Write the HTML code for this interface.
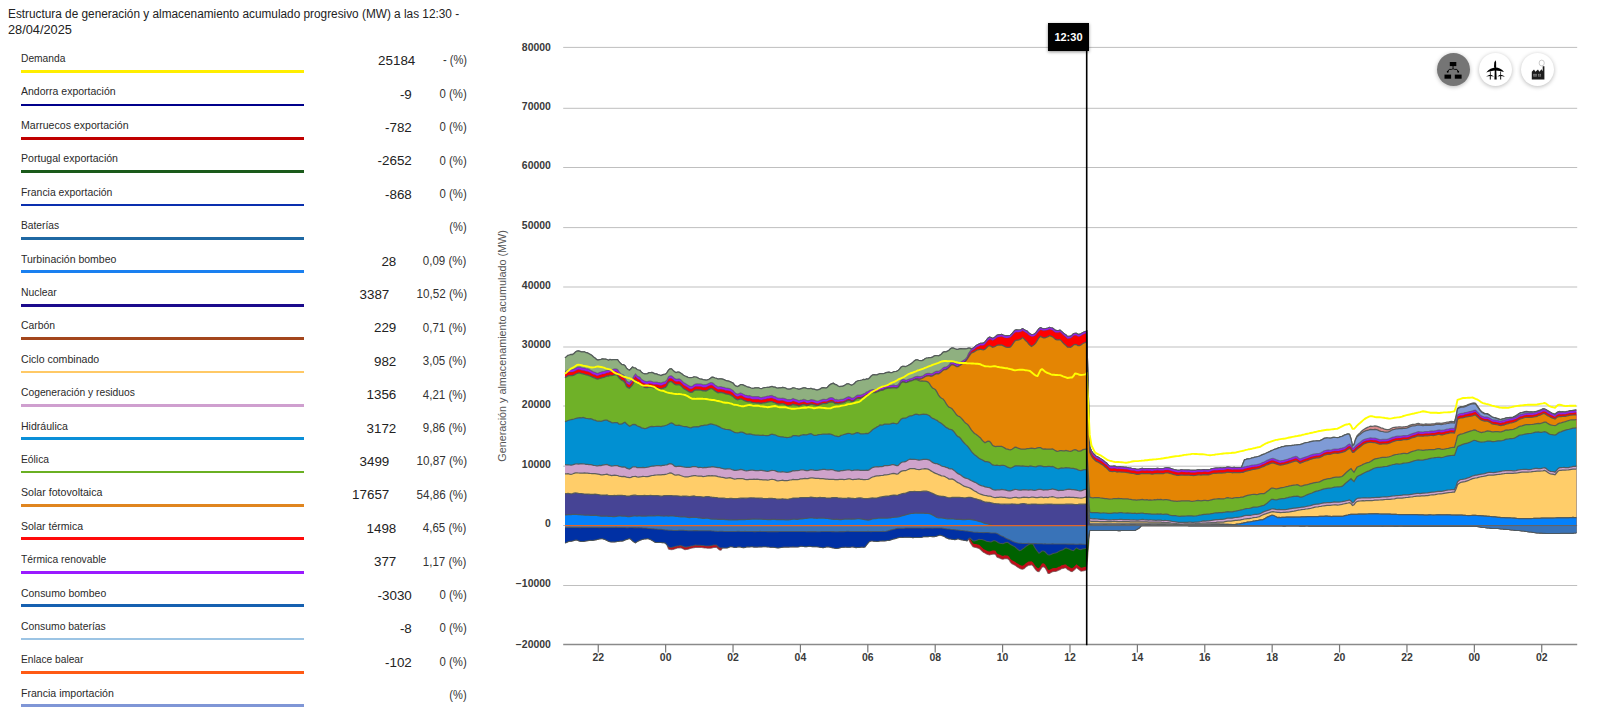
<!DOCTYPE html>
<html lang="es"><head><meta charset="utf-8"><title>Estructura de generación</title>
<style>
html,body{margin:0;padding:0;background:#fff}
body{width:1600px;height:713px;position:relative;overflow:hidden;font-family:"Liberation Sans",sans-serif;color:#222}
.ttl{position:absolute;left:9px;top:5.5px;font-size:12px;line-height:16.8px;color:#222;white-space:nowrap;transform-origin:0 0;transform:scaleX(.955)}
.lb{position:absolute;left:20.6px;font-size:10.6px;line-height:13px;color:#2a2a2a;white-space:nowrap;transform-origin:0 0;transform:scaleX(.945)}
.ul{position:absolute;left:20.6px;width:283.8px;height:2.8px}
.vl{position:absolute;font-size:13.4px;line-height:15px;color:#222;white-space:nowrap}
.pc{position:absolute;right:1133.4px;font-size:12px;line-height:14px;color:#333;white-space:nowrap;transform-origin:100% 0;transform:scaleX(.96)}
svg{position:absolute;left:0;top:0}
.ax{font-family:"Liberation Sans",sans-serif;font-size:10px;font-weight:bold;fill:#3a3a3a}
.yt{font-family:"Liberation Sans",sans-serif;font-size:10.6px;fill:#555}
.tip{position:absolute;left:1047.8px;top:23.2px;width:41.3px;height:27.4px;background:#000;color:#fff;font-weight:bold;font-size:11px;line-height:29px;text-align:center;box-shadow:0 1px 3px rgba(0,0,0,.45)}
.btn{position:absolute;top:52.8px;width:33.3px;height:33.3px;border-radius:50%;background:#fff;box-shadow:0 1px 4px rgba(0,0,0,.28)}
.btn.on{background:#757575}
</style></head><body>
<div class="ttl" style="left:8.3px;transform:scaleX(.9845)">Estructura de generación y almacenamiento acumulado progresivo (MW) a las 12:30 -</div>
<div class="ttl" style="left:8.4px;top:22.3px;transform:scaleX(1.064)">28/04/2025</div>
<div class="lb" style="top:52.0px;transform:scaleX(0.9666)">Demanda</div>
<div class="ul" style="top:70.2px;background:#ffee00"></div>
<div class="vl" style="top:53.1px;right:1184.7px">25184</div>
<div class="pc" style="top:53.4px;transform:scaleX(0.9272)">- (%)</div>
<div class="lb" style="top:85.4px;transform:scaleX(0.9916)">Andorra exportación</div>
<div class="ul" style="top:103.6px;background:#00008b"></div>
<div class="vl" style="top:86.5px;right:1188.2px">-9</div>
<div class="pc" style="top:86.8px;transform:scaleX(0.9487)">0 (%)</div>
<div class="lb" style="top:118.8px;transform:scaleX(0.9977)">Marruecos exportación</div>
<div class="ul" style="top:136.9px;background:#c00000"></div>
<div class="vl" style="top:119.9px;right:1188.2px">-782</div>
<div class="pc" style="top:120.2px;transform:scaleX(0.9487)">0 (%)</div>
<div class="lb" style="top:152.2px;transform:scaleX(0.9983)">Portugal exportación</div>
<div class="ul" style="top:170.3px;background:#1a5a1a"></div>
<div class="vl" style="top:153.3px;right:1188.2px">-2652</div>
<div class="pc" style="top:153.6px;transform:scaleX(0.9487)">0 (%)</div>
<div class="lb" style="top:185.6px;transform:scaleX(0.9813)">Francia exportación</div>
<div class="ul" style="top:203.7px;background:#0a2fae"></div>
<div class="vl" style="top:186.7px;right:1188.2px">-868</div>
<div class="pc" style="top:187.0px;transform:scaleX(0.9487)">0 (%)</div>
<div class="lb" style="top:219.0px;transform:scaleX(0.9657)">Baterías</div>
<div class="ul" style="top:237.1px;background:#1f68a3"></div>
<div class="pc" style="top:220.4px;transform:scaleX(0.9270)">(%)</div>
<div class="lb" style="top:252.5px;transform:scaleX(0.9918)">Turbinación bombeo</div>
<div class="ul" style="top:270.4px;background:#1a80f0"></div>
<div class="vl" style="top:253.6px;right:1203.7px">28</div>
<div class="pc" style="top:253.9px;transform:scaleX(0.9592)">0,09 (%)</div>
<div class="lb" style="top:285.9px;transform:scaleX(0.9807)">Nuclear</div>
<div class="ul" style="top:303.8px;background:#1b0a8c"></div>
<div class="vl" style="top:287.0px;right:1210.7px">3387</div>
<div class="pc" style="top:287.3px;transform:scaleX(0.9707)">10,52 (%)</div>
<div class="lb" style="top:319.3px;transform:scaleX(0.9814)">Carbón</div>
<div class="ul" style="top:337.2px;background:#a3461c"></div>
<div class="vl" style="top:320.4px;right:1203.7px">229</div>
<div class="pc" style="top:320.7px;transform:scaleX(0.9592)">0,71 (%)</div>
<div class="lb" style="top:352.7px;transform:scaleX(0.9985)">Ciclo combinado</div>
<div class="ul" style="top:370.5px;background:#ffc966"></div>
<div class="vl" style="top:353.8px;right:1203.7px">982</div>
<div class="pc" style="top:354.1px;transform:scaleX(0.9592)">3,05 (%)</div>
<div class="lb" style="top:386.1px;transform:scaleX(0.9719)">Cogeneración y residuos</div>
<div class="ul" style="top:403.9px;background:#cf9fcf"></div>
<div class="vl" style="top:387.2px;right:1203.7px">1356</div>
<div class="pc" style="top:387.5px;transform:scaleX(0.9592)">4,21 (%)</div>
<div class="lb" style="top:419.5px;transform:scaleX(0.9957)">Hidráulica</div>
<div class="ul" style="top:437.3px;background:#0a8fd8"></div>
<div class="vl" style="top:420.6px;right:1203.7px">3172</div>
<div class="pc" style="top:420.9px;transform:scaleX(0.9592)">9,86 (%)</div>
<div class="lb" style="top:452.9px;transform:scaleX(0.9704)">Eólica</div>
<div class="ul" style="top:470.6px;background:#6ab023"></div>
<div class="vl" style="top:454.0px;right:1210.7px">3499</div>
<div class="pc" style="top:454.3px;transform:scaleX(0.9707)">10,87 (%)</div>
<div class="lb" style="top:486.3px;transform:scaleX(1.0017)">Solar fotovoltaica</div>
<div class="ul" style="top:504.0px;background:#e0851f"></div>
<div class="vl" style="top:487.4px;right:1210.7px">17657</div>
<div class="pc" style="top:487.7px;transform:scaleX(0.9707)">54,86 (%)</div>
<div class="lb" style="top:519.7px;transform:scaleX(0.9935)">Solar térmica</div>
<div class="ul" style="top:537.4px;background:#ff0a0a"></div>
<div class="vl" style="top:520.8px;right:1203.7px">1498</div>
<div class="pc" style="top:521.1px;transform:scaleX(0.9592)">4,65 (%)</div>
<div class="lb" style="top:553.1px;transform:scaleX(0.9712)">Térmica renovable</div>
<div class="ul" style="top:570.8px;background:#9a1aff"></div>
<div class="vl" style="top:554.2px;right:1203.7px">377</div>
<div class="pc" style="top:554.5px;transform:scaleX(0.9592)">1,17 (%)</div>
<div class="lb" style="top:586.6px;transform:scaleX(0.9842)">Consumo bombeo</div>
<div class="ul" style="top:604.1px;background:#1660b0"></div>
<div class="vl" style="top:587.7px;right:1188.2px">-3030</div>
<div class="pc" style="top:588.0px;transform:scaleX(0.9487)">0 (%)</div>
<div class="lb" style="top:620.0px;transform:scaleX(0.9797)">Consumo baterías</div>
<div class="ul" style="top:637.5px;background:#9cc4e4"></div>
<div class="vl" style="top:621.1px;right:1188.2px">-8</div>
<div class="pc" style="top:621.4px;transform:scaleX(0.9487)">0 (%)</div>
<div class="lb" style="top:653.4px;transform:scaleX(0.9632)">Enlace balear</div>
<div class="ul" style="top:670.9px;background:#ff5a14"></div>
<div class="vl" style="top:654.5px;right:1188.2px">-102</div>
<div class="pc" style="top:654.8px;transform:scaleX(0.9487)">0 (%)</div>
<div class="lb" style="top:686.8px;transform:scaleX(0.9976)">Francia importación</div>
<div class="ul" style="top:704.2px;background:#7f96d6"></div>
<div class="pc" style="top:688.2px;transform:scaleX(0.9270)">(%)</div>
<svg width="1600" height="713" viewBox="0 0 1600 713">
<line x1="563.2" x2="1577.2" y1="47.40" y2="47.40" stroke="#bfbfbf" stroke-width="1"/>
<line x1="563.2" x2="1577.2" y1="108.30" y2="108.30" stroke="#bfbfbf" stroke-width="1"/>
<line x1="563.2" x2="1577.2" y1="167.50" y2="167.50" stroke="#bfbfbf" stroke-width="1"/>
<line x1="563.2" x2="1577.2" y1="227.60" y2="227.60" stroke="#bfbfbf" stroke-width="1"/>
<line x1="563.2" x2="1577.2" y1="287.00" y2="287.00" stroke="#bfbfbf" stroke-width="1"/>
<line x1="563.2" x2="1577.2" y1="347.00" y2="347.00" stroke="#bfbfbf" stroke-width="1"/>
<line x1="563.2" x2="1577.2" y1="406.00" y2="406.00" stroke="#bfbfbf" stroke-width="1"/>
<line x1="563.2" x2="1577.2" y1="466.20" y2="466.20" stroke="#bfbfbf" stroke-width="1"/>
<line x1="563.2" x2="1577.2" y1="525.50" y2="525.50" stroke="#bfbfbf" stroke-width="1"/>
<line x1="563.2" x2="1577.2" y1="585.50" y2="585.50" stroke="#bfbfbf" stroke-width="1"/>
<path d="M565.0 525.6L565.0 357.9L566.5 356.6L568.0 355.3L569.5 355.0L571.0 354.5L572.5 354.6L574.0 353.4L575.5 352.1L577.0 351.1L578.5 351.0L580.0 351.4L581.5 351.9L583.0 351.8L584.5 351.8L586.0 352.7L587.5 352.9L589.0 353.7L590.5 354.6L592.0 355.6L593.5 357.0L595.0 358.0L596.5 359.4L598.0 360.1L599.5 359.6L601.0 359.3L602.5 358.8L604.0 359.1L605.5 359.2L607.0 359.5L608.5 360.2L610.0 359.5L611.5 359.9L613.0 359.7L614.5 359.5L616.0 359.5L617.5 359.7L619.0 361.6L620.5 363.3L622.0 364.6L623.5 364.7L625.0 365.6L626.5 368.1L628.0 369.5L629.5 370.3L631.0 368.7L632.5 367.1L634.0 367.8L635.5 368.0L637.0 369.5L638.5 370.0L640.0 370.3L641.5 372.4L643.0 373.3L644.5 373.8L646.0 373.9L647.5 373.6L649.0 372.7L650.5 372.6L652.0 372.5L653.5 373.1L655.0 373.8L656.5 373.9L658.0 374.6L659.5 375.0L661.0 375.6L662.5 374.9L664.0 374.3L665.5 374.1L667.0 372.6L668.5 370.1L670.0 368.9L671.5 368.9L673.0 370.4L674.5 371.8L676.0 372.5L677.5 372.2L679.0 372.2L680.5 373.0L682.0 374.1L683.5 375.3L685.0 376.0L686.5 376.6L688.0 377.3L689.5 377.6L691.0 377.6L692.5 377.5L694.0 376.9L695.5 377.0L697.0 377.4L698.5 378.2L700.0 379.0L701.5 379.2L703.0 379.7L704.5 379.8L706.0 380.2L707.5 379.9L709.0 379.2L710.5 378.2L712.0 377.2L713.5 377.4L715.0 378.0L716.5 378.3L718.0 379.1L719.5 378.8L721.0 378.8L722.5 379.2L724.0 379.7L725.5 380.4L727.0 380.8L728.5 381.2L730.0 381.6L731.5 382.4L733.0 383.1L734.5 385.0L736.0 386.2L737.5 386.6L739.0 385.9L740.5 384.6L742.0 384.7L743.5 385.2L745.0 385.8L746.5 386.5L748.0 387.2L749.5 387.3L751.0 388.0L752.5 388.3L754.0 388.2L755.5 387.8L757.0 387.8L758.5 387.8L760.0 388.5L761.5 388.7L763.0 388.0L764.5 387.7L766.0 387.5L767.5 387.3L769.0 387.3L770.5 386.9L772.0 386.5L773.5 387.1L775.0 387.2L776.5 387.9L778.0 388.0L779.5 387.8L781.0 387.8L782.5 387.5L784.0 387.7L785.5 388.0L787.0 388.9L788.5 389.2L790.0 389.1L791.5 388.6L793.0 387.8L794.5 388.0L796.0 388.5L797.5 388.8L799.0 389.4L800.5 388.8L802.0 388.3L803.5 387.8L805.0 387.8L806.5 388.3L808.0 388.5L809.5 388.5L811.0 388.3L812.5 389.1L814.0 389.2L815.5 389.7L817.0 390.1L818.5 389.7L820.0 389.1L821.5 388.1L823.0 387.6L824.5 387.8L826.0 388.0L827.5 387.2L829.0 385.5L830.5 384.4L832.0 383.7L833.5 383.3L835.0 384.4L836.5 384.8L838.0 386.0L839.5 386.5L841.0 386.3L842.5 386.3L844.0 385.7L845.5 384.7L847.0 383.8L848.5 383.8L850.0 384.5L851.5 385.3L853.0 384.5L854.5 383.5L856.0 381.8L857.5 381.0L859.0 380.5L860.5 380.3L862.0 380.0L863.5 379.5L865.0 379.7L866.5 378.9L868.0 379.1L869.5 378.0L871.0 376.3L872.5 375.0L874.0 374.7L875.5 374.9L877.0 374.8L878.5 374.2L880.0 373.5L881.5 373.5L883.0 373.6L884.5 373.3L886.0 372.6L887.5 372.3L889.0 372.2L890.5 372.6L892.0 372.7L893.5 371.8L895.0 371.5L896.5 371.3L898.0 370.6L899.5 369.2L901.0 367.3L902.5 366.3L904.0 366.3L905.5 366.5L907.0 366.0L908.5 365.2L910.0 364.4L911.5 363.5L913.0 362.1L914.5 360.8L916.0 359.9L917.5 359.8L919.0 360.5L920.5 360.7L922.0 360.6L923.5 359.9L925.0 358.8L926.5 358.0L928.0 357.9L929.5 357.6L931.0 357.7L932.5 357.2L934.0 356.1L935.5 355.5L937.0 355.5L938.5 355.8L940.0 355.2L941.5 354.0L943.0 352.3L944.5 351.7L946.0 351.8L947.5 351.2L949.0 350.3L950.5 348.8L952.0 348.0L953.5 348.1L955.0 348.8L956.5 349.4L958.0 349.3L959.5 348.9L961.0 348.6L962.5 348.8L964.0 348.8L965.5 348.9L967.0 348.6L968.5 348.2L970.0 348.2L971.5 349.2L973.0 348.2L974.5 347.2L976.0 345.7L977.5 344.7L979.0 344.2L980.5 343.3L982.0 343.4L983.5 343.2L985.0 342.1L986.5 340.1L988.0 338.3L989.5 337.3L991.0 337.7L992.5 338.5L994.0 337.7L995.5 336.7L997.0 335.3L998.5 334.8L1000.0 334.9L1001.5 334.5L1003.0 335.1L1004.5 335.6L1006.0 335.9L1007.5 335.9L1009.0 335.7L1010.5 335.3L1012.0 333.8L1013.5 331.9L1015.0 330.3L1016.5 329.9L1018.0 330.1L1019.5 330.0L1021.0 329.8L1022.5 328.7L1024.0 329.5L1025.5 330.5L1027.0 331.1L1028.5 332.7L1030.0 333.8L1031.5 334.7L1033.0 334.5L1034.5 334.0L1036.0 332.7L1037.5 330.7L1039.0 328.8L1040.5 327.7L1042.0 328.4L1043.5 328.8L1045.0 328.7L1046.5 328.4L1048.0 328.0L1049.5 327.3L1051.0 327.8L1052.5 328.2L1054.0 329.2L1055.5 330.4L1057.0 330.7L1058.5 330.7L1060.0 330.3L1061.5 331.4L1063.0 332.8L1064.5 333.9L1066.0 334.9L1067.5 336.6L1069.0 336.3L1070.5 336.3L1072.0 335.2L1073.5 333.7L1075.0 333.3L1076.5 333.4L1078.0 334.4L1079.5 334.4L1081.0 333.7L1082.5 332.7L1084.0 332.0L1085.5 331.6L1086.7 331.1L1089.7 447.0L1091.5 451.0L1093.0 453.3L1094.5 454.8L1096.0 456.3L1097.5 456.9L1099.0 457.7L1100.5 458.7L1102.0 459.6L1103.5 460.7L1105.0 462.0L1106.5 463.1L1108.0 464.6L1109.5 466.1L1111.0 466.3L1112.5 466.3L1114.0 466.2L1115.5 466.4L1117.0 467.0L1118.5 466.8L1120.0 466.9L1121.5 467.0L1123.0 467.1L1124.5 467.3L1126.0 467.3L1127.5 467.6L1129.0 468.0L1130.5 468.2L1132.0 468.5L1133.5 468.6L1135.0 468.9L1136.5 469.3L1138.0 469.3L1139.5 469.1L1141.0 468.7L1142.5 468.4L1144.0 468.8L1145.5 468.7L1147.0 468.6L1148.5 468.7L1150.0 468.6L1151.5 468.9L1153.0 468.9L1154.5 468.6L1156.0 468.6L1157.5 468.3L1159.0 468.6L1160.5 468.6L1162.0 468.6L1163.5 468.6L1165.0 468.0L1166.5 467.9L1168.0 467.9L1169.5 468.2L1171.0 468.7L1172.5 469.2L1174.0 469.5L1175.5 469.9L1177.0 470.2L1178.5 470.4L1180.0 470.2L1181.5 469.8L1183.0 470.0L1184.5 470.1L1186.0 470.1L1187.5 470.2L1189.0 470.1L1190.5 470.3L1192.0 470.4L1193.5 470.4L1195.0 470.4L1196.5 470.2L1198.0 469.9L1199.5 469.9L1201.0 470.0L1202.5 469.8L1204.0 469.7L1205.5 469.8L1207.0 469.9L1208.5 469.9L1210.0 469.5L1211.5 468.9L1213.0 468.5L1214.5 468.3L1216.0 468.2L1217.5 468.2L1219.0 468.0L1220.5 467.9L1222.0 468.0L1223.5 467.9L1225.0 467.9L1226.5 467.3L1228.0 467.1L1229.5 467.3L1231.0 467.5L1232.5 467.8L1234.0 467.5L1235.5 467.7L1237.0 467.6L1238.5 467.6L1240.0 467.6L1241.5 467.4L1243.0 463.4L1244.5 459.8L1246.0 459.4L1247.5 458.9L1249.0 458.8L1250.5 458.5L1252.0 457.9L1253.5 457.6L1255.0 457.2L1256.5 456.9L1258.0 456.5L1259.5 456.1L1261.0 455.3L1262.5 454.7L1264.0 454.2L1265.5 453.5L1267.0 452.7L1268.5 452.1L1270.0 451.4L1271.5 450.6L1273.0 450.0L1274.5 449.3L1276.0 448.9L1277.5 448.3L1279.0 447.7L1280.5 447.3L1282.0 446.7L1283.5 446.6L1285.0 446.2L1286.5 445.9L1288.0 445.8L1289.5 445.5L1291.0 445.5L1292.5 445.3L1294.0 445.2L1295.5 445.0L1297.0 444.8L1298.5 444.7L1300.0 444.6L1301.5 444.2L1303.0 443.6L1304.5 443.0L1306.0 442.6L1307.5 442.5L1309.0 442.1L1310.5 441.6L1312.0 441.3L1313.5 441.1L1315.0 441.0L1316.5 440.9L1318.0 440.9L1319.5 440.8L1321.0 440.2L1322.5 439.4L1324.0 438.4L1325.5 438.1L1327.0 437.9L1328.5 438.0L1330.0 438.2L1331.5 437.9L1333.0 437.4L1334.5 437.3L1336.0 437.5L1337.5 437.7L1339.0 437.3L1340.5 436.6L1342.0 436.3L1343.5 435.6L1345.0 434.8L1346.5 434.3L1348.0 434.0L1349.5 434.2L1351.0 438.7L1352.5 445.8L1354.0 444.4L1355.5 439.2L1357.0 435.9L1358.5 434.3L1360.0 433.0L1361.5 431.3L1363.0 430.0L1364.5 429.0L1366.0 428.1L1367.5 427.4L1369.0 426.8L1370.5 426.1L1372.0 426.3L1373.5 426.2L1375.0 425.9L1376.5 426.1L1378.0 426.6L1379.5 427.2L1381.0 427.8L1382.5 428.2L1384.0 428.9L1385.5 429.3L1387.0 429.7L1388.5 429.6L1390.0 429.1L1391.5 428.2L1393.0 427.5L1394.5 427.3L1396.0 427.1L1397.5 427.0L1399.0 426.8L1400.5 426.9L1402.0 427.0L1403.5 426.8L1405.0 426.7L1406.5 426.5L1408.0 426.1L1409.5 425.4L1411.0 424.8L1412.5 424.4L1414.0 424.3L1415.5 424.2L1417.0 423.7L1418.5 423.5L1420.0 423.9L1421.5 424.1L1423.0 424.4L1424.5 424.2L1426.0 423.9L1427.5 424.0L1429.0 424.0L1430.5 424.0L1432.0 423.9L1433.5 423.8L1435.0 423.5L1436.5 423.1L1438.0 423.0L1439.5 423.0L1441.0 423.4L1442.5 423.1L1444.0 422.8L1445.5 422.5L1447.0 422.2L1448.5 422.1L1450.0 421.6L1451.5 421.4L1453.0 421.5L1454.5 421.7L1456.0 416.5L1457.5 408.3L1459.0 407.3L1460.5 406.7L1462.0 406.5L1463.5 406.4L1465.0 405.8L1466.5 405.3L1468.0 404.6L1469.5 404.0L1471.0 403.5L1472.5 403.2L1474.0 403.0L1475.5 403.3L1477.0 405.4L1478.5 407.5L1480.0 409.9L1481.5 411.4L1483.0 412.4L1484.5 413.3L1486.0 413.5L1487.5 413.7L1489.0 414.6L1490.5 415.7L1492.0 416.8L1493.5 417.4L1495.0 417.7L1496.5 418.1L1498.0 418.6L1499.5 419.2L1501.0 419.3L1502.5 418.8L1504.0 418.7L1505.5 418.0L1507.0 417.7L1508.5 417.7L1510.0 417.4L1511.5 417.4L1513.0 417.0L1514.5 416.4L1516.0 415.6L1517.5 414.6L1519.0 413.5L1520.5 412.7L1522.0 412.5L1523.5 412.0L1525.0 411.6L1526.5 411.5L1528.0 411.6L1529.5 411.8L1531.0 411.7L1532.5 411.8L1534.0 411.7L1535.5 411.5L1537.0 411.2L1538.5 410.5L1540.0 410.2L1541.5 409.5L1543.0 408.7L1544.5 408.8L1546.0 409.5L1547.5 410.6L1549.0 411.4L1550.5 412.3L1552.0 413.0L1553.5 413.6L1555.0 414.2L1556.5 412.8L1558.0 411.9L1559.5 411.5L1561.0 411.8L1562.5 411.7L1564.0 411.8L1565.5 411.8L1567.0 411.4L1568.5 411.1L1570.0 410.6L1571.5 410.5L1573.0 410.3L1574.5 410.1L1576.0 409.9L1576.3 410.0L1576.3 525.6Z" fill="#d98a8a"/>
<path d="M565.0 357.9L566.5 356.6L568.0 355.3L569.5 355.0L571.0 354.5L572.5 354.6L574.0 353.4L575.5 352.1L577.0 351.1L578.5 351.0L580.0 351.4L581.5 351.9L583.0 351.8L584.5 351.8L586.0 352.7L587.5 352.9L589.0 353.7L590.5 354.6L592.0 355.6L593.5 357.0L595.0 358.0L596.5 359.4L598.0 360.1L599.5 359.6L601.0 359.3L602.5 358.8L604.0 359.1L605.5 359.2L607.0 359.5L608.5 360.2L610.0 359.5L611.5 359.9L613.0 359.7L614.5 359.5L616.0 359.5L617.5 359.7L619.0 361.6L620.5 363.3L622.0 364.6L623.5 364.7L625.0 365.6L626.5 368.1L628.0 369.5L629.5 370.3L631.0 368.7L632.5 367.1L634.0 367.8L635.5 368.0L637.0 369.5L638.5 370.0L640.0 370.3L641.5 372.4L643.0 373.3L644.5 373.8L646.0 373.9L647.5 373.6L649.0 372.7L650.5 372.6L652.0 372.5L653.5 373.1L655.0 373.8L656.5 373.9L658.0 374.6L659.5 375.0L661.0 375.6L662.5 374.9L664.0 374.3L665.5 374.1L667.0 372.6L668.5 370.1L670.0 368.9L671.5 368.9L673.0 370.4L674.5 371.8L676.0 372.5L677.5 372.2L679.0 372.2L680.5 373.0L682.0 374.1L683.5 375.3L685.0 376.0L686.5 376.6L688.0 377.3L689.5 377.6L691.0 377.6L692.5 377.5L694.0 376.9L695.5 377.0L697.0 377.4L698.5 378.2L700.0 379.0L701.5 379.2L703.0 379.7L704.5 379.8L706.0 380.2L707.5 379.9L709.0 379.2L710.5 378.2L712.0 377.2L713.5 377.4L715.0 378.0L716.5 378.3L718.0 379.1L719.5 378.8L721.0 378.8L722.5 379.2L724.0 379.7L725.5 380.4L727.0 380.8L728.5 381.2L730.0 381.6L731.5 382.4L733.0 383.1L734.5 385.0L736.0 386.2L737.5 386.6L739.0 385.9L740.5 384.6L742.0 384.7L743.5 385.2L745.0 385.8L746.5 386.5L748.0 387.2L749.5 387.3L751.0 388.0L752.5 388.3L754.0 388.2L755.5 387.8L757.0 387.8L758.5 387.8L760.0 388.5L761.5 388.7L763.0 388.0L764.5 387.7L766.0 387.5L767.5 387.3L769.0 387.3L770.5 386.9L772.0 386.5L773.5 387.1L775.0 387.2L776.5 387.9L778.0 388.0L779.5 387.8L781.0 387.8L782.5 387.5L784.0 387.7L785.5 388.0L787.0 388.9L788.5 389.2L790.0 389.1L791.5 388.6L793.0 387.8L794.5 388.0L796.0 388.5L797.5 388.8L799.0 389.4L800.5 388.8L802.0 388.3L803.5 387.8L805.0 387.8L806.5 388.3L808.0 388.5L809.5 388.5L811.0 388.3L812.5 389.1L814.0 389.2L815.5 389.7L817.0 390.1L818.5 389.7L820.0 389.1L821.5 388.1L823.0 387.6L824.5 387.8L826.0 388.0L827.5 387.2L829.0 385.5L830.5 384.4L832.0 383.7L833.5 383.3L835.0 384.4L836.5 384.8L838.0 386.0L839.5 386.5L841.0 386.3L842.5 386.3L844.0 385.7L845.5 384.7L847.0 383.8L848.5 383.8L850.0 384.5L851.5 385.3L853.0 384.5L854.5 383.5L856.0 381.8L857.5 381.0L859.0 380.5L860.5 380.3L862.0 380.0L863.5 379.5L865.0 379.7L866.5 378.9L868.0 379.1L869.5 378.0L871.0 376.3L872.5 375.0L874.0 374.7L875.5 374.9L877.0 374.8L878.5 374.2L880.0 373.5L881.5 373.5L883.0 373.6L884.5 373.3L886.0 372.6L887.5 372.3L889.0 372.2L890.5 372.6L892.0 372.7L893.5 371.8L895.0 371.5L896.5 371.3L898.0 370.6L899.5 369.2L901.0 367.3L902.5 366.3L904.0 366.3L905.5 366.5L907.0 366.0L908.5 365.2L910.0 364.4L911.5 363.5L913.0 362.1L914.5 360.8L916.0 359.9L917.5 359.8L919.0 360.5L920.5 360.7L922.0 360.6L923.5 359.9L925.0 358.8L926.5 358.0L928.0 357.9L929.5 357.6L931.0 357.7L932.5 357.2L934.0 356.1L935.5 355.5L937.0 355.5L938.5 355.8L940.0 355.2L941.5 354.0L943.0 352.3L944.5 351.7L946.0 351.8L947.5 351.2L949.0 350.3L950.5 348.8L952.0 348.0L953.5 348.1L955.0 348.8L956.5 349.4L958.0 349.3L959.5 348.9L961.0 348.6L962.5 348.8L964.0 348.8L965.5 348.9L967.0 348.6L968.5 348.2L970.0 348.2L971.5 349.2L973.0 348.2L974.5 347.2L976.0 345.7L977.5 344.7L979.0 344.2L980.5 343.3L982.0 343.4L983.5 343.2L985.0 342.1L986.5 340.1L988.0 338.3L989.5 337.3L991.0 337.7L992.5 338.5L994.0 337.7L995.5 336.7L997.0 335.3L998.5 334.8L1000.0 334.9L1001.5 334.5L1003.0 335.1L1004.5 335.6L1006.0 335.9L1007.5 335.9L1009.0 335.7L1010.5 335.3L1012.0 333.8L1013.5 331.9L1015.0 330.3L1016.5 329.9L1018.0 330.1L1019.5 330.0L1021.0 329.8L1022.5 328.7L1024.0 329.5L1025.5 330.5L1027.0 331.1L1028.5 332.7L1030.0 333.8L1031.5 334.7L1033.0 334.5L1034.5 334.0L1036.0 332.7L1037.5 330.7L1039.0 328.8L1040.5 327.7L1042.0 328.4L1043.5 328.8L1045.0 328.7L1046.5 328.4L1048.0 328.0L1049.5 327.3L1051.0 327.8L1052.5 328.2L1054.0 329.2L1055.5 330.4L1057.0 330.7L1058.5 330.7L1060.0 330.3L1061.5 331.4L1063.0 332.8L1064.5 333.9L1066.0 334.9L1067.5 336.6L1069.0 336.3L1070.5 336.3L1072.0 335.2L1073.5 333.7L1075.0 333.3L1076.5 333.4L1078.0 334.4L1079.5 334.4L1081.0 333.7L1082.5 332.7L1084.0 332.0L1085.5 331.6L1086.7 331.1L1089.7 447.0L1091.5 451.0L1093.0 453.3L1094.5 454.8L1096.0 456.3L1097.5 456.9L1099.0 457.7L1100.5 458.7L1102.0 459.6L1103.5 460.7L1105.0 462.0L1106.5 463.1L1108.0 464.6L1109.5 466.1L1111.0 466.3L1112.5 466.3L1114.0 466.2L1115.5 466.4L1117.0 467.0L1118.5 466.8L1120.0 466.9L1121.5 467.0L1123.0 467.1L1124.5 467.3L1126.0 467.3L1127.5 467.6L1129.0 468.0L1130.5 468.2L1132.0 468.5L1133.5 468.6L1135.0 468.9L1136.5 469.3L1138.0 469.3L1139.5 469.1L1141.0 468.7L1142.5 468.4L1144.0 468.8L1145.5 468.7L1147.0 468.6L1148.5 468.7L1150.0 468.6L1151.5 468.9L1153.0 468.9L1154.5 468.6L1156.0 468.6L1157.5 468.3L1159.0 468.6L1160.5 468.6L1162.0 468.6L1163.5 468.6L1165.0 468.0L1166.5 467.9L1168.0 467.9L1169.5 468.2L1171.0 468.7L1172.5 469.2L1174.0 469.5L1175.5 469.9L1177.0 470.2L1178.5 470.4L1180.0 470.2L1181.5 469.8L1183.0 470.0L1184.5 470.1L1186.0 470.1L1187.5 470.2L1189.0 470.1L1190.5 470.3L1192.0 470.4L1193.5 470.4L1195.0 470.4L1196.5 470.2L1198.0 469.9L1199.5 469.9L1201.0 470.0L1202.5 469.8L1204.0 469.7L1205.5 469.8L1207.0 469.9L1208.5 469.9L1210.0 469.5L1211.5 468.9L1213.0 468.5L1214.5 468.3L1216.0 468.2L1217.5 468.2L1219.0 468.0L1220.5 467.9L1222.0 468.0L1223.5 467.9L1225.0 467.9L1226.5 467.3L1228.0 467.1L1229.5 467.3L1231.0 467.5L1232.5 467.8L1234.0 467.5L1235.5 467.7L1237.0 467.6L1238.5 467.6L1240.0 467.6L1241.5 467.4L1243.0 463.4L1244.5 459.8L1246.0 459.4L1247.5 458.9L1249.0 458.8L1250.5 458.5L1252.0 457.9L1253.5 457.6L1255.0 457.2L1256.5 456.9L1258.0 456.5L1259.5 456.1L1261.0 455.3L1262.5 454.7L1264.0 454.2L1265.5 453.5L1267.0 452.7L1268.5 452.1L1270.0 451.4L1271.5 450.6L1273.0 450.0L1274.5 449.3L1276.0 448.9L1277.5 448.3L1279.0 447.7L1280.5 447.3L1282.0 446.7L1283.5 446.6L1285.0 446.2L1286.5 445.9L1288.0 445.8L1289.5 445.5L1291.0 445.5L1292.5 445.3L1294.0 445.2L1295.5 445.0L1297.0 444.8L1298.5 444.7L1300.0 444.6L1301.5 444.2L1303.0 443.6L1304.5 443.0L1306.0 442.6L1307.5 442.5L1309.0 442.1L1310.5 441.6L1312.0 441.3L1313.5 441.1L1315.0 441.0L1316.5 440.9L1318.0 440.9L1319.5 440.8L1321.0 440.2L1322.5 439.4L1324.0 438.4L1325.5 438.1L1327.0 437.9L1328.5 438.0L1330.0 438.2L1331.5 437.9L1333.0 437.4L1334.5 437.3L1336.0 437.5L1337.5 437.7L1339.0 437.3L1340.5 436.6L1342.0 436.3L1343.5 435.6L1345.0 434.8L1346.5 434.3L1348.0 434.0L1349.5 434.2L1351.0 438.7L1352.5 445.8L1354.0 444.4L1355.5 439.2L1357.0 435.9L1358.5 434.3L1360.0 433.0L1361.5 431.3L1363.0 430.0L1364.5 429.0L1366.0 428.1L1367.5 427.4L1369.0 426.8L1370.5 426.1L1372.0 426.3L1373.5 426.2L1375.0 425.9L1376.5 426.1L1378.0 426.6L1379.5 427.2L1381.0 427.8L1382.5 428.2L1384.0 428.9L1385.5 429.3L1387.0 429.7L1388.5 429.6L1390.0 429.1L1391.5 428.2L1393.0 427.5L1394.5 427.3L1396.0 427.1L1397.5 427.0L1399.0 426.8L1400.5 426.9L1402.0 427.0L1403.5 426.8L1405.0 426.7L1406.5 426.5L1408.0 426.1L1409.5 425.4L1411.0 424.8L1412.5 424.4L1414.0 424.3L1415.5 424.2L1417.0 423.7L1418.5 423.5L1420.0 423.9L1421.5 424.1L1423.0 424.4L1424.5 424.2L1426.0 423.9L1427.5 424.0L1429.0 424.0L1430.5 424.0L1432.0 423.9L1433.5 423.8L1435.0 423.5L1436.5 423.1L1438.0 423.0L1439.5 423.0L1441.0 423.4L1442.5 423.1L1444.0 422.8L1445.5 422.5L1447.0 422.2L1448.5 422.1L1450.0 421.6L1451.5 421.4L1453.0 421.5L1454.5 421.7L1456.0 416.5L1457.5 408.3L1459.0 407.3L1460.5 406.7L1462.0 406.5L1463.5 406.4L1465.0 405.8L1466.5 405.3L1468.0 404.6L1469.5 404.0L1471.0 403.5L1472.5 403.2L1474.0 403.0L1475.5 403.3L1477.0 405.4L1478.5 407.5L1480.0 409.9L1481.5 411.4L1483.0 412.4L1484.5 413.3L1486.0 413.5L1487.5 413.7L1489.0 414.6L1490.5 415.7L1492.0 416.8L1493.5 417.4L1495.0 417.7L1496.5 418.1L1498.0 418.6L1499.5 419.2L1501.0 419.3L1502.5 418.8L1504.0 418.7L1505.5 418.0L1507.0 417.7L1508.5 417.7L1510.0 417.4L1511.5 417.4L1513.0 417.0L1514.5 416.4L1516.0 415.6L1517.5 414.6L1519.0 413.5L1520.5 412.7L1522.0 412.5L1523.5 412.0L1525.0 411.6L1526.5 411.5L1528.0 411.6L1529.5 411.8L1531.0 411.7L1532.5 411.8L1534.0 411.7L1535.5 411.5L1537.0 411.2L1538.5 410.5L1540.0 410.2L1541.5 409.5L1543.0 408.7L1544.5 408.8L1546.0 409.5L1547.5 410.6L1549.0 411.4L1550.5 412.3L1552.0 413.0L1553.5 413.6L1555.0 414.2L1556.5 412.8L1558.0 411.9L1559.5 411.5L1561.0 411.8L1562.5 411.7L1564.0 411.8L1565.5 411.8L1567.0 411.4L1568.5 411.1L1570.0 410.6L1571.5 410.5L1573.0 410.3L1574.5 410.1L1576.0 409.9L1576.3 410.0" fill="none" stroke="#505656" stroke-width="1.25" stroke-opacity="0.90"/>
<path d="M565.0 525.6L565.0 357.9L566.5 356.6L568.0 355.3L569.5 355.0L571.0 354.5L572.5 354.6L574.0 353.4L575.5 352.1L577.0 351.1L578.5 351.0L580.0 351.4L581.5 351.9L583.0 351.8L584.5 351.8L586.0 352.7L587.5 352.9L589.0 353.7L590.5 354.6L592.0 355.6L593.5 357.0L595.0 358.0L596.5 359.4L598.0 360.1L599.5 359.6L601.0 359.3L602.5 358.8L604.0 359.1L605.5 359.2L607.0 359.5L608.5 360.2L610.0 359.5L611.5 359.9L613.0 359.7L614.5 359.5L616.0 359.5L617.5 359.7L619.0 361.6L620.5 363.3L622.0 364.6L623.5 364.7L625.0 365.6L626.5 368.1L628.0 369.5L629.5 370.3L631.0 368.7L632.5 367.1L634.0 367.8L635.5 368.0L637.0 369.5L638.5 370.0L640.0 370.3L641.5 372.4L643.0 373.3L644.5 373.8L646.0 373.9L647.5 373.6L649.0 372.7L650.5 372.6L652.0 372.5L653.5 373.1L655.0 373.8L656.5 373.9L658.0 374.6L659.5 375.0L661.0 375.6L662.5 374.9L664.0 374.3L665.5 374.1L667.0 372.6L668.5 370.1L670.0 368.9L671.5 368.9L673.0 370.4L674.5 371.8L676.0 372.5L677.5 372.2L679.0 372.2L680.5 373.0L682.0 374.1L683.5 375.3L685.0 376.0L686.5 376.6L688.0 377.3L689.5 377.6L691.0 377.6L692.5 377.5L694.0 376.9L695.5 377.0L697.0 377.4L698.5 378.2L700.0 379.0L701.5 379.2L703.0 379.7L704.5 379.8L706.0 380.2L707.5 379.9L709.0 379.2L710.5 378.2L712.0 377.2L713.5 377.4L715.0 378.0L716.5 378.3L718.0 379.1L719.5 378.8L721.0 378.8L722.5 379.2L724.0 379.7L725.5 380.4L727.0 380.8L728.5 381.2L730.0 381.6L731.5 382.4L733.0 383.1L734.5 385.0L736.0 386.2L737.5 386.6L739.0 385.9L740.5 384.6L742.0 384.7L743.5 385.2L745.0 385.8L746.5 386.5L748.0 387.2L749.5 387.3L751.0 388.0L752.5 388.3L754.0 388.2L755.5 387.8L757.0 387.8L758.5 387.8L760.0 388.5L761.5 388.7L763.0 388.0L764.5 387.7L766.0 387.5L767.5 387.3L769.0 387.3L770.5 386.9L772.0 386.5L773.5 387.1L775.0 387.2L776.5 387.9L778.0 388.0L779.5 387.8L781.0 387.8L782.5 387.5L784.0 387.7L785.5 388.0L787.0 388.9L788.5 389.2L790.0 389.1L791.5 388.6L793.0 387.8L794.5 388.0L796.0 388.5L797.5 388.8L799.0 389.4L800.5 388.8L802.0 388.3L803.5 387.8L805.0 387.8L806.5 388.3L808.0 388.5L809.5 388.5L811.0 388.3L812.5 389.1L814.0 389.2L815.5 389.7L817.0 390.1L818.5 389.7L820.0 389.1L821.5 388.1L823.0 387.6L824.5 387.8L826.0 388.0L827.5 387.2L829.0 385.5L830.5 384.4L832.0 383.7L833.5 383.3L835.0 384.4L836.5 384.8L838.0 386.0L839.5 386.5L841.0 386.3L842.5 386.3L844.0 385.7L845.5 384.7L847.0 383.8L848.5 383.8L850.0 384.5L851.5 385.3L853.0 384.5L854.5 383.5L856.0 381.8L857.5 381.0L859.0 380.5L860.5 380.3L862.0 380.0L863.5 379.5L865.0 379.7L866.5 378.9L868.0 379.1L869.5 378.0L871.0 376.3L872.5 375.0L874.0 374.7L875.5 374.9L877.0 374.8L878.5 374.2L880.0 373.5L881.5 373.5L883.0 373.6L884.5 373.3L886.0 372.6L887.5 372.3L889.0 372.2L890.5 372.6L892.0 372.7L893.5 371.8L895.0 371.5L896.5 371.3L898.0 370.6L899.5 369.2L901.0 367.3L902.5 366.3L904.0 366.3L905.5 366.5L907.0 366.0L908.5 365.2L910.0 364.4L911.5 363.5L913.0 362.1L914.5 360.8L916.0 359.9L917.5 359.8L919.0 360.5L920.5 360.7L922.0 360.6L923.5 359.9L925.0 358.8L926.5 358.0L928.0 357.9L929.5 357.6L931.0 357.7L932.5 357.2L934.0 356.1L935.5 355.5L937.0 355.5L938.5 355.8L940.0 355.2L941.5 354.0L943.0 352.3L944.5 351.7L946.0 351.8L947.5 351.2L949.0 350.3L950.5 348.8L952.0 348.0L953.5 348.1L955.0 348.8L956.5 349.4L958.0 349.3L959.5 348.9L961.0 348.6L962.5 348.8L964.0 348.8L965.5 348.9L967.0 348.6L968.5 348.2L970.0 348.2L971.5 349.2L973.0 348.2L974.5 347.2L976.0 345.7L977.5 344.7L979.0 344.2L980.5 343.3L982.0 343.4L983.5 343.2L985.0 342.1L986.5 340.1L988.0 338.3L989.5 337.3L991.0 337.7L992.5 338.5L994.0 337.7L995.5 336.7L997.0 335.3L998.5 334.8L1000.0 334.9L1001.5 334.5L1003.0 335.1L1004.5 335.6L1006.0 335.9L1007.5 335.9L1009.0 335.7L1010.5 335.3L1012.0 333.8L1013.5 331.9L1015.0 330.3L1016.5 329.9L1018.0 330.1L1019.5 330.0L1021.0 329.8L1022.5 328.7L1024.0 329.5L1025.5 330.5L1027.0 331.1L1028.5 332.7L1030.0 333.8L1031.5 334.7L1033.0 334.5L1034.5 334.0L1036.0 332.7L1037.5 330.7L1039.0 328.8L1040.5 327.7L1042.0 328.4L1043.5 328.8L1045.0 328.7L1046.5 328.4L1048.0 328.0L1049.5 327.3L1051.0 327.8L1052.5 328.2L1054.0 329.2L1055.5 330.4L1057.0 330.7L1058.5 330.7L1060.0 330.3L1061.5 331.4L1063.0 332.8L1064.5 333.9L1066.0 334.9L1067.5 336.6L1069.0 336.3L1070.5 336.3L1072.0 335.2L1073.5 333.7L1075.0 333.3L1076.5 333.4L1078.0 334.4L1079.5 334.4L1081.0 333.7L1082.5 332.7L1084.0 332.0L1085.5 331.6L1086.7 331.1L1086.7 525.6Z" fill="#8fb080"/>
<path d="M1086.7 525.6L1086.7 331.1L1089.7 447.0L1091.5 451.0L1093.0 453.3L1094.5 454.8L1096.0 456.3L1097.5 456.9L1099.0 457.7L1100.5 458.7L1102.0 459.6L1103.5 460.7L1105.0 462.0L1106.5 463.1L1108.0 464.6L1109.5 466.1L1111.0 466.3L1112.5 466.3L1114.0 466.2L1115.5 466.4L1117.0 467.0L1118.5 466.8L1120.0 466.9L1121.5 467.0L1123.0 467.1L1124.5 467.3L1126.0 467.3L1127.5 467.6L1129.0 468.0L1130.5 468.2L1132.0 468.5L1133.5 468.6L1135.0 468.9L1136.5 469.3L1138.0 469.3L1139.5 469.1L1141.0 468.7L1142.5 468.4L1144.0 468.8L1145.5 468.7L1147.0 468.6L1148.5 468.7L1150.0 468.6L1151.5 468.9L1153.0 468.9L1154.5 468.6L1156.0 468.6L1157.5 468.3L1159.0 468.6L1160.5 468.6L1162.0 468.6L1163.5 468.6L1165.0 468.0L1166.5 467.9L1168.0 467.9L1169.5 468.2L1171.0 468.7L1172.5 469.2L1174.0 469.5L1175.5 469.9L1177.0 470.2L1178.5 470.4L1180.0 470.2L1181.5 469.8L1183.0 470.0L1184.5 470.1L1186.0 470.1L1187.5 470.2L1189.0 470.1L1190.5 470.3L1192.0 470.4L1193.5 470.4L1195.0 470.4L1196.5 470.2L1198.0 469.9L1199.5 469.9L1201.0 470.0L1202.5 469.8L1204.0 469.7L1205.5 469.8L1207.0 469.9L1208.5 469.9L1210.0 469.5L1211.5 468.9L1213.0 468.5L1214.5 468.3L1216.0 468.2L1217.5 468.2L1219.0 468.0L1220.5 467.9L1222.0 468.0L1223.5 467.9L1225.0 467.9L1226.5 467.3L1228.0 467.1L1229.5 467.3L1231.0 467.5L1232.5 467.8L1234.0 467.5L1235.5 467.7L1237.0 467.6L1238.5 467.6L1240.0 467.6L1241.5 467.4L1243.0 463.4L1244.5 459.8L1246.0 459.4L1247.5 458.9L1249.0 458.8L1250.5 458.5L1252.0 457.9L1253.5 457.6L1255.0 457.2L1256.5 456.9L1258.0 456.5L1259.5 456.1L1261.0 455.3L1262.5 454.7L1264.0 454.2L1265.5 453.5L1267.0 452.7L1268.5 452.1L1270.0 451.4L1271.5 450.6L1273.0 450.0L1274.5 449.3L1276.0 448.9L1277.5 448.3L1279.0 447.7L1280.5 447.3L1282.0 446.7L1283.5 446.6L1285.0 446.2L1286.5 445.9L1288.0 445.8L1289.5 445.5L1291.0 445.5L1292.5 445.3L1294.0 445.2L1295.5 445.0L1297.0 444.8L1298.5 444.7L1300.0 444.6L1301.5 444.2L1303.0 443.6L1304.5 443.0L1306.0 442.6L1307.5 442.5L1309.0 442.1L1310.5 441.6L1312.0 441.3L1313.5 441.1L1315.0 441.0L1316.5 440.9L1318.0 440.9L1319.5 440.8L1321.0 440.2L1322.5 439.4L1324.0 438.4L1325.5 438.1L1327.0 437.9L1328.5 438.0L1330.0 438.2L1331.5 437.9L1333.0 437.4L1334.5 437.3L1336.0 437.5L1337.5 437.7L1339.0 437.3L1340.5 436.6L1342.0 436.3L1343.5 435.6L1345.0 434.8L1346.5 434.3L1348.0 434.0L1349.5 434.2L1351.0 438.7L1352.5 445.8L1354.0 444.6L1355.5 439.8L1357.0 436.8L1358.5 435.5L1360.0 434.5L1361.5 433.2L1363.0 432.1L1364.5 431.3L1366.0 430.7L1367.5 430.3L1369.0 429.9L1370.5 429.4L1372.0 429.6L1373.5 429.7L1375.0 429.4L1376.5 429.7L1378.0 430.2L1379.5 430.9L1381.0 431.4L1382.5 431.5L1384.0 431.9L1385.5 432.1L1387.0 432.1L1388.5 431.8L1390.0 431.2L1391.5 430.3L1393.0 429.6L1394.5 429.3L1396.0 428.9L1397.5 428.8L1399.0 428.6L1400.5 428.6L1402.0 428.7L1403.5 428.4L1405.0 428.4L1406.5 428.1L1408.0 427.7L1409.5 426.9L1411.0 426.3L1412.5 425.9L1414.0 425.8L1415.5 425.6L1417.0 425.1L1418.5 424.9L1420.0 425.2L1421.5 425.4L1423.0 425.6L1424.5 425.4L1426.0 425.2L1427.5 425.3L1429.0 425.3L1430.5 425.3L1432.0 425.2L1433.5 425.1L1435.0 424.7L1436.5 424.4L1438.0 424.3L1439.5 424.2L1441.0 424.6L1442.5 424.4L1444.0 424.0L1445.5 423.8L1447.0 423.5L1448.5 423.3L1450.0 422.9L1451.5 422.7L1453.0 422.8L1454.5 423.0L1456.0 417.6L1457.5 409.1L1459.0 408.0L1460.5 407.4L1462.0 407.2L1463.5 407.2L1465.0 406.6L1466.5 406.1L1468.0 405.3L1469.5 404.7L1471.0 404.2L1472.5 403.9L1474.0 403.7L1475.5 404.0L1477.0 406.1L1478.5 408.1L1480.0 410.4L1481.5 411.9L1483.0 412.9L1484.5 413.8L1486.0 413.9L1487.5 414.2L1489.0 415.0L1490.5 416.0L1492.0 417.0L1493.5 417.6L1495.0 417.9L1496.5 418.4L1498.0 418.8L1499.5 419.4L1501.0 419.6L1502.5 419.1L1504.0 418.9L1505.5 418.2L1507.0 418.0L1508.5 417.9L1510.0 417.7L1511.5 417.6L1513.0 417.3L1514.5 416.7L1516.0 415.9L1517.5 414.9L1519.0 413.7L1520.5 413.0L1522.0 412.7L1523.5 412.3L1525.0 411.9L1526.5 411.7L1528.0 411.9L1529.5 412.0L1531.0 412.0L1532.5 412.0L1534.0 411.9L1535.5 411.7L1537.0 411.5L1538.5 410.8L1540.0 410.4L1541.5 409.7L1543.0 409.0L1544.5 409.0L1546.0 409.8L1547.5 410.8L1549.0 411.6L1550.5 412.6L1552.0 413.3L1553.5 413.8L1555.0 414.4L1556.5 413.0L1558.0 412.1L1559.5 411.8L1561.0 412.0L1562.5 411.9L1564.0 412.0L1565.5 412.1L1567.0 411.6L1568.5 411.4L1570.0 410.8L1571.5 410.7L1573.0 410.6L1574.5 410.4L1576.0 410.2L1576.3 410.3L1576.3 525.6Z" fill="#7f9bd6"/>
<path d="M565.0 357.9L566.5 356.6L568.0 355.3L569.5 355.0L571.0 354.5L572.5 354.6L574.0 353.4L575.5 352.1L577.0 351.1L578.5 351.0L580.0 351.4L581.5 351.9L583.0 351.8L584.5 351.8L586.0 352.7L587.5 352.9L589.0 353.7L590.5 354.6L592.0 355.6L593.5 357.0L595.0 358.0L596.5 359.4L598.0 360.1L599.5 359.6L601.0 359.3L602.5 358.8L604.0 359.1L605.5 359.2L607.0 359.5L608.5 360.2L610.0 359.5L611.5 359.9L613.0 359.7L614.5 359.5L616.0 359.5L617.5 359.7L619.0 361.6L620.5 363.3L622.0 364.6L623.5 364.7L625.0 365.6L626.5 368.1L628.0 369.5L629.5 370.3L631.0 368.7L632.5 367.1L634.0 367.8L635.5 368.0L637.0 369.5L638.5 370.0L640.0 370.3L641.5 372.4L643.0 373.3L644.5 373.8L646.0 373.9L647.5 373.6L649.0 372.7L650.5 372.6L652.0 372.5L653.5 373.1L655.0 373.8L656.5 373.9L658.0 374.6L659.5 375.0L661.0 375.6L662.5 374.9L664.0 374.3L665.5 374.1L667.0 372.6L668.5 370.1L670.0 368.9L671.5 368.9L673.0 370.4L674.5 371.8L676.0 372.5L677.5 372.2L679.0 372.2L680.5 373.0L682.0 374.1L683.5 375.3L685.0 376.0L686.5 376.6L688.0 377.3L689.5 377.6L691.0 377.6L692.5 377.5L694.0 376.9L695.5 377.0L697.0 377.4L698.5 378.2L700.0 379.0L701.5 379.2L703.0 379.7L704.5 379.8L706.0 380.2L707.5 379.9L709.0 379.2L710.5 378.2L712.0 377.2L713.5 377.4L715.0 378.0L716.5 378.3L718.0 379.1L719.5 378.8L721.0 378.8L722.5 379.2L724.0 379.7L725.5 380.4L727.0 380.8L728.5 381.2L730.0 381.6L731.5 382.4L733.0 383.1L734.5 385.0L736.0 386.2L737.5 386.6L739.0 385.9L740.5 384.6L742.0 384.7L743.5 385.2L745.0 385.8L746.5 386.5L748.0 387.2L749.5 387.3L751.0 388.0L752.5 388.3L754.0 388.2L755.5 387.8L757.0 387.8L758.5 387.8L760.0 388.5L761.5 388.7L763.0 388.0L764.5 387.7L766.0 387.5L767.5 387.3L769.0 387.3L770.5 386.9L772.0 386.5L773.5 387.1L775.0 387.2L776.5 387.9L778.0 388.0L779.5 387.8L781.0 387.8L782.5 387.5L784.0 387.7L785.5 388.0L787.0 388.9L788.5 389.2L790.0 389.1L791.5 388.6L793.0 387.8L794.5 388.0L796.0 388.5L797.5 388.8L799.0 389.4L800.5 388.8L802.0 388.3L803.5 387.8L805.0 387.8L806.5 388.3L808.0 388.5L809.5 388.5L811.0 388.3L812.5 389.1L814.0 389.2L815.5 389.7L817.0 390.1L818.5 389.7L820.0 389.1L821.5 388.1L823.0 387.6L824.5 387.8L826.0 388.0L827.5 387.2L829.0 385.5L830.5 384.4L832.0 383.7L833.5 383.3L835.0 384.4L836.5 384.8L838.0 386.0L839.5 386.5L841.0 386.3L842.5 386.3L844.0 385.7L845.5 384.7L847.0 383.8L848.5 383.8L850.0 384.5L851.5 385.3L853.0 384.5L854.5 383.5L856.0 381.8L857.5 381.0L859.0 380.5L860.5 380.3L862.0 380.0L863.5 379.5L865.0 379.7L866.5 378.9L868.0 379.1L869.5 378.0L871.0 376.3L872.5 375.0L874.0 374.7L875.5 374.9L877.0 374.8L878.5 374.2L880.0 373.5L881.5 373.5L883.0 373.6L884.5 373.3L886.0 372.6L887.5 372.3L889.0 372.2L890.5 372.6L892.0 372.7L893.5 371.8L895.0 371.5L896.5 371.3L898.0 370.6L899.5 369.2L901.0 367.3L902.5 366.3L904.0 366.3L905.5 366.5L907.0 366.0L908.5 365.2L910.0 364.4L911.5 363.5L913.0 362.1L914.5 360.8L916.0 359.9L917.5 359.8L919.0 360.5L920.5 360.7L922.0 360.6L923.5 359.9L925.0 358.8L926.5 358.0L928.0 357.9L929.5 357.6L931.0 357.7L932.5 357.2L934.0 356.1L935.5 355.5L937.0 355.5L938.5 355.8L940.0 355.2L941.5 354.0L943.0 352.3L944.5 351.7L946.0 351.8L947.5 351.2L949.0 350.3L950.5 348.8L952.0 348.0L953.5 348.1L955.0 348.8L956.5 349.4L958.0 349.3L959.5 348.9L961.0 348.6L962.5 348.8L964.0 348.8L965.5 348.9L967.0 348.6L968.5 348.2L970.0 348.2L971.5 349.2L973.0 348.2L974.5 347.2L976.0 345.7L977.5 344.7L979.0 344.2L980.5 343.3L982.0 343.4L983.5 343.2L985.0 342.1L986.5 340.1L988.0 338.3L989.5 337.3L991.0 337.7L992.5 338.5L994.0 337.7L995.5 336.7L997.0 335.3L998.5 334.8L1000.0 334.9L1001.5 334.5L1003.0 335.1L1004.5 335.6L1006.0 335.9L1007.5 335.9L1009.0 335.7L1010.5 335.3L1012.0 333.8L1013.5 331.9L1015.0 330.3L1016.5 329.9L1018.0 330.1L1019.5 330.0L1021.0 329.8L1022.5 328.7L1024.0 329.5L1025.5 330.5L1027.0 331.1L1028.5 332.7L1030.0 333.8L1031.5 334.7L1033.0 334.5L1034.5 334.0L1036.0 332.7L1037.5 330.7L1039.0 328.8L1040.5 327.7L1042.0 328.4L1043.5 328.8L1045.0 328.7L1046.5 328.4L1048.0 328.0L1049.5 327.3L1051.0 327.8L1052.5 328.2L1054.0 329.2L1055.5 330.4L1057.0 330.7L1058.5 330.7L1060.0 330.3L1061.5 331.4L1063.0 332.8L1064.5 333.9L1066.0 334.9L1067.5 336.6L1069.0 336.3L1070.5 336.3L1072.0 335.2L1073.5 333.7L1075.0 333.3L1076.5 333.4L1078.0 334.4L1079.5 334.4L1081.0 333.7L1082.5 332.7L1084.0 332.0L1085.5 331.6L1086.7 331.1L1089.7 447.0L1091.5 451.0L1093.0 453.3L1094.5 454.8L1096.0 456.3L1097.5 456.9L1099.0 457.7L1100.5 458.7L1102.0 459.6L1103.5 460.7L1105.0 462.0L1106.5 463.1L1108.0 464.6L1109.5 466.1L1111.0 466.3L1112.5 466.3L1114.0 466.2L1115.5 466.4L1117.0 467.0L1118.5 466.8L1120.0 466.9L1121.5 467.0L1123.0 467.1L1124.5 467.3L1126.0 467.3L1127.5 467.6L1129.0 468.0L1130.5 468.2L1132.0 468.5L1133.5 468.6L1135.0 468.9L1136.5 469.3L1138.0 469.3L1139.5 469.1L1141.0 468.7L1142.5 468.4L1144.0 468.8L1145.5 468.7L1147.0 468.6L1148.5 468.7L1150.0 468.6L1151.5 468.9L1153.0 468.9L1154.5 468.6L1156.0 468.6L1157.5 468.3L1159.0 468.6L1160.5 468.6L1162.0 468.6L1163.5 468.6L1165.0 468.0L1166.5 467.9L1168.0 467.9L1169.5 468.2L1171.0 468.7L1172.5 469.2L1174.0 469.5L1175.5 469.9L1177.0 470.2L1178.5 470.4L1180.0 470.2L1181.5 469.8L1183.0 470.0L1184.5 470.1L1186.0 470.1L1187.5 470.2L1189.0 470.1L1190.5 470.3L1192.0 470.4L1193.5 470.4L1195.0 470.4L1196.5 470.2L1198.0 469.9L1199.5 469.9L1201.0 470.0L1202.5 469.8L1204.0 469.7L1205.5 469.8L1207.0 469.9L1208.5 469.9L1210.0 469.5L1211.5 468.9L1213.0 468.5L1214.5 468.3L1216.0 468.2L1217.5 468.2L1219.0 468.0L1220.5 467.9L1222.0 468.0L1223.5 467.9L1225.0 467.9L1226.5 467.3L1228.0 467.1L1229.5 467.3L1231.0 467.5L1232.5 467.8L1234.0 467.5L1235.5 467.7L1237.0 467.6L1238.5 467.6L1240.0 467.6L1241.5 467.4L1243.0 463.4L1244.5 459.8L1246.0 459.4L1247.5 458.9L1249.0 458.8L1250.5 458.5L1252.0 457.9L1253.5 457.6L1255.0 457.2L1256.5 456.9L1258.0 456.5L1259.5 456.1L1261.0 455.3L1262.5 454.7L1264.0 454.2L1265.5 453.5L1267.0 452.7L1268.5 452.1L1270.0 451.4L1271.5 450.6L1273.0 450.0L1274.5 449.3L1276.0 448.9L1277.5 448.3L1279.0 447.7L1280.5 447.3L1282.0 446.7L1283.5 446.6L1285.0 446.2L1286.5 445.9L1288.0 445.8L1289.5 445.5L1291.0 445.5L1292.5 445.3L1294.0 445.2L1295.5 445.0L1297.0 444.8L1298.5 444.7L1300.0 444.6L1301.5 444.2L1303.0 443.6L1304.5 443.0L1306.0 442.6L1307.5 442.5L1309.0 442.1L1310.5 441.6L1312.0 441.3L1313.5 441.1L1315.0 441.0L1316.5 440.9L1318.0 440.9L1319.5 440.8L1321.0 440.2L1322.5 439.4L1324.0 438.4L1325.5 438.1L1327.0 437.9L1328.5 438.0L1330.0 438.2L1331.5 437.9L1333.0 437.4L1334.5 437.3L1336.0 437.5L1337.5 437.7L1339.0 437.3L1340.5 436.6L1342.0 436.3L1343.5 435.6L1345.0 434.8L1346.5 434.3L1348.0 434.0L1349.5 434.2L1351.0 438.7L1352.5 445.8L1354.0 444.6L1355.5 439.8L1357.0 436.8L1358.5 435.5L1360.0 434.5L1361.5 433.2L1363.0 432.1L1364.5 431.3L1366.0 430.7L1367.5 430.3L1369.0 429.9L1370.5 429.4L1372.0 429.6L1373.5 429.7L1375.0 429.4L1376.5 429.7L1378.0 430.2L1379.5 430.9L1381.0 431.4L1382.5 431.5L1384.0 431.9L1385.5 432.1L1387.0 432.1L1388.5 431.8L1390.0 431.2L1391.5 430.3L1393.0 429.6L1394.5 429.3L1396.0 428.9L1397.5 428.8L1399.0 428.6L1400.5 428.6L1402.0 428.7L1403.5 428.4L1405.0 428.4L1406.5 428.1L1408.0 427.7L1409.5 426.9L1411.0 426.3L1412.5 425.9L1414.0 425.8L1415.5 425.6L1417.0 425.1L1418.5 424.9L1420.0 425.2L1421.5 425.4L1423.0 425.6L1424.5 425.4L1426.0 425.2L1427.5 425.3L1429.0 425.3L1430.5 425.3L1432.0 425.2L1433.5 425.1L1435.0 424.7L1436.5 424.4L1438.0 424.3L1439.5 424.2L1441.0 424.6L1442.5 424.4L1444.0 424.0L1445.5 423.8L1447.0 423.5L1448.5 423.3L1450.0 422.9L1451.5 422.7L1453.0 422.8L1454.5 423.0L1456.0 417.6L1457.5 409.1L1459.0 408.0L1460.5 407.4L1462.0 407.2L1463.5 407.2L1465.0 406.6L1466.5 406.1L1468.0 405.3L1469.5 404.7L1471.0 404.2L1472.5 403.9L1474.0 403.7L1475.5 404.0L1477.0 406.1L1478.5 408.1L1480.0 410.4L1481.5 411.9L1483.0 412.9L1484.5 413.8L1486.0 413.9L1487.5 414.2L1489.0 415.0L1490.5 416.0L1492.0 417.0L1493.5 417.6L1495.0 417.9L1496.5 418.4L1498.0 418.8L1499.5 419.4L1501.0 419.6L1502.5 419.1L1504.0 418.9L1505.5 418.2L1507.0 418.0L1508.5 417.9L1510.0 417.7L1511.5 417.6L1513.0 417.3L1514.5 416.7L1516.0 415.9L1517.5 414.9L1519.0 413.7L1520.5 413.0L1522.0 412.7L1523.5 412.3L1525.0 411.9L1526.5 411.7L1528.0 411.9L1529.5 412.0L1531.0 412.0L1532.5 412.0L1534.0 411.9L1535.5 411.7L1537.0 411.5L1538.5 410.8L1540.0 410.4L1541.5 409.7L1543.0 409.0L1544.5 409.0L1546.0 409.8L1547.5 410.8L1549.0 411.6L1550.5 412.6L1552.0 413.3L1553.5 413.8L1555.0 414.4L1556.5 413.0L1558.0 412.1L1559.5 411.8L1561.0 412.0L1562.5 411.9L1564.0 412.0L1565.5 412.1L1567.0 411.6L1568.5 411.4L1570.0 410.8L1571.5 410.7L1573.0 410.6L1574.5 410.4L1576.0 410.2L1576.3 410.3" fill="none" stroke="#505656" stroke-width="1.25" stroke-opacity="0.90"/>
<path d="M565.0 525.6L565.0 371.6L566.5 370.9L568.0 369.9L569.5 369.7L571.0 369.6L572.5 369.6L574.0 369.1L575.5 368.4L577.0 367.5L578.5 367.2L580.0 367.2L581.5 367.7L583.0 367.9L584.5 368.1L586.0 368.7L587.5 368.8L589.0 369.4L590.5 370.3L592.0 371.1L593.5 371.9L595.0 372.3L596.5 373.1L598.0 373.3L599.5 372.6L601.0 372.2L602.5 371.6L604.0 371.5L605.5 370.9L607.0 370.2L608.5 370.3L610.0 369.3L611.5 369.6L613.0 369.3L614.5 368.9L616.0 368.9L617.5 369.6L619.0 371.7L620.5 373.4L622.0 374.4L623.5 375.1L625.0 377.2L626.5 380.8L628.0 381.9L629.5 382.5L631.0 380.8L632.5 378.8L634.0 375.9L635.5 373.9L637.0 375.7L638.5 376.7L640.0 377.3L641.5 379.4L643.0 380.3L644.5 381.0L646.0 381.5L647.5 381.5L649.0 381.1L650.5 381.2L652.0 381.5L653.5 382.2L655.0 382.2L656.5 382.1L658.0 382.4L659.5 382.6L661.0 383.0L662.5 382.4L664.0 381.9L665.5 381.5L667.0 379.8L668.5 376.7L670.0 375.8L671.5 375.8L673.0 377.0L674.5 378.4L676.0 379.0L677.5 379.0L679.0 378.8L680.5 379.6L682.0 381.0L683.5 382.5L685.0 383.4L686.5 384.3L688.0 385.2L689.5 386.1L691.0 386.3L692.5 386.1L694.0 384.7L695.5 384.1L697.0 383.8L698.5 383.9L700.0 383.9L701.5 384.2L703.0 384.8L704.5 384.7L706.0 384.7L707.5 384.1L709.0 383.3L710.5 382.7L712.0 382.7L713.5 383.6L715.0 385.0L716.5 385.9L718.0 386.9L719.5 386.7L721.0 386.7L722.5 387.1L724.0 387.3L725.5 387.9L727.0 388.1L728.5 388.3L730.0 388.7L731.5 389.5L733.0 390.5L734.5 392.3L736.0 393.6L737.5 394.1L739.0 393.6L740.5 393.0L742.0 393.5L743.5 394.3L745.0 395.0L746.5 395.3L748.0 395.8L749.5 395.6L751.0 396.2L752.5 396.7L754.0 396.5L755.5 396.5L757.0 396.6L758.5 396.6L760.0 397.3L761.5 397.5L763.0 397.0L764.5 396.8L766.0 396.5L767.5 396.0L769.0 395.9L770.5 395.6L772.0 395.5L773.5 396.3L775.0 396.6L776.5 397.6L778.0 398.1L779.5 398.2L781.0 398.3L782.5 398.2L784.0 398.4L785.5 398.8L787.0 399.5L788.5 399.5L790.0 399.6L791.5 399.3L793.0 398.5L794.5 399.1L796.0 399.5L797.5 400.0L799.0 400.8L800.5 400.1L802.0 399.9L803.5 399.4L805.0 399.7L806.5 400.4L808.0 400.6L809.5 400.3L811.0 399.6L812.5 399.8L814.0 400.1L815.5 400.7L817.0 401.2L818.5 401.0L820.0 400.4L821.5 399.8L823.0 399.3L824.5 399.3L826.0 399.5L827.5 399.1L829.0 398.1L830.5 397.7L832.0 397.6L833.5 398.2L835.0 399.6L836.5 399.5L838.0 399.9L839.5 399.7L841.0 399.4L842.5 399.3L844.0 398.8L845.5 398.1L847.0 397.2L848.5 396.7L850.0 397.1L851.5 398.1L853.0 398.0L854.5 397.4L856.0 395.9L857.5 395.2L859.0 395.0L860.5 395.0L862.0 394.7L863.5 393.9L865.0 393.3L866.5 392.1L868.0 391.5L869.5 390.6L871.0 390.0L872.5 389.6L874.0 389.7L875.5 389.6L877.0 389.1L878.5 388.5L880.0 387.7L881.5 387.5L883.0 387.2L884.5 386.4L886.0 385.7L887.5 385.5L889.0 385.2L890.5 385.5L892.0 385.3L893.5 385.0L895.0 385.3L896.5 385.5L898.0 384.8L899.5 382.9L901.0 380.5L902.5 379.4L904.0 379.6L905.5 380.1L907.0 379.9L908.5 379.3L910.0 378.8L911.5 378.5L913.0 377.9L914.5 377.1L916.0 376.6L917.5 376.3L919.0 376.6L920.5 376.6L922.0 376.2L923.5 375.5L925.0 374.3L926.5 373.6L928.0 373.3L929.5 373.3L931.0 373.8L932.5 373.4L934.0 372.4L935.5 371.5L937.0 371.1L938.5 371.4L940.0 370.6L941.5 369.4L943.0 367.9L944.5 367.0L946.0 367.0L947.5 366.3L949.0 364.9L950.5 363.1L952.0 362.3L953.5 362.5L955.0 363.2L956.5 363.9L958.0 364.0L959.5 363.2L961.0 362.1L962.5 361.0L964.0 360.1L965.5 359.0L967.0 357.2L968.5 353.6L970.0 351.3L971.5 349.2L973.0 348.2L974.5 347.2L976.0 345.7L977.5 344.7L979.0 344.2L980.5 343.3L982.0 343.4L983.5 343.2L985.0 342.1L986.5 340.1L988.0 338.3L989.5 337.3L991.0 337.7L992.5 338.5L994.0 337.7L995.5 336.7L997.0 335.3L998.5 334.8L1000.0 334.9L1001.5 334.5L1003.0 335.1L1004.5 335.6L1006.0 335.9L1007.5 335.9L1009.0 335.7L1010.5 335.3L1012.0 333.8L1013.5 331.9L1015.0 330.3L1016.5 329.9L1018.0 330.1L1019.5 330.0L1021.0 329.8L1022.5 328.7L1024.0 329.5L1025.5 330.5L1027.0 331.1L1028.5 332.7L1030.0 333.8L1031.5 334.7L1033.0 334.5L1034.5 334.0L1036.0 332.7L1037.5 330.7L1039.0 328.8L1040.5 327.7L1042.0 328.4L1043.5 328.8L1045.0 328.7L1046.5 328.4L1048.0 328.0L1049.5 327.3L1051.0 327.8L1052.5 328.2L1054.0 329.2L1055.5 330.4L1057.0 330.7L1058.5 330.7L1060.0 330.3L1061.5 331.4L1063.0 332.8L1064.5 333.9L1066.0 334.9L1067.5 336.6L1069.0 336.3L1070.5 336.3L1072.0 335.2L1073.5 333.7L1075.0 333.3L1076.5 333.4L1078.0 334.4L1079.5 334.4L1081.0 333.7L1082.5 332.7L1084.0 332.0L1085.5 331.6L1086.7 331.1L1089.7 447.0L1091.5 451.0L1093.0 453.3L1094.5 454.8L1096.0 456.3L1097.5 456.9L1099.0 457.7L1100.5 458.7L1102.0 459.6L1103.5 460.7L1105.0 462.0L1106.5 463.1L1108.0 464.6L1109.5 466.1L1111.0 466.3L1112.5 466.3L1114.0 466.2L1115.5 466.4L1117.0 467.0L1118.5 466.8L1120.0 466.9L1121.5 467.0L1123.0 467.1L1124.5 467.3L1126.0 467.3L1127.5 467.6L1129.0 468.0L1130.5 468.2L1132.0 468.5L1133.5 468.6L1135.0 468.9L1136.5 469.3L1138.0 469.3L1139.5 469.1L1141.0 468.7L1142.5 468.4L1144.0 468.8L1145.5 468.7L1147.0 468.6L1148.5 468.7L1150.0 468.6L1151.5 468.9L1153.0 468.9L1154.5 468.6L1156.0 468.6L1157.5 468.3L1159.0 468.6L1160.5 468.6L1162.0 468.6L1163.5 468.6L1165.0 468.0L1166.5 467.9L1168.0 467.9L1169.5 468.2L1171.0 468.7L1172.5 469.2L1174.0 469.5L1175.5 469.9L1177.0 470.2L1178.5 470.4L1180.0 470.2L1181.5 469.8L1183.0 470.0L1184.5 470.1L1186.0 470.1L1187.5 470.2L1189.0 470.1L1190.5 470.3L1192.0 470.4L1193.5 470.4L1195.0 470.4L1196.5 470.2L1198.0 469.9L1199.5 469.9L1201.0 470.0L1202.5 469.8L1204.0 469.7L1205.5 469.8L1207.0 469.9L1208.5 469.9L1210.0 469.5L1211.5 468.9L1213.0 468.5L1214.5 468.3L1216.0 468.2L1217.5 468.2L1219.0 468.0L1220.5 467.9L1222.0 468.0L1223.5 467.9L1225.0 467.9L1226.5 467.3L1228.0 467.1L1229.5 467.3L1231.0 467.5L1232.5 467.8L1234.0 467.5L1235.5 467.7L1237.0 467.6L1238.5 467.6L1240.0 467.6L1241.5 467.4L1243.0 467.4L1244.5 466.8L1246.0 466.5L1247.5 466.1L1249.0 465.9L1250.5 465.5L1252.0 465.1L1253.5 465.0L1255.0 464.8L1256.5 464.7L1258.0 464.3L1259.5 463.9L1261.0 463.3L1262.5 462.6L1264.0 462.1L1265.5 461.2L1267.0 460.4L1268.5 459.8L1270.0 459.2L1271.5 458.6L1273.0 458.4L1274.5 458.9L1276.0 459.6L1277.5 460.1L1279.0 460.6L1280.5 460.9L1282.0 460.5L1283.5 460.4L1285.0 459.9L1286.5 459.5L1288.0 459.1L1289.5 458.5L1291.0 458.0L1292.5 457.4L1294.0 456.9L1295.5 456.4L1297.0 456.7L1298.5 457.9L1300.0 458.9L1301.5 458.4L1303.0 457.8L1304.5 457.3L1306.0 456.8L1307.5 456.4L1309.0 455.7L1310.5 455.0L1312.0 454.6L1313.5 454.2L1315.0 453.9L1316.5 453.7L1318.0 453.6L1319.5 453.4L1321.0 452.8L1322.5 451.9L1324.0 450.9L1325.5 450.5L1327.0 450.1L1328.5 450.0L1330.0 450.2L1331.5 449.9L1333.0 449.4L1334.5 449.0L1336.0 449.0L1337.5 449.0L1339.0 448.8L1340.5 448.4L1342.0 448.1L1343.5 447.7L1345.0 447.2L1346.5 446.0L1348.0 444.8L1349.5 443.9L1351.0 445.2L1352.5 448.1L1354.0 447.8L1355.5 446.1L1357.0 444.7L1358.5 443.5L1360.0 442.5L1361.5 441.2L1363.0 440.1L1364.5 439.3L1366.0 438.9L1367.5 438.5L1369.0 438.2L1370.5 437.8L1372.0 438.1L1373.5 438.2L1375.0 438.1L1376.5 438.6L1378.0 439.1L1379.5 439.6L1381.0 439.7L1382.5 439.4L1384.0 439.4L1385.5 439.4L1387.0 439.3L1388.5 438.9L1390.0 438.3L1391.5 437.7L1393.0 437.1L1394.5 436.8L1396.0 436.3L1397.5 436.2L1399.0 436.1L1400.5 436.2L1402.0 435.9L1403.5 435.6L1405.0 435.5L1406.5 435.5L1408.0 435.3L1409.5 434.7L1411.0 434.1L1412.5 433.6L1414.0 433.1L1415.5 432.7L1417.0 432.0L1418.5 431.7L1420.0 431.9L1421.5 431.9L1423.0 432.0L1424.5 431.7L1426.0 431.5L1427.5 431.5L1429.0 431.4L1430.5 431.1L1432.0 431.0L1433.5 431.1L1435.0 430.8L1436.5 430.5L1438.0 430.1L1439.5 430.0L1441.0 430.4L1442.5 430.2L1444.0 430.0L1445.5 429.6L1447.0 429.2L1448.5 429.0L1450.0 428.6L1451.5 428.4L1453.0 428.4L1454.5 428.6L1456.0 423.3L1457.5 415.1L1459.0 414.0L1460.5 413.5L1462.0 413.3L1463.5 413.2L1465.0 412.6L1466.5 412.4L1468.0 412.0L1469.5 411.6L1471.0 411.3L1472.5 410.9L1474.0 410.3L1475.5 410.1L1477.0 411.7L1478.5 413.1L1480.0 414.9L1481.5 415.9L1483.0 416.5L1484.5 417.1L1486.0 417.0L1487.5 417.1L1489.0 417.7L1490.5 418.5L1492.0 419.5L1493.5 419.9L1495.0 419.9L1496.5 420.2L1498.0 420.4L1499.5 420.9L1501.0 421.1L1502.5 420.6L1504.0 420.5L1505.5 419.7L1507.0 419.2L1508.5 419.0L1510.0 418.5L1511.5 418.3L1513.0 418.0L1514.5 417.6L1516.0 417.1L1517.5 416.3L1519.0 415.2L1520.5 414.6L1522.0 414.3L1523.5 413.8L1525.0 413.4L1526.5 413.1L1528.0 413.1L1529.5 413.1L1531.0 413.0L1532.5 413.0L1534.0 412.8L1535.5 412.4L1537.0 412.0L1538.5 411.3L1540.0 410.9L1541.5 410.2L1543.0 409.5L1544.5 409.5L1546.0 410.1L1547.5 411.1L1549.0 411.9L1550.5 412.8L1552.0 413.6L1553.5 414.2L1555.0 414.9L1556.5 413.5L1558.0 412.6L1559.5 412.2L1561.0 412.4L1562.5 412.3L1564.0 412.3L1565.5 412.3L1567.0 411.8L1568.5 411.6L1570.0 411.1L1571.5 411.0L1573.0 410.9L1574.5 410.7L1576.0 410.4L1576.3 410.5L1576.3 525.6Z" fill="#9a1aff"/>
<path d="M565.0 371.6L566.5 370.9L568.0 369.9L569.5 369.7L571.0 369.6L572.5 369.6L574.0 369.1L575.5 368.4L577.0 367.5L578.5 367.2L580.0 367.2L581.5 367.7L583.0 367.9L584.5 368.1L586.0 368.7L587.5 368.8L589.0 369.4L590.5 370.3L592.0 371.1L593.5 371.9L595.0 372.3L596.5 373.1L598.0 373.3L599.5 372.6L601.0 372.2L602.5 371.6L604.0 371.5L605.5 370.9L607.0 370.2L608.5 370.3L610.0 369.3L611.5 369.6L613.0 369.3L614.5 368.9L616.0 368.9L617.5 369.6L619.0 371.7L620.5 373.4L622.0 374.4L623.5 375.1L625.0 377.2L626.5 380.8L628.0 381.9L629.5 382.5L631.0 380.8L632.5 378.8L634.0 375.9L635.5 373.9L637.0 375.7L638.5 376.7L640.0 377.3L641.5 379.4L643.0 380.3L644.5 381.0L646.0 381.5L647.5 381.5L649.0 381.1L650.5 381.2L652.0 381.5L653.5 382.2L655.0 382.2L656.5 382.1L658.0 382.4L659.5 382.6L661.0 383.0L662.5 382.4L664.0 381.9L665.5 381.5L667.0 379.8L668.5 376.7L670.0 375.8L671.5 375.8L673.0 377.0L674.5 378.4L676.0 379.0L677.5 379.0L679.0 378.8L680.5 379.6L682.0 381.0L683.5 382.5L685.0 383.4L686.5 384.3L688.0 385.2L689.5 386.1L691.0 386.3L692.5 386.1L694.0 384.7L695.5 384.1L697.0 383.8L698.5 383.9L700.0 383.9L701.5 384.2L703.0 384.8L704.5 384.7L706.0 384.7L707.5 384.1L709.0 383.3L710.5 382.7L712.0 382.7L713.5 383.6L715.0 385.0L716.5 385.9L718.0 386.9L719.5 386.7L721.0 386.7L722.5 387.1L724.0 387.3L725.5 387.9L727.0 388.1L728.5 388.3L730.0 388.7L731.5 389.5L733.0 390.5L734.5 392.3L736.0 393.6L737.5 394.1L739.0 393.6L740.5 393.0L742.0 393.5L743.5 394.3L745.0 395.0L746.5 395.3L748.0 395.8L749.5 395.6L751.0 396.2L752.5 396.7L754.0 396.5L755.5 396.5L757.0 396.6L758.5 396.6L760.0 397.3L761.5 397.5L763.0 397.0L764.5 396.8L766.0 396.5L767.5 396.0L769.0 395.9L770.5 395.6L772.0 395.5L773.5 396.3L775.0 396.6L776.5 397.6L778.0 398.1L779.5 398.2L781.0 398.3L782.5 398.2L784.0 398.4L785.5 398.8L787.0 399.5L788.5 399.5L790.0 399.6L791.5 399.3L793.0 398.5L794.5 399.1L796.0 399.5L797.5 400.0L799.0 400.8L800.5 400.1L802.0 399.9L803.5 399.4L805.0 399.7L806.5 400.4L808.0 400.6L809.5 400.3L811.0 399.6L812.5 399.8L814.0 400.1L815.5 400.7L817.0 401.2L818.5 401.0L820.0 400.4L821.5 399.8L823.0 399.3L824.5 399.3L826.0 399.5L827.5 399.1L829.0 398.1L830.5 397.7L832.0 397.6L833.5 398.2L835.0 399.6L836.5 399.5L838.0 399.9L839.5 399.7L841.0 399.4L842.5 399.3L844.0 398.8L845.5 398.1L847.0 397.2L848.5 396.7L850.0 397.1L851.5 398.1L853.0 398.0L854.5 397.4L856.0 395.9L857.5 395.2L859.0 395.0L860.5 395.0L862.0 394.7L863.5 393.9L865.0 393.3L866.5 392.1L868.0 391.5L869.5 390.6L871.0 390.0L872.5 389.6L874.0 389.7L875.5 389.6L877.0 389.1L878.5 388.5L880.0 387.7L881.5 387.5L883.0 387.2L884.5 386.4L886.0 385.7L887.5 385.5L889.0 385.2L890.5 385.5L892.0 385.3L893.5 385.0L895.0 385.3L896.5 385.5L898.0 384.8L899.5 382.9L901.0 380.5L902.5 379.4L904.0 379.6L905.5 380.1L907.0 379.9L908.5 379.3L910.0 378.8L911.5 378.5L913.0 377.9L914.5 377.1L916.0 376.6L917.5 376.3L919.0 376.6L920.5 376.6L922.0 376.2L923.5 375.5L925.0 374.3L926.5 373.6L928.0 373.3L929.5 373.3L931.0 373.8L932.5 373.4L934.0 372.4L935.5 371.5L937.0 371.1L938.5 371.4L940.0 370.6L941.5 369.4L943.0 367.9L944.5 367.0L946.0 367.0L947.5 366.3L949.0 364.9L950.5 363.1L952.0 362.3L953.5 362.5L955.0 363.2L956.5 363.9L958.0 364.0L959.5 363.2L961.0 362.1L962.5 361.0L964.0 360.1L965.5 359.0L967.0 357.2L968.5 353.6L970.0 351.3L971.5 349.2L973.0 348.2L974.5 347.2L976.0 345.7L977.5 344.7L979.0 344.2L980.5 343.3L982.0 343.4L983.5 343.2L985.0 342.1L986.5 340.1L988.0 338.3L989.5 337.3L991.0 337.7L992.5 338.5L994.0 337.7L995.5 336.7L997.0 335.3L998.5 334.8L1000.0 334.9L1001.5 334.5L1003.0 335.1L1004.5 335.6L1006.0 335.9L1007.5 335.9L1009.0 335.7L1010.5 335.3L1012.0 333.8L1013.5 331.9L1015.0 330.3L1016.5 329.9L1018.0 330.1L1019.5 330.0L1021.0 329.8L1022.5 328.7L1024.0 329.5L1025.5 330.5L1027.0 331.1L1028.5 332.7L1030.0 333.8L1031.5 334.7L1033.0 334.5L1034.5 334.0L1036.0 332.7L1037.5 330.7L1039.0 328.8L1040.5 327.7L1042.0 328.4L1043.5 328.8L1045.0 328.7L1046.5 328.4L1048.0 328.0L1049.5 327.3L1051.0 327.8L1052.5 328.2L1054.0 329.2L1055.5 330.4L1057.0 330.7L1058.5 330.7L1060.0 330.3L1061.5 331.4L1063.0 332.8L1064.5 333.9L1066.0 334.9L1067.5 336.6L1069.0 336.3L1070.5 336.3L1072.0 335.2L1073.5 333.7L1075.0 333.3L1076.5 333.4L1078.0 334.4L1079.5 334.4L1081.0 333.7L1082.5 332.7L1084.0 332.0L1085.5 331.6L1086.7 331.1L1089.7 447.0L1091.5 451.0L1093.0 453.3L1094.5 454.8L1096.0 456.3L1097.5 456.9L1099.0 457.7L1100.5 458.7L1102.0 459.6L1103.5 460.7L1105.0 462.0L1106.5 463.1L1108.0 464.6L1109.5 466.1L1111.0 466.3L1112.5 466.3L1114.0 466.2L1115.5 466.4L1117.0 467.0L1118.5 466.8L1120.0 466.9L1121.5 467.0L1123.0 467.1L1124.5 467.3L1126.0 467.3L1127.5 467.6L1129.0 468.0L1130.5 468.2L1132.0 468.5L1133.5 468.6L1135.0 468.9L1136.5 469.3L1138.0 469.3L1139.5 469.1L1141.0 468.7L1142.5 468.4L1144.0 468.8L1145.5 468.7L1147.0 468.6L1148.5 468.7L1150.0 468.6L1151.5 468.9L1153.0 468.9L1154.5 468.6L1156.0 468.6L1157.5 468.3L1159.0 468.6L1160.5 468.6L1162.0 468.6L1163.5 468.6L1165.0 468.0L1166.5 467.9L1168.0 467.9L1169.5 468.2L1171.0 468.7L1172.5 469.2L1174.0 469.5L1175.5 469.9L1177.0 470.2L1178.5 470.4L1180.0 470.2L1181.5 469.8L1183.0 470.0L1184.5 470.1L1186.0 470.1L1187.5 470.2L1189.0 470.1L1190.5 470.3L1192.0 470.4L1193.5 470.4L1195.0 470.4L1196.5 470.2L1198.0 469.9L1199.5 469.9L1201.0 470.0L1202.5 469.8L1204.0 469.7L1205.5 469.8L1207.0 469.9L1208.5 469.9L1210.0 469.5L1211.5 468.9L1213.0 468.5L1214.5 468.3L1216.0 468.2L1217.5 468.2L1219.0 468.0L1220.5 467.9L1222.0 468.0L1223.5 467.9L1225.0 467.9L1226.5 467.3L1228.0 467.1L1229.5 467.3L1231.0 467.5L1232.5 467.8L1234.0 467.5L1235.5 467.7L1237.0 467.6L1238.5 467.6L1240.0 467.6L1241.5 467.4L1243.0 467.4L1244.5 466.8L1246.0 466.5L1247.5 466.1L1249.0 465.9L1250.5 465.5L1252.0 465.1L1253.5 465.0L1255.0 464.8L1256.5 464.7L1258.0 464.3L1259.5 463.9L1261.0 463.3L1262.5 462.6L1264.0 462.1L1265.5 461.2L1267.0 460.4L1268.5 459.8L1270.0 459.2L1271.5 458.6L1273.0 458.4L1274.5 458.9L1276.0 459.6L1277.5 460.1L1279.0 460.6L1280.5 460.9L1282.0 460.5L1283.5 460.4L1285.0 459.9L1286.5 459.5L1288.0 459.1L1289.5 458.5L1291.0 458.0L1292.5 457.4L1294.0 456.9L1295.5 456.4L1297.0 456.7L1298.5 457.9L1300.0 458.9L1301.5 458.4L1303.0 457.8L1304.5 457.3L1306.0 456.8L1307.5 456.4L1309.0 455.7L1310.5 455.0L1312.0 454.6L1313.5 454.2L1315.0 453.9L1316.5 453.7L1318.0 453.6L1319.5 453.4L1321.0 452.8L1322.5 451.9L1324.0 450.9L1325.5 450.5L1327.0 450.1L1328.5 450.0L1330.0 450.2L1331.5 449.9L1333.0 449.4L1334.5 449.0L1336.0 449.0L1337.5 449.0L1339.0 448.8L1340.5 448.4L1342.0 448.1L1343.5 447.7L1345.0 447.2L1346.5 446.0L1348.0 444.8L1349.5 443.9L1351.0 445.2L1352.5 448.1L1354.0 447.8L1355.5 446.1L1357.0 444.7L1358.5 443.5L1360.0 442.5L1361.5 441.2L1363.0 440.1L1364.5 439.3L1366.0 438.9L1367.5 438.5L1369.0 438.2L1370.5 437.8L1372.0 438.1L1373.5 438.2L1375.0 438.1L1376.5 438.6L1378.0 439.1L1379.5 439.6L1381.0 439.7L1382.5 439.4L1384.0 439.4L1385.5 439.4L1387.0 439.3L1388.5 438.9L1390.0 438.3L1391.5 437.7L1393.0 437.1L1394.5 436.8L1396.0 436.3L1397.5 436.2L1399.0 436.1L1400.5 436.2L1402.0 435.9L1403.5 435.6L1405.0 435.5L1406.5 435.5L1408.0 435.3L1409.5 434.7L1411.0 434.1L1412.5 433.6L1414.0 433.1L1415.5 432.7L1417.0 432.0L1418.5 431.7L1420.0 431.9L1421.5 431.9L1423.0 432.0L1424.5 431.7L1426.0 431.5L1427.5 431.5L1429.0 431.4L1430.5 431.1L1432.0 431.0L1433.5 431.1L1435.0 430.8L1436.5 430.5L1438.0 430.1L1439.5 430.0L1441.0 430.4L1442.5 430.2L1444.0 430.0L1445.5 429.6L1447.0 429.2L1448.5 429.0L1450.0 428.6L1451.5 428.4L1453.0 428.4L1454.5 428.6L1456.0 423.3L1457.5 415.1L1459.0 414.0L1460.5 413.5L1462.0 413.3L1463.5 413.2L1465.0 412.6L1466.5 412.4L1468.0 412.0L1469.5 411.6L1471.0 411.3L1472.5 410.9L1474.0 410.3L1475.5 410.1L1477.0 411.7L1478.5 413.1L1480.0 414.9L1481.5 415.9L1483.0 416.5L1484.5 417.1L1486.0 417.0L1487.5 417.1L1489.0 417.7L1490.5 418.5L1492.0 419.5L1493.5 419.9L1495.0 419.9L1496.5 420.2L1498.0 420.4L1499.5 420.9L1501.0 421.1L1502.5 420.6L1504.0 420.5L1505.5 419.7L1507.0 419.2L1508.5 419.0L1510.0 418.5L1511.5 418.3L1513.0 418.0L1514.5 417.6L1516.0 417.1L1517.5 416.3L1519.0 415.2L1520.5 414.6L1522.0 414.3L1523.5 413.8L1525.0 413.4L1526.5 413.1L1528.0 413.1L1529.5 413.1L1531.0 413.0L1532.5 413.0L1534.0 412.8L1535.5 412.4L1537.0 412.0L1538.5 411.3L1540.0 410.9L1541.5 410.2L1543.0 409.5L1544.5 409.5L1546.0 410.1L1547.5 411.1L1549.0 411.9L1550.5 412.8L1552.0 413.6L1553.5 414.2L1555.0 414.9L1556.5 413.5L1558.0 412.6L1559.5 412.2L1561.0 412.4L1562.5 412.3L1564.0 412.3L1565.5 412.3L1567.0 411.8L1568.5 411.6L1570.0 411.1L1571.5 411.0L1573.0 410.9L1574.5 410.7L1576.0 410.4L1576.3 410.5" fill="none" stroke="#505656" stroke-width="1.25" stroke-opacity="0.55"/>
<path d="M565.0 525.6L565.0 374.1L566.5 373.4L568.0 372.2L569.5 372.0L571.0 372.0L572.5 372.1L574.0 371.5L575.5 370.7L577.0 369.9L578.5 369.5L580.0 369.7L581.5 370.2L583.0 370.5L584.5 370.7L586.0 371.3L587.5 371.4L589.0 372.1L590.5 372.8L592.0 373.7L593.5 374.4L595.0 374.8L596.5 375.7L598.0 375.8L599.5 375.0L601.0 374.7L602.5 374.1L604.0 374.1L605.5 373.5L607.0 372.8L608.5 372.8L610.0 371.8L611.5 372.0L613.0 371.7L614.5 371.4L616.0 371.5L617.5 372.2L619.0 374.3L620.5 375.9L622.0 376.9L623.5 377.6L625.0 379.6L626.5 383.2L628.0 384.3L629.5 385.0L631.0 383.2L632.5 381.3L634.0 378.4L635.5 376.4L637.0 378.2L638.5 379.2L640.0 380.0L641.5 382.0L643.0 382.9L644.5 383.6L646.0 384.0L647.5 384.0L649.0 383.6L650.5 383.7L652.0 383.9L653.5 384.5L655.0 384.5L656.5 384.5L658.0 384.8L659.5 385.2L661.0 385.6L662.5 385.0L664.0 384.3L665.5 383.9L667.0 382.1L668.5 379.1L670.0 378.3L671.5 378.4L673.0 379.5L674.5 380.9L676.0 381.5L677.5 381.5L679.0 381.3L680.5 382.1L682.0 383.5L683.5 385.0L685.0 385.9L686.5 386.8L688.0 387.8L689.5 388.7L691.0 388.9L692.5 388.6L694.0 387.2L695.5 386.6L697.0 386.4L698.5 386.6L700.0 386.6L701.5 386.8L703.0 387.3L704.5 387.3L706.0 387.2L707.5 386.6L709.0 385.8L710.5 385.2L712.0 385.2L713.5 386.2L715.0 387.6L716.5 388.5L718.0 389.4L719.5 389.2L721.0 389.2L722.5 389.5L724.0 389.8L725.5 390.4L727.0 390.6L728.5 390.8L730.0 391.1L731.5 392.0L733.0 392.9L734.5 394.8L736.0 396.0L737.5 396.6L739.0 396.1L740.5 395.4L742.0 395.8L743.5 396.7L745.0 397.5L746.5 397.9L748.0 398.3L749.5 398.2L751.0 398.8L752.5 399.3L754.0 399.2L755.5 399.2L757.0 399.2L758.5 399.2L760.0 399.8L761.5 399.9L763.0 399.4L764.5 399.3L766.0 399.1L767.5 398.6L769.0 398.5L770.5 398.1L772.0 398.0L773.5 398.8L775.0 399.1L776.5 400.1L778.0 400.6L779.5 400.7L781.0 400.6L782.5 400.6L784.0 400.9L785.5 401.4L787.0 402.0L788.5 402.1L790.0 402.1L791.5 401.9L793.0 401.1L794.5 401.6L796.0 402.0L797.5 402.6L799.0 403.3L800.5 402.6L802.0 402.3L803.5 401.8L805.0 402.1L806.5 402.9L808.0 403.1L809.5 402.7L811.0 401.9L812.5 402.1L814.0 402.5L815.5 403.0L817.0 403.4L818.5 403.3L820.0 402.7L821.5 402.2L823.0 401.7L824.5 401.6L826.0 401.7L827.5 401.3L829.0 400.4L830.5 400.1L832.0 400.0L833.5 400.5L835.0 402.0L836.5 401.7L838.0 402.0L839.5 401.7L841.0 401.5L842.5 401.5L844.0 401.1L845.5 400.4L847.0 399.4L848.5 399.0L850.0 399.3L851.5 400.3L853.0 400.2L854.5 399.5L856.0 398.0L857.5 397.2L859.0 397.1L860.5 397.1L862.0 396.7L863.5 395.9L865.0 395.2L866.5 394.1L868.0 393.6L869.5 392.6L871.0 392.0L872.5 391.5L874.0 391.6L875.5 391.6L877.0 391.2L878.5 390.6L880.0 389.7L881.5 389.6L883.0 389.3L884.5 388.4L886.0 387.7L887.5 387.5L889.0 387.2L890.5 387.4L892.0 387.3L893.5 387.0L895.0 387.3L896.5 387.5L898.0 386.8L899.5 385.0L901.0 382.5L902.5 381.4L904.0 381.6L905.5 382.1L907.0 381.9L908.5 381.3L910.0 380.7L911.5 380.4L913.0 379.8L914.5 379.0L916.0 378.6L917.5 378.4L919.0 378.8L920.5 378.6L922.0 378.0L923.5 377.3L925.0 376.2L926.5 375.6L928.0 375.3L929.5 375.3L931.0 375.8L932.5 375.4L934.0 374.5L935.5 373.6L937.0 373.2L938.5 373.4L940.0 372.6L941.5 371.3L943.0 369.9L944.5 369.0L946.0 369.0L947.5 368.3L949.0 366.9L950.5 365.0L952.0 364.2L953.5 364.5L955.0 365.3L956.5 366.0L958.0 366.0L959.5 365.2L961.0 364.1L962.5 363.0L964.0 362.0L965.5 360.8L967.0 359.0L968.5 355.5L970.0 353.2L971.5 351.1L973.0 350.1L974.5 349.2L976.0 347.8L977.5 346.7L979.0 346.2L980.5 345.3L982.0 345.4L983.5 345.3L985.0 344.2L986.5 342.3L988.0 340.4L989.5 339.3L991.0 339.6L992.5 340.5L994.0 339.7L995.5 338.8L997.0 337.4L998.5 336.9L1000.0 336.8L1001.5 336.5L1003.0 337.1L1004.5 337.7L1006.0 338.1L1007.5 338.0L1009.0 337.7L1010.5 337.2L1012.0 335.8L1013.5 334.0L1015.0 332.4L1016.5 332.0L1018.0 332.2L1019.5 331.9L1021.0 331.7L1022.5 330.6L1024.0 331.5L1025.5 332.5L1027.0 333.2L1028.5 334.7L1030.0 335.7L1031.5 336.5L1033.0 336.4L1034.5 336.0L1036.0 334.8L1037.5 332.8L1039.0 330.9L1040.5 329.7L1042.0 330.3L1043.5 330.7L1045.0 330.6L1046.5 330.3L1048.0 329.9L1049.5 329.3L1051.0 329.8L1052.5 330.3L1054.0 331.4L1055.5 332.4L1057.0 332.5L1058.5 332.5L1060.0 332.1L1061.5 333.2L1063.0 334.8L1064.5 336.1L1066.0 337.2L1067.5 338.8L1069.0 338.4L1070.5 338.3L1072.0 337.2L1073.5 335.8L1075.0 335.3L1076.5 335.4L1078.0 336.4L1079.5 336.4L1081.0 335.8L1082.5 334.7L1084.0 334.0L1085.5 333.6L1086.7 333.1L1089.7 449.0L1091.5 453.1L1093.0 455.4L1094.5 456.9L1096.0 458.3L1097.5 458.9L1099.0 459.7L1100.5 460.6L1102.0 461.6L1103.5 462.7L1105.0 464.0L1106.5 465.1L1108.0 466.6L1109.5 468.1L1111.0 468.4L1112.5 468.4L1114.0 468.3L1115.5 468.4L1117.0 469.0L1118.5 468.8L1120.0 468.9L1121.5 469.0L1123.0 469.1L1124.5 469.3L1126.0 469.3L1127.5 469.6L1129.0 469.9L1130.5 470.2L1132.0 470.4L1133.5 470.6L1135.0 470.8L1136.5 471.3L1138.0 471.3L1139.5 471.2L1141.0 470.7L1142.5 470.4L1144.0 470.7L1145.5 470.7L1147.0 470.6L1148.5 470.7L1150.0 470.7L1151.5 471.0L1153.0 470.9L1154.5 470.6L1156.0 470.6L1157.5 470.3L1159.0 470.6L1160.5 470.6L1162.0 470.6L1163.5 470.6L1165.0 470.0L1166.5 470.0L1168.0 469.9L1169.5 470.3L1171.0 470.7L1172.5 471.2L1174.0 471.5L1175.5 472.0L1177.0 472.3L1178.5 472.4L1180.0 472.2L1181.5 471.7L1183.0 472.0L1184.5 472.1L1186.0 472.2L1187.5 472.2L1189.0 472.1L1190.5 472.4L1192.0 472.4L1193.5 472.5L1195.0 472.4L1196.5 472.2L1198.0 471.9L1199.5 471.9L1201.0 472.0L1202.5 471.9L1204.0 471.7L1205.5 471.7L1207.0 471.9L1208.5 471.9L1210.0 471.5L1211.5 470.9L1213.0 470.5L1214.5 470.3L1216.0 470.3L1217.5 470.2L1219.0 470.1L1220.5 470.0L1222.0 470.0L1223.5 469.9L1225.0 469.8L1226.5 469.2L1228.0 469.1L1229.5 469.3L1231.0 469.5L1232.5 469.8L1234.0 469.4L1235.5 469.6L1237.0 469.5L1238.5 469.6L1240.0 469.6L1241.5 469.4L1243.0 469.4L1244.5 468.8L1246.0 468.5L1247.5 468.0L1249.0 467.8L1250.5 467.5L1252.0 467.1L1253.5 466.9L1255.0 466.7L1256.5 466.7L1258.0 466.3L1259.5 466.0L1261.0 465.3L1262.5 464.5L1264.0 464.0L1265.5 463.2L1267.0 462.3L1268.5 461.7L1270.0 461.1L1271.5 460.5L1273.0 460.4L1274.5 461.0L1276.0 461.6L1277.5 462.1L1279.0 462.7L1280.5 463.0L1282.0 462.6L1283.5 462.5L1285.0 462.0L1286.5 461.5L1288.0 461.1L1289.5 460.5L1291.0 460.1L1292.5 459.6L1294.0 459.0L1295.5 458.5L1297.0 458.8L1298.5 459.9L1300.0 460.9L1301.5 460.4L1303.0 459.8L1304.5 459.3L1306.0 458.7L1307.5 458.3L1309.0 457.7L1310.5 457.1L1312.0 456.7L1313.5 456.2L1315.0 456.0L1316.5 455.7L1318.0 455.7L1319.5 455.4L1321.0 454.8L1322.5 454.0L1324.0 453.0L1325.5 452.5L1327.0 452.1L1328.5 452.0L1330.0 452.1L1331.5 451.8L1333.0 451.3L1334.5 450.9L1336.0 450.9L1337.5 451.0L1339.0 450.9L1340.5 450.5L1342.0 450.1L1343.5 449.7L1345.0 449.2L1346.5 447.9L1348.0 446.8L1349.5 445.9L1351.0 447.2L1352.5 450.1L1354.0 449.8L1355.5 448.1L1357.0 446.7L1358.5 445.5L1360.0 444.4L1361.5 443.2L1363.0 442.0L1364.5 441.3L1366.0 440.8L1367.5 440.5L1369.0 440.2L1370.5 439.9L1372.0 440.1L1373.5 440.2L1375.0 440.2L1376.5 440.6L1378.0 441.1L1379.5 441.7L1381.0 441.7L1382.5 441.4L1384.0 441.4L1385.5 441.4L1387.0 441.2L1388.5 440.9L1390.0 440.3L1391.5 439.7L1393.0 439.1L1394.5 438.8L1396.0 438.3L1397.5 438.2L1399.0 438.1L1400.5 438.1L1402.0 437.8L1403.5 437.5L1405.0 437.4L1406.5 437.5L1408.0 437.3L1409.5 436.7L1411.0 436.1L1412.5 435.6L1414.0 435.1L1415.5 434.7L1417.0 433.9L1418.5 433.6L1420.0 433.9L1421.5 433.9L1423.0 434.0L1424.5 433.7L1426.0 433.5L1427.5 433.5L1429.0 433.4L1430.5 433.2L1432.0 433.1L1433.5 433.1L1435.0 432.9L1436.5 432.5L1438.0 432.1L1439.5 432.0L1441.0 432.4L1442.5 432.3L1444.0 432.0L1445.5 431.6L1447.0 431.3L1448.5 431.0L1450.0 430.6L1451.5 430.3L1453.0 430.4L1454.5 430.6L1456.0 425.3L1457.5 417.1L1459.0 416.0L1460.5 415.5L1462.0 415.4L1463.5 415.2L1465.0 414.6L1466.5 414.3L1468.0 413.9L1469.5 413.5L1471.0 413.2L1472.5 412.9L1474.0 412.2L1475.5 412.1L1477.0 413.6L1478.5 415.1L1480.0 416.8L1481.5 417.8L1483.0 418.5L1484.5 419.1L1486.0 419.1L1487.5 419.1L1489.0 419.7L1490.5 420.5L1492.0 421.5L1493.5 421.9L1495.0 421.9L1496.5 422.2L1498.0 422.4L1499.5 422.9L1501.0 423.1L1502.5 422.6L1504.0 422.5L1505.5 421.7L1507.0 421.2L1508.5 420.9L1510.0 420.4L1511.5 420.2L1513.0 419.9L1514.5 419.6L1516.0 419.1L1517.5 418.3L1519.0 417.2L1520.5 416.6L1522.0 416.3L1523.5 415.8L1525.0 415.3L1526.5 415.0L1528.0 415.1L1529.5 415.1L1531.0 415.0L1532.5 415.0L1534.0 414.8L1535.5 414.4L1537.0 414.0L1538.5 413.2L1540.0 412.9L1541.5 412.2L1543.0 411.5L1544.5 411.5L1546.0 412.1L1547.5 413.2L1549.0 413.9L1550.5 414.9L1552.0 415.6L1553.5 416.2L1555.0 416.9L1556.5 415.5L1558.0 414.5L1559.5 414.2L1561.0 414.4L1562.5 414.3L1564.0 414.3L1565.5 414.3L1567.0 413.8L1568.5 413.6L1570.0 413.1L1571.5 413.0L1573.0 412.9L1574.5 412.7L1576.0 412.5L1576.3 412.6L1576.3 525.6Z" fill="#ff0000"/>
<path d="M565.0 374.1L566.5 373.4L568.0 372.2L569.5 372.0L571.0 372.0L572.5 372.1L574.0 371.5L575.5 370.7L577.0 369.9L578.5 369.5L580.0 369.7L581.5 370.2L583.0 370.5L584.5 370.7L586.0 371.3L587.5 371.4L589.0 372.1L590.5 372.8L592.0 373.7L593.5 374.4L595.0 374.8L596.5 375.7L598.0 375.8L599.5 375.0L601.0 374.7L602.5 374.1L604.0 374.1L605.5 373.5L607.0 372.8L608.5 372.8L610.0 371.8L611.5 372.0L613.0 371.7L614.5 371.4L616.0 371.5L617.5 372.2L619.0 374.3L620.5 375.9L622.0 376.9L623.5 377.6L625.0 379.6L626.5 383.2L628.0 384.3L629.5 385.0L631.0 383.2L632.5 381.3L634.0 378.4L635.5 376.4L637.0 378.2L638.5 379.2L640.0 380.0L641.5 382.0L643.0 382.9L644.5 383.6L646.0 384.0L647.5 384.0L649.0 383.6L650.5 383.7L652.0 383.9L653.5 384.5L655.0 384.5L656.5 384.5L658.0 384.8L659.5 385.2L661.0 385.6L662.5 385.0L664.0 384.3L665.5 383.9L667.0 382.1L668.5 379.1L670.0 378.3L671.5 378.4L673.0 379.5L674.5 380.9L676.0 381.5L677.5 381.5L679.0 381.3L680.5 382.1L682.0 383.5L683.5 385.0L685.0 385.9L686.5 386.8L688.0 387.8L689.5 388.7L691.0 388.9L692.5 388.6L694.0 387.2L695.5 386.6L697.0 386.4L698.5 386.6L700.0 386.6L701.5 386.8L703.0 387.3L704.5 387.3L706.0 387.2L707.5 386.6L709.0 385.8L710.5 385.2L712.0 385.2L713.5 386.2L715.0 387.6L716.5 388.5L718.0 389.4L719.5 389.2L721.0 389.2L722.5 389.5L724.0 389.8L725.5 390.4L727.0 390.6L728.5 390.8L730.0 391.1L731.5 392.0L733.0 392.9L734.5 394.8L736.0 396.0L737.5 396.6L739.0 396.1L740.5 395.4L742.0 395.8L743.5 396.7L745.0 397.5L746.5 397.9L748.0 398.3L749.5 398.2L751.0 398.8L752.5 399.3L754.0 399.2L755.5 399.2L757.0 399.2L758.5 399.2L760.0 399.8L761.5 399.9L763.0 399.4L764.5 399.3L766.0 399.1L767.5 398.6L769.0 398.5L770.5 398.1L772.0 398.0L773.5 398.8L775.0 399.1L776.5 400.1L778.0 400.6L779.5 400.7L781.0 400.6L782.5 400.6L784.0 400.9L785.5 401.4L787.0 402.0L788.5 402.1L790.0 402.1L791.5 401.9L793.0 401.1L794.5 401.6L796.0 402.0L797.5 402.6L799.0 403.3L800.5 402.6L802.0 402.3L803.5 401.8L805.0 402.1L806.5 402.9L808.0 403.1L809.5 402.7L811.0 401.9L812.5 402.1L814.0 402.5L815.5 403.0L817.0 403.4L818.5 403.3L820.0 402.7L821.5 402.2L823.0 401.7L824.5 401.6L826.0 401.7L827.5 401.3L829.0 400.4L830.5 400.1L832.0 400.0L833.5 400.5L835.0 402.0L836.5 401.7L838.0 402.0L839.5 401.7L841.0 401.5L842.5 401.5L844.0 401.1L845.5 400.4L847.0 399.4L848.5 399.0L850.0 399.3L851.5 400.3L853.0 400.2L854.5 399.5L856.0 398.0L857.5 397.2L859.0 397.1L860.5 397.1L862.0 396.7L863.5 395.9L865.0 395.2L866.5 394.1L868.0 393.6L869.5 392.6L871.0 392.0L872.5 391.5L874.0 391.6L875.5 391.6L877.0 391.2L878.5 390.6L880.0 389.7L881.5 389.6L883.0 389.3L884.5 388.4L886.0 387.7L887.5 387.5L889.0 387.2L890.5 387.4L892.0 387.3L893.5 387.0L895.0 387.3L896.5 387.5L898.0 386.8L899.5 385.0L901.0 382.5L902.5 381.4L904.0 381.6L905.5 382.1L907.0 381.9L908.5 381.3L910.0 380.7L911.5 380.4L913.0 379.8L914.5 379.0L916.0 378.6L917.5 378.4L919.0 378.8L920.5 378.6L922.0 378.0L923.5 377.3L925.0 376.2L926.5 375.6L928.0 375.3L929.5 375.3L931.0 375.8L932.5 375.4L934.0 374.5L935.5 373.6L937.0 373.2L938.5 373.4L940.0 372.6L941.5 371.3L943.0 369.9L944.5 369.0L946.0 369.0L947.5 368.3L949.0 366.9L950.5 365.0L952.0 364.2L953.5 364.5L955.0 365.3L956.5 366.0L958.0 366.0L959.5 365.2L961.0 364.1L962.5 363.0L964.0 362.0L965.5 360.8L967.0 359.0L968.5 355.5L970.0 353.2L971.5 351.1L973.0 350.1L974.5 349.2L976.0 347.8L977.5 346.7L979.0 346.2L980.5 345.3L982.0 345.4L983.5 345.3L985.0 344.2L986.5 342.3L988.0 340.4L989.5 339.3L991.0 339.6L992.5 340.5L994.0 339.7L995.5 338.8L997.0 337.4L998.5 336.9L1000.0 336.8L1001.5 336.5L1003.0 337.1L1004.5 337.7L1006.0 338.1L1007.5 338.0L1009.0 337.7L1010.5 337.2L1012.0 335.8L1013.5 334.0L1015.0 332.4L1016.5 332.0L1018.0 332.2L1019.5 331.9L1021.0 331.7L1022.5 330.6L1024.0 331.5L1025.5 332.5L1027.0 333.2L1028.5 334.7L1030.0 335.7L1031.5 336.5L1033.0 336.4L1034.5 336.0L1036.0 334.8L1037.5 332.8L1039.0 330.9L1040.5 329.7L1042.0 330.3L1043.5 330.7L1045.0 330.6L1046.5 330.3L1048.0 329.9L1049.5 329.3L1051.0 329.8L1052.5 330.3L1054.0 331.4L1055.5 332.4L1057.0 332.5L1058.5 332.5L1060.0 332.1L1061.5 333.2L1063.0 334.8L1064.5 336.1L1066.0 337.2L1067.5 338.8L1069.0 338.4L1070.5 338.3L1072.0 337.2L1073.5 335.8L1075.0 335.3L1076.5 335.4L1078.0 336.4L1079.5 336.4L1081.0 335.8L1082.5 334.7L1084.0 334.0L1085.5 333.6L1086.7 333.1L1089.7 449.0L1091.5 453.1L1093.0 455.4L1094.5 456.9L1096.0 458.3L1097.5 458.9L1099.0 459.7L1100.5 460.6L1102.0 461.6L1103.5 462.7L1105.0 464.0L1106.5 465.1L1108.0 466.6L1109.5 468.1L1111.0 468.4L1112.5 468.4L1114.0 468.3L1115.5 468.4L1117.0 469.0L1118.5 468.8L1120.0 468.9L1121.5 469.0L1123.0 469.1L1124.5 469.3L1126.0 469.3L1127.5 469.6L1129.0 469.9L1130.5 470.2L1132.0 470.4L1133.5 470.6L1135.0 470.8L1136.5 471.3L1138.0 471.3L1139.5 471.2L1141.0 470.7L1142.5 470.4L1144.0 470.7L1145.5 470.7L1147.0 470.6L1148.5 470.7L1150.0 470.7L1151.5 471.0L1153.0 470.9L1154.5 470.6L1156.0 470.6L1157.5 470.3L1159.0 470.6L1160.5 470.6L1162.0 470.6L1163.5 470.6L1165.0 470.0L1166.5 470.0L1168.0 469.9L1169.5 470.3L1171.0 470.7L1172.5 471.2L1174.0 471.5L1175.5 472.0L1177.0 472.3L1178.5 472.4L1180.0 472.2L1181.5 471.7L1183.0 472.0L1184.5 472.1L1186.0 472.2L1187.5 472.2L1189.0 472.1L1190.5 472.4L1192.0 472.4L1193.5 472.5L1195.0 472.4L1196.5 472.2L1198.0 471.9L1199.5 471.9L1201.0 472.0L1202.5 471.9L1204.0 471.7L1205.5 471.7L1207.0 471.9L1208.5 471.9L1210.0 471.5L1211.5 470.9L1213.0 470.5L1214.5 470.3L1216.0 470.3L1217.5 470.2L1219.0 470.1L1220.5 470.0L1222.0 470.0L1223.5 469.9L1225.0 469.8L1226.5 469.2L1228.0 469.1L1229.5 469.3L1231.0 469.5L1232.5 469.8L1234.0 469.4L1235.5 469.6L1237.0 469.5L1238.5 469.6L1240.0 469.6L1241.5 469.4L1243.0 469.4L1244.5 468.8L1246.0 468.5L1247.5 468.0L1249.0 467.8L1250.5 467.5L1252.0 467.1L1253.5 466.9L1255.0 466.7L1256.5 466.7L1258.0 466.3L1259.5 466.0L1261.0 465.3L1262.5 464.5L1264.0 464.0L1265.5 463.2L1267.0 462.3L1268.5 461.7L1270.0 461.1L1271.5 460.5L1273.0 460.4L1274.5 461.0L1276.0 461.6L1277.5 462.1L1279.0 462.7L1280.5 463.0L1282.0 462.6L1283.5 462.5L1285.0 462.0L1286.5 461.5L1288.0 461.1L1289.5 460.5L1291.0 460.1L1292.5 459.6L1294.0 459.0L1295.5 458.5L1297.0 458.8L1298.5 459.9L1300.0 460.9L1301.5 460.4L1303.0 459.8L1304.5 459.3L1306.0 458.7L1307.5 458.3L1309.0 457.7L1310.5 457.1L1312.0 456.7L1313.5 456.2L1315.0 456.0L1316.5 455.7L1318.0 455.7L1319.5 455.4L1321.0 454.8L1322.5 454.0L1324.0 453.0L1325.5 452.5L1327.0 452.1L1328.5 452.0L1330.0 452.1L1331.5 451.8L1333.0 451.3L1334.5 450.9L1336.0 450.9L1337.5 451.0L1339.0 450.9L1340.5 450.5L1342.0 450.1L1343.5 449.7L1345.0 449.2L1346.5 447.9L1348.0 446.8L1349.5 445.9L1351.0 447.2L1352.5 450.1L1354.0 449.8L1355.5 448.1L1357.0 446.7L1358.5 445.5L1360.0 444.4L1361.5 443.2L1363.0 442.0L1364.5 441.3L1366.0 440.8L1367.5 440.5L1369.0 440.2L1370.5 439.9L1372.0 440.1L1373.5 440.2L1375.0 440.2L1376.5 440.6L1378.0 441.1L1379.5 441.7L1381.0 441.7L1382.5 441.4L1384.0 441.4L1385.5 441.4L1387.0 441.2L1388.5 440.9L1390.0 440.3L1391.5 439.7L1393.0 439.1L1394.5 438.8L1396.0 438.3L1397.5 438.2L1399.0 438.1L1400.5 438.1L1402.0 437.8L1403.5 437.5L1405.0 437.4L1406.5 437.5L1408.0 437.3L1409.5 436.7L1411.0 436.1L1412.5 435.6L1414.0 435.1L1415.5 434.7L1417.0 433.9L1418.5 433.6L1420.0 433.9L1421.5 433.9L1423.0 434.0L1424.5 433.7L1426.0 433.5L1427.5 433.5L1429.0 433.4L1430.5 433.2L1432.0 433.1L1433.5 433.1L1435.0 432.9L1436.5 432.5L1438.0 432.1L1439.5 432.0L1441.0 432.4L1442.5 432.3L1444.0 432.0L1445.5 431.6L1447.0 431.3L1448.5 431.0L1450.0 430.6L1451.5 430.3L1453.0 430.4L1454.5 430.6L1456.0 425.3L1457.5 417.1L1459.0 416.0L1460.5 415.5L1462.0 415.4L1463.5 415.2L1465.0 414.6L1466.5 414.3L1468.0 413.9L1469.5 413.5L1471.0 413.2L1472.5 412.9L1474.0 412.2L1475.5 412.1L1477.0 413.6L1478.5 415.1L1480.0 416.8L1481.5 417.8L1483.0 418.5L1484.5 419.1L1486.0 419.1L1487.5 419.1L1489.0 419.7L1490.5 420.5L1492.0 421.5L1493.5 421.9L1495.0 421.9L1496.5 422.2L1498.0 422.4L1499.5 422.9L1501.0 423.1L1502.5 422.6L1504.0 422.5L1505.5 421.7L1507.0 421.2L1508.5 420.9L1510.0 420.4L1511.5 420.2L1513.0 419.9L1514.5 419.6L1516.0 419.1L1517.5 418.3L1519.0 417.2L1520.5 416.6L1522.0 416.3L1523.5 415.8L1525.0 415.3L1526.5 415.0L1528.0 415.1L1529.5 415.1L1531.0 415.0L1532.5 415.0L1534.0 414.8L1535.5 414.4L1537.0 414.0L1538.5 413.2L1540.0 412.9L1541.5 412.2L1543.0 411.5L1544.5 411.5L1546.0 412.1L1547.5 413.2L1549.0 413.9L1550.5 414.9L1552.0 415.6L1553.5 416.2L1555.0 416.9L1556.5 415.5L1558.0 414.5L1559.5 414.2L1561.0 414.4L1562.5 414.3L1564.0 414.3L1565.5 414.3L1567.0 413.8L1568.5 413.6L1570.0 413.1L1571.5 413.0L1573.0 412.9L1574.5 412.7L1576.0 412.5L1576.3 412.6" fill="none" stroke="#505656" stroke-width="1.25" stroke-opacity="0.30"/>
<path d="M565.0 525.6L565.0 377.6L566.5 376.9L568.0 375.9L569.5 375.7L571.0 375.6L572.5 375.6L574.0 375.1L575.5 374.3L577.0 373.5L578.5 373.1L580.0 373.1L581.5 373.6L583.0 373.9L584.5 374.3L586.0 375.0L587.5 375.1L589.0 375.6L590.5 376.2L592.0 376.9L593.5 377.6L595.0 378.1L596.5 379.0L598.0 379.2L599.5 378.5L601.0 378.2L602.5 377.6L604.0 377.5L605.5 376.8L607.0 376.1L608.5 376.2L610.0 375.3L611.5 375.6L613.0 375.3L614.5 374.9L616.0 374.8L617.5 375.6L619.0 377.8L620.5 379.4L622.0 380.5L623.5 381.1L625.0 383.1L626.5 386.6L628.0 387.6L629.5 388.3L631.0 386.7L632.5 385.0L634.0 382.0L635.5 379.9L637.0 381.6L638.5 382.6L640.0 383.4L641.5 385.5L643.0 386.5L644.5 387.3L646.0 387.7L647.5 387.6L649.0 387.1L650.5 387.1L652.0 387.4L653.5 387.9L655.0 388.0L656.5 387.9L658.0 388.3L659.5 388.7L661.0 389.2L662.5 388.6L664.0 387.9L665.5 387.4L667.0 385.6L668.5 382.5L670.0 381.7L671.5 381.7L673.0 382.9L674.5 384.2L676.0 384.8L677.5 384.8L679.0 384.6L680.5 385.5L682.0 386.9L683.5 388.6L685.0 389.4L686.5 390.2L688.0 391.2L689.5 392.1L691.0 392.4L692.5 392.1L694.0 390.7L695.5 390.1L697.0 389.9L698.5 390.0L700.0 390.0L701.5 390.3L703.0 390.9L704.5 390.9L706.0 391.0L707.5 390.3L709.0 389.4L710.5 388.7L712.0 388.7L713.5 389.7L715.0 391.1L716.5 391.9L718.0 392.8L719.5 392.6L721.0 392.5L722.5 392.9L724.0 393.2L725.5 393.9L727.0 394.2L728.5 394.4L730.0 394.8L731.5 395.6L733.0 396.5L734.5 398.1L736.0 399.2L737.5 399.8L739.0 399.4L740.5 398.8L742.0 399.3L743.5 400.2L745.0 400.9L746.5 401.4L748.0 401.9L749.5 401.6L751.0 402.1L752.5 402.7L754.0 402.7L755.5 402.9L757.0 403.0L758.5 402.9L760.0 403.4L761.5 403.4L763.0 403.0L764.5 402.9L766.0 402.6L767.5 402.2L769.0 402.0L770.5 401.7L772.0 401.6L773.5 402.3L775.0 402.7L776.5 403.7L778.0 404.1L779.5 404.1L781.0 404.0L782.5 403.8L784.0 404.1L785.5 404.8L787.0 405.5L788.5 405.5L790.0 405.3L791.5 405.1L793.0 404.3L794.5 404.8L796.0 405.1L797.5 405.4L799.0 406.1L800.5 405.3L802.0 404.9L803.5 404.5L805.0 404.8L806.5 405.4L808.0 405.4L809.5 404.9L811.0 404.1L812.5 404.4L814.0 404.8L815.5 405.2L817.0 405.6L818.5 405.3L820.0 404.7L821.5 404.2L823.0 403.6L824.5 403.5L826.0 403.5L827.5 403.1L829.0 402.3L830.5 402.1L832.0 401.9L833.5 402.4L835.0 403.7L836.5 403.4L838.0 403.8L839.5 403.5L841.0 403.1L842.5 402.9L844.0 402.5L845.5 401.7L847.0 400.9L848.5 400.4L850.0 400.7L851.5 401.5L853.0 401.4L854.5 400.6L856.0 399.2L857.5 398.5L859.0 398.4L860.5 398.3L862.0 397.9L863.5 397.0L865.0 396.3L866.5 395.2L868.0 394.7L869.5 393.7L871.0 393.0L872.5 392.5L874.0 392.5L875.5 392.5L877.0 392.0L878.5 391.4L880.0 390.6L881.5 390.4L883.0 390.1L884.5 389.3L886.0 388.6L887.5 388.3L889.0 388.0L890.5 388.1L892.0 388.0L893.5 387.6L895.0 387.9L896.5 388.1L898.0 387.5L899.5 385.6L901.0 383.1L902.5 382.0L904.0 382.1L905.5 382.7L907.0 382.5L908.5 381.8L910.0 381.2L911.5 380.9L913.0 380.3L914.5 379.6L916.0 379.2L917.5 379.0L919.0 379.3L920.5 379.1L922.0 378.5L923.5 377.8L925.0 376.7L926.5 376.1L928.0 375.9L929.5 375.9L931.0 376.3L932.5 375.9L934.0 375.0L935.5 374.1L937.0 373.7L938.5 373.9L940.0 373.1L941.5 371.9L943.0 370.4L944.5 369.5L946.0 369.5L947.5 368.8L949.0 367.4L950.5 365.5L952.0 364.7L953.5 365.0L955.0 365.8L956.5 366.5L958.0 366.5L959.5 365.8L961.0 364.7L962.5 363.5L964.0 362.5L965.5 361.3L967.0 359.5L968.5 357.2L970.0 354.9L971.5 352.9L973.0 352.3L974.5 351.7L976.0 350.6L977.5 349.8L979.0 349.6L980.5 349.1L982.0 349.6L983.5 349.9L985.0 349.3L986.5 347.7L988.0 346.2L989.5 345.6L991.0 346.2L992.5 347.3L994.0 346.8L995.5 346.3L997.0 345.3L998.5 344.9L1000.0 345.0L1001.5 344.9L1003.0 345.6L1004.5 346.4L1006.0 347.1L1007.5 347.3L1009.0 347.4L1010.5 346.9L1012.0 345.1L1013.5 342.9L1015.0 340.8L1016.5 340.2L1018.0 340.1L1019.5 339.6L1021.0 338.9L1022.5 337.5L1024.0 338.9L1025.5 340.5L1027.0 341.7L1028.5 343.8L1030.0 345.3L1031.5 346.5L1033.0 345.6L1034.5 344.4L1036.0 342.6L1037.5 340.1L1039.0 337.7L1040.5 336.3L1042.0 337.2L1043.5 337.8L1045.0 337.9L1046.5 337.3L1048.0 336.6L1049.5 335.7L1051.0 336.2L1052.5 336.8L1054.0 338.1L1055.5 339.4L1057.0 339.8L1058.5 339.9L1060.0 339.6L1061.5 341.0L1063.0 342.9L1064.5 344.3L1066.0 345.5L1067.5 347.2L1069.0 347.2L1070.5 347.3L1072.0 346.4L1073.5 345.0L1075.0 344.5L1076.5 344.7L1078.0 345.7L1079.5 345.7L1081.0 344.9L1082.5 343.7L1084.0 343.0L1085.5 342.5L1086.7 341.9L1089.7 452.0L1091.5 456.1L1093.0 458.3L1094.5 459.8L1096.0 461.3L1097.5 461.8L1099.0 462.6L1100.5 463.6L1102.0 464.5L1103.5 465.6L1105.0 466.9L1106.5 468.0L1108.0 469.5L1109.5 471.1L1111.0 471.4L1112.5 471.5L1114.0 471.3L1115.5 471.5L1117.0 472.0L1118.5 471.9L1120.0 471.9L1121.5 472.0L1123.0 472.0L1124.5 472.2L1126.0 472.3L1127.5 472.6L1129.0 472.9L1130.5 473.2L1132.0 473.4L1133.5 473.5L1135.0 473.8L1136.5 474.3L1138.0 474.3L1139.5 474.2L1141.0 473.7L1142.5 473.4L1144.0 473.7L1145.5 473.7L1147.0 473.6L1148.5 473.7L1150.0 473.7L1151.5 474.0L1153.0 474.0L1154.5 473.6L1156.0 473.7L1157.5 473.3L1159.0 473.5L1160.5 473.4L1162.0 473.5L1163.5 473.5L1165.0 473.0L1166.5 472.9L1168.0 472.9L1169.5 473.3L1171.0 473.7L1172.5 474.2L1174.0 474.6L1175.5 475.0L1177.0 475.3L1178.5 475.4L1180.0 475.2L1181.5 474.8L1183.0 475.1L1184.5 475.2L1186.0 475.2L1187.5 475.2L1189.0 475.1L1190.5 475.3L1192.0 475.4L1193.5 475.5L1195.0 475.4L1196.5 475.2L1198.0 474.9L1199.5 474.8L1201.0 475.0L1202.5 474.8L1204.0 474.7L1205.5 474.8L1207.0 474.9L1208.5 474.9L1210.0 474.5L1211.5 473.9L1213.0 473.5L1214.5 473.2L1216.0 473.3L1217.5 473.2L1219.0 473.1L1220.5 472.9L1222.0 473.0L1223.5 472.9L1225.0 472.8L1226.5 472.3L1228.0 472.1L1229.5 472.4L1231.0 472.5L1232.5 472.8L1234.0 472.4L1235.5 472.6L1237.0 472.5L1238.5 472.5L1240.0 472.5L1241.5 472.4L1243.0 472.4L1244.5 471.7L1246.0 471.2L1247.5 470.8L1249.0 470.5L1250.5 470.2L1252.0 469.7L1253.5 469.4L1255.0 469.2L1256.5 469.0L1258.0 468.6L1259.5 468.2L1261.0 467.5L1262.5 466.8L1264.0 466.3L1265.5 465.5L1267.0 464.8L1268.5 464.3L1270.0 463.7L1271.5 463.1L1273.0 462.8L1274.5 463.4L1276.0 464.0L1277.5 464.4L1279.0 464.9L1280.5 465.2L1282.0 464.8L1283.5 464.7L1285.0 464.2L1286.5 463.8L1288.0 463.4L1289.5 462.8L1291.0 462.3L1292.5 461.8L1294.0 461.3L1295.5 460.8L1297.0 461.1L1298.5 462.2L1300.0 463.2L1301.5 462.6L1303.0 462.1L1304.5 461.5L1306.0 461.0L1307.5 460.6L1309.0 460.0L1310.5 459.3L1312.0 458.9L1313.5 458.4L1315.0 458.2L1316.5 457.9L1318.0 457.8L1319.5 457.6L1321.0 456.9L1322.5 456.2L1324.0 455.2L1325.5 454.8L1327.0 454.4L1328.5 454.3L1330.0 454.3L1331.5 454.0L1333.0 453.5L1334.5 453.2L1336.0 453.2L1337.5 453.3L1339.0 453.1L1340.5 452.7L1342.0 452.3L1343.5 451.8L1345.0 451.4L1346.5 450.3L1348.0 449.3L1349.5 448.3L1351.0 449.6L1352.5 452.4L1354.0 452.1L1355.5 450.6L1357.0 449.2L1358.5 448.0L1360.0 447.0L1361.5 445.7L1363.0 444.5L1364.5 443.7L1366.0 443.1L1367.5 442.7L1369.0 442.5L1370.5 442.1L1372.0 442.4L1373.5 442.6L1375.0 442.6L1376.5 443.1L1378.0 443.7L1379.5 444.2L1381.0 444.2L1382.5 443.9L1384.0 443.9L1385.5 443.8L1387.0 443.8L1388.5 443.5L1390.0 442.9L1391.5 442.3L1393.0 441.6L1394.5 441.2L1396.0 440.7L1397.5 440.5L1399.0 440.4L1400.5 440.4L1402.0 440.1L1403.5 439.7L1405.0 439.6L1406.5 439.7L1408.0 439.5L1409.5 438.9L1411.0 438.2L1412.5 437.7L1414.0 437.3L1415.5 436.9L1417.0 436.2L1418.5 435.8L1420.0 436.1L1421.5 436.1L1423.0 436.2L1424.5 436.0L1426.0 435.8L1427.5 435.8L1429.0 435.7L1430.5 435.4L1432.0 435.4L1433.5 435.5L1435.0 435.2L1436.5 434.9L1438.0 434.5L1439.5 434.4L1441.0 434.9L1442.5 434.8L1444.0 434.5L1445.5 434.0L1447.0 433.6L1448.5 433.3L1450.0 432.8L1451.5 432.7L1453.0 432.8L1454.5 433.1L1456.0 427.8L1457.5 419.5L1459.0 418.5L1460.5 418.0L1462.0 417.9L1463.5 417.7L1465.0 417.1L1466.5 416.9L1468.0 416.6L1469.5 416.3L1471.0 416.1L1472.5 415.8L1474.0 415.2L1475.5 415.0L1477.0 416.5L1478.5 417.8L1480.0 419.3L1481.5 420.1L1483.0 420.6L1484.5 421.1L1486.0 421.1L1487.5 421.2L1489.0 421.9L1490.5 422.8L1492.0 423.8L1493.5 424.2L1495.0 424.3L1496.5 424.6L1498.0 424.8L1499.5 425.4L1501.0 425.6L1502.5 425.2L1504.0 425.1L1505.5 424.3L1507.0 423.8L1508.5 423.6L1510.0 423.0L1511.5 422.8L1513.0 422.5L1514.5 422.0L1516.0 421.4L1517.5 420.5L1519.0 419.4L1520.5 418.8L1522.0 418.5L1523.5 418.0L1525.0 417.5L1526.5 417.3L1528.0 417.4L1529.5 417.4L1531.0 417.3L1532.5 417.2L1534.0 417.0L1535.5 416.7L1537.0 416.3L1538.5 415.5L1540.0 415.2L1541.5 414.5L1543.0 413.7L1544.5 413.7L1546.0 414.5L1547.5 415.6L1549.0 416.3L1550.5 417.2L1552.0 417.9L1553.5 418.5L1555.0 419.1L1556.5 417.7L1558.0 416.8L1559.5 416.4L1561.0 416.6L1562.5 416.4L1564.0 416.4L1565.5 416.3L1567.0 415.8L1568.5 415.7L1570.0 415.2L1571.5 415.1L1573.0 415.0L1574.5 414.9L1576.0 414.8L1576.3 414.8L1576.3 525.6Z" fill="#e48503"/>
<path d="M565.0 377.6L566.5 376.9L568.0 375.9L569.5 375.7L571.0 375.6L572.5 375.6L574.0 375.1L575.5 374.3L577.0 373.5L578.5 373.1L580.0 373.1L581.5 373.6L583.0 373.9L584.5 374.3L586.0 375.0L587.5 375.1L589.0 375.6L590.5 376.2L592.0 376.9L593.5 377.6L595.0 378.1L596.5 379.0L598.0 379.2L599.5 378.5L601.0 378.2L602.5 377.6L604.0 377.5L605.5 376.8L607.0 376.1L608.5 376.2L610.0 375.3L611.5 375.6L613.0 375.3L614.5 374.9L616.0 374.8L617.5 375.6L619.0 377.8L620.5 379.4L622.0 380.5L623.5 381.1L625.0 383.1L626.5 386.6L628.0 387.6L629.5 388.3L631.0 386.7L632.5 385.0L634.0 382.0L635.5 379.9L637.0 381.6L638.5 382.6L640.0 383.4L641.5 385.5L643.0 386.5L644.5 387.3L646.0 387.7L647.5 387.6L649.0 387.1L650.5 387.1L652.0 387.4L653.5 387.9L655.0 388.0L656.5 387.9L658.0 388.3L659.5 388.7L661.0 389.2L662.5 388.6L664.0 387.9L665.5 387.4L667.0 385.6L668.5 382.5L670.0 381.7L671.5 381.7L673.0 382.9L674.5 384.2L676.0 384.8L677.5 384.8L679.0 384.6L680.5 385.5L682.0 386.9L683.5 388.6L685.0 389.4L686.5 390.2L688.0 391.2L689.5 392.1L691.0 392.4L692.5 392.1L694.0 390.7L695.5 390.1L697.0 389.9L698.5 390.0L700.0 390.0L701.5 390.3L703.0 390.9L704.5 390.9L706.0 391.0L707.5 390.3L709.0 389.4L710.5 388.7L712.0 388.7L713.5 389.7L715.0 391.1L716.5 391.9L718.0 392.8L719.5 392.6L721.0 392.5L722.5 392.9L724.0 393.2L725.5 393.9L727.0 394.2L728.5 394.4L730.0 394.8L731.5 395.6L733.0 396.5L734.5 398.1L736.0 399.2L737.5 399.8L739.0 399.4L740.5 398.8L742.0 399.3L743.5 400.2L745.0 400.9L746.5 401.4L748.0 401.9L749.5 401.6L751.0 402.1L752.5 402.7L754.0 402.7L755.5 402.9L757.0 403.0L758.5 402.9L760.0 403.4L761.5 403.4L763.0 403.0L764.5 402.9L766.0 402.6L767.5 402.2L769.0 402.0L770.5 401.7L772.0 401.6L773.5 402.3L775.0 402.7L776.5 403.7L778.0 404.1L779.5 404.1L781.0 404.0L782.5 403.8L784.0 404.1L785.5 404.8L787.0 405.5L788.5 405.5L790.0 405.3L791.5 405.1L793.0 404.3L794.5 404.8L796.0 405.1L797.5 405.4L799.0 406.1L800.5 405.3L802.0 404.9L803.5 404.5L805.0 404.8L806.5 405.4L808.0 405.4L809.5 404.9L811.0 404.1L812.5 404.4L814.0 404.8L815.5 405.2L817.0 405.6L818.5 405.3L820.0 404.7L821.5 404.2L823.0 403.6L824.5 403.5L826.0 403.5L827.5 403.1L829.0 402.3L830.5 402.1L832.0 401.9L833.5 402.4L835.0 403.7L836.5 403.4L838.0 403.8L839.5 403.5L841.0 403.1L842.5 402.9L844.0 402.5L845.5 401.7L847.0 400.9L848.5 400.4L850.0 400.7L851.5 401.5L853.0 401.4L854.5 400.6L856.0 399.2L857.5 398.5L859.0 398.4L860.5 398.3L862.0 397.9L863.5 397.0L865.0 396.3L866.5 395.2L868.0 394.7L869.5 393.7L871.0 393.0L872.5 392.5L874.0 392.5L875.5 392.5L877.0 392.0L878.5 391.4L880.0 390.6L881.5 390.4L883.0 390.1L884.5 389.3L886.0 388.6L887.5 388.3L889.0 388.0L890.5 388.1L892.0 388.0L893.5 387.6L895.0 387.9L896.5 388.1L898.0 387.5L899.5 385.6L901.0 383.1L902.5 382.0L904.0 382.1L905.5 382.7L907.0 382.5L908.5 381.8L910.0 381.2L911.5 380.9L913.0 380.3L914.5 379.6L916.0 379.2L917.5 379.0L919.0 379.3L920.5 379.1L922.0 378.5L923.5 377.8L925.0 376.7L926.5 376.1L928.0 375.9L929.5 375.9L931.0 376.3L932.5 375.9L934.0 375.0L935.5 374.1L937.0 373.7L938.5 373.9L940.0 373.1L941.5 371.9L943.0 370.4L944.5 369.5L946.0 369.5L947.5 368.8L949.0 367.4L950.5 365.5L952.0 364.7L953.5 365.0L955.0 365.8L956.5 366.5L958.0 366.5L959.5 365.8L961.0 364.7L962.5 363.5L964.0 362.5L965.5 361.3L967.0 359.5L968.5 357.2L970.0 354.9L971.5 352.9L973.0 352.3L974.5 351.7L976.0 350.6L977.5 349.8L979.0 349.6L980.5 349.1L982.0 349.6L983.5 349.9L985.0 349.3L986.5 347.7L988.0 346.2L989.5 345.6L991.0 346.2L992.5 347.3L994.0 346.8L995.5 346.3L997.0 345.3L998.5 344.9L1000.0 345.0L1001.5 344.9L1003.0 345.6L1004.5 346.4L1006.0 347.1L1007.5 347.3L1009.0 347.4L1010.5 346.9L1012.0 345.1L1013.5 342.9L1015.0 340.8L1016.5 340.2L1018.0 340.1L1019.5 339.6L1021.0 338.9L1022.5 337.5L1024.0 338.9L1025.5 340.5L1027.0 341.7L1028.5 343.8L1030.0 345.3L1031.5 346.5L1033.0 345.6L1034.5 344.4L1036.0 342.6L1037.5 340.1L1039.0 337.7L1040.5 336.3L1042.0 337.2L1043.5 337.8L1045.0 337.9L1046.5 337.3L1048.0 336.6L1049.5 335.7L1051.0 336.2L1052.5 336.8L1054.0 338.1L1055.5 339.4L1057.0 339.8L1058.5 339.9L1060.0 339.6L1061.5 341.0L1063.0 342.9L1064.5 344.3L1066.0 345.5L1067.5 347.2L1069.0 347.2L1070.5 347.3L1072.0 346.4L1073.5 345.0L1075.0 344.5L1076.5 344.7L1078.0 345.7L1079.5 345.7L1081.0 344.9L1082.5 343.7L1084.0 343.0L1085.5 342.5L1086.7 341.9L1089.7 452.0L1091.5 456.1L1093.0 458.3L1094.5 459.8L1096.0 461.3L1097.5 461.8L1099.0 462.6L1100.5 463.6L1102.0 464.5L1103.5 465.6L1105.0 466.9L1106.5 468.0L1108.0 469.5L1109.5 471.1L1111.0 471.4L1112.5 471.5L1114.0 471.3L1115.5 471.5L1117.0 472.0L1118.5 471.9L1120.0 471.9L1121.5 472.0L1123.0 472.0L1124.5 472.2L1126.0 472.3L1127.5 472.6L1129.0 472.9L1130.5 473.2L1132.0 473.4L1133.5 473.5L1135.0 473.8L1136.5 474.3L1138.0 474.3L1139.5 474.2L1141.0 473.7L1142.5 473.4L1144.0 473.7L1145.5 473.7L1147.0 473.6L1148.5 473.7L1150.0 473.7L1151.5 474.0L1153.0 474.0L1154.5 473.6L1156.0 473.7L1157.5 473.3L1159.0 473.5L1160.5 473.4L1162.0 473.5L1163.5 473.5L1165.0 473.0L1166.5 472.9L1168.0 472.9L1169.5 473.3L1171.0 473.7L1172.5 474.2L1174.0 474.6L1175.5 475.0L1177.0 475.3L1178.5 475.4L1180.0 475.2L1181.5 474.8L1183.0 475.1L1184.5 475.2L1186.0 475.2L1187.5 475.2L1189.0 475.1L1190.5 475.3L1192.0 475.4L1193.5 475.5L1195.0 475.4L1196.5 475.2L1198.0 474.9L1199.5 474.8L1201.0 475.0L1202.5 474.8L1204.0 474.7L1205.5 474.8L1207.0 474.9L1208.5 474.9L1210.0 474.5L1211.5 473.9L1213.0 473.5L1214.5 473.2L1216.0 473.3L1217.5 473.2L1219.0 473.1L1220.5 472.9L1222.0 473.0L1223.5 472.9L1225.0 472.8L1226.5 472.3L1228.0 472.1L1229.5 472.4L1231.0 472.5L1232.5 472.8L1234.0 472.4L1235.5 472.6L1237.0 472.5L1238.5 472.5L1240.0 472.5L1241.5 472.4L1243.0 472.4L1244.5 471.7L1246.0 471.2L1247.5 470.8L1249.0 470.5L1250.5 470.2L1252.0 469.7L1253.5 469.4L1255.0 469.2L1256.5 469.0L1258.0 468.6L1259.5 468.2L1261.0 467.5L1262.5 466.8L1264.0 466.3L1265.5 465.5L1267.0 464.8L1268.5 464.3L1270.0 463.7L1271.5 463.1L1273.0 462.8L1274.5 463.4L1276.0 464.0L1277.5 464.4L1279.0 464.9L1280.5 465.2L1282.0 464.8L1283.5 464.7L1285.0 464.2L1286.5 463.8L1288.0 463.4L1289.5 462.8L1291.0 462.3L1292.5 461.8L1294.0 461.3L1295.5 460.8L1297.0 461.1L1298.5 462.2L1300.0 463.2L1301.5 462.6L1303.0 462.1L1304.5 461.5L1306.0 461.0L1307.5 460.6L1309.0 460.0L1310.5 459.3L1312.0 458.9L1313.5 458.4L1315.0 458.2L1316.5 457.9L1318.0 457.8L1319.5 457.6L1321.0 456.9L1322.5 456.2L1324.0 455.2L1325.5 454.8L1327.0 454.4L1328.5 454.3L1330.0 454.3L1331.5 454.0L1333.0 453.5L1334.5 453.2L1336.0 453.2L1337.5 453.3L1339.0 453.1L1340.5 452.7L1342.0 452.3L1343.5 451.8L1345.0 451.4L1346.5 450.3L1348.0 449.3L1349.5 448.3L1351.0 449.6L1352.5 452.4L1354.0 452.1L1355.5 450.6L1357.0 449.2L1358.5 448.0L1360.0 447.0L1361.5 445.7L1363.0 444.5L1364.5 443.7L1366.0 443.1L1367.5 442.7L1369.0 442.5L1370.5 442.1L1372.0 442.4L1373.5 442.6L1375.0 442.6L1376.5 443.1L1378.0 443.7L1379.5 444.2L1381.0 444.2L1382.5 443.9L1384.0 443.9L1385.5 443.8L1387.0 443.8L1388.5 443.5L1390.0 442.9L1391.5 442.3L1393.0 441.6L1394.5 441.2L1396.0 440.7L1397.5 440.5L1399.0 440.4L1400.5 440.4L1402.0 440.1L1403.5 439.7L1405.0 439.6L1406.5 439.7L1408.0 439.5L1409.5 438.9L1411.0 438.2L1412.5 437.7L1414.0 437.3L1415.5 436.9L1417.0 436.2L1418.5 435.8L1420.0 436.1L1421.5 436.1L1423.0 436.2L1424.5 436.0L1426.0 435.8L1427.5 435.8L1429.0 435.7L1430.5 435.4L1432.0 435.4L1433.5 435.5L1435.0 435.2L1436.5 434.9L1438.0 434.5L1439.5 434.4L1441.0 434.9L1442.5 434.8L1444.0 434.5L1445.5 434.0L1447.0 433.6L1448.5 433.3L1450.0 432.8L1451.5 432.7L1453.0 432.8L1454.5 433.1L1456.0 427.8L1457.5 419.5L1459.0 418.5L1460.5 418.0L1462.0 417.9L1463.5 417.7L1465.0 417.1L1466.5 416.9L1468.0 416.6L1469.5 416.3L1471.0 416.1L1472.5 415.8L1474.0 415.2L1475.5 415.0L1477.0 416.5L1478.5 417.8L1480.0 419.3L1481.5 420.1L1483.0 420.6L1484.5 421.1L1486.0 421.1L1487.5 421.2L1489.0 421.9L1490.5 422.8L1492.0 423.8L1493.5 424.2L1495.0 424.3L1496.5 424.6L1498.0 424.8L1499.5 425.4L1501.0 425.6L1502.5 425.2L1504.0 425.1L1505.5 424.3L1507.0 423.8L1508.5 423.6L1510.0 423.0L1511.5 422.8L1513.0 422.5L1514.5 422.0L1516.0 421.4L1517.5 420.5L1519.0 419.4L1520.5 418.8L1522.0 418.5L1523.5 418.0L1525.0 417.5L1526.5 417.3L1528.0 417.4L1529.5 417.4L1531.0 417.3L1532.5 417.2L1534.0 417.0L1535.5 416.7L1537.0 416.3L1538.5 415.5L1540.0 415.2L1541.5 414.5L1543.0 413.7L1544.5 413.7L1546.0 414.5L1547.5 415.6L1549.0 416.3L1550.5 417.2L1552.0 417.9L1553.5 418.5L1555.0 419.1L1556.5 417.7L1558.0 416.8L1559.5 416.4L1561.0 416.6L1562.5 416.4L1564.0 416.4L1565.5 416.3L1567.0 415.8L1568.5 415.7L1570.0 415.2L1571.5 415.1L1573.0 415.0L1574.5 414.9L1576.0 414.8L1576.3 414.8" fill="none" stroke="#505656" stroke-width="1.25" stroke-opacity="0.90"/>
<path d="M565.0 525.6L565.0 377.6L566.5 376.9L568.0 375.9L569.5 375.7L571.0 375.6L572.5 375.6L574.0 375.1L575.5 374.3L577.0 373.5L578.5 373.1L580.0 373.1L581.5 373.6L583.0 373.9L584.5 374.3L586.0 375.0L587.5 375.1L589.0 375.6L590.5 376.2L592.0 376.9L593.5 377.6L595.0 378.1L596.5 379.0L598.0 379.2L599.5 378.5L601.0 378.2L602.5 377.6L604.0 377.5L605.5 376.8L607.0 376.1L608.5 376.2L610.0 375.3L611.5 375.6L613.0 375.3L614.5 374.9L616.0 374.8L617.5 375.6L619.0 377.8L620.5 379.4L622.0 380.5L623.5 381.1L625.0 383.1L626.5 386.6L628.0 387.6L629.5 388.3L631.0 386.7L632.5 385.0L634.0 382.0L635.5 379.9L637.0 381.6L638.5 382.6L640.0 383.4L641.5 385.5L643.0 386.5L644.5 387.3L646.0 387.7L647.5 387.6L649.0 387.1L650.5 387.1L652.0 387.4L653.5 387.9L655.0 388.0L656.5 387.9L658.0 388.3L659.5 388.7L661.0 389.2L662.5 388.6L664.0 387.9L665.5 387.4L667.0 385.6L668.5 382.5L670.0 381.7L671.5 381.7L673.0 382.9L674.5 384.2L676.0 384.8L677.5 384.8L679.0 384.6L680.5 385.5L682.0 386.9L683.5 388.6L685.0 389.4L686.5 390.2L688.0 391.2L689.5 392.1L691.0 392.4L692.5 392.1L694.0 390.7L695.5 390.1L697.0 389.9L698.5 390.0L700.0 390.0L701.5 390.3L703.0 390.9L704.5 390.9L706.0 391.0L707.5 390.3L709.0 389.4L710.5 388.7L712.0 388.7L713.5 389.7L715.0 391.1L716.5 391.9L718.0 392.8L719.5 392.6L721.0 392.5L722.5 392.9L724.0 393.2L725.5 393.9L727.0 394.2L728.5 394.4L730.0 394.8L731.5 395.6L733.0 396.5L734.5 398.1L736.0 399.2L737.5 399.8L739.0 399.4L740.5 398.8L742.0 399.3L743.5 400.2L745.0 400.9L746.5 401.4L748.0 401.9L749.5 401.6L751.0 402.1L752.5 402.7L754.0 402.7L755.5 402.9L757.0 403.0L758.5 402.9L760.0 403.4L761.5 403.4L763.0 403.0L764.5 402.9L766.0 402.6L767.5 402.2L769.0 402.0L770.5 401.7L772.0 401.6L773.5 402.3L775.0 402.7L776.5 403.7L778.0 404.1L779.5 404.1L781.0 404.0L782.5 403.8L784.0 404.1L785.5 404.8L787.0 405.5L788.5 405.5L790.0 405.3L791.5 405.1L793.0 404.3L794.5 404.8L796.0 405.1L797.5 405.4L799.0 406.1L800.5 405.3L802.0 404.9L803.5 404.5L805.0 404.8L806.5 405.4L808.0 405.4L809.5 404.9L811.0 404.1L812.5 404.4L814.0 404.8L815.5 405.2L817.0 405.6L818.5 405.3L820.0 404.7L821.5 404.2L823.0 403.6L824.5 403.5L826.0 403.5L827.5 403.1L829.0 402.3L830.5 402.1L832.0 401.9L833.5 402.4L835.0 403.7L836.5 403.4L838.0 403.8L839.5 403.5L841.0 403.1L842.5 402.9L844.0 402.5L845.5 401.7L847.0 400.9L848.5 400.4L850.0 400.7L851.5 401.5L853.0 401.4L854.5 400.6L856.0 399.2L857.5 398.5L859.0 398.4L860.5 398.3L862.0 397.9L863.5 397.0L865.0 396.3L866.5 395.2L868.0 394.7L869.5 393.7L871.0 393.0L872.5 392.5L874.0 392.5L875.5 392.5L877.0 392.0L878.5 391.4L880.0 390.6L881.5 390.4L883.0 390.1L884.5 389.3L886.0 388.6L887.5 388.3L889.0 388.0L890.5 388.1L892.0 388.0L893.5 387.6L895.0 387.9L896.5 388.1L898.0 387.5L899.5 385.6L901.0 383.1L902.5 382.0L904.0 382.1L905.5 382.7L907.0 382.5L908.5 381.8L910.0 381.2L911.5 380.9L913.0 380.3L914.5 379.6L916.0 379.4L917.5 379.9L919.0 380.7L920.5 381.0L922.0 380.9L923.5 381.1L925.0 381.1L926.5 381.4L928.0 382.1L929.5 383.6L931.0 386.2L932.5 388.0L934.0 388.7L935.5 389.8L937.0 392.1L938.5 395.1L940.0 397.0L941.5 398.3L943.0 398.9L944.5 400.8L946.0 403.4L947.5 405.6L949.0 407.2L950.5 407.7L952.0 408.8L953.5 410.7L955.0 412.7L956.5 414.8L958.0 416.0L959.5 416.6L961.0 417.9L962.5 419.5L964.0 421.4L965.5 423.1L967.0 423.9L968.5 425.5L970.0 427.8L971.5 430.1L973.0 431.8L974.5 433.5L976.0 434.3L977.5 435.4L979.0 436.8L980.5 437.9L982.0 440.0L983.5 441.6L985.0 442.7L986.5 441.9L988.0 441.2L989.5 441.4L991.0 443.0L992.5 445.3L994.0 446.2L995.5 446.6L997.0 446.4L998.5 446.4L1000.0 446.3L1001.5 446.4L1003.0 447.0L1004.5 447.9L1006.0 448.8L1007.5 449.2L1009.0 449.6L1010.5 449.9L1012.0 449.2L1013.5 448.2L1015.0 447.2L1016.5 447.4L1018.0 448.2L1019.5 448.7L1021.0 449.2L1022.5 449.1L1024.0 449.1L1025.5 449.1L1027.0 448.6L1028.5 448.7L1030.0 448.4L1031.5 448.2L1033.0 448.3L1034.5 448.5L1036.0 448.4L1037.5 447.8L1039.0 447.6L1040.5 447.6L1042.0 448.6L1043.5 449.1L1045.0 448.9L1046.5 449.1L1048.0 449.1L1049.5 449.1L1051.0 449.2L1052.5 449.0L1054.0 449.7L1055.5 450.7L1057.0 451.3L1058.5 451.2L1060.0 450.7L1061.5 450.6L1063.0 450.8L1064.5 450.9L1066.0 450.4L1067.5 450.8L1069.0 451.2L1070.5 451.4L1072.0 450.9L1073.5 450.0L1075.0 449.7L1076.5 450.1L1078.0 451.1L1079.5 451.1L1081.0 450.9L1082.5 449.9L1084.0 449.3L1085.5 449.1L1086.7 448.8L1089.7 497.2L1091.5 497.6L1093.0 497.8L1094.5 497.7L1096.0 497.7L1097.5 497.7L1099.0 497.7L1100.5 498.0L1102.0 498.2L1103.5 498.4L1105.0 498.7L1106.5 498.7L1108.0 498.9L1109.5 499.2L1111.0 499.0L1112.5 498.9L1114.0 498.5L1115.5 498.5L1117.0 498.7L1118.5 498.5L1120.0 498.6L1121.5 498.7L1123.0 498.8L1124.5 498.9L1126.0 498.9L1127.5 498.9L1129.0 499.2L1130.5 499.3L1132.0 499.6L1133.5 499.8L1135.0 499.8L1136.5 500.1L1138.0 499.9L1139.5 499.8L1141.0 499.6L1142.5 499.4L1144.0 499.8L1145.5 499.8L1147.0 499.7L1148.5 500.0L1150.0 499.9L1151.5 500.2L1153.0 500.0L1154.5 499.7L1156.0 499.8L1157.5 499.5L1159.0 499.7L1160.5 499.5L1162.0 499.7L1163.5 499.8L1165.0 499.6L1166.5 499.7L1168.0 499.8L1169.5 500.2L1171.0 500.7L1172.5 500.9L1174.0 501.1L1175.5 501.2L1177.0 501.3L1178.5 501.2L1180.0 501.1L1181.5 500.8L1183.0 500.9L1184.5 500.9L1186.0 500.8L1187.5 500.8L1189.0 500.8L1190.5 501.1L1192.0 501.3L1193.5 501.2L1195.0 501.0L1196.5 500.7L1198.0 500.5L1199.5 500.6L1201.0 500.8L1202.5 500.6L1204.0 500.4L1205.5 500.4L1207.0 500.5L1208.5 500.5L1210.0 500.2L1211.5 499.8L1213.0 499.4L1214.5 499.1L1216.0 499.0L1217.5 498.8L1219.0 498.7L1220.5 498.8L1222.0 498.9L1223.5 498.8L1225.0 498.5L1226.5 497.8L1228.0 497.7L1229.5 498.0L1231.0 498.2L1232.5 498.3L1234.0 497.8L1235.5 497.7L1237.0 497.5L1238.5 497.5L1240.0 497.4L1241.5 497.1L1243.0 497.1L1244.5 496.4L1246.0 495.9L1247.5 495.4L1249.0 495.1L1250.5 494.8L1252.0 494.5L1253.5 494.4L1255.0 494.4L1256.5 494.6L1258.0 494.3L1259.5 493.9L1261.0 493.6L1262.5 493.6L1264.0 493.6L1265.5 492.7L1267.0 491.6L1268.5 490.5L1270.0 489.3L1271.5 488.1L1273.0 488.2L1274.5 488.5L1276.0 488.9L1277.5 488.7L1279.0 488.3L1280.5 487.9L1282.0 487.6L1283.5 487.5L1285.0 487.0L1286.5 486.7L1288.0 486.4L1289.5 485.9L1291.0 485.7L1292.5 485.4L1294.0 485.2L1295.5 485.0L1297.0 484.7L1298.5 485.2L1300.0 486.0L1301.5 486.1L1303.0 485.7L1304.5 485.2L1306.0 484.8L1307.5 484.6L1309.0 484.2L1310.5 483.7L1312.0 483.3L1313.5 482.9L1315.0 482.6L1316.5 482.4L1318.0 482.2L1319.5 481.8L1321.0 481.1L1322.5 480.4L1324.0 479.7L1325.5 479.3L1327.0 478.9L1328.5 478.6L1330.0 478.6L1331.5 478.2L1333.0 477.6L1334.5 477.3L1336.0 477.2L1337.5 477.2L1339.0 477.1L1340.5 476.8L1342.0 476.5L1343.5 475.2L1345.0 473.7L1346.5 472.3L1348.0 471.0L1349.5 469.7L1351.0 468.6L1352.5 470.6L1354.0 472.2L1355.5 469.7L1357.0 467.3L1358.5 466.5L1360.0 465.9L1361.5 465.2L1363.0 464.4L1364.5 463.7L1366.0 463.1L1367.5 462.6L1369.0 462.3L1370.5 461.5L1372.0 460.6L1373.5 459.6L1375.0 458.9L1376.5 458.6L1378.0 458.3L1379.5 458.0L1381.0 457.7L1382.5 457.4L1384.0 457.4L1385.5 457.3L1387.0 457.2L1388.5 457.0L1390.0 456.5L1391.5 456.0L1393.0 455.3L1394.5 454.9L1396.0 454.5L1397.5 454.3L1399.0 454.0L1400.5 453.9L1402.0 453.6L1403.5 453.3L1405.0 453.3L1406.5 453.5L1408.0 453.3L1409.5 452.6L1411.0 451.9L1412.5 451.4L1414.0 451.0L1415.5 450.6L1417.0 450.0L1418.5 449.8L1420.0 450.0L1421.5 450.1L1423.0 450.3L1424.5 450.1L1426.0 449.9L1427.5 449.9L1429.0 449.7L1430.5 449.5L1432.0 449.5L1433.5 449.5L1435.0 449.3L1436.5 448.9L1438.0 448.6L1439.5 448.6L1441.0 449.2L1442.5 449.3L1444.0 449.2L1445.5 448.9L1447.0 448.5L1448.5 448.3L1450.0 447.9L1451.5 447.5L1453.0 447.3L1454.5 447.3L1456.0 441.9L1457.5 435.9L1459.0 434.9L1460.5 434.2L1462.0 433.9L1463.5 433.5L1465.0 432.9L1466.5 432.4L1468.0 431.9L1469.5 431.4L1471.0 430.9L1472.5 430.5L1474.0 430.0L1475.5 430.2L1477.0 431.0L1478.5 431.5L1480.0 432.2L1481.5 432.6L1483.0 432.2L1484.5 432.0L1486.0 431.4L1487.5 430.9L1489.0 431.1L1490.5 431.4L1492.0 431.8L1493.5 431.9L1495.0 431.6L1496.5 431.6L1498.0 431.6L1499.5 431.8L1501.0 431.9L1502.5 431.3L1504.0 430.9L1505.5 430.1L1507.0 429.9L1508.5 430.0L1510.0 429.7L1511.5 429.6L1513.0 429.5L1514.5 428.9L1516.0 428.3L1517.5 427.6L1519.0 426.6L1520.5 426.2L1522.0 425.9L1523.5 425.3L1525.0 424.9L1526.5 424.7L1528.0 424.6L1529.5 424.6L1531.0 424.5L1532.5 424.4L1534.0 424.2L1535.5 423.9L1537.0 423.6L1538.5 423.3L1540.0 423.5L1541.5 423.2L1543.0 422.7L1544.5 422.1L1546.0 422.2L1547.5 423.2L1549.0 424.1L1550.5 424.8L1552.0 425.2L1553.5 425.5L1555.0 425.7L1556.5 425.0L1558.0 423.9L1559.5 423.2L1561.0 423.0L1562.5 422.4L1564.0 422.0L1565.5 421.6L1567.0 421.0L1568.5 420.7L1570.0 420.0L1571.5 419.8L1573.0 419.8L1574.5 419.8L1576.0 419.6L1576.3 419.7L1576.3 525.6Z" fill="#6fb128"/>
<path d="M565.0 377.6L566.5 376.9L568.0 375.9L569.5 375.7L571.0 375.6L572.5 375.6L574.0 375.1L575.5 374.3L577.0 373.5L578.5 373.1L580.0 373.1L581.5 373.6L583.0 373.9L584.5 374.3L586.0 375.0L587.5 375.1L589.0 375.6L590.5 376.2L592.0 376.9L593.5 377.6L595.0 378.1L596.5 379.0L598.0 379.2L599.5 378.5L601.0 378.2L602.5 377.6L604.0 377.5L605.5 376.8L607.0 376.1L608.5 376.2L610.0 375.3L611.5 375.6L613.0 375.3L614.5 374.9L616.0 374.8L617.5 375.6L619.0 377.8L620.5 379.4L622.0 380.5L623.5 381.1L625.0 383.1L626.5 386.6L628.0 387.6L629.5 388.3L631.0 386.7L632.5 385.0L634.0 382.0L635.5 379.9L637.0 381.6L638.5 382.6L640.0 383.4L641.5 385.5L643.0 386.5L644.5 387.3L646.0 387.7L647.5 387.6L649.0 387.1L650.5 387.1L652.0 387.4L653.5 387.9L655.0 388.0L656.5 387.9L658.0 388.3L659.5 388.7L661.0 389.2L662.5 388.6L664.0 387.9L665.5 387.4L667.0 385.6L668.5 382.5L670.0 381.7L671.5 381.7L673.0 382.9L674.5 384.2L676.0 384.8L677.5 384.8L679.0 384.6L680.5 385.5L682.0 386.9L683.5 388.6L685.0 389.4L686.5 390.2L688.0 391.2L689.5 392.1L691.0 392.4L692.5 392.1L694.0 390.7L695.5 390.1L697.0 389.9L698.5 390.0L700.0 390.0L701.5 390.3L703.0 390.9L704.5 390.9L706.0 391.0L707.5 390.3L709.0 389.4L710.5 388.7L712.0 388.7L713.5 389.7L715.0 391.1L716.5 391.9L718.0 392.8L719.5 392.6L721.0 392.5L722.5 392.9L724.0 393.2L725.5 393.9L727.0 394.2L728.5 394.4L730.0 394.8L731.5 395.6L733.0 396.5L734.5 398.1L736.0 399.2L737.5 399.8L739.0 399.4L740.5 398.8L742.0 399.3L743.5 400.2L745.0 400.9L746.5 401.4L748.0 401.9L749.5 401.6L751.0 402.1L752.5 402.7L754.0 402.7L755.5 402.9L757.0 403.0L758.5 402.9L760.0 403.4L761.5 403.4L763.0 403.0L764.5 402.9L766.0 402.6L767.5 402.2L769.0 402.0L770.5 401.7L772.0 401.6L773.5 402.3L775.0 402.7L776.5 403.7L778.0 404.1L779.5 404.1L781.0 404.0L782.5 403.8L784.0 404.1L785.5 404.8L787.0 405.5L788.5 405.5L790.0 405.3L791.5 405.1L793.0 404.3L794.5 404.8L796.0 405.1L797.5 405.4L799.0 406.1L800.5 405.3L802.0 404.9L803.5 404.5L805.0 404.8L806.5 405.4L808.0 405.4L809.5 404.9L811.0 404.1L812.5 404.4L814.0 404.8L815.5 405.2L817.0 405.6L818.5 405.3L820.0 404.7L821.5 404.2L823.0 403.6L824.5 403.5L826.0 403.5L827.5 403.1L829.0 402.3L830.5 402.1L832.0 401.9L833.5 402.4L835.0 403.7L836.5 403.4L838.0 403.8L839.5 403.5L841.0 403.1L842.5 402.9L844.0 402.5L845.5 401.7L847.0 400.9L848.5 400.4L850.0 400.7L851.5 401.5L853.0 401.4L854.5 400.6L856.0 399.2L857.5 398.5L859.0 398.4L860.5 398.3L862.0 397.9L863.5 397.0L865.0 396.3L866.5 395.2L868.0 394.7L869.5 393.7L871.0 393.0L872.5 392.5L874.0 392.5L875.5 392.5L877.0 392.0L878.5 391.4L880.0 390.6L881.5 390.4L883.0 390.1L884.5 389.3L886.0 388.6L887.5 388.3L889.0 388.0L890.5 388.1L892.0 388.0L893.5 387.6L895.0 387.9L896.5 388.1L898.0 387.5L899.5 385.6L901.0 383.1L902.5 382.0L904.0 382.1L905.5 382.7L907.0 382.5L908.5 381.8L910.0 381.2L911.5 380.9L913.0 380.3L914.5 379.6L916.0 379.4L917.5 379.9L919.0 380.7L920.5 381.0L922.0 380.9L923.5 381.1L925.0 381.1L926.5 381.4L928.0 382.1L929.5 383.6L931.0 386.2L932.5 388.0L934.0 388.7L935.5 389.8L937.0 392.1L938.5 395.1L940.0 397.0L941.5 398.3L943.0 398.9L944.5 400.8L946.0 403.4L947.5 405.6L949.0 407.2L950.5 407.7L952.0 408.8L953.5 410.7L955.0 412.7L956.5 414.8L958.0 416.0L959.5 416.6L961.0 417.9L962.5 419.5L964.0 421.4L965.5 423.1L967.0 423.9L968.5 425.5L970.0 427.8L971.5 430.1L973.0 431.8L974.5 433.5L976.0 434.3L977.5 435.4L979.0 436.8L980.5 437.9L982.0 440.0L983.5 441.6L985.0 442.7L986.5 441.9L988.0 441.2L989.5 441.4L991.0 443.0L992.5 445.3L994.0 446.2L995.5 446.6L997.0 446.4L998.5 446.4L1000.0 446.3L1001.5 446.4L1003.0 447.0L1004.5 447.9L1006.0 448.8L1007.5 449.2L1009.0 449.6L1010.5 449.9L1012.0 449.2L1013.5 448.2L1015.0 447.2L1016.5 447.4L1018.0 448.2L1019.5 448.7L1021.0 449.2L1022.5 449.1L1024.0 449.1L1025.5 449.1L1027.0 448.6L1028.5 448.7L1030.0 448.4L1031.5 448.2L1033.0 448.3L1034.5 448.5L1036.0 448.4L1037.5 447.8L1039.0 447.6L1040.5 447.6L1042.0 448.6L1043.5 449.1L1045.0 448.9L1046.5 449.1L1048.0 449.1L1049.5 449.1L1051.0 449.2L1052.5 449.0L1054.0 449.7L1055.5 450.7L1057.0 451.3L1058.5 451.2L1060.0 450.7L1061.5 450.6L1063.0 450.8L1064.5 450.9L1066.0 450.4L1067.5 450.8L1069.0 451.2L1070.5 451.4L1072.0 450.9L1073.5 450.0L1075.0 449.7L1076.5 450.1L1078.0 451.1L1079.5 451.1L1081.0 450.9L1082.5 449.9L1084.0 449.3L1085.5 449.1L1086.7 448.8L1089.7 497.2L1091.5 497.6L1093.0 497.8L1094.5 497.7L1096.0 497.7L1097.5 497.7L1099.0 497.7L1100.5 498.0L1102.0 498.2L1103.5 498.4L1105.0 498.7L1106.5 498.7L1108.0 498.9L1109.5 499.2L1111.0 499.0L1112.5 498.9L1114.0 498.5L1115.5 498.5L1117.0 498.7L1118.5 498.5L1120.0 498.6L1121.5 498.7L1123.0 498.8L1124.5 498.9L1126.0 498.9L1127.5 498.9L1129.0 499.2L1130.5 499.3L1132.0 499.6L1133.5 499.8L1135.0 499.8L1136.5 500.1L1138.0 499.9L1139.5 499.8L1141.0 499.6L1142.5 499.4L1144.0 499.8L1145.5 499.8L1147.0 499.7L1148.5 500.0L1150.0 499.9L1151.5 500.2L1153.0 500.0L1154.5 499.7L1156.0 499.8L1157.5 499.5L1159.0 499.7L1160.5 499.5L1162.0 499.7L1163.5 499.8L1165.0 499.6L1166.5 499.7L1168.0 499.8L1169.5 500.2L1171.0 500.7L1172.5 500.9L1174.0 501.1L1175.5 501.2L1177.0 501.3L1178.5 501.2L1180.0 501.1L1181.5 500.8L1183.0 500.9L1184.5 500.9L1186.0 500.8L1187.5 500.8L1189.0 500.8L1190.5 501.1L1192.0 501.3L1193.5 501.2L1195.0 501.0L1196.5 500.7L1198.0 500.5L1199.5 500.6L1201.0 500.8L1202.5 500.6L1204.0 500.4L1205.5 500.4L1207.0 500.5L1208.5 500.5L1210.0 500.2L1211.5 499.8L1213.0 499.4L1214.5 499.1L1216.0 499.0L1217.5 498.8L1219.0 498.7L1220.5 498.8L1222.0 498.9L1223.5 498.8L1225.0 498.5L1226.5 497.8L1228.0 497.7L1229.5 498.0L1231.0 498.2L1232.5 498.3L1234.0 497.8L1235.5 497.7L1237.0 497.5L1238.5 497.5L1240.0 497.4L1241.5 497.1L1243.0 497.1L1244.5 496.4L1246.0 495.9L1247.5 495.4L1249.0 495.1L1250.5 494.8L1252.0 494.5L1253.5 494.4L1255.0 494.4L1256.5 494.6L1258.0 494.3L1259.5 493.9L1261.0 493.6L1262.5 493.6L1264.0 493.6L1265.5 492.7L1267.0 491.6L1268.5 490.5L1270.0 489.3L1271.5 488.1L1273.0 488.2L1274.5 488.5L1276.0 488.9L1277.5 488.7L1279.0 488.3L1280.5 487.9L1282.0 487.6L1283.5 487.5L1285.0 487.0L1286.5 486.7L1288.0 486.4L1289.5 485.9L1291.0 485.7L1292.5 485.4L1294.0 485.2L1295.5 485.0L1297.0 484.7L1298.5 485.2L1300.0 486.0L1301.5 486.1L1303.0 485.7L1304.5 485.2L1306.0 484.8L1307.5 484.6L1309.0 484.2L1310.5 483.7L1312.0 483.3L1313.5 482.9L1315.0 482.6L1316.5 482.4L1318.0 482.2L1319.5 481.8L1321.0 481.1L1322.5 480.4L1324.0 479.7L1325.5 479.3L1327.0 478.9L1328.5 478.6L1330.0 478.6L1331.5 478.2L1333.0 477.6L1334.5 477.3L1336.0 477.2L1337.5 477.2L1339.0 477.1L1340.5 476.8L1342.0 476.5L1343.5 475.2L1345.0 473.7L1346.5 472.3L1348.0 471.0L1349.5 469.7L1351.0 468.6L1352.5 470.6L1354.0 472.2L1355.5 469.7L1357.0 467.3L1358.5 466.5L1360.0 465.9L1361.5 465.2L1363.0 464.4L1364.5 463.7L1366.0 463.1L1367.5 462.6L1369.0 462.3L1370.5 461.5L1372.0 460.6L1373.5 459.6L1375.0 458.9L1376.5 458.6L1378.0 458.3L1379.5 458.0L1381.0 457.7L1382.5 457.4L1384.0 457.4L1385.5 457.3L1387.0 457.2L1388.5 457.0L1390.0 456.5L1391.5 456.0L1393.0 455.3L1394.5 454.9L1396.0 454.5L1397.5 454.3L1399.0 454.0L1400.5 453.9L1402.0 453.6L1403.5 453.3L1405.0 453.3L1406.5 453.5L1408.0 453.3L1409.5 452.6L1411.0 451.9L1412.5 451.4L1414.0 451.0L1415.5 450.6L1417.0 450.0L1418.5 449.8L1420.0 450.0L1421.5 450.1L1423.0 450.3L1424.5 450.1L1426.0 449.9L1427.5 449.9L1429.0 449.7L1430.5 449.5L1432.0 449.5L1433.5 449.5L1435.0 449.3L1436.5 448.9L1438.0 448.6L1439.5 448.6L1441.0 449.2L1442.5 449.3L1444.0 449.2L1445.5 448.9L1447.0 448.5L1448.5 448.3L1450.0 447.9L1451.5 447.5L1453.0 447.3L1454.5 447.3L1456.0 441.9L1457.5 435.9L1459.0 434.9L1460.5 434.2L1462.0 433.9L1463.5 433.5L1465.0 432.9L1466.5 432.4L1468.0 431.9L1469.5 431.4L1471.0 430.9L1472.5 430.5L1474.0 430.0L1475.5 430.2L1477.0 431.0L1478.5 431.5L1480.0 432.2L1481.5 432.6L1483.0 432.2L1484.5 432.0L1486.0 431.4L1487.5 430.9L1489.0 431.1L1490.5 431.4L1492.0 431.8L1493.5 431.9L1495.0 431.6L1496.5 431.6L1498.0 431.6L1499.5 431.8L1501.0 431.9L1502.5 431.3L1504.0 430.9L1505.5 430.1L1507.0 429.9L1508.5 430.0L1510.0 429.7L1511.5 429.6L1513.0 429.5L1514.5 428.9L1516.0 428.3L1517.5 427.6L1519.0 426.6L1520.5 426.2L1522.0 425.9L1523.5 425.3L1525.0 424.9L1526.5 424.7L1528.0 424.6L1529.5 424.6L1531.0 424.5L1532.5 424.4L1534.0 424.2L1535.5 423.9L1537.0 423.6L1538.5 423.3L1540.0 423.5L1541.5 423.2L1543.0 422.7L1544.5 422.1L1546.0 422.2L1547.5 423.2L1549.0 424.1L1550.5 424.8L1552.0 425.2L1553.5 425.5L1555.0 425.7L1556.5 425.0L1558.0 423.9L1559.5 423.2L1561.0 423.0L1562.5 422.4L1564.0 422.0L1565.5 421.6L1567.0 421.0L1568.5 420.7L1570.0 420.0L1571.5 419.8L1573.0 419.8L1574.5 419.8L1576.0 419.6L1576.3 419.7" fill="none" stroke="#505656" stroke-width="1.25" stroke-opacity="0.90"/>
<path d="M565.0 525.6L565.0 421.7L566.5 421.2L568.0 420.5L569.5 420.0L571.0 419.7L572.5 419.3L574.0 419.0L575.5 418.5L577.0 418.1L578.5 417.9L580.0 417.7L581.5 417.8L583.0 417.5L584.5 417.9L586.0 418.4L587.5 418.5L589.0 418.8L590.5 418.7L592.0 419.1L593.5 419.8L595.0 420.2L596.5 420.9L598.0 421.2L599.5 421.1L601.0 421.3L602.5 420.9L604.0 420.4L605.5 420.2L607.0 420.1L608.5 421.1L610.0 421.6L611.5 422.6L613.0 422.8L614.5 422.7L616.0 422.7L617.5 422.7L619.0 424.1L620.5 424.1L622.0 423.9L623.5 422.9L625.0 422.2L626.5 423.7L628.0 425.1L629.5 426.2L631.0 425.7L632.5 424.6L634.0 424.5L635.5 424.7L637.0 425.7L638.5 426.4L640.0 426.9L641.5 427.8L643.0 428.2L644.5 428.6L646.0 428.4L647.5 427.8L649.0 427.2L650.5 426.7L652.0 426.5L653.5 426.6L655.0 426.5L656.5 426.4L658.0 426.3L659.5 426.3L661.0 426.5L662.5 426.2L664.0 425.9L665.5 425.5L667.0 425.0L668.5 424.3L670.0 423.4L671.5 423.0L673.0 423.6L674.5 424.7L676.0 425.4L677.5 425.4L679.0 425.2L680.5 425.7L682.0 426.0L683.5 426.5L685.0 426.6L686.5 426.7L688.0 427.2L689.5 427.6L691.0 427.8L692.5 427.2L694.0 426.8L695.5 426.8L697.0 426.6L698.5 426.8L700.0 426.2L701.5 425.7L703.0 425.6L704.5 425.2L706.0 425.2L707.5 424.9L709.0 424.4L710.5 424.0L712.0 424.1L713.5 424.6L715.0 425.0L716.5 425.4L718.0 426.2L719.5 426.8L721.0 427.7L722.5 428.5L724.0 428.9L725.5 429.4L727.0 429.5L728.5 429.7L730.0 429.9L731.5 430.8L733.0 431.5L734.5 432.4L736.0 432.7L737.5 432.8L739.0 432.7L740.5 432.1L742.0 432.2L743.5 432.7L745.0 433.4L746.5 434.0L748.0 434.0L749.5 433.9L751.0 434.2L752.5 434.6L754.0 434.8L755.5 435.0L757.0 435.0L758.5 435.2L760.0 435.4L761.5 435.4L763.0 435.2L764.5 435.5L766.0 435.7L767.5 435.6L769.0 435.3L770.5 434.6L772.0 434.2L773.5 434.6L775.0 434.8L776.5 435.5L778.0 436.2L779.5 436.5L781.0 436.8L782.5 436.8L784.0 437.1L785.5 437.3L787.0 437.6L788.5 437.5L790.0 437.1L791.5 436.8L793.0 435.6L794.5 435.7L796.0 435.7L797.5 435.9L799.0 436.1L800.5 435.4L802.0 435.0L803.5 434.6L805.0 434.8L806.5 434.8L808.0 434.4L809.5 433.9L811.0 433.6L812.5 434.5L814.0 435.3L815.5 435.3L817.0 435.1L818.5 434.6L820.0 434.5L821.5 434.4L823.0 434.0L824.5 434.0L826.0 434.1L827.5 434.1L829.0 433.9L830.5 434.1L832.0 434.6L833.5 435.2L835.0 436.0L836.5 436.1L838.0 436.5L839.5 436.3L841.0 435.4L842.5 435.0L844.0 434.5L845.5 434.1L847.0 433.7L848.5 433.3L850.0 433.5L851.5 434.2L853.0 434.2L854.5 433.7L856.0 432.9L857.5 432.6L859.0 433.0L860.5 433.8L862.0 433.9L863.5 433.8L865.0 433.7L866.5 433.3L868.0 433.5L869.5 432.6L871.0 431.2L872.5 429.7L874.0 428.8L875.5 427.9L877.0 426.9L878.5 426.2L880.0 425.0L881.5 425.2L883.0 424.8L884.5 424.2L886.0 424.1L887.5 424.2L889.0 424.2L890.5 423.8L892.0 423.3L893.5 423.1L895.0 423.5L896.5 423.9L898.0 423.2L899.5 421.2L901.0 419.3L902.5 418.4L904.0 418.2L905.5 418.1L907.0 417.5L908.5 416.5L910.0 415.9L911.5 415.9L913.0 415.3L914.5 414.6L916.0 414.1L917.5 414.3L919.0 414.9L920.5 414.7L922.0 414.3L923.5 414.2L925.0 414.3L926.5 414.4L928.0 415.0L929.5 415.7L931.0 417.2L932.5 418.4L934.0 418.9L935.5 419.7L937.0 420.4L938.5 421.7L940.0 422.5L941.5 423.6L943.0 424.7L944.5 426.0L946.0 427.4L947.5 428.1L949.0 429.1L950.5 429.4L952.0 429.8L953.5 431.2L955.0 433.2L956.5 435.3L958.0 436.6L959.5 437.3L961.0 439.0L962.5 441.0L964.0 442.8L965.5 444.4L967.0 445.6L968.5 447.3L970.0 449.4L971.5 451.6L973.0 453.3L974.5 454.7L976.0 455.7L977.5 457.0L979.0 458.2L980.5 459.1L982.0 459.7L983.5 460.6L985.0 461.6L986.5 461.6L988.0 461.8L989.5 462.3L991.0 463.6L992.5 464.9L994.0 465.2L995.5 465.3L997.0 465.1L998.5 465.5L1000.0 465.7L1001.5 465.3L1003.0 465.3L1004.5 465.5L1006.0 466.2L1007.5 467.1L1009.0 467.7L1010.5 468.0L1012.0 467.5L1013.5 466.7L1015.0 465.9L1016.5 465.8L1018.0 465.9L1019.5 465.9L1021.0 466.2L1022.5 466.0L1024.0 466.2L1025.5 466.4L1027.0 466.3L1028.5 466.5L1030.0 466.0L1031.5 466.1L1033.0 466.5L1034.5 466.7L1036.0 466.8L1037.5 466.2L1039.0 465.9L1040.5 465.8L1042.0 466.1L1043.5 466.5L1045.0 466.5L1046.5 466.6L1048.0 466.4L1049.5 466.4L1051.0 466.5L1052.5 466.4L1054.0 467.0L1055.5 467.9L1057.0 468.5L1058.5 468.9L1060.0 468.3L1061.5 467.9L1063.0 468.0L1064.5 467.9L1066.0 467.7L1067.5 467.9L1069.0 467.9L1070.5 468.2L1072.0 468.4L1073.5 468.4L1075.0 468.8L1076.5 469.2L1078.0 469.9L1079.5 470.3L1081.0 470.5L1082.5 470.1L1084.0 469.7L1085.5 469.7L1086.7 469.7L1089.7 512.1L1091.5 512.6L1093.0 512.7L1094.5 512.6L1096.0 512.6L1097.5 512.7L1099.0 512.9L1100.5 513.1L1102.0 513.0L1103.5 512.9L1105.0 513.0L1106.5 513.1L1108.0 513.3L1109.5 513.4L1111.0 513.3L1112.5 513.1L1114.0 512.9L1115.5 512.9L1117.0 513.0L1118.5 512.8L1120.0 512.7L1121.5 512.7L1123.0 512.9L1124.5 513.0L1126.0 513.1L1127.5 512.9L1129.0 513.1L1130.5 513.2L1132.0 513.3L1133.5 513.4L1135.0 513.2L1136.5 513.5L1138.0 513.4L1139.5 513.3L1141.0 513.2L1142.5 513.1L1144.0 513.4L1145.5 513.5L1147.0 513.5L1148.5 513.8L1150.0 513.8L1151.5 514.1L1153.0 514.1L1154.5 514.1L1156.0 514.2L1157.5 514.0L1159.0 514.1L1160.5 514.0L1162.0 514.2L1163.5 514.3L1165.0 514.1L1166.5 514.1L1168.0 514.4L1169.5 515.0L1171.0 515.4L1172.5 515.5L1174.0 515.5L1175.5 515.6L1177.0 516.0L1178.5 516.2L1180.0 516.3L1181.5 516.1L1183.0 516.1L1184.5 516.1L1186.0 516.0L1187.5 515.9L1189.0 515.8L1190.5 515.9L1192.0 515.9L1193.5 516.1L1195.0 516.0L1196.5 515.8L1198.0 515.5L1199.5 515.1L1201.0 515.0L1202.5 514.6L1204.0 514.4L1205.5 514.4L1207.0 514.2L1208.5 514.1L1210.0 513.9L1211.5 513.6L1213.0 513.4L1214.5 513.0L1216.0 512.8L1217.5 512.8L1219.0 512.7L1220.5 512.7L1222.0 512.6L1223.5 512.4L1225.0 512.2L1226.5 511.8L1228.0 511.7L1229.5 511.8L1231.0 511.9L1232.5 511.8L1234.0 511.3L1235.5 511.1L1237.0 510.8L1238.5 510.5L1240.0 510.2L1241.5 509.8L1243.0 509.5L1244.5 509.0L1246.0 508.6L1247.5 508.5L1249.0 508.4L1250.5 508.2L1252.0 507.7L1253.5 507.2L1255.0 507.0L1256.5 507.0L1258.0 506.9L1259.5 506.5L1261.0 506.1L1262.5 505.7L1264.0 505.3L1265.5 504.3L1267.0 503.2L1268.5 501.9L1270.0 500.6L1271.5 499.3L1273.0 499.4L1274.5 499.7L1276.0 499.9L1277.5 499.6L1279.0 499.2L1280.5 498.9L1282.0 498.6L1283.5 498.6L1285.0 498.3L1286.5 497.9L1288.0 497.6L1289.5 497.2L1291.0 497.0L1292.5 496.7L1294.0 496.4L1295.5 496.3L1297.0 496.1L1298.5 496.4L1300.0 497.0L1301.5 497.0L1303.0 496.6L1304.5 496.0L1306.0 495.2L1307.5 494.6L1309.0 494.0L1310.5 493.5L1312.0 493.0L1313.5 492.3L1315.0 491.6L1316.5 491.1L1318.0 490.8L1319.5 490.4L1321.0 489.9L1322.5 489.3L1324.0 488.9L1325.5 488.7L1327.0 488.3L1328.5 488.2L1330.0 488.1L1331.5 488.0L1333.0 487.5L1334.5 487.1L1336.0 487.0L1337.5 486.9L1339.0 486.9L1340.5 486.7L1342.0 486.4L1343.5 485.2L1345.0 483.8L1346.5 482.4L1348.0 481.2L1349.5 479.9L1351.0 478.7L1352.5 480.3L1354.0 481.6L1355.5 479.0L1357.0 476.6L1358.5 475.7L1360.0 475.2L1361.5 474.4L1363.0 473.5L1364.5 472.7L1366.0 472.0L1367.5 471.4L1369.0 470.9L1370.5 470.1L1372.0 469.4L1373.5 468.5L1375.0 468.0L1376.5 467.6L1378.0 467.4L1379.5 467.3L1381.0 467.1L1382.5 466.9L1384.0 466.6L1385.5 466.5L1387.0 466.3L1388.5 465.8L1390.0 465.4L1391.5 465.0L1393.0 464.5L1394.5 464.3L1396.0 463.9L1397.5 463.9L1399.0 464.1L1400.5 464.0L1402.0 463.7L1403.5 463.2L1405.0 463.0L1406.5 462.9L1408.0 462.7L1409.5 462.4L1411.0 461.8L1412.5 461.4L1414.0 460.8L1415.5 460.5L1417.0 460.2L1418.5 460.0L1420.0 460.2L1421.5 460.0L1423.0 460.0L1424.5 459.7L1426.0 459.3L1427.5 459.1L1429.0 458.7L1430.5 458.3L1432.0 458.0L1433.5 457.9L1435.0 457.7L1436.5 457.5L1438.0 457.4L1439.5 457.4L1441.0 457.6L1442.5 457.5L1444.0 457.0L1445.5 456.5L1447.0 456.1L1448.5 455.8L1450.0 455.6L1451.5 455.5L1453.0 455.3L1454.5 455.4L1456.0 451.3L1457.5 446.8L1459.0 445.9L1460.5 445.3L1462.0 444.7L1463.5 444.2L1465.0 443.7L1466.5 443.3L1468.0 442.9L1469.5 442.4L1471.0 441.7L1472.5 441.0L1474.0 440.3L1475.5 440.5L1477.0 441.1L1478.5 441.6L1480.0 441.9L1481.5 442.1L1483.0 442.0L1484.5 441.8L1486.0 441.5L1487.5 441.0L1489.0 441.0L1490.5 441.2L1492.0 441.6L1493.5 441.7L1495.0 441.5L1496.5 441.1L1498.0 440.8L1499.5 440.8L1501.0 440.8L1502.5 440.5L1504.0 440.1L1505.5 439.4L1507.0 439.1L1508.5 439.0L1510.0 438.7L1511.5 438.6L1513.0 438.5L1514.5 438.1L1516.0 437.3L1517.5 436.4L1519.0 435.4L1520.5 435.0L1522.0 434.8L1523.5 434.5L1525.0 434.1L1526.5 433.9L1528.0 433.7L1529.5 433.5L1531.0 433.3L1532.5 433.0L1534.0 432.6L1535.5 432.2L1537.0 432.1L1538.5 432.0L1540.0 432.3L1541.5 432.3L1543.0 432.0L1544.5 431.7L1546.0 432.0L1547.5 432.9L1549.0 433.9L1550.5 434.5L1552.0 434.7L1553.5 434.9L1555.0 435.1L1556.5 434.4L1558.0 433.1L1559.5 432.2L1561.0 431.9L1562.5 431.2L1564.0 430.7L1565.5 430.2L1567.0 429.7L1568.5 429.5L1570.0 429.0L1571.5 428.6L1573.0 428.2L1574.5 428.1L1576.0 427.9L1576.3 428.0L1576.3 525.6Z" fill="#0190d2"/>
<path d="M565.0 421.7L566.5 421.2L568.0 420.5L569.5 420.0L571.0 419.7L572.5 419.3L574.0 419.0L575.5 418.5L577.0 418.1L578.5 417.9L580.0 417.7L581.5 417.8L583.0 417.5L584.5 417.9L586.0 418.4L587.5 418.5L589.0 418.8L590.5 418.7L592.0 419.1L593.5 419.8L595.0 420.2L596.5 420.9L598.0 421.2L599.5 421.1L601.0 421.3L602.5 420.9L604.0 420.4L605.5 420.2L607.0 420.1L608.5 421.1L610.0 421.6L611.5 422.6L613.0 422.8L614.5 422.7L616.0 422.7L617.5 422.7L619.0 424.1L620.5 424.1L622.0 423.9L623.5 422.9L625.0 422.2L626.5 423.7L628.0 425.1L629.5 426.2L631.0 425.7L632.5 424.6L634.0 424.5L635.5 424.7L637.0 425.7L638.5 426.4L640.0 426.9L641.5 427.8L643.0 428.2L644.5 428.6L646.0 428.4L647.5 427.8L649.0 427.2L650.5 426.7L652.0 426.5L653.5 426.6L655.0 426.5L656.5 426.4L658.0 426.3L659.5 426.3L661.0 426.5L662.5 426.2L664.0 425.9L665.5 425.5L667.0 425.0L668.5 424.3L670.0 423.4L671.5 423.0L673.0 423.6L674.5 424.7L676.0 425.4L677.5 425.4L679.0 425.2L680.5 425.7L682.0 426.0L683.5 426.5L685.0 426.6L686.5 426.7L688.0 427.2L689.5 427.6L691.0 427.8L692.5 427.2L694.0 426.8L695.5 426.8L697.0 426.6L698.5 426.8L700.0 426.2L701.5 425.7L703.0 425.6L704.5 425.2L706.0 425.2L707.5 424.9L709.0 424.4L710.5 424.0L712.0 424.1L713.5 424.6L715.0 425.0L716.5 425.4L718.0 426.2L719.5 426.8L721.0 427.7L722.5 428.5L724.0 428.9L725.5 429.4L727.0 429.5L728.5 429.7L730.0 429.9L731.5 430.8L733.0 431.5L734.5 432.4L736.0 432.7L737.5 432.8L739.0 432.7L740.5 432.1L742.0 432.2L743.5 432.7L745.0 433.4L746.5 434.0L748.0 434.0L749.5 433.9L751.0 434.2L752.5 434.6L754.0 434.8L755.5 435.0L757.0 435.0L758.5 435.2L760.0 435.4L761.5 435.4L763.0 435.2L764.5 435.5L766.0 435.7L767.5 435.6L769.0 435.3L770.5 434.6L772.0 434.2L773.5 434.6L775.0 434.8L776.5 435.5L778.0 436.2L779.5 436.5L781.0 436.8L782.5 436.8L784.0 437.1L785.5 437.3L787.0 437.6L788.5 437.5L790.0 437.1L791.5 436.8L793.0 435.6L794.5 435.7L796.0 435.7L797.5 435.9L799.0 436.1L800.5 435.4L802.0 435.0L803.5 434.6L805.0 434.8L806.5 434.8L808.0 434.4L809.5 433.9L811.0 433.6L812.5 434.5L814.0 435.3L815.5 435.3L817.0 435.1L818.5 434.6L820.0 434.5L821.5 434.4L823.0 434.0L824.5 434.0L826.0 434.1L827.5 434.1L829.0 433.9L830.5 434.1L832.0 434.6L833.5 435.2L835.0 436.0L836.5 436.1L838.0 436.5L839.5 436.3L841.0 435.4L842.5 435.0L844.0 434.5L845.5 434.1L847.0 433.7L848.5 433.3L850.0 433.5L851.5 434.2L853.0 434.2L854.5 433.7L856.0 432.9L857.5 432.6L859.0 433.0L860.5 433.8L862.0 433.9L863.5 433.8L865.0 433.7L866.5 433.3L868.0 433.5L869.5 432.6L871.0 431.2L872.5 429.7L874.0 428.8L875.5 427.9L877.0 426.9L878.5 426.2L880.0 425.0L881.5 425.2L883.0 424.8L884.5 424.2L886.0 424.1L887.5 424.2L889.0 424.2L890.5 423.8L892.0 423.3L893.5 423.1L895.0 423.5L896.5 423.9L898.0 423.2L899.5 421.2L901.0 419.3L902.5 418.4L904.0 418.2L905.5 418.1L907.0 417.5L908.5 416.5L910.0 415.9L911.5 415.9L913.0 415.3L914.5 414.6L916.0 414.1L917.5 414.3L919.0 414.9L920.5 414.7L922.0 414.3L923.5 414.2L925.0 414.3L926.5 414.4L928.0 415.0L929.5 415.7L931.0 417.2L932.5 418.4L934.0 418.9L935.5 419.7L937.0 420.4L938.5 421.7L940.0 422.5L941.5 423.6L943.0 424.7L944.5 426.0L946.0 427.4L947.5 428.1L949.0 429.1L950.5 429.4L952.0 429.8L953.5 431.2L955.0 433.2L956.5 435.3L958.0 436.6L959.5 437.3L961.0 439.0L962.5 441.0L964.0 442.8L965.5 444.4L967.0 445.6L968.5 447.3L970.0 449.4L971.5 451.6L973.0 453.3L974.5 454.7L976.0 455.7L977.5 457.0L979.0 458.2L980.5 459.1L982.0 459.7L983.5 460.6L985.0 461.6L986.5 461.6L988.0 461.8L989.5 462.3L991.0 463.6L992.5 464.9L994.0 465.2L995.5 465.3L997.0 465.1L998.5 465.5L1000.0 465.7L1001.5 465.3L1003.0 465.3L1004.5 465.5L1006.0 466.2L1007.5 467.1L1009.0 467.7L1010.5 468.0L1012.0 467.5L1013.5 466.7L1015.0 465.9L1016.5 465.8L1018.0 465.9L1019.5 465.9L1021.0 466.2L1022.5 466.0L1024.0 466.2L1025.5 466.4L1027.0 466.3L1028.5 466.5L1030.0 466.0L1031.5 466.1L1033.0 466.5L1034.5 466.7L1036.0 466.8L1037.5 466.2L1039.0 465.9L1040.5 465.8L1042.0 466.1L1043.5 466.5L1045.0 466.5L1046.5 466.6L1048.0 466.4L1049.5 466.4L1051.0 466.5L1052.5 466.4L1054.0 467.0L1055.5 467.9L1057.0 468.5L1058.5 468.9L1060.0 468.3L1061.5 467.9L1063.0 468.0L1064.5 467.9L1066.0 467.7L1067.5 467.9L1069.0 467.9L1070.5 468.2L1072.0 468.4L1073.5 468.4L1075.0 468.8L1076.5 469.2L1078.0 469.9L1079.5 470.3L1081.0 470.5L1082.5 470.1L1084.0 469.7L1085.5 469.7L1086.7 469.7L1089.7 512.1L1091.5 512.6L1093.0 512.7L1094.5 512.6L1096.0 512.6L1097.5 512.7L1099.0 512.9L1100.5 513.1L1102.0 513.0L1103.5 512.9L1105.0 513.0L1106.5 513.1L1108.0 513.3L1109.5 513.4L1111.0 513.3L1112.5 513.1L1114.0 512.9L1115.5 512.9L1117.0 513.0L1118.5 512.8L1120.0 512.7L1121.5 512.7L1123.0 512.9L1124.5 513.0L1126.0 513.1L1127.5 512.9L1129.0 513.1L1130.5 513.2L1132.0 513.3L1133.5 513.4L1135.0 513.2L1136.5 513.5L1138.0 513.4L1139.5 513.3L1141.0 513.2L1142.5 513.1L1144.0 513.4L1145.5 513.5L1147.0 513.5L1148.5 513.8L1150.0 513.8L1151.5 514.1L1153.0 514.1L1154.5 514.1L1156.0 514.2L1157.5 514.0L1159.0 514.1L1160.5 514.0L1162.0 514.2L1163.5 514.3L1165.0 514.1L1166.5 514.1L1168.0 514.4L1169.5 515.0L1171.0 515.4L1172.5 515.5L1174.0 515.5L1175.5 515.6L1177.0 516.0L1178.5 516.2L1180.0 516.3L1181.5 516.1L1183.0 516.1L1184.5 516.1L1186.0 516.0L1187.5 515.9L1189.0 515.8L1190.5 515.9L1192.0 515.9L1193.5 516.1L1195.0 516.0L1196.5 515.8L1198.0 515.5L1199.5 515.1L1201.0 515.0L1202.5 514.6L1204.0 514.4L1205.5 514.4L1207.0 514.2L1208.5 514.1L1210.0 513.9L1211.5 513.6L1213.0 513.4L1214.5 513.0L1216.0 512.8L1217.5 512.8L1219.0 512.7L1220.5 512.7L1222.0 512.6L1223.5 512.4L1225.0 512.2L1226.5 511.8L1228.0 511.7L1229.5 511.8L1231.0 511.9L1232.5 511.8L1234.0 511.3L1235.5 511.1L1237.0 510.8L1238.5 510.5L1240.0 510.2L1241.5 509.8L1243.0 509.5L1244.5 509.0L1246.0 508.6L1247.5 508.5L1249.0 508.4L1250.5 508.2L1252.0 507.7L1253.5 507.2L1255.0 507.0L1256.5 507.0L1258.0 506.9L1259.5 506.5L1261.0 506.1L1262.5 505.7L1264.0 505.3L1265.5 504.3L1267.0 503.2L1268.5 501.9L1270.0 500.6L1271.5 499.3L1273.0 499.4L1274.5 499.7L1276.0 499.9L1277.5 499.6L1279.0 499.2L1280.5 498.9L1282.0 498.6L1283.5 498.6L1285.0 498.3L1286.5 497.9L1288.0 497.6L1289.5 497.2L1291.0 497.0L1292.5 496.7L1294.0 496.4L1295.5 496.3L1297.0 496.1L1298.5 496.4L1300.0 497.0L1301.5 497.0L1303.0 496.6L1304.5 496.0L1306.0 495.2L1307.5 494.6L1309.0 494.0L1310.5 493.5L1312.0 493.0L1313.5 492.3L1315.0 491.6L1316.5 491.1L1318.0 490.8L1319.5 490.4L1321.0 489.9L1322.5 489.3L1324.0 488.9L1325.5 488.7L1327.0 488.3L1328.5 488.2L1330.0 488.1L1331.5 488.0L1333.0 487.5L1334.5 487.1L1336.0 487.0L1337.5 486.9L1339.0 486.9L1340.5 486.7L1342.0 486.4L1343.5 485.2L1345.0 483.8L1346.5 482.4L1348.0 481.2L1349.5 479.9L1351.0 478.7L1352.5 480.3L1354.0 481.6L1355.5 479.0L1357.0 476.6L1358.5 475.7L1360.0 475.2L1361.5 474.4L1363.0 473.5L1364.5 472.7L1366.0 472.0L1367.5 471.4L1369.0 470.9L1370.5 470.1L1372.0 469.4L1373.5 468.5L1375.0 468.0L1376.5 467.6L1378.0 467.4L1379.5 467.3L1381.0 467.1L1382.5 466.9L1384.0 466.6L1385.5 466.5L1387.0 466.3L1388.5 465.8L1390.0 465.4L1391.5 465.0L1393.0 464.5L1394.5 464.3L1396.0 463.9L1397.5 463.9L1399.0 464.1L1400.5 464.0L1402.0 463.7L1403.5 463.2L1405.0 463.0L1406.5 462.9L1408.0 462.7L1409.5 462.4L1411.0 461.8L1412.5 461.4L1414.0 460.8L1415.5 460.5L1417.0 460.2L1418.5 460.0L1420.0 460.2L1421.5 460.0L1423.0 460.0L1424.5 459.7L1426.0 459.3L1427.5 459.1L1429.0 458.7L1430.5 458.3L1432.0 458.0L1433.5 457.9L1435.0 457.7L1436.5 457.5L1438.0 457.4L1439.5 457.4L1441.0 457.6L1442.5 457.5L1444.0 457.0L1445.5 456.5L1447.0 456.1L1448.5 455.8L1450.0 455.6L1451.5 455.5L1453.0 455.3L1454.5 455.4L1456.0 451.3L1457.5 446.8L1459.0 445.9L1460.5 445.3L1462.0 444.7L1463.5 444.2L1465.0 443.7L1466.5 443.3L1468.0 442.9L1469.5 442.4L1471.0 441.7L1472.5 441.0L1474.0 440.3L1475.5 440.5L1477.0 441.1L1478.5 441.6L1480.0 441.9L1481.5 442.1L1483.0 442.0L1484.5 441.8L1486.0 441.5L1487.5 441.0L1489.0 441.0L1490.5 441.2L1492.0 441.6L1493.5 441.7L1495.0 441.5L1496.5 441.1L1498.0 440.8L1499.5 440.8L1501.0 440.8L1502.5 440.5L1504.0 440.1L1505.5 439.4L1507.0 439.1L1508.5 439.0L1510.0 438.7L1511.5 438.6L1513.0 438.5L1514.5 438.1L1516.0 437.3L1517.5 436.4L1519.0 435.4L1520.5 435.0L1522.0 434.8L1523.5 434.5L1525.0 434.1L1526.5 433.9L1528.0 433.7L1529.5 433.5L1531.0 433.3L1532.5 433.0L1534.0 432.6L1535.5 432.2L1537.0 432.1L1538.5 432.0L1540.0 432.3L1541.5 432.3L1543.0 432.0L1544.5 431.7L1546.0 432.0L1547.5 432.9L1549.0 433.9L1550.5 434.5L1552.0 434.7L1553.5 434.9L1555.0 435.1L1556.5 434.4L1558.0 433.1L1559.5 432.2L1561.0 431.9L1562.5 431.2L1564.0 430.7L1565.5 430.2L1567.0 429.7L1568.5 429.5L1570.0 429.0L1571.5 428.6L1573.0 428.2L1574.5 428.1L1576.0 427.9L1576.3 428.0" fill="none" stroke="#505656" stroke-width="1.25" stroke-opacity="0.90"/>
<path d="M565.0 525.6L565.0 464.7L566.5 464.8L568.0 464.9L569.5 465.0L571.0 465.2L572.5 465.0L574.0 464.4L575.5 464.0L577.0 463.8L578.5 464.1L580.0 463.9L581.5 463.9L583.0 463.8L584.5 464.0L586.0 464.4L587.5 464.4L589.0 464.6L590.5 464.7L592.0 464.9L593.5 465.3L595.0 465.5L596.5 465.8L598.0 465.8L599.5 465.5L601.0 465.6L602.5 465.1L604.0 464.8L605.5 464.6L607.0 464.5L608.5 465.2L610.0 465.6L611.5 466.1L613.0 466.0L614.5 465.7L616.0 465.6L617.5 465.6L619.0 466.4L620.5 466.7L622.0 467.1L623.5 467.0L625.0 467.1L626.5 468.1L628.0 468.7L629.5 469.1L631.0 468.2L632.5 467.0L634.0 466.8L635.5 466.8L637.0 467.6L638.5 467.7L640.0 467.5L641.5 467.5L643.0 467.4L644.5 467.5L646.0 467.4L647.5 467.2L649.0 466.9L650.5 466.5L652.0 466.2L653.5 466.2L655.0 465.8L656.5 465.7L658.0 465.6L659.5 465.7L661.0 465.8L662.5 465.4L664.0 465.3L665.5 465.0L667.0 464.9L668.5 464.2L670.0 463.7L671.5 463.9L673.0 464.8L674.5 466.1L676.0 466.5L677.5 466.3L679.0 466.2L680.5 466.3L682.0 466.6L683.5 467.0L685.0 467.2L686.5 467.3L688.0 467.3L689.5 467.3L691.0 467.1L692.5 466.7L694.0 466.6L695.5 466.7L697.0 467.0L698.5 467.5L700.0 467.4L701.5 467.5L703.0 467.8L704.5 467.5L706.0 467.6L707.5 467.3L709.0 467.2L710.5 467.1L712.0 466.7L713.5 466.9L715.0 467.1L716.5 467.3L718.0 467.7L719.5 467.7L721.0 468.2L722.5 468.5L724.0 468.9L725.5 469.1L727.0 468.9L728.5 468.8L730.0 468.8L731.5 469.5L733.0 469.9L734.5 470.4L736.0 470.3L737.5 470.1L739.0 469.9L740.5 469.5L742.0 469.7L743.5 470.2L745.0 470.6L746.5 470.9L748.0 470.7L749.5 470.4L751.0 470.2L752.5 470.1L754.0 470.3L755.5 470.6L757.0 470.5L758.5 470.5L760.0 470.4L761.5 470.4L763.0 470.6L764.5 470.9L766.0 471.2L767.5 471.4L769.0 471.1L770.5 470.6L772.0 470.3L773.5 470.5L775.0 470.7L776.5 471.4L778.0 471.9L779.5 472.0L781.0 472.1L782.5 471.7L784.0 472.0L785.5 472.2L787.0 472.3L788.5 472.2L790.0 471.8L791.5 471.4L793.0 470.7L794.5 470.8L796.0 470.7L797.5 470.7L799.0 470.5L800.5 470.0L802.0 469.8L803.5 470.0L805.0 470.3L806.5 470.7L808.0 470.6L809.5 470.1L811.0 469.7L812.5 469.8L814.0 470.2L815.5 470.4L817.0 470.4L818.5 470.2L820.0 469.9L821.5 469.7L823.0 469.4L824.5 469.4L826.0 469.7L827.5 469.8L829.0 469.8L830.5 469.6L832.0 469.7L833.5 470.0L835.0 470.7L836.5 470.9L838.0 471.2L839.5 471.2L841.0 470.7L842.5 470.6L844.0 470.3L845.5 470.2L847.0 470.0L848.5 469.9L850.0 470.0L851.5 470.5L853.0 470.4L854.5 470.1L856.0 470.1L857.5 469.9L859.0 470.1L860.5 470.4L862.0 470.3L863.5 470.4L865.0 470.3L866.5 470.1L868.0 470.3L869.5 469.6L871.0 468.6L872.5 467.6L874.0 467.1L875.5 466.8L877.0 466.6L878.5 466.9L880.0 466.7L881.5 466.6L883.0 466.3L884.5 465.7L886.0 465.7L887.5 465.6L889.0 465.5L890.5 465.1L892.0 464.6L893.5 464.6L895.0 465.1L896.5 465.7L898.0 465.6L899.5 464.1L901.0 462.7L902.5 462.0L904.0 461.9L905.5 461.7L907.0 460.8L908.5 459.8L910.0 459.1L911.5 459.4L913.0 459.4L914.5 459.3L916.0 459.5L917.5 459.8L919.0 460.2L920.5 460.0L922.0 459.6L923.5 459.4L925.0 459.3L926.5 459.3L928.0 459.6L929.5 460.1L931.0 461.3L932.5 462.4L934.0 463.1L935.5 463.6L937.0 463.7L938.5 464.4L940.0 465.0L941.5 466.0L943.0 466.5L944.5 466.7L946.0 467.3L947.5 467.7L949.0 468.6L950.5 468.9L952.0 468.9L953.5 469.9L955.0 471.1L956.5 472.6L958.0 473.7L959.5 474.3L961.0 475.3L962.5 476.4L964.0 477.4L965.5 478.1L967.0 478.5L968.5 479.0L970.0 479.9L971.5 480.7L973.0 481.4L974.5 482.2L976.0 482.7L977.5 483.7L979.0 484.7L980.5 485.3L982.0 485.8L983.5 486.2L985.0 486.9L986.5 487.1L988.0 487.5L989.5 487.6L991.0 488.4L992.5 489.5L994.0 489.9L995.5 490.1L997.0 489.8L998.5 489.8L1000.0 489.8L1001.5 489.5L1003.0 489.6L1004.5 489.8L1006.0 490.2L1007.5 490.6L1009.0 490.9L1010.5 490.8L1012.0 490.4L1013.5 489.8L1015.0 489.4L1016.5 489.5L1018.0 489.9L1019.5 490.1L1021.0 490.2L1022.5 489.9L1024.0 489.6L1025.5 489.9L1027.0 489.8L1028.5 490.0L1030.0 489.9L1031.5 489.8L1033.0 490.2L1034.5 490.3L1036.0 490.1L1037.5 489.6L1039.0 489.3L1040.5 489.3L1042.0 489.7L1043.5 490.1L1045.0 489.9L1046.5 489.9L1048.0 489.9L1049.5 489.5L1051.0 489.4L1052.5 489.0L1054.0 489.3L1055.5 489.7L1057.0 490.1L1058.5 490.5L1060.0 490.4L1061.5 490.3L1063.0 490.3L1064.5 490.0L1066.0 489.6L1067.5 489.4L1069.0 489.2L1070.5 489.4L1072.0 489.6L1073.5 489.7L1075.0 489.9L1076.5 490.1L1078.0 490.5L1079.5 490.8L1081.0 490.8L1082.5 490.4L1084.0 489.7L1085.5 489.4L1086.7 489.5L1089.7 518.5L1091.5 518.7L1093.0 518.8L1094.5 518.7L1096.0 518.8L1097.5 519.0L1099.0 519.2L1100.5 519.4L1102.0 519.4L1103.5 519.4L1105.0 519.5L1106.5 519.6L1108.0 519.8L1109.5 519.9L1111.0 519.8L1112.5 519.7L1114.0 519.5L1115.5 519.5L1117.0 519.6L1118.5 519.5L1120.0 519.4L1121.5 519.3L1123.0 519.6L1124.5 519.7L1126.0 519.7L1127.5 519.6L1129.0 519.7L1130.5 519.8L1132.0 519.8L1133.5 519.9L1135.0 519.8L1136.5 520.0L1138.0 520.0L1139.5 519.8L1141.0 519.6L1142.5 519.5L1144.0 519.7L1145.5 519.8L1147.0 519.9L1148.5 520.0L1150.0 519.9L1151.5 520.0L1153.0 520.1L1154.5 520.2L1156.0 520.3L1157.5 520.2L1159.0 520.2L1160.5 520.2L1162.0 520.4L1163.5 520.5L1165.0 520.4L1166.5 520.5L1168.0 520.6L1169.5 520.9L1171.0 521.2L1172.5 521.5L1174.0 521.7L1175.5 521.9L1177.0 522.1L1178.5 522.3L1180.0 522.4L1181.5 522.4L1183.0 522.4L1184.5 522.3L1186.0 522.3L1187.5 522.3L1189.0 522.2L1190.5 522.2L1192.0 522.3L1193.5 522.3L1195.0 522.2L1196.5 522.2L1198.0 522.1L1199.5 521.8L1201.0 521.5L1202.5 521.1L1204.0 520.9L1205.5 521.0L1207.0 520.9L1208.5 520.8L1210.0 520.6L1211.5 520.4L1213.0 520.1L1214.5 519.9L1216.0 519.7L1217.5 519.6L1219.0 519.5L1220.5 519.4L1222.0 519.3L1223.5 519.2L1225.0 518.9L1226.5 518.3L1228.0 518.2L1229.5 518.2L1231.0 518.2L1232.5 518.1L1234.0 517.7L1235.5 517.5L1237.0 517.3L1238.5 517.2L1240.0 517.0L1241.5 516.6L1243.0 516.2L1244.5 515.7L1246.0 515.4L1247.5 515.4L1249.0 515.4L1250.5 515.3L1252.0 515.0L1253.5 514.6L1255.0 514.4L1256.5 514.3L1258.0 514.2L1259.5 513.9L1261.0 513.2L1262.5 512.4L1264.0 511.7L1265.5 511.2L1267.0 510.7L1268.5 510.2L1270.0 509.6L1271.5 509.0L1273.0 508.9L1274.5 509.1L1276.0 509.4L1277.5 509.6L1279.0 509.5L1280.5 509.7L1282.0 509.5L1283.5 509.5L1285.0 509.5L1286.5 509.4L1288.0 509.2L1289.5 508.9L1291.0 508.6L1292.5 508.4L1294.0 508.2L1295.5 508.1L1297.0 507.9L1298.5 507.7L1300.0 507.5L1301.5 507.2L1303.0 507.1L1304.5 506.8L1306.0 506.5L1307.5 506.2L1309.0 506.0L1310.5 505.7L1312.0 505.2L1313.5 504.7L1315.0 504.3L1316.5 504.2L1318.0 504.1L1319.5 503.8L1321.0 503.5L1322.5 503.2L1324.0 502.9L1325.5 502.8L1327.0 502.6L1328.5 502.5L1330.0 502.5L1331.5 502.4L1333.0 502.2L1334.5 501.9L1336.0 502.0L1337.5 502.0L1339.0 502.0L1340.5 501.9L1342.0 501.7L1343.5 501.4L1345.0 501.1L1346.5 500.6L1348.0 500.4L1349.5 500.0L1351.0 501.0L1352.5 502.9L1354.0 501.9L1355.5 499.7L1357.0 498.5L1358.5 498.2L1360.0 498.1L1361.5 498.0L1363.0 497.9L1364.5 497.9L1366.0 497.9L1367.5 497.8L1369.0 497.9L1370.5 497.8L1372.0 497.7L1373.5 497.7L1375.0 497.5L1376.5 497.4L1378.0 497.4L1379.5 497.3L1381.0 497.1L1382.5 497.0L1384.0 496.9L1385.5 496.9L1387.0 496.8L1388.5 496.6L1390.0 496.5L1391.5 496.2L1393.0 496.0L1394.5 495.9L1396.0 495.6L1397.5 495.7L1399.0 495.5L1400.5 495.3L1402.0 495.2L1403.5 494.9L1405.0 494.9L1406.5 494.8L1408.0 494.8L1409.5 494.6L1411.0 494.4L1412.5 494.2L1414.0 493.8L1415.5 493.6L1417.0 493.4L1418.5 493.3L1420.0 493.5L1421.5 493.3L1423.0 493.2L1424.5 493.1L1426.0 493.0L1427.5 492.9L1429.0 492.6L1430.5 492.4L1432.0 492.2L1433.5 492.1L1435.0 491.9L1436.5 491.6L1438.0 491.4L1439.5 491.3L1441.0 491.4L1442.5 491.2L1444.0 490.8L1445.5 490.5L1447.0 490.2L1448.5 490.0L1450.0 489.9L1451.5 489.6L1453.0 489.5L1454.5 489.5L1456.0 486.5L1457.5 481.9L1459.0 480.5L1460.5 479.5L1462.0 479.4L1463.5 479.2L1465.0 478.8L1466.5 478.3L1468.0 477.8L1469.5 477.3L1471.0 476.6L1472.5 476.0L1474.0 475.6L1475.5 475.2L1477.0 475.1L1478.5 474.7L1480.0 474.3L1481.5 474.1L1483.0 473.9L1484.5 473.6L1486.0 473.2L1487.5 472.6L1489.0 472.4L1490.5 472.4L1492.0 472.5L1493.5 472.6L1495.0 472.4L1496.5 472.2L1498.0 472.0L1499.5 471.6L1501.0 471.3L1502.5 471.0L1504.0 470.8L1505.5 470.7L1507.0 470.6L1508.5 470.7L1510.0 470.6L1511.5 470.7L1513.0 470.8L1514.5 470.8L1516.0 470.6L1517.5 470.2L1519.0 469.8L1520.5 469.6L1522.0 469.5L1523.5 469.4L1525.0 469.4L1526.5 469.4L1528.0 469.5L1529.5 469.5L1531.0 469.3L1532.5 469.0L1534.0 468.6L1535.5 468.4L1537.0 468.4L1538.5 468.6L1540.0 468.6L1541.5 468.4L1543.0 468.0L1544.5 467.7L1546.0 468.4L1547.5 469.7L1549.0 470.8L1550.5 471.4L1552.0 471.5L1553.5 471.7L1555.0 472.2L1556.5 470.5L1558.0 468.7L1559.5 467.7L1561.0 467.7L1562.5 467.5L1564.0 467.4L1565.5 467.5L1567.0 467.5L1568.5 467.5L1570.0 467.1L1571.5 466.8L1573.0 466.4L1574.5 466.3L1576.0 466.2L1576.3 466.4L1576.3 525.6Z" fill="#cfa3cb"/>
<path d="M565.0 464.7L566.5 464.8L568.0 464.9L569.5 465.0L571.0 465.2L572.5 465.0L574.0 464.4L575.5 464.0L577.0 463.8L578.5 464.1L580.0 463.9L581.5 463.9L583.0 463.8L584.5 464.0L586.0 464.4L587.5 464.4L589.0 464.6L590.5 464.7L592.0 464.9L593.5 465.3L595.0 465.5L596.5 465.8L598.0 465.8L599.5 465.5L601.0 465.6L602.5 465.1L604.0 464.8L605.5 464.6L607.0 464.5L608.5 465.2L610.0 465.6L611.5 466.1L613.0 466.0L614.5 465.7L616.0 465.6L617.5 465.6L619.0 466.4L620.5 466.7L622.0 467.1L623.5 467.0L625.0 467.1L626.5 468.1L628.0 468.7L629.5 469.1L631.0 468.2L632.5 467.0L634.0 466.8L635.5 466.8L637.0 467.6L638.5 467.7L640.0 467.5L641.5 467.5L643.0 467.4L644.5 467.5L646.0 467.4L647.5 467.2L649.0 466.9L650.5 466.5L652.0 466.2L653.5 466.2L655.0 465.8L656.5 465.7L658.0 465.6L659.5 465.7L661.0 465.8L662.5 465.4L664.0 465.3L665.5 465.0L667.0 464.9L668.5 464.2L670.0 463.7L671.5 463.9L673.0 464.8L674.5 466.1L676.0 466.5L677.5 466.3L679.0 466.2L680.5 466.3L682.0 466.6L683.5 467.0L685.0 467.2L686.5 467.3L688.0 467.3L689.5 467.3L691.0 467.1L692.5 466.7L694.0 466.6L695.5 466.7L697.0 467.0L698.5 467.5L700.0 467.4L701.5 467.5L703.0 467.8L704.5 467.5L706.0 467.6L707.5 467.3L709.0 467.2L710.5 467.1L712.0 466.7L713.5 466.9L715.0 467.1L716.5 467.3L718.0 467.7L719.5 467.7L721.0 468.2L722.5 468.5L724.0 468.9L725.5 469.1L727.0 468.9L728.5 468.8L730.0 468.8L731.5 469.5L733.0 469.9L734.5 470.4L736.0 470.3L737.5 470.1L739.0 469.9L740.5 469.5L742.0 469.7L743.5 470.2L745.0 470.6L746.5 470.9L748.0 470.7L749.5 470.4L751.0 470.2L752.5 470.1L754.0 470.3L755.5 470.6L757.0 470.5L758.5 470.5L760.0 470.4L761.5 470.4L763.0 470.6L764.5 470.9L766.0 471.2L767.5 471.4L769.0 471.1L770.5 470.6L772.0 470.3L773.5 470.5L775.0 470.7L776.5 471.4L778.0 471.9L779.5 472.0L781.0 472.1L782.5 471.7L784.0 472.0L785.5 472.2L787.0 472.3L788.5 472.2L790.0 471.8L791.5 471.4L793.0 470.7L794.5 470.8L796.0 470.7L797.5 470.7L799.0 470.5L800.5 470.0L802.0 469.8L803.5 470.0L805.0 470.3L806.5 470.7L808.0 470.6L809.5 470.1L811.0 469.7L812.5 469.8L814.0 470.2L815.5 470.4L817.0 470.4L818.5 470.2L820.0 469.9L821.5 469.7L823.0 469.4L824.5 469.4L826.0 469.7L827.5 469.8L829.0 469.8L830.5 469.6L832.0 469.7L833.5 470.0L835.0 470.7L836.5 470.9L838.0 471.2L839.5 471.2L841.0 470.7L842.5 470.6L844.0 470.3L845.5 470.2L847.0 470.0L848.5 469.9L850.0 470.0L851.5 470.5L853.0 470.4L854.5 470.1L856.0 470.1L857.5 469.9L859.0 470.1L860.5 470.4L862.0 470.3L863.5 470.4L865.0 470.3L866.5 470.1L868.0 470.3L869.5 469.6L871.0 468.6L872.5 467.6L874.0 467.1L875.5 466.8L877.0 466.6L878.5 466.9L880.0 466.7L881.5 466.6L883.0 466.3L884.5 465.7L886.0 465.7L887.5 465.6L889.0 465.5L890.5 465.1L892.0 464.6L893.5 464.6L895.0 465.1L896.5 465.7L898.0 465.6L899.5 464.1L901.0 462.7L902.5 462.0L904.0 461.9L905.5 461.7L907.0 460.8L908.5 459.8L910.0 459.1L911.5 459.4L913.0 459.4L914.5 459.3L916.0 459.5L917.5 459.8L919.0 460.2L920.5 460.0L922.0 459.6L923.5 459.4L925.0 459.3L926.5 459.3L928.0 459.6L929.5 460.1L931.0 461.3L932.5 462.4L934.0 463.1L935.5 463.6L937.0 463.7L938.5 464.4L940.0 465.0L941.5 466.0L943.0 466.5L944.5 466.7L946.0 467.3L947.5 467.7L949.0 468.6L950.5 468.9L952.0 468.9L953.5 469.9L955.0 471.1L956.5 472.6L958.0 473.7L959.5 474.3L961.0 475.3L962.5 476.4L964.0 477.4L965.5 478.1L967.0 478.5L968.5 479.0L970.0 479.9L971.5 480.7L973.0 481.4L974.5 482.2L976.0 482.7L977.5 483.7L979.0 484.7L980.5 485.3L982.0 485.8L983.5 486.2L985.0 486.9L986.5 487.1L988.0 487.5L989.5 487.6L991.0 488.4L992.5 489.5L994.0 489.9L995.5 490.1L997.0 489.8L998.5 489.8L1000.0 489.8L1001.5 489.5L1003.0 489.6L1004.5 489.8L1006.0 490.2L1007.5 490.6L1009.0 490.9L1010.5 490.8L1012.0 490.4L1013.5 489.8L1015.0 489.4L1016.5 489.5L1018.0 489.9L1019.5 490.1L1021.0 490.2L1022.5 489.9L1024.0 489.6L1025.5 489.9L1027.0 489.8L1028.5 490.0L1030.0 489.9L1031.5 489.8L1033.0 490.2L1034.5 490.3L1036.0 490.1L1037.5 489.6L1039.0 489.3L1040.5 489.3L1042.0 489.7L1043.5 490.1L1045.0 489.9L1046.5 489.9L1048.0 489.9L1049.5 489.5L1051.0 489.4L1052.5 489.0L1054.0 489.3L1055.5 489.7L1057.0 490.1L1058.5 490.5L1060.0 490.4L1061.5 490.3L1063.0 490.3L1064.5 490.0L1066.0 489.6L1067.5 489.4L1069.0 489.2L1070.5 489.4L1072.0 489.6L1073.5 489.7L1075.0 489.9L1076.5 490.1L1078.0 490.5L1079.5 490.8L1081.0 490.8L1082.5 490.4L1084.0 489.7L1085.5 489.4L1086.7 489.5L1089.7 518.5L1091.5 518.7L1093.0 518.8L1094.5 518.7L1096.0 518.8L1097.5 519.0L1099.0 519.2L1100.5 519.4L1102.0 519.4L1103.5 519.4L1105.0 519.5L1106.5 519.6L1108.0 519.8L1109.5 519.9L1111.0 519.8L1112.5 519.7L1114.0 519.5L1115.5 519.5L1117.0 519.6L1118.5 519.5L1120.0 519.4L1121.5 519.3L1123.0 519.6L1124.5 519.7L1126.0 519.7L1127.5 519.6L1129.0 519.7L1130.5 519.8L1132.0 519.8L1133.5 519.9L1135.0 519.8L1136.5 520.0L1138.0 520.0L1139.5 519.8L1141.0 519.6L1142.5 519.5L1144.0 519.7L1145.5 519.8L1147.0 519.9L1148.5 520.0L1150.0 519.9L1151.5 520.0L1153.0 520.1L1154.5 520.2L1156.0 520.3L1157.5 520.2L1159.0 520.2L1160.5 520.2L1162.0 520.4L1163.5 520.5L1165.0 520.4L1166.5 520.5L1168.0 520.6L1169.5 520.9L1171.0 521.2L1172.5 521.5L1174.0 521.7L1175.5 521.9L1177.0 522.1L1178.5 522.3L1180.0 522.4L1181.5 522.4L1183.0 522.4L1184.5 522.3L1186.0 522.3L1187.5 522.3L1189.0 522.2L1190.5 522.2L1192.0 522.3L1193.5 522.3L1195.0 522.2L1196.5 522.2L1198.0 522.1L1199.5 521.8L1201.0 521.5L1202.5 521.1L1204.0 520.9L1205.5 521.0L1207.0 520.9L1208.5 520.8L1210.0 520.6L1211.5 520.4L1213.0 520.1L1214.5 519.9L1216.0 519.7L1217.5 519.6L1219.0 519.5L1220.5 519.4L1222.0 519.3L1223.5 519.2L1225.0 518.9L1226.5 518.3L1228.0 518.2L1229.5 518.2L1231.0 518.2L1232.5 518.1L1234.0 517.7L1235.5 517.5L1237.0 517.3L1238.5 517.2L1240.0 517.0L1241.5 516.6L1243.0 516.2L1244.5 515.7L1246.0 515.4L1247.5 515.4L1249.0 515.4L1250.5 515.3L1252.0 515.0L1253.5 514.6L1255.0 514.4L1256.5 514.3L1258.0 514.2L1259.5 513.9L1261.0 513.2L1262.5 512.4L1264.0 511.7L1265.5 511.2L1267.0 510.7L1268.5 510.2L1270.0 509.6L1271.5 509.0L1273.0 508.9L1274.5 509.1L1276.0 509.4L1277.5 509.6L1279.0 509.5L1280.5 509.7L1282.0 509.5L1283.5 509.5L1285.0 509.5L1286.5 509.4L1288.0 509.2L1289.5 508.9L1291.0 508.6L1292.5 508.4L1294.0 508.2L1295.5 508.1L1297.0 507.9L1298.5 507.7L1300.0 507.5L1301.5 507.2L1303.0 507.1L1304.5 506.8L1306.0 506.5L1307.5 506.2L1309.0 506.0L1310.5 505.7L1312.0 505.2L1313.5 504.7L1315.0 504.3L1316.5 504.2L1318.0 504.1L1319.5 503.8L1321.0 503.5L1322.5 503.2L1324.0 502.9L1325.5 502.8L1327.0 502.6L1328.5 502.5L1330.0 502.5L1331.5 502.4L1333.0 502.2L1334.5 501.9L1336.0 502.0L1337.5 502.0L1339.0 502.0L1340.5 501.9L1342.0 501.7L1343.5 501.4L1345.0 501.1L1346.5 500.6L1348.0 500.4L1349.5 500.0L1351.0 501.0L1352.5 502.9L1354.0 501.9L1355.5 499.7L1357.0 498.5L1358.5 498.2L1360.0 498.1L1361.5 498.0L1363.0 497.9L1364.5 497.9L1366.0 497.9L1367.5 497.8L1369.0 497.9L1370.5 497.8L1372.0 497.7L1373.5 497.7L1375.0 497.5L1376.5 497.4L1378.0 497.4L1379.5 497.3L1381.0 497.1L1382.5 497.0L1384.0 496.9L1385.5 496.9L1387.0 496.8L1388.5 496.6L1390.0 496.5L1391.5 496.2L1393.0 496.0L1394.5 495.9L1396.0 495.6L1397.5 495.7L1399.0 495.5L1400.5 495.3L1402.0 495.2L1403.5 494.9L1405.0 494.9L1406.5 494.8L1408.0 494.8L1409.5 494.6L1411.0 494.4L1412.5 494.2L1414.0 493.8L1415.5 493.6L1417.0 493.4L1418.5 493.3L1420.0 493.5L1421.5 493.3L1423.0 493.2L1424.5 493.1L1426.0 493.0L1427.5 492.9L1429.0 492.6L1430.5 492.4L1432.0 492.2L1433.5 492.1L1435.0 491.9L1436.5 491.6L1438.0 491.4L1439.5 491.3L1441.0 491.4L1442.5 491.2L1444.0 490.8L1445.5 490.5L1447.0 490.2L1448.5 490.0L1450.0 489.9L1451.5 489.6L1453.0 489.5L1454.5 489.5L1456.0 486.5L1457.5 481.9L1459.0 480.5L1460.5 479.5L1462.0 479.4L1463.5 479.2L1465.0 478.8L1466.5 478.3L1468.0 477.8L1469.5 477.3L1471.0 476.6L1472.5 476.0L1474.0 475.6L1475.5 475.2L1477.0 475.1L1478.5 474.7L1480.0 474.3L1481.5 474.1L1483.0 473.9L1484.5 473.6L1486.0 473.2L1487.5 472.6L1489.0 472.4L1490.5 472.4L1492.0 472.5L1493.5 472.6L1495.0 472.4L1496.5 472.2L1498.0 472.0L1499.5 471.6L1501.0 471.3L1502.5 471.0L1504.0 470.8L1505.5 470.7L1507.0 470.6L1508.5 470.7L1510.0 470.6L1511.5 470.7L1513.0 470.8L1514.5 470.8L1516.0 470.6L1517.5 470.2L1519.0 469.8L1520.5 469.6L1522.0 469.5L1523.5 469.4L1525.0 469.4L1526.5 469.4L1528.0 469.5L1529.5 469.5L1531.0 469.3L1532.5 469.0L1534.0 468.6L1535.5 468.4L1537.0 468.4L1538.5 468.6L1540.0 468.6L1541.5 468.4L1543.0 468.0L1544.5 467.7L1546.0 468.4L1547.5 469.7L1549.0 470.8L1550.5 471.4L1552.0 471.5L1553.5 471.7L1555.0 472.2L1556.5 470.5L1558.0 468.7L1559.5 467.7L1561.0 467.7L1562.5 467.5L1564.0 467.4L1565.5 467.5L1567.0 467.5L1568.5 467.5L1570.0 467.1L1571.5 466.8L1573.0 466.4L1574.5 466.3L1576.0 466.2L1576.3 466.4" fill="none" stroke="#505656" stroke-width="1.25" stroke-opacity="0.90"/>
<path d="M565.0 525.6L565.0 473.9L566.5 473.8L568.0 473.7L569.5 474.1L571.0 474.3L572.5 474.0L574.0 473.3L575.5 472.8L577.0 472.8L578.5 473.0L580.0 473.1L581.5 473.1L583.0 473.1L584.5 473.0L586.0 473.1L587.5 473.1L589.0 473.3L590.5 473.5L592.0 473.6L593.5 473.7L595.0 473.7L596.5 473.9L598.0 474.1L599.5 474.3L601.0 474.9L602.5 474.8L604.0 474.6L605.5 474.4L607.0 474.1L608.5 474.8L610.0 475.1L611.5 475.5L613.0 475.3L614.5 475.2L616.0 475.3L617.5 475.5L619.0 476.1L620.5 476.3L622.0 476.5L623.5 476.4L625.0 476.6L626.5 477.2L628.0 477.4L629.5 477.7L631.0 477.3L632.5 476.6L634.0 476.5L635.5 476.4L637.0 476.9L638.5 477.0L640.0 476.8L641.5 476.7L643.0 476.4L644.5 476.5L646.0 476.6L647.5 476.7L649.0 476.3L650.5 475.9L652.0 475.5L653.5 475.4L655.0 475.1L656.5 475.0L658.0 474.8L659.5 474.9L661.0 474.9L662.5 474.6L664.0 474.6L665.5 474.3L667.0 474.0L668.5 473.5L670.0 472.9L671.5 473.2L673.0 474.0L674.5 474.8L676.0 475.0L677.5 474.8L679.0 474.9L680.5 475.5L682.0 476.0L683.5 476.5L685.0 476.9L686.5 476.9L688.0 476.8L689.5 476.5L691.0 476.2L692.5 475.8L694.0 475.6L695.5 475.7L697.0 476.0L698.5 476.1L700.0 476.1L701.5 476.2L703.0 476.5L704.5 476.4L706.0 476.2L707.5 475.9L709.0 475.7L710.5 475.8L712.0 475.7L713.5 475.8L715.0 475.9L716.5 476.2L718.0 476.7L719.5 476.9L721.0 477.2L722.5 477.4L724.0 477.7L725.5 478.1L727.0 478.1L728.5 477.8L730.0 477.6L731.5 478.2L733.0 478.7L734.5 479.0L736.0 478.9L737.5 478.7L739.0 478.7L740.5 478.5L742.0 478.5L743.5 478.8L745.0 479.3L746.5 479.6L748.0 479.7L749.5 479.4L751.0 479.3L752.5 479.3L754.0 479.2L755.5 479.4L757.0 479.2L758.5 479.4L760.0 479.6L761.5 479.7L763.0 479.9L764.5 479.8L766.0 479.9L767.5 480.0L769.0 479.8L770.5 479.5L772.0 479.3L773.5 479.5L775.0 479.9L776.5 480.6L778.0 480.8L779.5 480.7L781.0 480.5L782.5 480.2L784.0 480.6L785.5 480.7L787.0 480.7L788.5 480.4L790.0 480.0L791.5 479.8L793.0 479.4L794.5 479.7L796.0 479.7L797.5 479.6L799.0 479.3L800.5 478.9L802.0 478.9L803.5 478.7L805.0 478.5L806.5 478.7L808.0 478.6L809.5 478.1L811.0 477.8L812.5 477.9L814.0 478.1L815.5 478.3L817.0 478.3L818.5 478.4L820.0 478.6L821.5 478.7L823.0 478.6L824.5 478.8L826.0 479.1L827.5 479.2L829.0 479.3L830.5 479.3L832.0 479.3L833.5 479.3L835.0 479.5L836.5 479.5L838.0 479.5L839.5 479.4L841.0 479.3L842.5 479.4L844.0 479.6L845.5 479.5L847.0 479.2L848.5 478.9L850.0 478.9L851.5 479.4L853.0 479.5L854.5 479.4L856.0 479.4L857.5 479.1L859.0 479.0L860.5 479.3L862.0 479.4L863.5 479.7L865.0 479.6L866.5 479.5L868.0 479.4L869.5 478.7L871.0 477.8L872.5 477.0L874.0 476.7L875.5 476.2L877.0 475.9L878.5 475.9L880.0 475.7L881.5 475.5L883.0 475.3L884.5 474.9L886.0 474.8L887.5 474.7L889.0 474.4L890.5 474.0L892.0 473.6L893.5 473.5L895.0 473.7L896.5 474.1L898.0 473.9L899.5 472.5L901.0 471.4L902.5 470.8L904.0 470.7L905.5 470.7L907.0 470.0L908.5 469.3L910.0 468.7L911.5 468.7L913.0 468.7L914.5 468.7L916.0 469.2L917.5 469.5L919.0 469.6L920.5 469.4L922.0 469.0L923.5 468.9L925.0 468.7L926.5 468.8L928.0 469.2L929.5 469.8L931.0 470.9L932.5 471.8L934.0 472.6L935.5 473.4L937.0 473.8L938.5 474.7L940.0 475.2L941.5 475.8L943.0 476.0L944.5 476.3L946.0 477.2L947.5 478.0L949.0 479.1L950.5 479.1L952.0 478.9L953.5 479.6L955.0 480.6L956.5 481.8L958.0 482.6L959.5 483.3L961.0 484.3L962.5 485.3L964.0 486.1L965.5 486.7L967.0 487.1L968.5 487.5L970.0 488.1L971.5 488.9L973.0 489.9L974.5 491.0L976.0 491.6L977.5 492.7L979.0 493.5L980.5 494.1L982.0 494.6L983.5 495.1L985.0 495.5L986.5 495.7L988.0 496.0L989.5 496.0L991.0 496.4L992.5 497.0L994.0 497.3L995.5 497.5L997.0 497.4L998.5 497.3L1000.0 497.2L1001.5 497.2L1003.0 497.3L1004.5 497.4L1006.0 497.7L1007.5 497.9L1009.0 498.1L1010.5 498.2L1012.0 497.9L1013.5 497.5L1015.0 497.3L1016.5 497.4L1018.0 497.8L1019.5 497.8L1021.0 497.7L1022.5 497.4L1024.0 497.1L1025.5 497.3L1027.0 497.3L1028.5 497.6L1030.0 497.5L1031.5 497.1L1033.0 497.2L1034.5 497.4L1036.0 497.6L1037.5 497.6L1039.0 497.3L1040.5 497.2L1042.0 497.2L1043.5 497.5L1045.0 497.4L1046.5 497.4L1048.0 497.5L1049.5 497.0L1051.0 496.9L1052.5 496.7L1054.0 497.0L1055.5 497.5L1057.0 497.8L1058.5 497.8L1060.0 497.7L1061.5 497.5L1063.0 497.5L1064.5 497.4L1066.0 497.1L1067.5 497.3L1069.0 497.2L1070.5 497.4L1072.0 497.4L1073.5 497.4L1075.0 497.6L1076.5 497.6L1078.0 497.8L1079.5 498.0L1081.0 498.2L1082.5 498.0L1084.0 497.5L1085.5 497.2L1086.7 497.1L1089.7 521.0L1091.5 521.3L1093.0 521.4L1094.5 521.4L1096.0 521.4L1097.5 521.4L1099.0 521.5L1100.5 521.7L1102.0 521.6L1103.5 521.5L1105.0 521.5L1106.5 521.5L1108.0 521.7L1109.5 521.7L1111.0 521.6L1112.5 521.5L1114.0 521.4L1115.5 521.5L1117.0 521.6L1118.5 521.5L1120.0 521.5L1121.5 521.5L1123.0 521.6L1124.5 521.7L1126.0 521.7L1127.5 521.6L1129.0 521.7L1130.5 521.8L1132.0 521.8L1133.5 521.8L1135.0 521.8L1136.5 521.8L1138.0 521.8L1139.5 521.8L1141.0 521.8L1142.5 521.8L1144.0 521.9L1145.5 521.9L1147.0 521.9L1148.5 522.0L1150.0 522.0L1151.5 522.1L1153.0 522.1L1154.5 522.1L1156.0 522.2L1157.5 522.2L1159.0 522.1L1160.5 522.2L1162.0 522.4L1163.5 522.5L1165.0 522.6L1166.5 522.6L1168.0 522.7L1169.5 522.9L1171.0 523.2L1172.5 523.3L1174.0 523.5L1175.5 523.5L1177.0 523.7L1178.5 523.8L1180.0 524.0L1181.5 524.0L1183.0 524.0L1184.5 523.9L1186.0 523.8L1187.5 523.8L1189.0 523.8L1190.5 523.8L1192.0 523.9L1193.5 523.8L1195.0 523.7L1196.5 523.5L1198.0 523.5L1199.5 523.4L1201.0 523.3L1202.5 523.1L1204.0 523.0L1205.5 523.0L1207.0 522.9L1208.5 522.9L1210.0 522.9L1211.5 522.7L1213.0 522.7L1214.5 522.5L1216.0 522.4L1217.5 522.2L1219.0 522.1L1220.5 522.2L1222.0 522.2L1223.5 522.1L1225.0 521.7L1226.5 521.3L1228.0 521.1L1229.5 521.0L1231.0 521.0L1232.5 520.8L1234.0 520.6L1235.5 520.4L1237.0 520.3L1238.5 520.2L1240.0 520.1L1241.5 519.7L1243.0 519.4L1244.5 519.0L1246.0 518.8L1247.5 518.7L1249.0 518.6L1250.5 518.3L1252.0 518.0L1253.5 517.6L1255.0 517.5L1256.5 517.4L1258.0 517.0L1259.5 516.6L1261.0 515.8L1262.5 515.0L1264.0 514.4L1265.5 513.9L1267.0 513.3L1268.5 512.9L1270.0 512.3L1271.5 511.8L1273.0 511.6L1274.5 511.9L1276.0 512.1L1277.5 512.3L1279.0 512.4L1280.5 512.6L1282.0 512.5L1283.5 512.4L1285.0 512.3L1286.5 512.2L1288.0 512.1L1289.5 511.9L1291.0 511.6L1292.5 511.3L1294.0 511.1L1295.5 510.8L1297.0 510.5L1298.5 510.2L1300.0 510.0L1301.5 509.7L1303.0 509.5L1304.5 509.3L1306.0 509.0L1307.5 508.9L1309.0 508.7L1310.5 508.5L1312.0 508.0L1313.5 507.6L1315.0 507.2L1316.5 507.0L1318.0 506.8L1319.5 506.5L1321.0 506.3L1322.5 506.0L1324.0 505.8L1325.5 505.6L1327.0 505.4L1328.5 505.4L1330.0 505.3L1331.5 505.2L1333.0 505.0L1334.5 504.9L1336.0 504.9L1337.5 505.0L1339.0 504.9L1340.5 504.7L1342.0 504.4L1343.5 504.0L1345.0 503.7L1346.5 503.3L1348.0 503.0L1349.5 502.6L1351.0 503.5L1352.5 505.5L1354.0 504.7L1355.5 502.6L1357.0 501.5L1358.5 501.2L1360.0 501.0L1361.5 500.8L1363.0 500.7L1364.5 500.8L1366.0 500.7L1367.5 500.6L1369.0 500.6L1370.5 500.5L1372.0 500.5L1373.5 500.4L1375.0 500.2L1376.5 500.2L1378.0 500.1L1379.5 500.0L1381.0 499.8L1382.5 499.8L1384.0 499.6L1385.5 499.5L1387.0 499.4L1388.5 499.3L1390.0 499.3L1391.5 499.1L1393.0 499.0L1394.5 498.8L1396.0 498.4L1397.5 498.2L1399.0 498.1L1400.5 498.0L1402.0 498.0L1403.5 497.8L1405.0 497.7L1406.5 497.5L1408.0 497.4L1409.5 497.2L1411.0 497.0L1412.5 496.8L1414.0 496.5L1415.5 496.3L1417.0 496.2L1418.5 496.1L1420.0 496.1L1421.5 495.9L1423.0 495.8L1424.5 495.8L1426.0 495.7L1427.5 495.6L1429.0 495.3L1430.5 495.0L1432.0 494.9L1433.5 494.8L1435.0 494.6L1436.5 494.3L1438.0 494.0L1439.5 493.8L1441.0 493.9L1442.5 493.7L1444.0 493.4L1445.5 493.1L1447.0 492.8L1448.5 492.6L1450.0 492.5L1451.5 492.4L1453.0 492.2L1454.5 492.1L1456.0 489.1L1457.5 484.7L1459.0 483.4L1460.5 482.5L1462.0 482.2L1463.5 481.9L1465.0 481.7L1466.5 481.2L1468.0 480.7L1469.5 480.0L1471.0 479.3L1472.5 478.7L1474.0 478.3L1475.5 478.0L1477.0 477.8L1478.5 477.4L1480.0 477.0L1481.5 476.7L1483.0 476.5L1484.5 476.2L1486.0 475.8L1487.5 475.4L1489.0 475.2L1490.5 475.2L1492.0 475.2L1493.5 475.1L1495.0 474.9L1496.5 474.7L1498.0 474.5L1499.5 474.3L1501.0 474.1L1502.5 473.8L1504.0 473.7L1505.5 473.5L1507.0 473.4L1508.5 473.4L1510.0 473.3L1511.5 473.4L1513.0 473.4L1514.5 473.2L1516.0 473.1L1517.5 472.9L1519.0 472.6L1520.5 472.4L1522.0 472.2L1523.5 472.1L1525.0 472.2L1526.5 472.1L1528.0 472.1L1529.5 472.0L1531.0 471.9L1532.5 471.7L1534.0 471.5L1535.5 471.3L1537.0 471.2L1538.5 471.1L1540.0 471.1L1541.5 471.0L1543.0 470.8L1544.5 470.5L1546.0 471.1L1547.5 472.3L1549.0 473.3L1550.5 474.0L1552.0 474.2L1553.5 474.4L1555.0 474.8L1556.5 473.0L1558.0 471.2L1559.5 470.3L1561.0 470.4L1562.5 470.2L1564.0 470.1L1565.5 470.1L1567.0 470.0L1568.5 469.9L1570.0 469.6L1571.5 469.3L1573.0 469.2L1574.5 469.2L1576.0 469.1L1576.3 469.1L1576.3 525.6Z" fill="#ffcd69"/>
<path d="M565.0 473.9L566.5 473.8L568.0 473.7L569.5 474.1L571.0 474.3L572.5 474.0L574.0 473.3L575.5 472.8L577.0 472.8L578.5 473.0L580.0 473.1L581.5 473.1L583.0 473.1L584.5 473.0L586.0 473.1L587.5 473.1L589.0 473.3L590.5 473.5L592.0 473.6L593.5 473.7L595.0 473.7L596.5 473.9L598.0 474.1L599.5 474.3L601.0 474.9L602.5 474.8L604.0 474.6L605.5 474.4L607.0 474.1L608.5 474.8L610.0 475.1L611.5 475.5L613.0 475.3L614.5 475.2L616.0 475.3L617.5 475.5L619.0 476.1L620.5 476.3L622.0 476.5L623.5 476.4L625.0 476.6L626.5 477.2L628.0 477.4L629.5 477.7L631.0 477.3L632.5 476.6L634.0 476.5L635.5 476.4L637.0 476.9L638.5 477.0L640.0 476.8L641.5 476.7L643.0 476.4L644.5 476.5L646.0 476.6L647.5 476.7L649.0 476.3L650.5 475.9L652.0 475.5L653.5 475.4L655.0 475.1L656.5 475.0L658.0 474.8L659.5 474.9L661.0 474.9L662.5 474.6L664.0 474.6L665.5 474.3L667.0 474.0L668.5 473.5L670.0 472.9L671.5 473.2L673.0 474.0L674.5 474.8L676.0 475.0L677.5 474.8L679.0 474.9L680.5 475.5L682.0 476.0L683.5 476.5L685.0 476.9L686.5 476.9L688.0 476.8L689.5 476.5L691.0 476.2L692.5 475.8L694.0 475.6L695.5 475.7L697.0 476.0L698.5 476.1L700.0 476.1L701.5 476.2L703.0 476.5L704.5 476.4L706.0 476.2L707.5 475.9L709.0 475.7L710.5 475.8L712.0 475.7L713.5 475.8L715.0 475.9L716.5 476.2L718.0 476.7L719.5 476.9L721.0 477.2L722.5 477.4L724.0 477.7L725.5 478.1L727.0 478.1L728.5 477.8L730.0 477.6L731.5 478.2L733.0 478.7L734.5 479.0L736.0 478.9L737.5 478.7L739.0 478.7L740.5 478.5L742.0 478.5L743.5 478.8L745.0 479.3L746.5 479.6L748.0 479.7L749.5 479.4L751.0 479.3L752.5 479.3L754.0 479.2L755.5 479.4L757.0 479.2L758.5 479.4L760.0 479.6L761.5 479.7L763.0 479.9L764.5 479.8L766.0 479.9L767.5 480.0L769.0 479.8L770.5 479.5L772.0 479.3L773.5 479.5L775.0 479.9L776.5 480.6L778.0 480.8L779.5 480.7L781.0 480.5L782.5 480.2L784.0 480.6L785.5 480.7L787.0 480.7L788.5 480.4L790.0 480.0L791.5 479.8L793.0 479.4L794.5 479.7L796.0 479.7L797.5 479.6L799.0 479.3L800.5 478.9L802.0 478.9L803.5 478.7L805.0 478.5L806.5 478.7L808.0 478.6L809.5 478.1L811.0 477.8L812.5 477.9L814.0 478.1L815.5 478.3L817.0 478.3L818.5 478.4L820.0 478.6L821.5 478.7L823.0 478.6L824.5 478.8L826.0 479.1L827.5 479.2L829.0 479.3L830.5 479.3L832.0 479.3L833.5 479.3L835.0 479.5L836.5 479.5L838.0 479.5L839.5 479.4L841.0 479.3L842.5 479.4L844.0 479.6L845.5 479.5L847.0 479.2L848.5 478.9L850.0 478.9L851.5 479.4L853.0 479.5L854.5 479.4L856.0 479.4L857.5 479.1L859.0 479.0L860.5 479.3L862.0 479.4L863.5 479.7L865.0 479.6L866.5 479.5L868.0 479.4L869.5 478.7L871.0 477.8L872.5 477.0L874.0 476.7L875.5 476.2L877.0 475.9L878.5 475.9L880.0 475.7L881.5 475.5L883.0 475.3L884.5 474.9L886.0 474.8L887.5 474.7L889.0 474.4L890.5 474.0L892.0 473.6L893.5 473.5L895.0 473.7L896.5 474.1L898.0 473.9L899.5 472.5L901.0 471.4L902.5 470.8L904.0 470.7L905.5 470.7L907.0 470.0L908.5 469.3L910.0 468.7L911.5 468.7L913.0 468.7L914.5 468.7L916.0 469.2L917.5 469.5L919.0 469.6L920.5 469.4L922.0 469.0L923.5 468.9L925.0 468.7L926.5 468.8L928.0 469.2L929.5 469.8L931.0 470.9L932.5 471.8L934.0 472.6L935.5 473.4L937.0 473.8L938.5 474.7L940.0 475.2L941.5 475.8L943.0 476.0L944.5 476.3L946.0 477.2L947.5 478.0L949.0 479.1L950.5 479.1L952.0 478.9L953.5 479.6L955.0 480.6L956.5 481.8L958.0 482.6L959.5 483.3L961.0 484.3L962.5 485.3L964.0 486.1L965.5 486.7L967.0 487.1L968.5 487.5L970.0 488.1L971.5 488.9L973.0 489.9L974.5 491.0L976.0 491.6L977.5 492.7L979.0 493.5L980.5 494.1L982.0 494.6L983.5 495.1L985.0 495.5L986.5 495.7L988.0 496.0L989.5 496.0L991.0 496.4L992.5 497.0L994.0 497.3L995.5 497.5L997.0 497.4L998.5 497.3L1000.0 497.2L1001.5 497.2L1003.0 497.3L1004.5 497.4L1006.0 497.7L1007.5 497.9L1009.0 498.1L1010.5 498.2L1012.0 497.9L1013.5 497.5L1015.0 497.3L1016.5 497.4L1018.0 497.8L1019.5 497.8L1021.0 497.7L1022.5 497.4L1024.0 497.1L1025.5 497.3L1027.0 497.3L1028.5 497.6L1030.0 497.5L1031.5 497.1L1033.0 497.2L1034.5 497.4L1036.0 497.6L1037.5 497.6L1039.0 497.3L1040.5 497.2L1042.0 497.2L1043.5 497.5L1045.0 497.4L1046.5 497.4L1048.0 497.5L1049.5 497.0L1051.0 496.9L1052.5 496.7L1054.0 497.0L1055.5 497.5L1057.0 497.8L1058.5 497.8L1060.0 497.7L1061.5 497.5L1063.0 497.5L1064.5 497.4L1066.0 497.1L1067.5 497.3L1069.0 497.2L1070.5 497.4L1072.0 497.4L1073.5 497.4L1075.0 497.6L1076.5 497.6L1078.0 497.8L1079.5 498.0L1081.0 498.2L1082.5 498.0L1084.0 497.5L1085.5 497.2L1086.7 497.1L1089.7 521.0L1091.5 521.3L1093.0 521.4L1094.5 521.4L1096.0 521.4L1097.5 521.4L1099.0 521.5L1100.5 521.7L1102.0 521.6L1103.5 521.5L1105.0 521.5L1106.5 521.5L1108.0 521.7L1109.5 521.7L1111.0 521.6L1112.5 521.5L1114.0 521.4L1115.5 521.5L1117.0 521.6L1118.5 521.5L1120.0 521.5L1121.5 521.5L1123.0 521.6L1124.5 521.7L1126.0 521.7L1127.5 521.6L1129.0 521.7L1130.5 521.8L1132.0 521.8L1133.5 521.8L1135.0 521.8L1136.5 521.8L1138.0 521.8L1139.5 521.8L1141.0 521.8L1142.5 521.8L1144.0 521.9L1145.5 521.9L1147.0 521.9L1148.5 522.0L1150.0 522.0L1151.5 522.1L1153.0 522.1L1154.5 522.1L1156.0 522.2L1157.5 522.2L1159.0 522.1L1160.5 522.2L1162.0 522.4L1163.5 522.5L1165.0 522.6L1166.5 522.6L1168.0 522.7L1169.5 522.9L1171.0 523.2L1172.5 523.3L1174.0 523.5L1175.5 523.5L1177.0 523.7L1178.5 523.8L1180.0 524.0L1181.5 524.0L1183.0 524.0L1184.5 523.9L1186.0 523.8L1187.5 523.8L1189.0 523.8L1190.5 523.8L1192.0 523.9L1193.5 523.8L1195.0 523.7L1196.5 523.5L1198.0 523.5L1199.5 523.4L1201.0 523.3L1202.5 523.1L1204.0 523.0L1205.5 523.0L1207.0 522.9L1208.5 522.9L1210.0 522.9L1211.5 522.7L1213.0 522.7L1214.5 522.5L1216.0 522.4L1217.5 522.2L1219.0 522.1L1220.5 522.2L1222.0 522.2L1223.5 522.1L1225.0 521.7L1226.5 521.3L1228.0 521.1L1229.5 521.0L1231.0 521.0L1232.5 520.8L1234.0 520.6L1235.5 520.4L1237.0 520.3L1238.5 520.2L1240.0 520.1L1241.5 519.7L1243.0 519.4L1244.5 519.0L1246.0 518.8L1247.5 518.7L1249.0 518.6L1250.5 518.3L1252.0 518.0L1253.5 517.6L1255.0 517.5L1256.5 517.4L1258.0 517.0L1259.5 516.6L1261.0 515.8L1262.5 515.0L1264.0 514.4L1265.5 513.9L1267.0 513.3L1268.5 512.9L1270.0 512.3L1271.5 511.8L1273.0 511.6L1274.5 511.9L1276.0 512.1L1277.5 512.3L1279.0 512.4L1280.5 512.6L1282.0 512.5L1283.5 512.4L1285.0 512.3L1286.5 512.2L1288.0 512.1L1289.5 511.9L1291.0 511.6L1292.5 511.3L1294.0 511.1L1295.5 510.8L1297.0 510.5L1298.5 510.2L1300.0 510.0L1301.5 509.7L1303.0 509.5L1304.5 509.3L1306.0 509.0L1307.5 508.9L1309.0 508.7L1310.5 508.5L1312.0 508.0L1313.5 507.6L1315.0 507.2L1316.5 507.0L1318.0 506.8L1319.5 506.5L1321.0 506.3L1322.5 506.0L1324.0 505.8L1325.5 505.6L1327.0 505.4L1328.5 505.4L1330.0 505.3L1331.5 505.2L1333.0 505.0L1334.5 504.9L1336.0 504.9L1337.5 505.0L1339.0 504.9L1340.5 504.7L1342.0 504.4L1343.5 504.0L1345.0 503.7L1346.5 503.3L1348.0 503.0L1349.5 502.6L1351.0 503.5L1352.5 505.5L1354.0 504.7L1355.5 502.6L1357.0 501.5L1358.5 501.2L1360.0 501.0L1361.5 500.8L1363.0 500.7L1364.5 500.8L1366.0 500.7L1367.5 500.6L1369.0 500.6L1370.5 500.5L1372.0 500.5L1373.5 500.4L1375.0 500.2L1376.5 500.2L1378.0 500.1L1379.5 500.0L1381.0 499.8L1382.5 499.8L1384.0 499.6L1385.5 499.5L1387.0 499.4L1388.5 499.3L1390.0 499.3L1391.5 499.1L1393.0 499.0L1394.5 498.8L1396.0 498.4L1397.5 498.2L1399.0 498.1L1400.5 498.0L1402.0 498.0L1403.5 497.8L1405.0 497.7L1406.5 497.5L1408.0 497.4L1409.5 497.2L1411.0 497.0L1412.5 496.8L1414.0 496.5L1415.5 496.3L1417.0 496.2L1418.5 496.1L1420.0 496.1L1421.5 495.9L1423.0 495.8L1424.5 495.8L1426.0 495.7L1427.5 495.6L1429.0 495.3L1430.5 495.0L1432.0 494.9L1433.5 494.8L1435.0 494.6L1436.5 494.3L1438.0 494.0L1439.5 493.8L1441.0 493.9L1442.5 493.7L1444.0 493.4L1445.5 493.1L1447.0 492.8L1448.5 492.6L1450.0 492.5L1451.5 492.4L1453.0 492.2L1454.5 492.1L1456.0 489.1L1457.5 484.7L1459.0 483.4L1460.5 482.5L1462.0 482.2L1463.5 481.9L1465.0 481.7L1466.5 481.2L1468.0 480.7L1469.5 480.0L1471.0 479.3L1472.5 478.7L1474.0 478.3L1475.5 478.0L1477.0 477.8L1478.5 477.4L1480.0 477.0L1481.5 476.7L1483.0 476.5L1484.5 476.2L1486.0 475.8L1487.5 475.4L1489.0 475.2L1490.5 475.2L1492.0 475.2L1493.5 475.1L1495.0 474.9L1496.5 474.7L1498.0 474.5L1499.5 474.3L1501.0 474.1L1502.5 473.8L1504.0 473.7L1505.5 473.5L1507.0 473.4L1508.5 473.4L1510.0 473.3L1511.5 473.4L1513.0 473.4L1514.5 473.2L1516.0 473.1L1517.5 472.9L1519.0 472.6L1520.5 472.4L1522.0 472.2L1523.5 472.1L1525.0 472.2L1526.5 472.1L1528.0 472.1L1529.5 472.0L1531.0 471.9L1532.5 471.7L1534.0 471.5L1535.5 471.3L1537.0 471.2L1538.5 471.1L1540.0 471.1L1541.5 471.0L1543.0 470.8L1544.5 470.5L1546.0 471.1L1547.5 472.3L1549.0 473.3L1550.5 474.0L1552.0 474.2L1553.5 474.4L1555.0 474.8L1556.5 473.0L1558.0 471.2L1559.5 470.3L1561.0 470.4L1562.5 470.2L1564.0 470.1L1565.5 470.1L1567.0 470.0L1568.5 469.9L1570.0 469.6L1571.5 469.3L1573.0 469.2L1574.5 469.2L1576.0 469.1L1576.3 469.1" fill="none" stroke="#505656" stroke-width="1.25" stroke-opacity="0.90"/>
<path d="M565.0 525.6L565.0 515.0L566.5 514.9L568.0 514.7L569.5 514.5L571.0 514.4L572.5 514.2L574.0 514.3L575.5 514.4L577.0 514.5L578.5 514.6L580.0 514.7L581.5 514.8L583.0 514.9L584.5 515.0L586.0 515.0L587.5 515.1L589.0 515.2L590.5 515.3L592.0 515.4L593.5 515.4L595.0 515.5L596.5 515.6L598.0 515.6L599.5 515.7L601.0 515.8L602.5 515.9L604.0 516.0L605.5 516.0L607.0 516.1L608.5 516.2L610.0 516.2L611.5 516.2L613.0 516.2L614.5 516.2L616.0 516.2L617.5 516.2L619.0 516.2L620.5 516.2L622.0 516.2L623.5 516.2L625.0 516.2L626.5 516.2L628.0 516.2L629.5 516.2L631.0 516.2L632.5 516.2L634.0 516.2L635.5 516.2L637.0 516.2L638.5 516.1L640.0 516.1L641.5 516.1L643.0 516.0L644.5 516.0L646.0 515.9L647.5 515.9L649.0 515.8L650.5 515.8L652.0 515.7L653.5 515.7L655.0 515.6L656.5 515.6L658.0 515.6L659.5 515.5L661.0 515.6L662.5 515.6L664.0 515.7L665.5 515.8L667.0 515.9L668.5 516.0L670.0 516.1L671.5 516.2L673.0 516.3L674.5 516.4L676.0 516.5L677.5 516.5L679.0 516.6L680.5 516.7L682.0 516.8L683.5 516.9L685.0 517.0L686.5 517.1L688.0 517.2L689.5 517.3L691.0 517.4L692.5 517.5L694.0 517.6L695.5 517.7L697.0 517.8L698.5 517.9L700.0 518.0L701.5 518.2L703.0 518.3L704.5 518.4L706.0 518.5L707.5 518.6L709.0 518.7L710.5 518.8L712.0 518.9L713.5 519.0L715.0 519.1L716.5 519.2L718.0 519.2L719.5 519.3L721.0 519.4L722.5 519.5L724.0 519.6L725.5 519.7L727.0 519.8L728.5 519.9L730.0 520.0L731.5 520.0L733.0 519.9L734.5 519.9L736.0 519.8L737.5 519.8L739.0 519.7L740.5 519.7L742.0 519.7L743.5 519.6L745.0 519.6L746.5 519.5L748.0 519.5L749.5 519.4L751.0 519.4L752.5 519.3L754.0 519.2L755.5 519.2L757.0 519.1L758.5 519.1L760.0 519.0L761.5 519.0L763.0 519.1L764.5 519.1L766.0 519.1L767.5 519.1L769.0 519.2L770.5 519.2L772.0 519.2L773.5 519.3L775.0 519.3L776.5 519.3L778.0 519.4L779.5 519.4L781.0 519.4L782.5 519.5L784.0 519.5L785.5 519.5L787.0 519.5L788.5 519.5L790.0 519.5L791.5 519.5L793.0 519.5L794.5 519.5L796.0 519.5L797.5 519.5L799.0 519.3L800.5 519.1L802.0 519.0L803.5 518.8L805.0 518.6L806.5 518.4L808.0 518.2L809.5 518.1L811.0 518.0L812.5 518.0L814.0 518.0L815.5 518.0L817.0 518.0L818.5 518.0L820.0 518.0L821.5 518.0L823.0 518.1L824.5 518.2L826.0 518.4L827.5 518.6L829.0 518.8L830.5 519.0L832.0 519.1L833.5 519.3L835.0 519.5L836.5 519.5L838.0 519.4L839.5 519.4L841.0 519.3L842.5 519.3L844.0 519.2L845.5 519.2L847.0 519.1L848.5 519.1L850.0 519.0L851.5 519.0L853.0 519.0L854.5 518.9L856.0 518.9L857.5 518.8L859.0 518.8L860.5 518.8L862.0 519.0L863.5 519.2L865.0 519.5L866.5 519.7L868.0 519.9L869.5 519.8L871.0 519.5L872.5 519.1L874.0 518.8L875.5 518.5L877.0 518.1L878.5 518.0L880.0 518.0L881.5 518.0L883.0 518.0L884.5 518.0L886.0 518.0L887.5 518.0L889.0 518.0L890.5 517.9L892.0 517.7L893.5 517.5L895.0 517.3L896.5 517.1L898.0 516.9L899.5 516.5L901.0 516.1L902.5 515.7L904.0 515.3L905.5 514.9L907.0 514.5L908.5 514.1L910.0 513.8L911.5 513.7L913.0 513.6L914.5 513.5L916.0 513.4L917.5 513.3L919.0 513.2L920.5 513.1L922.0 513.0L923.5 513.1L925.0 513.2L926.5 513.4L928.0 513.5L929.5 513.7L931.0 514.2L932.5 515.0L934.0 515.8L935.5 516.5L937.0 517.2L938.5 517.6L940.0 517.8L941.5 518.0L943.0 518.2L944.5 518.4L946.0 518.6L947.5 518.8L949.0 518.8L950.5 518.9L952.0 519.0L953.5 519.1L955.0 519.2L956.5 519.3L958.0 519.4L959.5 519.5L961.0 519.5L962.5 519.5L964.0 519.5L965.5 519.5L967.0 519.5L968.5 519.5L970.0 519.5L971.5 519.8L973.0 520.0L974.5 520.3L976.0 520.5L977.5 520.8L979.0 521.1L980.5 521.4L982.0 521.9L983.5 522.4L985.0 522.9L986.5 523.4L988.0 523.9L989.5 524.5L991.0 525.0L992.5 525.5L994.0 525.5L995.5 525.5L997.0 525.5L998.5 525.5L1000.0 525.5L1001.5 525.5L1003.0 525.5L1004.5 525.5L1006.0 525.5L1007.5 525.5L1009.0 525.5L1010.5 525.5L1012.0 525.5L1013.5 525.5L1015.0 525.5L1016.5 525.5L1018.0 525.5L1019.5 525.5L1021.0 525.5L1022.5 525.5L1024.0 525.5L1025.5 525.5L1027.0 525.5L1028.5 525.5L1030.0 525.5L1031.5 525.5L1033.0 525.5L1034.5 525.5L1036.0 525.5L1037.5 525.5L1039.0 525.5L1040.5 525.5L1042.0 525.5L1043.5 525.5L1045.0 525.5L1046.5 525.5L1048.0 525.5L1049.5 525.5L1051.0 525.5L1052.5 525.5L1054.0 525.5L1055.5 525.5L1057.0 525.5L1058.5 525.5L1060.0 525.5L1061.5 525.5L1063.0 525.5L1064.5 525.5L1066.0 525.5L1067.5 525.5L1069.0 525.5L1070.5 525.5L1072.0 525.5L1073.5 525.5L1075.0 525.5L1076.5 525.5L1078.0 525.5L1079.5 525.5L1081.0 525.5L1082.5 525.5L1084.0 525.5L1085.5 525.5L1086.7 525.5L1089.7 522.8L1091.5 522.8L1093.0 522.8L1094.5 522.8L1096.0 522.8L1097.5 522.8L1099.0 522.8L1100.5 522.8L1102.0 522.8L1103.5 522.8L1105.0 522.8L1106.5 522.8L1108.0 522.8L1109.5 522.8L1111.0 522.8L1112.5 522.8L1114.0 522.8L1115.5 522.8L1117.0 522.8L1118.5 522.8L1120.0 522.8L1121.5 522.8L1123.0 522.8L1124.5 522.8L1126.0 522.8L1127.5 522.8L1129.0 522.8L1130.5 522.8L1132.0 522.8L1133.5 522.8L1135.0 522.8L1136.5 522.8L1138.0 522.8L1139.5 522.8L1141.0 522.8L1142.5 522.8L1144.0 522.8L1145.5 522.8L1147.0 522.8L1148.5 522.8L1150.0 522.8L1151.5 522.8L1153.0 522.8L1154.5 522.8L1156.0 522.8L1157.5 522.8L1159.0 522.8L1160.5 522.8L1162.0 522.8L1163.5 522.8L1165.0 522.8L1166.5 522.8L1168.0 522.8L1169.5 523.0L1171.0 523.2L1172.5 523.3L1174.0 523.5L1175.5 523.5L1177.0 523.7L1178.5 523.9L1180.0 524.0L1181.5 524.0L1183.0 524.0L1184.5 523.9L1186.0 523.8L1187.5 523.8L1189.0 523.8L1190.5 523.8L1192.0 523.9L1193.5 523.8L1195.0 523.7L1196.5 523.5L1198.0 523.5L1199.5 523.4L1201.0 523.3L1202.5 523.2L1204.0 523.1L1205.5 523.0L1207.0 522.9L1208.5 522.9L1210.0 522.9L1211.5 522.8L1213.0 522.8L1214.5 522.8L1216.0 522.9L1217.5 523.0L1219.0 523.1L1220.5 523.2L1222.0 523.2L1223.5 523.3L1225.0 523.4L1226.5 523.5L1228.0 523.6L1229.5 523.7L1231.0 523.8L1232.5 523.9L1234.0 524.0L1235.5 524.1L1237.0 524.1L1238.5 523.9L1240.0 523.6L1241.5 523.3L1243.0 523.1L1244.5 522.8L1246.0 522.5L1247.5 522.2L1249.0 522.0L1250.5 521.7L1252.0 521.4L1253.5 521.2L1255.0 520.9L1256.5 520.6L1258.0 520.4L1259.5 520.1L1261.0 520.0L1262.5 520.0L1264.0 519.1L1265.5 518.2L1267.0 517.3L1268.5 516.6L1270.0 516.0L1271.5 515.4L1273.0 515.2L1274.5 516.0L1276.0 516.8L1277.5 517.5L1279.0 517.5L1280.5 517.4L1282.0 517.4L1283.5 517.4L1285.0 517.3L1286.5 517.3L1288.0 517.3L1289.5 517.2L1291.0 517.2L1292.5 517.2L1294.0 517.1L1295.5 517.1L1297.0 517.1L1298.5 517.0L1300.0 517.0L1301.5 517.0L1303.0 516.9L1304.5 516.9L1306.0 516.8L1307.5 516.8L1309.0 516.7L1310.5 516.7L1312.0 516.6L1313.5 516.6L1315.0 516.5L1316.5 516.5L1318.0 516.5L1319.5 516.4L1321.0 516.4L1322.5 516.3L1324.0 516.3L1325.5 516.2L1327.0 516.2L1328.5 516.2L1330.0 516.2L1331.5 516.2L1333.0 516.2L1334.5 516.2L1336.0 516.2L1337.5 516.2L1339.0 516.2L1340.5 516.2L1342.0 516.2L1343.5 516.0L1345.0 515.7L1346.5 515.3L1348.0 515.0L1349.5 514.6L1351.0 514.5L1352.5 514.4L1354.0 514.4L1355.5 514.3L1357.0 514.3L1358.5 514.2L1360.0 514.2L1361.5 514.2L1363.0 514.1L1364.5 514.1L1366.0 514.0L1367.5 514.0L1369.0 513.9L1370.5 513.9L1372.0 513.8L1373.5 513.8L1375.0 513.8L1376.5 513.8L1378.0 513.8L1379.5 513.9L1381.0 513.9L1382.5 514.0L1384.0 514.0L1385.5 514.1L1387.0 514.1L1388.5 514.2L1390.0 514.2L1391.5 514.2L1393.0 514.3L1394.5 514.3L1396.0 514.4L1397.5 514.4L1399.0 514.5L1400.5 514.5L1402.0 514.5L1403.5 514.6L1405.0 514.6L1406.5 514.6L1408.0 514.7L1409.5 514.7L1411.0 514.7L1412.5 514.8L1414.0 514.8L1415.5 514.8L1417.0 514.8L1418.5 514.9L1420.0 514.9L1421.5 514.9L1423.0 515.0L1424.5 515.0L1426.0 515.0L1427.5 515.0L1429.0 515.0L1430.5 515.0L1432.0 515.0L1433.5 515.0L1435.0 515.0L1436.5 515.0L1438.0 515.0L1439.5 515.0L1441.0 515.0L1442.5 515.0L1444.0 515.0L1445.5 515.0L1447.0 515.0L1448.5 515.0L1450.0 515.0L1451.5 515.0L1453.0 515.1L1454.5 515.1L1456.0 515.1L1457.5 515.1L1459.0 515.2L1460.5 515.2L1462.0 515.2L1463.5 515.3L1465.0 515.3L1466.5 515.3L1468.0 515.4L1469.5 515.4L1471.0 515.4L1472.5 515.5L1474.0 515.5L1475.5 515.5L1477.0 515.6L1478.5 515.7L1480.0 515.8L1481.5 515.9L1483.0 516.0L1484.5 516.1L1486.0 516.2L1487.5 516.2L1489.0 516.4L1490.5 516.5L1492.0 516.7L1493.5 516.9L1495.0 517.0L1496.5 517.1L1498.0 517.3L1499.5 517.5L1501.0 517.5L1502.5 517.6L1504.0 517.7L1505.5 517.8L1507.0 517.9L1508.5 517.9L1510.0 518.0L1511.5 518.1L1513.0 518.1L1514.5 518.2L1516.0 518.3L1517.5 518.4L1519.0 518.5L1520.5 518.5L1522.0 518.6L1523.5 518.7L1525.0 518.8L1526.5 518.7L1528.0 518.7L1529.5 518.6L1531.0 518.6L1532.5 518.5L1534.0 518.5L1535.5 518.4L1537.0 518.4L1538.5 518.3L1540.0 518.3L1541.5 518.3L1543.0 518.2L1544.5 518.2L1546.0 518.1L1547.5 518.1L1549.0 518.0L1550.5 518.0L1552.0 518.0L1553.5 517.9L1555.0 517.9L1556.5 517.9L1558.0 517.8L1559.5 517.8L1561.0 517.8L1562.5 517.8L1564.0 517.7L1565.5 517.7L1567.0 517.7L1568.5 517.6L1570.0 517.6L1571.5 517.6L1573.0 517.6L1574.5 517.5L1576.0 517.5L1576.3 517.5L1576.3 525.6Z" fill="#747474"/>
<path d="M565.0 515.0L566.5 514.9L568.0 514.7L569.5 514.5L571.0 514.4L572.5 514.2L574.0 514.3L575.5 514.4L577.0 514.5L578.5 514.6L580.0 514.7L581.5 514.8L583.0 514.9L584.5 515.0L586.0 515.0L587.5 515.1L589.0 515.2L590.5 515.3L592.0 515.4L593.5 515.4L595.0 515.5L596.5 515.6L598.0 515.6L599.5 515.7L601.0 515.8L602.5 515.9L604.0 516.0L605.5 516.0L607.0 516.1L608.5 516.2L610.0 516.2L611.5 516.2L613.0 516.2L614.5 516.2L616.0 516.2L617.5 516.2L619.0 516.2L620.5 516.2L622.0 516.2L623.5 516.2L625.0 516.2L626.5 516.2L628.0 516.2L629.5 516.2L631.0 516.2L632.5 516.2L634.0 516.2L635.5 516.2L637.0 516.2L638.5 516.1L640.0 516.1L641.5 516.1L643.0 516.0L644.5 516.0L646.0 515.9L647.5 515.9L649.0 515.8L650.5 515.8L652.0 515.7L653.5 515.7L655.0 515.6L656.5 515.6L658.0 515.6L659.5 515.5L661.0 515.6L662.5 515.6L664.0 515.7L665.5 515.8L667.0 515.9L668.5 516.0L670.0 516.1L671.5 516.2L673.0 516.3L674.5 516.4L676.0 516.5L677.5 516.5L679.0 516.6L680.5 516.7L682.0 516.8L683.5 516.9L685.0 517.0L686.5 517.1L688.0 517.2L689.5 517.3L691.0 517.4L692.5 517.5L694.0 517.6L695.5 517.7L697.0 517.8L698.5 517.9L700.0 518.0L701.5 518.2L703.0 518.3L704.5 518.4L706.0 518.5L707.5 518.6L709.0 518.7L710.5 518.8L712.0 518.9L713.5 519.0L715.0 519.1L716.5 519.2L718.0 519.2L719.5 519.3L721.0 519.4L722.5 519.5L724.0 519.6L725.5 519.7L727.0 519.8L728.5 519.9L730.0 520.0L731.5 520.0L733.0 519.9L734.5 519.9L736.0 519.8L737.5 519.8L739.0 519.7L740.5 519.7L742.0 519.7L743.5 519.6L745.0 519.6L746.5 519.5L748.0 519.5L749.5 519.4L751.0 519.4L752.5 519.3L754.0 519.2L755.5 519.2L757.0 519.1L758.5 519.1L760.0 519.0L761.5 519.0L763.0 519.1L764.5 519.1L766.0 519.1L767.5 519.1L769.0 519.2L770.5 519.2L772.0 519.2L773.5 519.3L775.0 519.3L776.5 519.3L778.0 519.4L779.5 519.4L781.0 519.4L782.5 519.5L784.0 519.5L785.5 519.5L787.0 519.5L788.5 519.5L790.0 519.5L791.5 519.5L793.0 519.5L794.5 519.5L796.0 519.5L797.5 519.5L799.0 519.3L800.5 519.1L802.0 519.0L803.5 518.8L805.0 518.6L806.5 518.4L808.0 518.2L809.5 518.1L811.0 518.0L812.5 518.0L814.0 518.0L815.5 518.0L817.0 518.0L818.5 518.0L820.0 518.0L821.5 518.0L823.0 518.1L824.5 518.2L826.0 518.4L827.5 518.6L829.0 518.8L830.5 519.0L832.0 519.1L833.5 519.3L835.0 519.5L836.5 519.5L838.0 519.4L839.5 519.4L841.0 519.3L842.5 519.3L844.0 519.2L845.5 519.2L847.0 519.1L848.5 519.1L850.0 519.0L851.5 519.0L853.0 519.0L854.5 518.9L856.0 518.9L857.5 518.8L859.0 518.8L860.5 518.8L862.0 519.0L863.5 519.2L865.0 519.5L866.5 519.7L868.0 519.9L869.5 519.8L871.0 519.5L872.5 519.1L874.0 518.8L875.5 518.5L877.0 518.1L878.5 518.0L880.0 518.0L881.5 518.0L883.0 518.0L884.5 518.0L886.0 518.0L887.5 518.0L889.0 518.0L890.5 517.9L892.0 517.7L893.5 517.5L895.0 517.3L896.5 517.1L898.0 516.9L899.5 516.5L901.0 516.1L902.5 515.7L904.0 515.3L905.5 514.9L907.0 514.5L908.5 514.1L910.0 513.8L911.5 513.7L913.0 513.6L914.5 513.5L916.0 513.4L917.5 513.3L919.0 513.2L920.5 513.1L922.0 513.0L923.5 513.1L925.0 513.2L926.5 513.4L928.0 513.5L929.5 513.7L931.0 514.2L932.5 515.0L934.0 515.8L935.5 516.5L937.0 517.2L938.5 517.6L940.0 517.8L941.5 518.0L943.0 518.2L944.5 518.4L946.0 518.6L947.5 518.8L949.0 518.8L950.5 518.9L952.0 519.0L953.5 519.1L955.0 519.2L956.5 519.3L958.0 519.4L959.5 519.5L961.0 519.5L962.5 519.5L964.0 519.5L965.5 519.5L967.0 519.5L968.5 519.5L970.0 519.5L971.5 519.8L973.0 520.0L974.5 520.3L976.0 520.5L977.5 520.8L979.0 521.1L980.5 521.4L982.0 521.9L983.5 522.4L985.0 522.9L986.5 523.4L988.0 523.9L989.5 524.5L991.0 525.0L992.5 525.5L994.0 525.5L995.5 525.5L997.0 525.5L998.5 525.5L1000.0 525.5L1001.5 525.5L1003.0 525.5L1004.5 525.5L1006.0 525.5L1007.5 525.5L1009.0 525.5L1010.5 525.5L1012.0 525.5L1013.5 525.5L1015.0 525.5L1016.5 525.5L1018.0 525.5L1019.5 525.5L1021.0 525.5L1022.5 525.5L1024.0 525.5L1025.5 525.5L1027.0 525.5L1028.5 525.5L1030.0 525.5L1031.5 525.5L1033.0 525.5L1034.5 525.5L1036.0 525.5L1037.5 525.5L1039.0 525.5L1040.5 525.5L1042.0 525.5L1043.5 525.5L1045.0 525.5L1046.5 525.5L1048.0 525.5L1049.5 525.5L1051.0 525.5L1052.5 525.5L1054.0 525.5L1055.5 525.5L1057.0 525.5L1058.5 525.5L1060.0 525.5L1061.5 525.5L1063.0 525.5L1064.5 525.5L1066.0 525.5L1067.5 525.5L1069.0 525.5L1070.5 525.5L1072.0 525.5L1073.5 525.5L1075.0 525.5L1076.5 525.5L1078.0 525.5L1079.5 525.5L1081.0 525.5L1082.5 525.5L1084.0 525.5L1085.5 525.5L1086.7 525.5L1089.7 522.8L1091.5 522.8L1093.0 522.8L1094.5 522.8L1096.0 522.8L1097.5 522.8L1099.0 522.8L1100.5 522.8L1102.0 522.8L1103.5 522.8L1105.0 522.8L1106.5 522.8L1108.0 522.8L1109.5 522.8L1111.0 522.8L1112.5 522.8L1114.0 522.8L1115.5 522.8L1117.0 522.8L1118.5 522.8L1120.0 522.8L1121.5 522.8L1123.0 522.8L1124.5 522.8L1126.0 522.8L1127.5 522.8L1129.0 522.8L1130.5 522.8L1132.0 522.8L1133.5 522.8L1135.0 522.8L1136.5 522.8L1138.0 522.8L1139.5 522.8L1141.0 522.8L1142.5 522.8L1144.0 522.8L1145.5 522.8L1147.0 522.8L1148.5 522.8L1150.0 522.8L1151.5 522.8L1153.0 522.8L1154.5 522.8L1156.0 522.8L1157.5 522.8L1159.0 522.8L1160.5 522.8L1162.0 522.8L1163.5 522.8L1165.0 522.8L1166.5 522.8L1168.0 522.8L1169.5 523.0L1171.0 523.2L1172.5 523.3L1174.0 523.5L1175.5 523.5L1177.0 523.7L1178.5 523.9L1180.0 524.0L1181.5 524.0L1183.0 524.0L1184.5 523.9L1186.0 523.8L1187.5 523.8L1189.0 523.8L1190.5 523.8L1192.0 523.9L1193.5 523.8L1195.0 523.7L1196.5 523.5L1198.0 523.5L1199.5 523.4L1201.0 523.3L1202.5 523.2L1204.0 523.1L1205.5 523.0L1207.0 522.9L1208.5 522.9L1210.0 522.9L1211.5 522.8L1213.0 522.8L1214.5 522.8L1216.0 522.9L1217.5 523.0L1219.0 523.1L1220.5 523.2L1222.0 523.2L1223.5 523.3L1225.0 523.4L1226.5 523.5L1228.0 523.6L1229.5 523.7L1231.0 523.8L1232.5 523.9L1234.0 524.0L1235.5 524.1L1237.0 524.1L1238.5 523.9L1240.0 523.6L1241.5 523.3L1243.0 523.1L1244.5 522.8L1246.0 522.5L1247.5 522.2L1249.0 522.0L1250.5 521.7L1252.0 521.4L1253.5 521.2L1255.0 520.9L1256.5 520.6L1258.0 520.4L1259.5 520.1L1261.0 520.0L1262.5 520.0L1264.0 519.1L1265.5 518.2L1267.0 517.3L1268.5 516.6L1270.0 516.0L1271.5 515.4L1273.0 515.2L1274.5 516.0L1276.0 516.8L1277.5 517.5L1279.0 517.5L1280.5 517.4L1282.0 517.4L1283.5 517.4L1285.0 517.3L1286.5 517.3L1288.0 517.3L1289.5 517.2L1291.0 517.2L1292.5 517.2L1294.0 517.1L1295.5 517.1L1297.0 517.1L1298.5 517.0L1300.0 517.0L1301.5 517.0L1303.0 516.9L1304.5 516.9L1306.0 516.8L1307.5 516.8L1309.0 516.7L1310.5 516.7L1312.0 516.6L1313.5 516.6L1315.0 516.5L1316.5 516.5L1318.0 516.5L1319.5 516.4L1321.0 516.4L1322.5 516.3L1324.0 516.3L1325.5 516.2L1327.0 516.2L1328.5 516.2L1330.0 516.2L1331.5 516.2L1333.0 516.2L1334.5 516.2L1336.0 516.2L1337.5 516.2L1339.0 516.2L1340.5 516.2L1342.0 516.2L1343.5 516.0L1345.0 515.7L1346.5 515.3L1348.0 515.0L1349.5 514.6L1351.0 514.5L1352.5 514.4L1354.0 514.4L1355.5 514.3L1357.0 514.3L1358.5 514.2L1360.0 514.2L1361.5 514.2L1363.0 514.1L1364.5 514.1L1366.0 514.0L1367.5 514.0L1369.0 513.9L1370.5 513.9L1372.0 513.8L1373.5 513.8L1375.0 513.8L1376.5 513.8L1378.0 513.8L1379.5 513.9L1381.0 513.9L1382.5 514.0L1384.0 514.0L1385.5 514.1L1387.0 514.1L1388.5 514.2L1390.0 514.2L1391.5 514.2L1393.0 514.3L1394.5 514.3L1396.0 514.4L1397.5 514.4L1399.0 514.5L1400.5 514.5L1402.0 514.5L1403.5 514.6L1405.0 514.6L1406.5 514.6L1408.0 514.7L1409.5 514.7L1411.0 514.7L1412.5 514.8L1414.0 514.8L1415.5 514.8L1417.0 514.8L1418.5 514.9L1420.0 514.9L1421.5 514.9L1423.0 515.0L1424.5 515.0L1426.0 515.0L1427.5 515.0L1429.0 515.0L1430.5 515.0L1432.0 515.0L1433.5 515.0L1435.0 515.0L1436.5 515.0L1438.0 515.0L1439.5 515.0L1441.0 515.0L1442.5 515.0L1444.0 515.0L1445.5 515.0L1447.0 515.0L1448.5 515.0L1450.0 515.0L1451.5 515.0L1453.0 515.1L1454.5 515.1L1456.0 515.1L1457.5 515.1L1459.0 515.2L1460.5 515.2L1462.0 515.2L1463.5 515.3L1465.0 515.3L1466.5 515.3L1468.0 515.4L1469.5 515.4L1471.0 515.4L1472.5 515.5L1474.0 515.5L1475.5 515.5L1477.0 515.6L1478.5 515.7L1480.0 515.8L1481.5 515.9L1483.0 516.0L1484.5 516.1L1486.0 516.2L1487.5 516.2L1489.0 516.4L1490.5 516.5L1492.0 516.7L1493.5 516.9L1495.0 517.0L1496.5 517.1L1498.0 517.3L1499.5 517.5L1501.0 517.5L1502.5 517.6L1504.0 517.7L1505.5 517.8L1507.0 517.9L1508.5 517.9L1510.0 518.0L1511.5 518.1L1513.0 518.1L1514.5 518.2L1516.0 518.3L1517.5 518.4L1519.0 518.5L1520.5 518.5L1522.0 518.6L1523.5 518.7L1525.0 518.8L1526.5 518.7L1528.0 518.7L1529.5 518.6L1531.0 518.6L1532.5 518.5L1534.0 518.5L1535.5 518.4L1537.0 518.4L1538.5 518.3L1540.0 518.3L1541.5 518.3L1543.0 518.2L1544.5 518.2L1546.0 518.1L1547.5 518.1L1549.0 518.0L1550.5 518.0L1552.0 518.0L1553.5 517.9L1555.0 517.9L1556.5 517.9L1558.0 517.8L1559.5 517.8L1561.0 517.8L1562.5 517.8L1564.0 517.7L1565.5 517.7L1567.0 517.7L1568.5 517.6L1570.0 517.6L1571.5 517.6L1573.0 517.6L1574.5 517.5L1576.0 517.5L1576.3 517.5" fill="none" stroke="#505656" stroke-width="1.25" stroke-opacity="0.00"/>
<path d="M565.0 525.6L565.0 493.7L566.5 493.7L568.0 493.5L569.5 493.7L571.0 493.9L572.5 493.7L574.0 493.2L575.5 492.9L577.0 493.0L578.5 493.4L580.0 493.5L581.5 493.6L583.0 493.8L584.5 494.0L586.0 494.1L587.5 494.1L589.0 494.2L590.5 494.3L592.0 494.3L593.5 494.3L595.0 494.1L596.5 494.3L598.0 494.5L599.5 494.8L601.0 495.2L602.5 495.1L604.0 495.1L605.5 495.1L607.0 495.0L608.5 495.5L610.0 495.6L611.5 495.5L613.0 495.5L614.5 495.4L616.0 495.5L617.5 495.4L619.0 495.4L620.5 495.3L622.0 495.4L623.5 495.5L625.0 495.7L626.5 496.1L628.0 496.1L629.5 496.1L631.0 495.7L632.5 495.3L634.0 495.2L635.5 495.2L637.0 495.5L638.5 495.7L640.0 495.7L641.5 495.7L643.0 495.6L644.5 495.5L646.0 495.6L647.5 495.6L649.0 495.5L650.5 495.4L652.0 495.5L653.5 495.7L655.0 495.7L656.5 495.6L658.0 495.7L659.5 495.9L661.0 496.2L662.5 496.0L664.0 495.7L665.5 495.7L667.0 495.6L668.5 495.6L670.0 495.5L671.5 495.5L673.0 495.8L674.5 495.8L676.0 495.8L677.5 495.9L679.0 496.1L680.5 496.3L682.0 496.2L683.5 496.0L685.0 496.0L686.5 496.2L688.0 496.4L689.5 496.6L691.0 496.3L692.5 496.1L694.0 496.0L695.5 496.3L697.0 496.5L698.5 496.7L700.0 496.7L701.5 496.8L703.0 497.0L704.5 496.9L706.0 496.7L707.5 496.6L709.0 496.7L710.5 497.0L712.0 497.2L713.5 497.3L715.0 497.5L716.5 497.6L718.0 497.9L719.5 498.0L721.0 498.1L722.5 498.1L724.0 498.2L725.5 498.4L727.0 498.5L728.5 498.5L730.0 498.4L731.5 498.4L733.0 498.6L734.5 498.7L736.0 498.7L737.5 498.5L739.0 498.3L740.5 498.2L742.0 498.1L743.5 498.1L745.0 498.2L746.5 498.2L748.0 498.0L749.5 497.9L751.0 497.8L752.5 497.9L754.0 497.9L755.5 498.0L757.0 498.1L758.5 498.1L760.0 498.2L761.5 498.2L763.0 498.4L764.5 498.5L766.0 498.5L767.5 498.6L769.0 498.4L770.5 498.4L772.0 498.4L773.5 498.5L775.0 498.7L776.5 499.0L778.0 499.2L779.5 499.1L781.0 499.1L782.5 498.8L784.0 499.0L785.5 499.1L787.0 499.3L788.5 499.2L790.0 498.8L791.5 498.5L793.0 498.1L794.5 498.1L796.0 498.1L797.5 498.0L799.0 497.9L800.5 497.7L802.0 497.6L803.5 497.5L805.0 497.5L806.5 497.6L808.0 497.5L809.5 497.4L811.0 497.1L812.5 497.3L814.0 497.6L815.5 497.7L817.0 497.8L818.5 497.6L820.0 497.4L821.5 497.6L823.0 497.6L824.5 497.7L826.0 497.9L827.5 498.0L829.0 498.0L830.5 498.0L832.0 497.7L833.5 497.5L835.0 497.5L836.5 497.6L838.0 497.9L839.5 498.1L841.0 498.2L842.5 498.4L844.0 498.3L845.5 498.3L847.0 498.2L848.5 498.0L850.0 498.1L851.5 498.4L853.0 498.4L854.5 498.5L856.0 498.3L857.5 498.0L859.0 497.9L860.5 497.9L862.0 498.2L863.5 498.5L865.0 498.7L866.5 498.7L868.0 498.7L869.5 498.4L871.0 498.1L872.5 498.0L874.0 498.1L875.5 498.1L877.0 497.9L878.5 497.6L880.0 497.2L881.5 496.9L883.0 496.6L884.5 496.4L886.0 496.2L887.5 496.1L889.0 496.0L890.5 495.6L892.0 495.3L893.5 495.0L895.0 495.0L896.5 495.3L898.0 495.1L899.5 494.5L901.0 494.0L902.5 493.6L904.0 493.4L905.5 493.2L907.0 492.7L908.5 492.1L910.0 491.6L911.5 491.5L913.0 491.5L914.5 491.4L916.0 491.5L917.5 491.6L919.0 491.6L920.5 491.6L922.0 491.4L923.5 491.2L925.0 491.2L926.5 491.2L928.0 491.5L929.5 492.0L931.0 492.7L932.5 493.4L934.0 494.1L935.5 494.8L937.0 495.4L938.5 495.8L940.0 496.0L941.5 496.3L943.0 496.4L944.5 496.6L946.0 497.0L947.5 497.5L949.0 497.8L950.5 497.8L952.0 497.4L953.5 497.4L955.0 497.4L956.5 497.4L958.0 497.4L959.5 497.4L961.0 497.5L962.5 497.7L964.0 497.9L965.5 497.9L967.0 497.6L968.5 497.3L970.0 497.3L971.5 497.7L973.0 498.1L974.5 498.5L976.0 498.8L977.5 499.4L979.0 499.8L980.5 500.2L982.0 500.9L983.5 501.5L985.0 502.1L986.5 502.2L988.0 502.3L989.5 502.4L991.0 502.8L992.5 503.2L994.0 503.6L995.5 503.7L997.0 503.8L998.5 503.8L1000.0 504.0L1001.5 504.2L1003.0 504.2L1004.5 504.1L1006.0 504.2L1007.5 504.2L1009.0 504.2L1010.5 504.1L1012.0 503.9L1013.5 504.0L1015.0 504.1L1016.5 504.3L1018.0 504.3L1019.5 504.1L1021.0 503.8L1022.5 503.7L1024.0 503.6L1025.5 503.9L1027.0 504.2L1028.5 504.4L1030.0 504.4L1031.5 504.0L1033.0 504.0L1034.5 504.0L1036.0 504.1L1037.5 504.3L1039.0 504.3L1040.5 504.4L1042.0 504.4L1043.5 504.3L1045.0 504.2L1046.5 504.2L1048.0 504.1L1049.5 504.0L1051.0 504.0L1052.5 504.2L1054.0 504.3L1055.5 504.4L1057.0 504.4L1058.5 504.4L1060.0 504.4L1061.5 504.4L1063.0 504.4L1064.5 504.4L1066.0 504.2L1067.5 504.2L1069.0 504.2L1070.5 504.2L1072.0 504.2L1073.5 504.3L1075.0 504.5L1076.5 504.5L1078.0 504.4L1079.5 504.2L1081.0 504.2L1082.5 504.2L1084.0 504.2L1085.5 504.1L1086.7 503.9L1089.7 525.2L1091.5 525.2L1093.0 525.3L1094.5 525.3L1096.0 525.3L1097.5 525.3L1099.0 525.3L1100.5 525.3L1102.0 525.3L1103.5 525.2L1105.0 525.2L1106.5 525.2L1108.0 525.3L1109.5 525.3L1111.0 525.3L1112.5 525.3L1114.0 525.3L1115.5 525.3L1117.0 525.3L1118.5 525.3L1120.0 525.3L1121.5 525.2L1123.0 525.2L1124.5 525.2L1126.0 525.3L1127.5 525.3L1129.0 525.3L1130.5 525.2L1132.0 525.2L1133.5 525.2L1135.0 525.2L1136.5 525.3L1138.0 525.3L1139.5 525.3L1141.0 525.3L1142.5 525.3L1144.0 525.3L1145.5 525.2L1147.0 525.2L1148.5 525.2L1150.0 525.2L1151.5 525.3L1153.0 525.3L1154.5 525.3L1156.0 525.3L1157.5 525.2L1159.0 525.2L1160.5 525.2L1162.0 525.2L1163.5 525.2L1165.0 525.2L1166.5 525.3L1168.0 525.3L1169.5 525.3L1171.0 525.3L1172.5 525.3L1174.0 525.2L1175.5 525.2L1177.0 525.2L1178.5 525.2L1180.0 525.2L1181.5 525.2L1183.0 525.3L1184.5 525.3L1186.0 525.3L1187.5 525.3L1189.0 525.3L1190.5 525.3L1192.0 525.3L1193.5 525.3L1195.0 525.3L1196.5 525.3L1198.0 525.3L1199.5 525.3L1201.0 525.3L1202.5 525.3L1204.0 525.3L1205.5 525.3L1207.0 525.3L1208.5 525.3L1210.0 525.3L1211.5 525.2L1213.0 525.1L1214.5 525.1L1216.0 525.1L1217.5 525.0L1219.0 525.0L1220.5 524.9L1222.0 524.9L1223.5 524.8L1225.0 524.8L1226.5 524.7L1228.0 524.7L1229.5 524.6L1231.0 524.6L1232.5 524.5L1234.0 524.5L1235.5 524.4L1237.0 524.2L1238.5 524.0L1240.0 523.8L1241.5 523.4L1243.0 523.2L1244.5 522.8L1246.0 522.5L1247.5 522.2L1249.0 522.0L1250.5 521.8L1252.0 521.5L1253.5 521.2L1255.0 521.0L1256.5 520.7L1258.0 520.5L1259.5 520.1L1261.0 519.9L1262.5 519.9L1264.0 519.1L1265.5 518.2L1267.0 517.3L1268.5 516.6L1270.0 516.0L1271.5 515.4L1273.0 515.3L1274.5 516.0L1276.0 516.7L1277.5 517.5L1279.0 517.4L1280.5 517.5L1282.0 517.4L1283.5 517.3L1285.0 517.3L1286.5 517.2L1288.0 517.2L1289.5 517.2L1291.0 517.2L1292.5 517.2L1294.0 517.2L1295.5 517.1L1297.0 517.1L1298.5 517.0L1300.0 517.0L1301.5 516.9L1303.0 516.9L1304.5 516.9L1306.0 516.8L1307.5 516.7L1309.0 516.7L1310.5 516.7L1312.0 516.6L1313.5 516.6L1315.0 516.5L1316.5 516.5L1318.0 516.5L1319.5 516.4L1321.0 516.4L1322.5 516.4L1324.0 516.3L1325.5 516.2L1327.0 516.2L1328.5 516.3L1330.0 516.4L1331.5 516.5L1333.0 516.4L1334.5 516.3L1336.0 516.3L1337.5 516.3L1339.0 516.4L1340.5 516.4L1342.0 516.4L1343.5 516.1L1345.0 515.7L1346.5 515.3L1348.0 515.0L1349.5 514.6L1351.0 514.4L1352.5 514.3L1354.0 514.3L1355.5 514.3L1357.0 514.3L1358.5 514.2L1360.0 514.2L1361.5 514.2L1363.0 514.2L1364.5 514.2L1366.0 514.1L1367.5 514.0L1369.0 513.9L1370.5 513.9L1372.0 513.9L1373.5 513.9L1375.0 513.8L1376.5 513.8L1378.0 513.9L1379.5 514.0L1381.0 514.1L1382.5 514.0L1384.0 514.0L1385.5 514.0L1387.0 514.1L1388.5 514.1L1390.0 514.2L1391.5 514.3L1393.0 514.4L1394.5 514.4L1396.0 514.4L1397.5 514.5L1399.0 514.6L1400.5 514.6L1402.0 514.6L1403.5 514.6L1405.0 514.6L1406.5 514.7L1408.0 514.7L1409.5 514.6L1411.0 514.6L1412.5 514.6L1414.0 514.7L1415.5 514.7L1417.0 514.7L1418.5 514.8L1420.0 514.9L1421.5 514.9L1423.0 514.9L1424.5 515.0L1426.0 515.0L1427.5 515.0L1429.0 514.9L1430.5 514.9L1432.0 515.0L1433.5 515.1L1435.0 515.0L1436.5 514.9L1438.0 514.8L1439.5 514.8L1441.0 514.9L1442.5 514.9L1444.0 514.9L1445.5 514.9L1447.0 514.8L1448.5 514.9L1450.0 514.9L1451.5 515.0L1453.0 515.0L1454.5 515.1L1456.0 515.2L1457.5 515.2L1459.0 515.1L1460.5 515.1L1462.0 515.1L1463.5 515.3L1465.0 515.4L1466.5 515.5L1468.0 515.6L1469.5 515.6L1471.0 515.5L1472.5 515.4L1474.0 515.4L1475.5 515.4L1477.0 515.5L1478.5 515.6L1480.0 515.7L1481.5 515.8L1483.0 515.9L1484.5 516.1L1486.0 516.2L1487.5 516.3L1489.0 516.4L1490.5 516.5L1492.0 516.7L1493.5 516.8L1495.0 516.9L1496.5 517.1L1498.0 517.3L1499.5 517.4L1501.0 517.6L1502.5 517.6L1504.0 517.7L1505.5 517.8L1507.0 517.8L1508.5 517.9L1510.0 517.9L1511.5 518.0L1513.0 518.1L1514.5 518.2L1516.0 518.3L1517.5 518.5L1519.0 518.6L1520.5 518.6L1522.0 518.6L1523.5 518.6L1525.0 518.7L1526.5 518.7L1528.0 518.7L1529.5 518.7L1531.0 518.6L1532.5 518.5L1534.0 518.4L1535.5 518.4L1537.0 518.4L1538.5 518.3L1540.0 518.3L1541.5 518.2L1543.0 518.1L1544.5 518.1L1546.0 518.0L1547.5 518.0L1549.0 518.0L1550.5 518.0L1552.0 518.0L1553.5 518.1L1555.0 518.0L1556.5 517.9L1558.0 517.8L1559.5 517.8L1561.0 517.8L1562.5 517.8L1564.0 517.8L1565.5 517.8L1567.0 517.8L1568.5 517.8L1570.0 517.7L1571.5 517.6L1573.0 517.5L1574.5 517.6L1576.0 517.6L1576.3 517.6L1576.3 525.6Z" fill="#464495"/>
<path d="M565.0 493.7L566.5 493.7L568.0 493.5L569.5 493.7L571.0 493.9L572.5 493.7L574.0 493.2L575.5 492.9L577.0 493.0L578.5 493.4L580.0 493.5L581.5 493.6L583.0 493.8L584.5 494.0L586.0 494.1L587.5 494.1L589.0 494.2L590.5 494.3L592.0 494.3L593.5 494.3L595.0 494.1L596.5 494.3L598.0 494.5L599.5 494.8L601.0 495.2L602.5 495.1L604.0 495.1L605.5 495.1L607.0 495.0L608.5 495.5L610.0 495.6L611.5 495.5L613.0 495.5L614.5 495.4L616.0 495.5L617.5 495.4L619.0 495.4L620.5 495.3L622.0 495.4L623.5 495.5L625.0 495.7L626.5 496.1L628.0 496.1L629.5 496.1L631.0 495.7L632.5 495.3L634.0 495.2L635.5 495.2L637.0 495.5L638.5 495.7L640.0 495.7L641.5 495.7L643.0 495.6L644.5 495.5L646.0 495.6L647.5 495.6L649.0 495.5L650.5 495.4L652.0 495.5L653.5 495.7L655.0 495.7L656.5 495.6L658.0 495.7L659.5 495.9L661.0 496.2L662.5 496.0L664.0 495.7L665.5 495.7L667.0 495.6L668.5 495.6L670.0 495.5L671.5 495.5L673.0 495.8L674.5 495.8L676.0 495.8L677.5 495.9L679.0 496.1L680.5 496.3L682.0 496.2L683.5 496.0L685.0 496.0L686.5 496.2L688.0 496.4L689.5 496.6L691.0 496.3L692.5 496.1L694.0 496.0L695.5 496.3L697.0 496.5L698.5 496.7L700.0 496.7L701.5 496.8L703.0 497.0L704.5 496.9L706.0 496.7L707.5 496.6L709.0 496.7L710.5 497.0L712.0 497.2L713.5 497.3L715.0 497.5L716.5 497.6L718.0 497.9L719.5 498.0L721.0 498.1L722.5 498.1L724.0 498.2L725.5 498.4L727.0 498.5L728.5 498.5L730.0 498.4L731.5 498.4L733.0 498.6L734.5 498.7L736.0 498.7L737.5 498.5L739.0 498.3L740.5 498.2L742.0 498.1L743.5 498.1L745.0 498.2L746.5 498.2L748.0 498.0L749.5 497.9L751.0 497.8L752.5 497.9L754.0 497.9L755.5 498.0L757.0 498.1L758.5 498.1L760.0 498.2L761.5 498.2L763.0 498.4L764.5 498.5L766.0 498.5L767.5 498.6L769.0 498.4L770.5 498.4L772.0 498.4L773.5 498.5L775.0 498.7L776.5 499.0L778.0 499.2L779.5 499.1L781.0 499.1L782.5 498.8L784.0 499.0L785.5 499.1L787.0 499.3L788.5 499.2L790.0 498.8L791.5 498.5L793.0 498.1L794.5 498.1L796.0 498.1L797.5 498.0L799.0 497.9L800.5 497.7L802.0 497.6L803.5 497.5L805.0 497.5L806.5 497.6L808.0 497.5L809.5 497.4L811.0 497.1L812.5 497.3L814.0 497.6L815.5 497.7L817.0 497.8L818.5 497.6L820.0 497.4L821.5 497.6L823.0 497.6L824.5 497.7L826.0 497.9L827.5 498.0L829.0 498.0L830.5 498.0L832.0 497.7L833.5 497.5L835.0 497.5L836.5 497.6L838.0 497.9L839.5 498.1L841.0 498.2L842.5 498.4L844.0 498.3L845.5 498.3L847.0 498.2L848.5 498.0L850.0 498.1L851.5 498.4L853.0 498.4L854.5 498.5L856.0 498.3L857.5 498.0L859.0 497.9L860.5 497.9L862.0 498.2L863.5 498.5L865.0 498.7L866.5 498.7L868.0 498.7L869.5 498.4L871.0 498.1L872.5 498.0L874.0 498.1L875.5 498.1L877.0 497.9L878.5 497.6L880.0 497.2L881.5 496.9L883.0 496.6L884.5 496.4L886.0 496.2L887.5 496.1L889.0 496.0L890.5 495.6L892.0 495.3L893.5 495.0L895.0 495.0L896.5 495.3L898.0 495.1L899.5 494.5L901.0 494.0L902.5 493.6L904.0 493.4L905.5 493.2L907.0 492.7L908.5 492.1L910.0 491.6L911.5 491.5L913.0 491.5L914.5 491.4L916.0 491.5L917.5 491.6L919.0 491.6L920.5 491.6L922.0 491.4L923.5 491.2L925.0 491.2L926.5 491.2L928.0 491.5L929.5 492.0L931.0 492.7L932.5 493.4L934.0 494.1L935.5 494.8L937.0 495.4L938.5 495.8L940.0 496.0L941.5 496.3L943.0 496.4L944.5 496.6L946.0 497.0L947.5 497.5L949.0 497.8L950.5 497.8L952.0 497.4L953.5 497.4L955.0 497.4L956.5 497.4L958.0 497.4L959.5 497.4L961.0 497.5L962.5 497.7L964.0 497.9L965.5 497.9L967.0 497.6L968.5 497.3L970.0 497.3L971.5 497.7L973.0 498.1L974.5 498.5L976.0 498.8L977.5 499.4L979.0 499.8L980.5 500.2L982.0 500.9L983.5 501.5L985.0 502.1L986.5 502.2L988.0 502.3L989.5 502.4L991.0 502.8L992.5 503.2L994.0 503.6L995.5 503.7L997.0 503.8L998.5 503.8L1000.0 504.0L1001.5 504.2L1003.0 504.2L1004.5 504.1L1006.0 504.2L1007.5 504.2L1009.0 504.2L1010.5 504.1L1012.0 503.9L1013.5 504.0L1015.0 504.1L1016.5 504.3L1018.0 504.3L1019.5 504.1L1021.0 503.8L1022.5 503.7L1024.0 503.6L1025.5 503.9L1027.0 504.2L1028.5 504.4L1030.0 504.4L1031.5 504.0L1033.0 504.0L1034.5 504.0L1036.0 504.1L1037.5 504.3L1039.0 504.3L1040.5 504.4L1042.0 504.4L1043.5 504.3L1045.0 504.2L1046.5 504.2L1048.0 504.1L1049.5 504.0L1051.0 504.0L1052.5 504.2L1054.0 504.3L1055.5 504.4L1057.0 504.4L1058.5 504.4L1060.0 504.4L1061.5 504.4L1063.0 504.4L1064.5 504.4L1066.0 504.2L1067.5 504.2L1069.0 504.2L1070.5 504.2L1072.0 504.2L1073.5 504.3L1075.0 504.5L1076.5 504.5L1078.0 504.4L1079.5 504.2L1081.0 504.2L1082.5 504.2L1084.0 504.2L1085.5 504.1L1086.7 503.9L1089.7 525.2L1091.5 525.2L1093.0 525.3L1094.5 525.3L1096.0 525.3L1097.5 525.3L1099.0 525.3L1100.5 525.3L1102.0 525.3L1103.5 525.2L1105.0 525.2L1106.5 525.2L1108.0 525.3L1109.5 525.3L1111.0 525.3L1112.5 525.3L1114.0 525.3L1115.5 525.3L1117.0 525.3L1118.5 525.3L1120.0 525.3L1121.5 525.2L1123.0 525.2L1124.5 525.2L1126.0 525.3L1127.5 525.3L1129.0 525.3L1130.5 525.2L1132.0 525.2L1133.5 525.2L1135.0 525.2L1136.5 525.3L1138.0 525.3L1139.5 525.3L1141.0 525.3L1142.5 525.3L1144.0 525.3L1145.5 525.2L1147.0 525.2L1148.5 525.2L1150.0 525.2L1151.5 525.3L1153.0 525.3L1154.5 525.3L1156.0 525.3L1157.5 525.2L1159.0 525.2L1160.5 525.2L1162.0 525.2L1163.5 525.2L1165.0 525.2L1166.5 525.3L1168.0 525.3L1169.5 525.3L1171.0 525.3L1172.5 525.3L1174.0 525.2L1175.5 525.2L1177.0 525.2L1178.5 525.2L1180.0 525.2L1181.5 525.2L1183.0 525.3L1184.5 525.3L1186.0 525.3L1187.5 525.3L1189.0 525.3L1190.5 525.3L1192.0 525.3L1193.5 525.3L1195.0 525.3L1196.5 525.3L1198.0 525.3L1199.5 525.3L1201.0 525.3L1202.5 525.3L1204.0 525.3L1205.5 525.3L1207.0 525.3L1208.5 525.3L1210.0 525.3L1211.5 525.2L1213.0 525.1L1214.5 525.1L1216.0 525.1L1217.5 525.0L1219.0 525.0L1220.5 524.9L1222.0 524.9L1223.5 524.8L1225.0 524.8L1226.5 524.7L1228.0 524.7L1229.5 524.6L1231.0 524.6L1232.5 524.5L1234.0 524.5L1235.5 524.4L1237.0 524.2L1238.5 524.0L1240.0 523.8L1241.5 523.4L1243.0 523.2L1244.5 522.8L1246.0 522.5L1247.5 522.2L1249.0 522.0L1250.5 521.8L1252.0 521.5L1253.5 521.2L1255.0 521.0L1256.5 520.7L1258.0 520.5L1259.5 520.1L1261.0 519.9L1262.5 519.9L1264.0 519.1L1265.5 518.2L1267.0 517.3L1268.5 516.6L1270.0 516.0L1271.5 515.4L1273.0 515.3L1274.5 516.0L1276.0 516.7L1277.5 517.5L1279.0 517.4L1280.5 517.5L1282.0 517.4L1283.5 517.3L1285.0 517.3L1286.5 517.2L1288.0 517.2L1289.5 517.2L1291.0 517.2L1292.5 517.2L1294.0 517.2L1295.5 517.1L1297.0 517.1L1298.5 517.0L1300.0 517.0L1301.5 516.9L1303.0 516.9L1304.5 516.9L1306.0 516.8L1307.5 516.7L1309.0 516.7L1310.5 516.7L1312.0 516.6L1313.5 516.6L1315.0 516.5L1316.5 516.5L1318.0 516.5L1319.5 516.4L1321.0 516.4L1322.5 516.4L1324.0 516.3L1325.5 516.2L1327.0 516.2L1328.5 516.3L1330.0 516.4L1331.5 516.5L1333.0 516.4L1334.5 516.3L1336.0 516.3L1337.5 516.3L1339.0 516.4L1340.5 516.4L1342.0 516.4L1343.5 516.1L1345.0 515.7L1346.5 515.3L1348.0 515.0L1349.5 514.6L1351.0 514.4L1352.5 514.3L1354.0 514.3L1355.5 514.3L1357.0 514.3L1358.5 514.2L1360.0 514.2L1361.5 514.2L1363.0 514.2L1364.5 514.2L1366.0 514.1L1367.5 514.0L1369.0 513.9L1370.5 513.9L1372.0 513.9L1373.5 513.9L1375.0 513.8L1376.5 513.8L1378.0 513.9L1379.5 514.0L1381.0 514.1L1382.5 514.0L1384.0 514.0L1385.5 514.0L1387.0 514.1L1388.5 514.1L1390.0 514.2L1391.5 514.3L1393.0 514.4L1394.5 514.4L1396.0 514.4L1397.5 514.5L1399.0 514.6L1400.5 514.6L1402.0 514.6L1403.5 514.6L1405.0 514.6L1406.5 514.7L1408.0 514.7L1409.5 514.6L1411.0 514.6L1412.5 514.6L1414.0 514.7L1415.5 514.7L1417.0 514.7L1418.5 514.8L1420.0 514.9L1421.5 514.9L1423.0 514.9L1424.5 515.0L1426.0 515.0L1427.5 515.0L1429.0 514.9L1430.5 514.9L1432.0 515.0L1433.5 515.1L1435.0 515.0L1436.5 514.9L1438.0 514.8L1439.5 514.8L1441.0 514.9L1442.5 514.9L1444.0 514.9L1445.5 514.9L1447.0 514.8L1448.5 514.9L1450.0 514.9L1451.5 515.0L1453.0 515.0L1454.5 515.1L1456.0 515.2L1457.5 515.2L1459.0 515.1L1460.5 515.1L1462.0 515.1L1463.5 515.3L1465.0 515.4L1466.5 515.5L1468.0 515.6L1469.5 515.6L1471.0 515.5L1472.5 515.4L1474.0 515.4L1475.5 515.4L1477.0 515.5L1478.5 515.6L1480.0 515.7L1481.5 515.8L1483.0 515.9L1484.5 516.1L1486.0 516.2L1487.5 516.3L1489.0 516.4L1490.5 516.5L1492.0 516.7L1493.5 516.8L1495.0 516.9L1496.5 517.1L1498.0 517.3L1499.5 517.4L1501.0 517.6L1502.5 517.6L1504.0 517.7L1505.5 517.8L1507.0 517.8L1508.5 517.9L1510.0 517.9L1511.5 518.0L1513.0 518.1L1514.5 518.2L1516.0 518.3L1517.5 518.5L1519.0 518.6L1520.5 518.6L1522.0 518.6L1523.5 518.6L1525.0 518.7L1526.5 518.7L1528.0 518.7L1529.5 518.7L1531.0 518.6L1532.5 518.5L1534.0 518.4L1535.5 518.4L1537.0 518.4L1538.5 518.3L1540.0 518.3L1541.5 518.2L1543.0 518.1L1544.5 518.1L1546.0 518.0L1547.5 518.0L1549.0 518.0L1550.5 518.0L1552.0 518.0L1553.5 518.1L1555.0 518.0L1556.5 517.9L1558.0 517.8L1559.5 517.8L1561.0 517.8L1562.5 517.8L1564.0 517.8L1565.5 517.8L1567.0 517.8L1568.5 517.8L1570.0 517.7L1571.5 517.6L1573.0 517.5L1574.5 517.6L1576.0 517.6L1576.3 517.6" fill="none" stroke="#505656" stroke-width="1.25" stroke-opacity="0.90"/>
<path d="M565.0 525.6L565.0 514.9L566.5 514.9L568.0 514.7L569.5 514.6L571.0 514.6L572.5 514.4L574.0 514.4L575.5 514.4L577.0 514.5L578.5 514.6L580.0 514.7L581.5 514.8L583.0 515.0L584.5 515.1L586.0 515.2L587.5 515.1L589.0 515.2L590.5 515.3L592.0 515.3L593.5 515.4L595.0 515.2L596.5 515.4L598.0 515.6L599.5 515.8L601.0 516.2L602.5 516.2L604.0 516.2L605.5 516.2L607.0 516.1L608.5 516.3L610.0 516.3L611.5 516.5L613.0 516.6L614.5 516.6L616.0 516.5L617.5 516.1L619.0 516.0L620.5 515.9L622.0 516.1L623.5 516.2L625.0 516.2L626.5 516.4L628.0 516.6L629.5 516.7L631.0 516.4L632.5 516.1L634.0 516.0L635.5 515.9L637.0 516.0L638.5 515.9L640.0 515.9L641.5 516.0L643.0 516.0L644.5 516.1L646.0 516.1L647.5 516.0L649.0 515.8L650.5 515.6L652.0 515.8L653.5 515.9L655.0 515.8L656.5 515.6L658.0 515.5L659.5 515.6L661.0 515.9L662.5 516.0L664.0 516.1L665.5 516.0L667.0 515.9L668.5 516.0L670.0 515.9L671.5 515.9L673.0 516.0L674.5 516.1L676.0 516.3L677.5 516.5L679.0 516.7L680.5 516.8L682.0 516.9L683.5 516.8L685.0 516.9L686.5 517.1L688.0 517.4L689.5 517.5L691.0 517.4L692.5 517.3L694.0 517.3L695.5 517.3L697.0 517.5L698.5 517.8L700.0 517.9L701.5 518.2L703.0 518.4L704.5 518.3L706.0 518.2L707.5 518.2L709.0 518.5L710.5 518.9L712.0 519.0L713.5 519.0L715.0 519.2L716.5 519.2L718.0 519.4L719.5 519.4L721.0 519.3L722.5 519.3L724.0 519.3L725.5 519.6L727.0 519.7L728.5 519.9L730.0 519.8L731.5 519.8L733.0 519.9L734.5 519.9L736.0 519.9L737.5 519.9L739.0 519.7L740.5 519.6L742.0 519.6L743.5 519.6L745.0 519.6L746.5 519.5L748.0 519.4L749.5 519.3L751.0 519.2L752.5 519.1L754.0 519.0L755.5 519.1L757.0 519.1L758.5 519.2L760.0 519.1L761.5 519.2L763.0 519.3L764.5 519.4L766.0 519.5L767.5 519.6L769.0 519.5L770.5 519.5L772.0 519.4L773.5 519.3L775.0 519.4L776.5 519.6L778.0 519.7L779.5 519.7L781.0 519.7L782.5 519.6L784.0 519.7L785.5 519.8L787.0 519.8L788.5 519.8L790.0 519.7L791.5 519.5L793.0 519.2L794.5 519.2L796.0 519.3L797.5 519.4L799.0 519.1L800.5 518.9L802.0 518.8L803.5 518.6L805.0 518.5L806.5 518.3L808.0 518.1L809.5 518.0L811.0 517.9L812.5 518.0L814.0 518.2L815.5 518.2L817.0 518.3L818.5 518.1L820.0 518.0L821.5 518.0L823.0 518.1L824.5 518.2L826.0 518.4L827.5 518.5L829.0 518.7L830.5 519.0L832.0 519.2L833.5 519.3L835.0 519.4L836.5 519.2L838.0 519.4L839.5 519.6L841.0 519.6L842.5 519.5L844.0 519.2L845.5 519.0L847.0 519.1L848.5 519.0L850.0 519.1L851.5 519.2L853.0 519.0L854.5 519.1L856.0 519.0L857.5 518.7L859.0 518.7L860.5 518.8L862.0 519.1L863.5 519.4L865.0 519.7L866.5 519.9L868.0 520.1L869.5 519.9L871.0 519.3L872.5 519.0L874.0 518.7L875.5 518.6L877.0 518.3L878.5 518.1L880.0 518.1L881.5 518.0L883.0 518.0L884.5 518.1L886.0 518.1L887.5 518.1L889.0 518.0L890.5 517.9L892.0 517.5L893.5 517.3L895.0 517.2L896.5 517.1L898.0 517.0L899.5 516.6L901.0 516.1L902.5 515.7L904.0 515.3L905.5 514.9L907.0 514.5L908.5 514.1L910.0 513.7L911.5 513.5L913.0 513.4L914.5 513.2L916.0 513.1L917.5 513.2L919.0 513.2L920.5 513.2L922.0 513.2L923.5 513.2L925.0 513.3L926.5 513.3L928.0 513.5L929.5 513.7L931.0 514.2L932.5 515.0L934.0 515.8L935.5 516.7L937.0 517.5L938.5 517.8L940.0 517.8L941.5 518.0L943.0 518.1L944.5 518.3L946.0 518.6L947.5 518.8L949.0 518.9L950.5 518.8L952.0 518.7L953.5 519.0L955.0 519.2L956.5 519.3L958.0 519.3L959.5 519.3L961.0 519.4L962.5 519.6L964.0 519.5L965.5 519.5L967.0 519.4L968.5 519.3L970.0 519.3L971.5 519.6L973.0 519.9L974.5 520.2L976.0 520.5L977.5 521.0L979.0 521.4L980.5 521.7L982.0 522.2L983.5 522.8L985.0 523.4L986.5 523.7L988.0 524.0L989.5 524.4L991.0 525.0L992.5 525.5L994.0 525.5L995.5 525.5L997.0 525.5L998.5 525.5L1000.0 525.5L1001.5 525.5L1003.0 525.5L1004.5 525.5L1006.0 525.5L1007.5 525.5L1009.0 525.5L1010.5 525.5L1012.0 525.5L1013.5 525.5L1015.0 525.5L1016.5 525.5L1018.0 525.5L1019.5 525.5L1021.0 525.5L1022.5 525.5L1024.0 525.5L1025.5 525.5L1027.0 525.5L1028.5 525.5L1030.0 525.5L1031.5 525.5L1033.0 525.5L1034.5 525.5L1036.0 525.5L1037.5 525.5L1039.0 525.5L1040.5 525.5L1042.0 525.5L1043.5 525.5L1045.0 525.5L1046.5 525.5L1048.0 525.5L1049.5 525.5L1051.0 525.5L1052.5 525.5L1054.0 525.5L1055.5 525.5L1057.0 525.5L1058.5 525.5L1060.0 525.5L1061.5 525.5L1063.0 525.5L1064.5 525.5L1066.0 525.5L1067.5 525.5L1069.0 525.5L1070.5 525.5L1072.0 525.5L1073.5 525.5L1075.0 525.5L1076.5 525.5L1078.0 525.5L1079.5 525.5L1081.0 525.5L1082.5 525.5L1084.0 525.5L1085.5 525.5L1086.7 525.5L1089.7 525.2L1091.5 525.2L1093.0 525.3L1094.5 525.3L1096.0 525.3L1097.5 525.3L1099.0 525.3L1100.5 525.3L1102.0 525.3L1103.5 525.2L1105.0 525.2L1106.5 525.2L1108.0 525.3L1109.5 525.3L1111.0 525.3L1112.5 525.3L1114.0 525.3L1115.5 525.3L1117.0 525.3L1118.5 525.3L1120.0 525.3L1121.5 525.2L1123.0 525.2L1124.5 525.2L1126.0 525.3L1127.5 525.3L1129.0 525.3L1130.5 525.2L1132.0 525.2L1133.5 525.2L1135.0 525.2L1136.5 525.3L1138.0 525.3L1139.5 525.3L1141.0 525.3L1142.5 525.3L1144.0 525.3L1145.5 525.2L1147.0 525.2L1148.5 525.2L1150.0 525.2L1151.5 525.3L1153.0 525.3L1154.5 525.3L1156.0 525.3L1157.5 525.2L1159.0 525.2L1160.5 525.2L1162.0 525.2L1163.5 525.2L1165.0 525.2L1166.5 525.3L1168.0 525.3L1169.5 525.3L1171.0 525.3L1172.5 525.3L1174.0 525.2L1175.5 525.2L1177.0 525.2L1178.5 525.2L1180.0 525.2L1181.5 525.2L1183.0 525.3L1184.5 525.3L1186.0 525.3L1187.5 525.3L1189.0 525.3L1190.5 525.3L1192.0 525.3L1193.5 525.3L1195.0 525.3L1196.5 525.3L1198.0 525.3L1199.5 525.3L1201.0 525.3L1202.5 525.3L1204.0 525.3L1205.5 525.3L1207.0 525.3L1208.5 525.3L1210.0 525.3L1211.5 525.2L1213.0 525.1L1214.5 525.1L1216.0 525.1L1217.5 525.0L1219.0 525.0L1220.5 524.9L1222.0 524.9L1223.5 524.8L1225.0 524.8L1226.5 524.7L1228.0 524.7L1229.5 524.6L1231.0 524.6L1232.5 524.5L1234.0 524.5L1235.5 524.4L1237.0 524.2L1238.5 524.0L1240.0 523.8L1241.5 523.4L1243.0 523.2L1244.5 522.8L1246.0 522.5L1247.5 522.2L1249.0 522.0L1250.5 521.8L1252.0 521.5L1253.5 521.2L1255.0 521.0L1256.5 520.7L1258.0 520.5L1259.5 520.1L1261.0 519.9L1262.5 519.9L1264.0 519.1L1265.5 518.2L1267.0 517.3L1268.5 516.6L1270.0 516.0L1271.5 515.4L1273.0 515.3L1274.5 516.0L1276.0 516.7L1277.5 517.5L1279.0 517.4L1280.5 517.5L1282.0 517.4L1283.5 517.3L1285.0 517.3L1286.5 517.2L1288.0 517.2L1289.5 517.2L1291.0 517.2L1292.5 517.2L1294.0 517.2L1295.5 517.1L1297.0 517.1L1298.5 517.0L1300.0 517.0L1301.5 516.9L1303.0 516.9L1304.5 516.9L1306.0 516.8L1307.5 516.7L1309.0 516.7L1310.5 516.7L1312.0 516.6L1313.5 516.6L1315.0 516.5L1316.5 516.5L1318.0 516.5L1319.5 516.4L1321.0 516.4L1322.5 516.4L1324.0 516.3L1325.5 516.2L1327.0 516.2L1328.5 516.3L1330.0 516.4L1331.5 516.5L1333.0 516.4L1334.5 516.3L1336.0 516.3L1337.5 516.3L1339.0 516.4L1340.5 516.4L1342.0 516.4L1343.5 516.1L1345.0 515.7L1346.5 515.3L1348.0 515.0L1349.5 514.6L1351.0 514.4L1352.5 514.3L1354.0 514.3L1355.5 514.3L1357.0 514.3L1358.5 514.2L1360.0 514.2L1361.5 514.2L1363.0 514.2L1364.5 514.2L1366.0 514.1L1367.5 514.0L1369.0 513.9L1370.5 513.9L1372.0 513.9L1373.5 513.9L1375.0 513.8L1376.5 513.8L1378.0 513.9L1379.5 514.0L1381.0 514.1L1382.5 514.0L1384.0 514.0L1385.5 514.0L1387.0 514.1L1388.5 514.1L1390.0 514.2L1391.5 514.3L1393.0 514.4L1394.5 514.4L1396.0 514.4L1397.5 514.5L1399.0 514.6L1400.5 514.6L1402.0 514.6L1403.5 514.6L1405.0 514.6L1406.5 514.7L1408.0 514.7L1409.5 514.6L1411.0 514.6L1412.5 514.6L1414.0 514.7L1415.5 514.7L1417.0 514.7L1418.5 514.8L1420.0 514.9L1421.5 514.9L1423.0 514.9L1424.5 515.0L1426.0 515.0L1427.5 515.0L1429.0 514.9L1430.5 514.9L1432.0 515.0L1433.5 515.1L1435.0 515.0L1436.5 514.9L1438.0 514.8L1439.5 514.8L1441.0 514.9L1442.5 514.9L1444.0 514.9L1445.5 514.9L1447.0 514.8L1448.5 514.9L1450.0 514.9L1451.5 515.0L1453.0 515.0L1454.5 515.1L1456.0 515.2L1457.5 515.2L1459.0 515.1L1460.5 515.1L1462.0 515.1L1463.5 515.3L1465.0 515.4L1466.5 515.5L1468.0 515.6L1469.5 515.6L1471.0 515.5L1472.5 515.4L1474.0 515.4L1475.5 515.4L1477.0 515.5L1478.5 515.6L1480.0 515.7L1481.5 515.8L1483.0 515.9L1484.5 516.1L1486.0 516.2L1487.5 516.3L1489.0 516.4L1490.5 516.5L1492.0 516.7L1493.5 516.8L1495.0 516.9L1496.5 517.1L1498.0 517.3L1499.5 517.4L1501.0 517.6L1502.5 517.6L1504.0 517.7L1505.5 517.8L1507.0 517.8L1508.5 517.9L1510.0 517.9L1511.5 518.0L1513.0 518.1L1514.5 518.2L1516.0 518.3L1517.5 518.5L1519.0 518.6L1520.5 518.6L1522.0 518.6L1523.5 518.6L1525.0 518.7L1526.5 518.7L1528.0 518.7L1529.5 518.7L1531.0 518.6L1532.5 518.5L1534.0 518.4L1535.5 518.4L1537.0 518.4L1538.5 518.3L1540.0 518.3L1541.5 518.2L1543.0 518.1L1544.5 518.1L1546.0 518.0L1547.5 518.0L1549.0 518.0L1550.5 518.0L1552.0 518.0L1553.5 518.1L1555.0 518.0L1556.5 517.9L1558.0 517.8L1559.5 517.8L1561.0 517.8L1562.5 517.8L1564.0 517.8L1565.5 517.8L1567.0 517.8L1568.5 517.8L1570.0 517.7L1571.5 517.6L1573.0 517.5L1574.5 517.6L1576.0 517.6L1576.3 517.6L1576.3 525.6Z" fill="#0481fb"/>
<path d="M565.0 514.9L566.5 514.9L568.0 514.7L569.5 514.6L571.0 514.6L572.5 514.4L574.0 514.4L575.5 514.4L577.0 514.5L578.5 514.6L580.0 514.7L581.5 514.8L583.0 515.0L584.5 515.1L586.0 515.2L587.5 515.1L589.0 515.2L590.5 515.3L592.0 515.3L593.5 515.4L595.0 515.2L596.5 515.4L598.0 515.6L599.5 515.8L601.0 516.2L602.5 516.2L604.0 516.2L605.5 516.2L607.0 516.1L608.5 516.3L610.0 516.3L611.5 516.5L613.0 516.6L614.5 516.6L616.0 516.5L617.5 516.1L619.0 516.0L620.5 515.9L622.0 516.1L623.5 516.2L625.0 516.2L626.5 516.4L628.0 516.6L629.5 516.7L631.0 516.4L632.5 516.1L634.0 516.0L635.5 515.9L637.0 516.0L638.5 515.9L640.0 515.9L641.5 516.0L643.0 516.0L644.5 516.1L646.0 516.1L647.5 516.0L649.0 515.8L650.5 515.6L652.0 515.8L653.5 515.9L655.0 515.8L656.5 515.6L658.0 515.5L659.5 515.6L661.0 515.9L662.5 516.0L664.0 516.1L665.5 516.0L667.0 515.9L668.5 516.0L670.0 515.9L671.5 515.9L673.0 516.0L674.5 516.1L676.0 516.3L677.5 516.5L679.0 516.7L680.5 516.8L682.0 516.9L683.5 516.8L685.0 516.9L686.5 517.1L688.0 517.4L689.5 517.5L691.0 517.4L692.5 517.3L694.0 517.3L695.5 517.3L697.0 517.5L698.5 517.8L700.0 517.9L701.5 518.2L703.0 518.4L704.5 518.3L706.0 518.2L707.5 518.2L709.0 518.5L710.5 518.9L712.0 519.0L713.5 519.0L715.0 519.2L716.5 519.2L718.0 519.4L719.5 519.4L721.0 519.3L722.5 519.3L724.0 519.3L725.5 519.6L727.0 519.7L728.5 519.9L730.0 519.8L731.5 519.8L733.0 519.9L734.5 519.9L736.0 519.9L737.5 519.9L739.0 519.7L740.5 519.6L742.0 519.6L743.5 519.6L745.0 519.6L746.5 519.5L748.0 519.4L749.5 519.3L751.0 519.2L752.5 519.1L754.0 519.0L755.5 519.1L757.0 519.1L758.5 519.2L760.0 519.1L761.5 519.2L763.0 519.3L764.5 519.4L766.0 519.5L767.5 519.6L769.0 519.5L770.5 519.5L772.0 519.4L773.5 519.3L775.0 519.4L776.5 519.6L778.0 519.7L779.5 519.7L781.0 519.7L782.5 519.6L784.0 519.7L785.5 519.8L787.0 519.8L788.5 519.8L790.0 519.7L791.5 519.5L793.0 519.2L794.5 519.2L796.0 519.3L797.5 519.4L799.0 519.1L800.5 518.9L802.0 518.8L803.5 518.6L805.0 518.5L806.5 518.3L808.0 518.1L809.5 518.0L811.0 517.9L812.5 518.0L814.0 518.2L815.5 518.2L817.0 518.3L818.5 518.1L820.0 518.0L821.5 518.0L823.0 518.1L824.5 518.2L826.0 518.4L827.5 518.5L829.0 518.7L830.5 519.0L832.0 519.2L833.5 519.3L835.0 519.4L836.5 519.2L838.0 519.4L839.5 519.6L841.0 519.6L842.5 519.5L844.0 519.2L845.5 519.0L847.0 519.1L848.5 519.0L850.0 519.1L851.5 519.2L853.0 519.0L854.5 519.1L856.0 519.0L857.5 518.7L859.0 518.7L860.5 518.8L862.0 519.1L863.5 519.4L865.0 519.7L866.5 519.9L868.0 520.1L869.5 519.9L871.0 519.3L872.5 519.0L874.0 518.7L875.5 518.6L877.0 518.3L878.5 518.1L880.0 518.1L881.5 518.0L883.0 518.0L884.5 518.1L886.0 518.1L887.5 518.1L889.0 518.0L890.5 517.9L892.0 517.5L893.5 517.3L895.0 517.2L896.5 517.1L898.0 517.0L899.5 516.6L901.0 516.1L902.5 515.7L904.0 515.3L905.5 514.9L907.0 514.5L908.5 514.1L910.0 513.7L911.5 513.5L913.0 513.4L914.5 513.2L916.0 513.1L917.5 513.2L919.0 513.2L920.5 513.2L922.0 513.2L923.5 513.2L925.0 513.3L926.5 513.3L928.0 513.5L929.5 513.7L931.0 514.2L932.5 515.0L934.0 515.8L935.5 516.7L937.0 517.5L938.5 517.8L940.0 517.8L941.5 518.0L943.0 518.1L944.5 518.3L946.0 518.6L947.5 518.8L949.0 518.9L950.5 518.8L952.0 518.7L953.5 519.0L955.0 519.2L956.5 519.3L958.0 519.3L959.5 519.3L961.0 519.4L962.5 519.6L964.0 519.5L965.5 519.5L967.0 519.4L968.5 519.3L970.0 519.3L971.5 519.6L973.0 519.9L974.5 520.2L976.0 520.5L977.5 521.0L979.0 521.4L980.5 521.7L982.0 522.2L983.5 522.8L985.0 523.4L986.5 523.7L988.0 524.0L989.5 524.4L991.0 525.0L992.5 525.5L994.0 525.5L995.5 525.5L997.0 525.5L998.5 525.5L1000.0 525.5L1001.5 525.5L1003.0 525.5L1004.5 525.5L1006.0 525.5L1007.5 525.5L1009.0 525.5L1010.5 525.5L1012.0 525.5L1013.5 525.5L1015.0 525.5L1016.5 525.5L1018.0 525.5L1019.5 525.5L1021.0 525.5L1022.5 525.5L1024.0 525.5L1025.5 525.5L1027.0 525.5L1028.5 525.5L1030.0 525.5L1031.5 525.5L1033.0 525.5L1034.5 525.5L1036.0 525.5L1037.5 525.5L1039.0 525.5L1040.5 525.5L1042.0 525.5L1043.5 525.5L1045.0 525.5L1046.5 525.5L1048.0 525.5L1049.5 525.5L1051.0 525.5L1052.5 525.5L1054.0 525.5L1055.5 525.5L1057.0 525.5L1058.5 525.5L1060.0 525.5L1061.5 525.5L1063.0 525.5L1064.5 525.5L1066.0 525.5L1067.5 525.5L1069.0 525.5L1070.5 525.5L1072.0 525.5L1073.5 525.5L1075.0 525.5L1076.5 525.5L1078.0 525.5L1079.5 525.5L1081.0 525.5L1082.5 525.5L1084.0 525.5L1085.5 525.5L1086.7 525.5L1089.7 525.2L1091.5 525.2L1093.0 525.3L1094.5 525.3L1096.0 525.3L1097.5 525.3L1099.0 525.3L1100.5 525.3L1102.0 525.3L1103.5 525.2L1105.0 525.2L1106.5 525.2L1108.0 525.3L1109.5 525.3L1111.0 525.3L1112.5 525.3L1114.0 525.3L1115.5 525.3L1117.0 525.3L1118.5 525.3L1120.0 525.3L1121.5 525.2L1123.0 525.2L1124.5 525.2L1126.0 525.3L1127.5 525.3L1129.0 525.3L1130.5 525.2L1132.0 525.2L1133.5 525.2L1135.0 525.2L1136.5 525.3L1138.0 525.3L1139.5 525.3L1141.0 525.3L1142.5 525.3L1144.0 525.3L1145.5 525.2L1147.0 525.2L1148.5 525.2L1150.0 525.2L1151.5 525.3L1153.0 525.3L1154.5 525.3L1156.0 525.3L1157.5 525.2L1159.0 525.2L1160.5 525.2L1162.0 525.2L1163.5 525.2L1165.0 525.2L1166.5 525.3L1168.0 525.3L1169.5 525.3L1171.0 525.3L1172.5 525.3L1174.0 525.2L1175.5 525.2L1177.0 525.2L1178.5 525.2L1180.0 525.2L1181.5 525.2L1183.0 525.3L1184.5 525.3L1186.0 525.3L1187.5 525.3L1189.0 525.3L1190.5 525.3L1192.0 525.3L1193.5 525.3L1195.0 525.3L1196.5 525.3L1198.0 525.3L1199.5 525.3L1201.0 525.3L1202.5 525.3L1204.0 525.3L1205.5 525.3L1207.0 525.3L1208.5 525.3L1210.0 525.3L1211.5 525.2L1213.0 525.1L1214.5 525.1L1216.0 525.1L1217.5 525.0L1219.0 525.0L1220.5 524.9L1222.0 524.9L1223.5 524.8L1225.0 524.8L1226.5 524.7L1228.0 524.7L1229.5 524.6L1231.0 524.6L1232.5 524.5L1234.0 524.5L1235.5 524.4L1237.0 524.2L1238.5 524.0L1240.0 523.8L1241.5 523.4L1243.0 523.2L1244.5 522.8L1246.0 522.5L1247.5 522.2L1249.0 522.0L1250.5 521.8L1252.0 521.5L1253.5 521.2L1255.0 521.0L1256.5 520.7L1258.0 520.5L1259.5 520.1L1261.0 519.9L1262.5 519.9L1264.0 519.1L1265.5 518.2L1267.0 517.3L1268.5 516.6L1270.0 516.0L1271.5 515.4L1273.0 515.3L1274.5 516.0L1276.0 516.7L1277.5 517.5L1279.0 517.4L1280.5 517.5L1282.0 517.4L1283.5 517.3L1285.0 517.3L1286.5 517.2L1288.0 517.2L1289.5 517.2L1291.0 517.2L1292.5 517.2L1294.0 517.2L1295.5 517.1L1297.0 517.1L1298.5 517.0L1300.0 517.0L1301.5 516.9L1303.0 516.9L1304.5 516.9L1306.0 516.8L1307.5 516.7L1309.0 516.7L1310.5 516.7L1312.0 516.6L1313.5 516.6L1315.0 516.5L1316.5 516.5L1318.0 516.5L1319.5 516.4L1321.0 516.4L1322.5 516.4L1324.0 516.3L1325.5 516.2L1327.0 516.2L1328.5 516.3L1330.0 516.4L1331.5 516.5L1333.0 516.4L1334.5 516.3L1336.0 516.3L1337.5 516.3L1339.0 516.4L1340.5 516.4L1342.0 516.4L1343.5 516.1L1345.0 515.7L1346.5 515.3L1348.0 515.0L1349.5 514.6L1351.0 514.4L1352.5 514.3L1354.0 514.3L1355.5 514.3L1357.0 514.3L1358.5 514.2L1360.0 514.2L1361.5 514.2L1363.0 514.2L1364.5 514.2L1366.0 514.1L1367.5 514.0L1369.0 513.9L1370.5 513.9L1372.0 513.9L1373.5 513.9L1375.0 513.8L1376.5 513.8L1378.0 513.9L1379.5 514.0L1381.0 514.1L1382.5 514.0L1384.0 514.0L1385.5 514.0L1387.0 514.1L1388.5 514.1L1390.0 514.2L1391.5 514.3L1393.0 514.4L1394.5 514.4L1396.0 514.4L1397.5 514.5L1399.0 514.6L1400.5 514.6L1402.0 514.6L1403.5 514.6L1405.0 514.6L1406.5 514.7L1408.0 514.7L1409.5 514.6L1411.0 514.6L1412.5 514.6L1414.0 514.7L1415.5 514.7L1417.0 514.7L1418.5 514.8L1420.0 514.9L1421.5 514.9L1423.0 514.9L1424.5 515.0L1426.0 515.0L1427.5 515.0L1429.0 514.9L1430.5 514.9L1432.0 515.0L1433.5 515.1L1435.0 515.0L1436.5 514.9L1438.0 514.8L1439.5 514.8L1441.0 514.9L1442.5 514.9L1444.0 514.9L1445.5 514.9L1447.0 514.8L1448.5 514.9L1450.0 514.9L1451.5 515.0L1453.0 515.0L1454.5 515.1L1456.0 515.2L1457.5 515.2L1459.0 515.1L1460.5 515.1L1462.0 515.1L1463.5 515.3L1465.0 515.4L1466.5 515.5L1468.0 515.6L1469.5 515.6L1471.0 515.5L1472.5 515.4L1474.0 515.4L1475.5 515.4L1477.0 515.5L1478.5 515.6L1480.0 515.7L1481.5 515.8L1483.0 515.9L1484.5 516.1L1486.0 516.2L1487.5 516.3L1489.0 516.4L1490.5 516.5L1492.0 516.7L1493.5 516.8L1495.0 516.9L1496.5 517.1L1498.0 517.3L1499.5 517.4L1501.0 517.6L1502.5 517.6L1504.0 517.7L1505.5 517.8L1507.0 517.8L1508.5 517.9L1510.0 517.9L1511.5 518.0L1513.0 518.1L1514.5 518.2L1516.0 518.3L1517.5 518.5L1519.0 518.6L1520.5 518.6L1522.0 518.6L1523.5 518.6L1525.0 518.7L1526.5 518.7L1528.0 518.7L1529.5 518.7L1531.0 518.6L1532.5 518.5L1534.0 518.4L1535.5 518.4L1537.0 518.4L1538.5 518.3L1540.0 518.3L1541.5 518.2L1543.0 518.1L1544.5 518.1L1546.0 518.0L1547.5 518.0L1549.0 518.0L1550.5 518.0L1552.0 518.0L1553.5 518.1L1555.0 518.0L1556.5 517.9L1558.0 517.8L1559.5 517.8L1561.0 517.8L1562.5 517.8L1564.0 517.8L1565.5 517.8L1567.0 517.8L1568.5 517.8L1570.0 517.7L1571.5 517.6L1573.0 517.5L1574.5 517.6L1576.0 517.6L1576.3 517.6" fill="none" stroke="#505656" stroke-width="1.25" stroke-opacity="0.90"/>
<path d="M565.0 525.6L565.0 543.0L566.5 542.5L568.0 541.7L569.5 541.3L571.0 541.3L572.5 540.9L574.0 540.6L575.5 540.1L577.0 540.1L578.5 540.8L580.0 541.3L581.5 541.4L583.0 541.5L584.5 541.3L586.0 540.9L587.5 540.7L589.0 540.4L590.5 540.3L592.0 540.4L593.5 540.2L595.0 540.0L596.5 539.8L598.0 539.2L599.5 539.0L601.0 538.8L602.5 538.8L604.0 539.2L605.5 539.7L607.0 540.6L608.5 541.2L610.0 541.8L611.5 542.0L613.0 541.9L614.5 542.0L616.0 541.8L617.5 541.5L619.0 541.3L620.5 541.0L622.0 541.1L623.5 540.8L625.0 540.0L626.5 539.4L628.0 538.9L629.5 538.4L631.0 539.4L632.5 540.9L634.0 542.1L635.5 542.8L637.0 541.7L638.5 540.9L640.0 540.3L641.5 539.7L643.0 539.3L644.5 539.0L646.0 538.9L647.5 538.5L649.0 539.1L650.5 539.6L652.0 540.4L653.5 541.3L655.0 542.3L656.5 542.5L658.0 542.4L659.5 542.4L661.0 542.4L662.5 542.7L664.0 542.8L665.5 543.3L667.0 545.0L668.5 549.1L670.0 549.6L671.5 549.7L673.0 549.5L674.5 549.0L676.0 548.4L677.5 548.0L679.0 548.0L680.5 547.8L682.0 548.3L683.5 549.0L685.0 549.7L686.5 549.6L688.0 549.2L689.5 548.8L691.0 548.3L692.5 548.1L694.0 547.8L695.5 547.4L697.0 547.5L698.5 547.4L700.0 547.4L701.5 547.6L703.0 547.7L704.5 547.9L706.0 548.1L707.5 548.2L709.0 548.2L710.5 548.2L712.0 547.9L713.5 547.5L715.0 547.4L716.5 547.3L718.0 548.7L719.5 550.1L721.0 550.3L722.5 547.9L724.0 548.0L725.5 548.0L727.0 547.9L728.5 547.4L730.0 546.8L731.5 546.7L733.0 546.9L734.5 547.4L736.0 547.5L737.5 547.1L739.0 546.8L740.5 546.9L742.0 547.4L743.5 547.6L745.0 547.4L746.5 547.1L748.0 546.8L749.5 546.9L751.0 546.7L752.5 546.8L754.0 547.1L755.5 547.1L757.0 547.1L758.5 546.9L760.0 546.8L761.5 546.9L763.0 546.8L764.5 546.8L766.0 546.7L767.5 546.9L769.0 547.1L770.5 547.2L772.0 547.2L773.5 547.3L775.0 547.5L776.5 547.8L778.0 547.9L779.5 547.7L781.0 547.5L782.5 547.2L784.0 547.1L785.5 547.1L787.0 547.1L788.5 547.1L790.0 547.0L791.5 546.9L793.0 546.7L794.5 546.9L796.0 547.0L797.5 546.9L799.0 546.7L800.5 546.2L802.0 546.3L803.5 546.6L805.0 546.7L806.5 546.7L808.0 546.4L809.5 546.2L811.0 546.5L812.5 546.7L814.0 546.8L815.5 546.8L817.0 546.8L818.5 547.0L820.0 547.2L821.5 547.6L823.0 547.7L824.5 547.4L826.0 546.9L827.5 546.7L829.0 546.9L830.5 547.2L832.0 547.7L833.5 547.9L835.0 548.3L836.5 548.5L838.0 548.2L839.5 548.0L841.0 547.5L842.5 547.3L844.0 547.2L845.5 547.1L847.0 547.3L848.5 547.3L850.0 547.2L851.5 547.0L853.0 546.9L854.5 547.2L856.0 547.6L857.5 547.5L859.0 547.4L860.5 547.2L862.0 547.0L863.5 547.2L865.0 547.0L866.5 545.0L868.0 543.2L869.5 541.4L871.0 541.0L872.5 541.0L874.0 541.2L875.5 541.3L877.0 541.5L878.5 541.3L880.0 541.1L881.5 540.9L883.0 540.8L884.5 540.9L886.0 540.8L887.5 540.5L889.0 540.4L890.5 539.9L892.0 539.5L893.5 539.1L895.0 538.7L896.5 538.3L898.0 537.8L899.5 537.6L901.0 537.3L902.5 537.4L904.0 537.3L905.5 537.3L907.0 537.2L908.5 537.3L910.0 537.3L911.5 537.4L913.0 537.7L914.5 537.6L916.0 537.5L917.5 537.5L919.0 537.5L920.5 537.5L922.0 537.2L923.5 536.8L925.0 536.8L926.5 536.7L928.0 536.7L929.5 536.6L931.0 536.5L932.5 536.6L934.0 536.6L935.5 536.4L937.0 535.9L938.5 535.5L940.0 535.0L941.5 535.5L943.0 536.1L944.5 536.6L946.0 537.7L947.5 538.3L949.0 538.9L950.5 539.1L952.0 539.2L953.5 539.6L955.0 539.7L956.5 539.3L958.0 538.8L959.5 539.2L961.0 539.8L962.5 540.0L964.0 540.3L965.5 540.5L967.0 540.9L968.5 538.9L970.0 542.3L971.5 544.8L973.0 546.8L974.5 547.3L976.0 547.5L977.5 547.9L979.0 548.4L980.5 549.7L982.0 551.0L983.5 552.4L985.0 553.1L986.5 554.0L988.0 554.6L989.5 554.9L991.0 554.6L992.5 554.2L994.0 554.0L995.5 554.4L997.0 557.2L998.5 557.8L1000.0 558.2L1001.5 558.9L1003.0 559.3L1004.5 558.7L1006.0 558.8L1007.5 558.8L1009.0 559.8L1010.5 562.3L1012.0 563.7L1013.5 564.5L1015.0 565.2L1016.5 566.4L1018.0 567.4L1019.5 568.2L1021.0 568.9L1022.5 569.2L1024.0 568.8L1025.5 567.3L1027.0 566.2L1028.5 565.3L1030.0 565.2L1031.5 564.8L1033.0 565.9L1034.5 568.1L1036.0 570.2L1037.5 571.6L1039.0 571.8L1040.5 569.6L1042.0 567.2L1043.5 566.7L1045.0 567.7L1046.5 570.2L1048.0 573.5L1049.5 573.5L1051.0 572.5L1052.5 571.7L1054.0 571.4L1055.5 571.5L1057.0 571.1L1058.5 570.2L1060.0 569.8L1061.5 568.7L1063.0 568.4L1064.5 567.9L1066.0 567.9L1067.5 569.5L1069.0 570.2L1070.5 571.3L1072.0 571.7L1073.5 570.7L1075.0 569.3L1076.5 567.7L1078.0 568.9L1079.5 570.0L1081.0 571.3L1082.5 571.0L1084.0 570.7L1085.5 570.2L1086.7 569.7L1089.7 530.5L1091.5 530.5L1093.0 530.5L1094.5 530.5L1096.0 530.5L1097.5 530.5L1099.0 530.5L1100.5 530.5L1102.0 530.5L1103.5 530.5L1105.0 530.5L1106.5 530.5L1108.0 530.5L1109.5 530.5L1111.0 530.5L1112.5 530.5L1114.0 530.5L1115.5 530.5L1117.0 530.5L1118.5 530.6L1120.0 530.6L1121.5 530.5L1123.0 530.5L1124.5 530.4L1126.0 530.4L1127.5 530.4L1129.0 530.4L1130.5 530.4L1132.0 530.4L1133.5 530.5L1135.0 530.5L1136.5 529.6L1138.0 528.7L1139.5 527.8L1141.0 526.1L1142.5 525.8L1144.0 525.8L1145.5 525.8L1147.0 525.8L1148.5 525.8L1150.0 525.8L1151.5 525.8L1153.0 525.8L1154.5 525.8L1156.0 525.8L1157.5 525.8L1159.0 525.8L1160.5 525.8L1162.0 525.8L1163.5 525.8L1165.0 525.8L1166.5 525.8L1168.0 525.8L1169.5 525.8L1171.0 525.8L1172.5 525.8L1174.0 525.8L1175.5 525.8L1177.0 525.8L1178.5 525.8L1180.0 525.8L1181.5 525.8L1183.0 525.8L1184.5 525.8L1186.0 525.8L1187.5 525.8L1189.0 525.9L1190.5 525.9L1192.0 525.9L1193.5 525.9L1195.0 525.9L1196.5 525.9L1198.0 525.9L1199.5 525.9L1201.0 525.9L1202.5 525.9L1204.0 525.9L1205.5 525.9L1207.0 525.9L1208.5 525.9L1210.0 525.9L1211.5 525.9L1213.0 525.9L1214.5 525.9L1216.0 525.9L1217.5 525.9L1219.0 525.9L1220.5 525.9L1222.0 525.9L1223.5 525.9L1225.0 525.9L1226.5 525.9L1228.0 525.9L1229.5 525.9L1231.0 525.9L1232.5 526.0L1234.0 526.0L1235.5 526.0L1237.0 526.0L1238.5 526.0L1240.0 526.0L1241.5 526.0L1243.0 526.0L1244.5 526.0L1246.0 526.0L1247.5 526.0L1249.0 526.0L1250.5 526.0L1252.0 526.0L1253.5 526.0L1255.0 526.0L1256.5 526.0L1258.0 526.0L1259.5 526.0L1261.0 526.0L1262.5 526.0L1264.0 526.0L1265.5 526.0L1267.0 526.0L1268.5 526.0L1270.0 526.0L1271.5 526.0L1273.0 526.0L1274.5 526.0L1276.0 526.0L1277.5 526.0L1279.0 526.0L1280.5 526.0L1282.0 526.0L1283.5 526.1L1285.0 526.1L1286.5 526.0L1288.0 526.0L1289.5 526.0L1291.0 526.0L1292.5 526.0L1294.0 526.0L1295.5 526.0L1297.0 526.0L1298.5 526.0L1300.0 526.1L1301.5 526.1L1303.0 526.1L1304.5 526.1L1306.0 526.0L1307.5 526.0L1309.0 526.1L1310.5 526.1L1312.0 526.1L1313.5 526.1L1315.0 526.1L1316.5 526.1L1318.0 526.1L1319.5 526.1L1321.0 526.0L1322.5 526.1L1324.0 526.1L1325.5 526.1L1327.0 526.1L1328.5 526.1L1330.0 526.1L1331.5 526.1L1333.0 526.1L1334.5 526.1L1336.0 526.1L1337.5 526.1L1339.0 526.1L1340.5 526.1L1342.0 526.1L1343.5 526.1L1345.0 526.1L1346.5 526.1L1348.0 526.1L1349.5 526.1L1351.0 526.1L1352.5 526.1L1354.0 526.1L1355.5 526.1L1357.0 526.1L1358.5 526.1L1360.0 526.1L1361.5 526.1L1363.0 526.1L1364.5 526.1L1366.0 526.1L1367.5 526.1L1369.0 526.1L1370.5 526.1L1372.0 526.1L1373.5 526.1L1375.0 526.1L1376.5 526.1L1378.0 526.1L1379.5 526.1L1381.0 526.1L1382.5 526.2L1384.0 526.1L1385.5 526.1L1387.0 526.1L1388.5 526.1L1390.0 526.1L1391.5 526.1L1393.0 526.1L1394.5 526.2L1396.0 526.2L1397.5 526.2L1399.0 526.1L1400.5 526.1L1402.0 526.1L1403.5 526.2L1405.0 526.2L1406.5 526.2L1408.0 526.2L1409.5 526.2L1411.0 526.2L1412.5 526.2L1414.0 526.2L1415.5 526.2L1417.0 526.2L1418.5 526.2L1420.0 526.2L1421.5 526.2L1423.0 526.2L1424.5 526.2L1426.0 526.2L1427.5 526.2L1429.0 526.2L1430.5 526.2L1432.0 526.2L1433.5 526.2L1435.0 526.2L1436.5 526.2L1438.0 526.2L1439.5 526.2L1441.0 526.2L1442.5 526.2L1444.0 526.2L1445.5 526.2L1447.0 526.2L1448.5 526.2L1450.0 526.2L1451.5 526.2L1453.0 526.2L1454.5 526.2L1456.0 526.2L1457.5 526.2L1459.0 526.2L1460.5 526.2L1462.0 526.2L1463.5 526.2L1465.0 526.2L1466.5 526.2L1468.0 526.2L1469.5 526.3L1471.0 526.3L1472.5 526.3L1474.0 526.3L1475.5 526.3L1477.0 526.5L1478.5 526.7L1480.0 526.9L1481.5 527.2L1483.0 527.4L1484.5 527.6L1486.0 527.7L1487.5 528.0L1489.0 528.1L1490.5 528.2L1492.0 528.4L1493.5 528.4L1495.0 528.5L1496.5 528.5L1498.0 528.6L1499.5 528.7L1501.0 528.9L1502.5 529.0L1504.0 529.2L1505.5 529.3L1507.0 529.5L1508.5 529.6L1510.0 529.8L1511.5 529.9L1513.0 530.1L1514.5 530.2L1516.0 530.4L1517.5 530.5L1519.0 530.6L1520.5 530.7L1522.0 530.9L1523.5 531.1L1525.0 531.3L1526.5 531.5L1528.0 531.7L1529.5 531.9L1531.0 532.1L1532.5 532.3L1534.0 532.5L1535.5 532.7L1537.0 532.9L1538.5 533.0L1540.0 533.1L1541.5 533.1L1543.0 533.2L1544.5 533.3L1546.0 533.4L1547.5 533.5L1549.0 533.5L1550.5 533.5L1552.0 533.5L1553.5 533.5L1555.0 533.5L1556.5 533.4L1558.0 533.4L1559.5 533.4L1561.0 533.3L1562.5 533.3L1564.0 533.3L1565.5 533.2L1567.0 533.2L1568.5 533.2L1570.0 533.2L1571.5 533.2L1573.0 533.2L1574.5 533.1L1576.0 533.0L1576.3 533.0L1576.3 525.6Z" fill="#c20e1a"/>
<path d="M565.0 543.0L566.5 542.5L568.0 541.7L569.5 541.3L571.0 541.3L572.5 540.9L574.0 540.6L575.5 540.1L577.0 540.1L578.5 540.8L580.0 541.3L581.5 541.4L583.0 541.5L584.5 541.3L586.0 540.9L587.5 540.7L589.0 540.4L590.5 540.3L592.0 540.4L593.5 540.2L595.0 540.0L596.5 539.8L598.0 539.2L599.5 539.0L601.0 538.8L602.5 538.8L604.0 539.2L605.5 539.7L607.0 540.6L608.5 541.2L610.0 541.8L611.5 542.0L613.0 541.9L614.5 542.0L616.0 541.8L617.5 541.5L619.0 541.3L620.5 541.0L622.0 541.1L623.5 540.8L625.0 540.0L626.5 539.4L628.0 538.9L629.5 538.4L631.0 539.4L632.5 540.9L634.0 542.1L635.5 542.8L637.0 541.7L638.5 540.9L640.0 540.3L641.5 539.7L643.0 539.3L644.5 539.0L646.0 538.9L647.5 538.5L649.0 539.1L650.5 539.6L652.0 540.4L653.5 541.3L655.0 542.3L656.5 542.5L658.0 542.4L659.5 542.4L661.0 542.4L662.5 542.7L664.0 542.8L665.5 543.3L667.0 545.0L668.5 549.1L670.0 549.6L671.5 549.7L673.0 549.5L674.5 549.0L676.0 548.4L677.5 548.0L679.0 548.0L680.5 547.8L682.0 548.3L683.5 549.0L685.0 549.7L686.5 549.6L688.0 549.2L689.5 548.8L691.0 548.3L692.5 548.1L694.0 547.8L695.5 547.4L697.0 547.5L698.5 547.4L700.0 547.4L701.5 547.6L703.0 547.7L704.5 547.9L706.0 548.1L707.5 548.2L709.0 548.2L710.5 548.2L712.0 547.9L713.5 547.5L715.0 547.4L716.5 547.3L718.0 548.7L719.5 550.1L721.0 550.3L722.5 547.9L724.0 548.0L725.5 548.0L727.0 547.9L728.5 547.4L730.0 546.8L731.5 546.7L733.0 546.9L734.5 547.4L736.0 547.5L737.5 547.1L739.0 546.8L740.5 546.9L742.0 547.4L743.5 547.6L745.0 547.4L746.5 547.1L748.0 546.8L749.5 546.9L751.0 546.7L752.5 546.8L754.0 547.1L755.5 547.1L757.0 547.1L758.5 546.9L760.0 546.8L761.5 546.9L763.0 546.8L764.5 546.8L766.0 546.7L767.5 546.9L769.0 547.1L770.5 547.2L772.0 547.2L773.5 547.3L775.0 547.5L776.5 547.8L778.0 547.9L779.5 547.7L781.0 547.5L782.5 547.2L784.0 547.1L785.5 547.1L787.0 547.1L788.5 547.1L790.0 547.0L791.5 546.9L793.0 546.7L794.5 546.9L796.0 547.0L797.5 546.9L799.0 546.7L800.5 546.2L802.0 546.3L803.5 546.6L805.0 546.7L806.5 546.7L808.0 546.4L809.5 546.2L811.0 546.5L812.5 546.7L814.0 546.8L815.5 546.8L817.0 546.8L818.5 547.0L820.0 547.2L821.5 547.6L823.0 547.7L824.5 547.4L826.0 546.9L827.5 546.7L829.0 546.9L830.5 547.2L832.0 547.7L833.5 547.9L835.0 548.3L836.5 548.5L838.0 548.2L839.5 548.0L841.0 547.5L842.5 547.3L844.0 547.2L845.5 547.1L847.0 547.3L848.5 547.3L850.0 547.2L851.5 547.0L853.0 546.9L854.5 547.2L856.0 547.6L857.5 547.5L859.0 547.4L860.5 547.2L862.0 547.0L863.5 547.2L865.0 547.0L866.5 545.0L868.0 543.2L869.5 541.4L871.0 541.0L872.5 541.0L874.0 541.2L875.5 541.3L877.0 541.5L878.5 541.3L880.0 541.1L881.5 540.9L883.0 540.8L884.5 540.9L886.0 540.8L887.5 540.5L889.0 540.4L890.5 539.9L892.0 539.5L893.5 539.1L895.0 538.7L896.5 538.3L898.0 537.8L899.5 537.6L901.0 537.3L902.5 537.4L904.0 537.3L905.5 537.3L907.0 537.2L908.5 537.3L910.0 537.3L911.5 537.4L913.0 537.7L914.5 537.6L916.0 537.5L917.5 537.5L919.0 537.5L920.5 537.5L922.0 537.2L923.5 536.8L925.0 536.8L926.5 536.7L928.0 536.7L929.5 536.6L931.0 536.5L932.5 536.6L934.0 536.6L935.5 536.4L937.0 535.9L938.5 535.5L940.0 535.0L941.5 535.5L943.0 536.1L944.5 536.6L946.0 537.7L947.5 538.3L949.0 538.9L950.5 539.1L952.0 539.2L953.5 539.6L955.0 539.7L956.5 539.3L958.0 538.8L959.5 539.2L961.0 539.8L962.5 540.0L964.0 540.3L965.5 540.5L967.0 540.9L968.5 538.9L970.0 542.3L971.5 544.8L973.0 546.8L974.5 547.3L976.0 547.5L977.5 547.9L979.0 548.4L980.5 549.7L982.0 551.0L983.5 552.4L985.0 553.1L986.5 554.0L988.0 554.6L989.5 554.9L991.0 554.6L992.5 554.2L994.0 554.0L995.5 554.4L997.0 557.2L998.5 557.8L1000.0 558.2L1001.5 558.9L1003.0 559.3L1004.5 558.7L1006.0 558.8L1007.5 558.8L1009.0 559.8L1010.5 562.3L1012.0 563.7L1013.5 564.5L1015.0 565.2L1016.5 566.4L1018.0 567.4L1019.5 568.2L1021.0 568.9L1022.5 569.2L1024.0 568.8L1025.5 567.3L1027.0 566.2L1028.5 565.3L1030.0 565.2L1031.5 564.8L1033.0 565.9L1034.5 568.1L1036.0 570.2L1037.5 571.6L1039.0 571.8L1040.5 569.6L1042.0 567.2L1043.5 566.7L1045.0 567.7L1046.5 570.2L1048.0 573.5L1049.5 573.5L1051.0 572.5L1052.5 571.7L1054.0 571.4L1055.5 571.5L1057.0 571.1L1058.5 570.2L1060.0 569.8L1061.5 568.7L1063.0 568.4L1064.5 567.9L1066.0 567.9L1067.5 569.5L1069.0 570.2L1070.5 571.3L1072.0 571.7L1073.5 570.7L1075.0 569.3L1076.5 567.7L1078.0 568.9L1079.5 570.0L1081.0 571.3L1082.5 571.0L1084.0 570.7L1085.5 570.2L1086.7 569.7L1089.7 530.5L1091.5 530.5L1093.0 530.5L1094.5 530.5L1096.0 530.5L1097.5 530.5L1099.0 530.5L1100.5 530.5L1102.0 530.5L1103.5 530.5L1105.0 530.5L1106.5 530.5L1108.0 530.5L1109.5 530.5L1111.0 530.5L1112.5 530.5L1114.0 530.5L1115.5 530.5L1117.0 530.5L1118.5 530.6L1120.0 530.6L1121.5 530.5L1123.0 530.5L1124.5 530.4L1126.0 530.4L1127.5 530.4L1129.0 530.4L1130.5 530.4L1132.0 530.4L1133.5 530.5L1135.0 530.5L1136.5 529.6L1138.0 528.7L1139.5 527.8L1141.0 526.1L1142.5 525.8L1144.0 525.8L1145.5 525.8L1147.0 525.8L1148.5 525.8L1150.0 525.8L1151.5 525.8L1153.0 525.8L1154.5 525.8L1156.0 525.8L1157.5 525.8L1159.0 525.8L1160.5 525.8L1162.0 525.8L1163.5 525.8L1165.0 525.8L1166.5 525.8L1168.0 525.8L1169.5 525.8L1171.0 525.8L1172.5 525.8L1174.0 525.8L1175.5 525.8L1177.0 525.8L1178.5 525.8L1180.0 525.8L1181.5 525.8L1183.0 525.8L1184.5 525.8L1186.0 525.8L1187.5 525.8L1189.0 525.9L1190.5 525.9L1192.0 525.9L1193.5 525.9L1195.0 525.9L1196.5 525.9L1198.0 525.9L1199.5 525.9L1201.0 525.9L1202.5 525.9L1204.0 525.9L1205.5 525.9L1207.0 525.9L1208.5 525.9L1210.0 525.9L1211.5 525.9L1213.0 525.9L1214.5 525.9L1216.0 525.9L1217.5 525.9L1219.0 525.9L1220.5 525.9L1222.0 525.9L1223.5 525.9L1225.0 525.9L1226.5 525.9L1228.0 525.9L1229.5 525.9L1231.0 525.9L1232.5 526.0L1234.0 526.0L1235.5 526.0L1237.0 526.0L1238.5 526.0L1240.0 526.0L1241.5 526.0L1243.0 526.0L1244.5 526.0L1246.0 526.0L1247.5 526.0L1249.0 526.0L1250.5 526.0L1252.0 526.0L1253.5 526.0L1255.0 526.0L1256.5 526.0L1258.0 526.0L1259.5 526.0L1261.0 526.0L1262.5 526.0L1264.0 526.0L1265.5 526.0L1267.0 526.0L1268.5 526.0L1270.0 526.0L1271.5 526.0L1273.0 526.0L1274.5 526.0L1276.0 526.0L1277.5 526.0L1279.0 526.0L1280.5 526.0L1282.0 526.0L1283.5 526.1L1285.0 526.1L1286.5 526.0L1288.0 526.0L1289.5 526.0L1291.0 526.0L1292.5 526.0L1294.0 526.0L1295.5 526.0L1297.0 526.0L1298.5 526.0L1300.0 526.1L1301.5 526.1L1303.0 526.1L1304.5 526.1L1306.0 526.0L1307.5 526.0L1309.0 526.1L1310.5 526.1L1312.0 526.1L1313.5 526.1L1315.0 526.1L1316.5 526.1L1318.0 526.1L1319.5 526.1L1321.0 526.0L1322.5 526.1L1324.0 526.1L1325.5 526.1L1327.0 526.1L1328.5 526.1L1330.0 526.1L1331.5 526.1L1333.0 526.1L1334.5 526.1L1336.0 526.1L1337.5 526.1L1339.0 526.1L1340.5 526.1L1342.0 526.1L1343.5 526.1L1345.0 526.1L1346.5 526.1L1348.0 526.1L1349.5 526.1L1351.0 526.1L1352.5 526.1L1354.0 526.1L1355.5 526.1L1357.0 526.1L1358.5 526.1L1360.0 526.1L1361.5 526.1L1363.0 526.1L1364.5 526.1L1366.0 526.1L1367.5 526.1L1369.0 526.1L1370.5 526.1L1372.0 526.1L1373.5 526.1L1375.0 526.1L1376.5 526.1L1378.0 526.1L1379.5 526.1L1381.0 526.1L1382.5 526.2L1384.0 526.1L1385.5 526.1L1387.0 526.1L1388.5 526.1L1390.0 526.1L1391.5 526.1L1393.0 526.1L1394.5 526.2L1396.0 526.2L1397.5 526.2L1399.0 526.1L1400.5 526.1L1402.0 526.1L1403.5 526.2L1405.0 526.2L1406.5 526.2L1408.0 526.2L1409.5 526.2L1411.0 526.2L1412.5 526.2L1414.0 526.2L1415.5 526.2L1417.0 526.2L1418.5 526.2L1420.0 526.2L1421.5 526.2L1423.0 526.2L1424.5 526.2L1426.0 526.2L1427.5 526.2L1429.0 526.2L1430.5 526.2L1432.0 526.2L1433.5 526.2L1435.0 526.2L1436.5 526.2L1438.0 526.2L1439.5 526.2L1441.0 526.2L1442.5 526.2L1444.0 526.2L1445.5 526.2L1447.0 526.2L1448.5 526.2L1450.0 526.2L1451.5 526.2L1453.0 526.2L1454.5 526.2L1456.0 526.2L1457.5 526.2L1459.0 526.2L1460.5 526.2L1462.0 526.2L1463.5 526.2L1465.0 526.2L1466.5 526.2L1468.0 526.2L1469.5 526.3L1471.0 526.3L1472.5 526.3L1474.0 526.3L1475.5 526.3L1477.0 526.5L1478.5 526.7L1480.0 526.9L1481.5 527.2L1483.0 527.4L1484.5 527.6L1486.0 527.7L1487.5 528.0L1489.0 528.1L1490.5 528.2L1492.0 528.4L1493.5 528.4L1495.0 528.5L1496.5 528.5L1498.0 528.6L1499.5 528.7L1501.0 528.9L1502.5 529.0L1504.0 529.2L1505.5 529.3L1507.0 529.5L1508.5 529.6L1510.0 529.8L1511.5 529.9L1513.0 530.1L1514.5 530.2L1516.0 530.4L1517.5 530.5L1519.0 530.6L1520.5 530.7L1522.0 530.9L1523.5 531.1L1525.0 531.3L1526.5 531.5L1528.0 531.7L1529.5 531.9L1531.0 532.1L1532.5 532.3L1534.0 532.5L1535.5 532.7L1537.0 532.9L1538.5 533.0L1540.0 533.1L1541.5 533.1L1543.0 533.2L1544.5 533.3L1546.0 533.4L1547.5 533.5L1549.0 533.5L1550.5 533.5L1552.0 533.5L1553.5 533.5L1555.0 533.5L1556.5 533.4L1558.0 533.4L1559.5 533.4L1561.0 533.3L1562.5 533.3L1564.0 533.3L1565.5 533.2L1567.0 533.2L1568.5 533.2L1570.0 533.2L1571.5 533.2L1573.0 533.2L1574.5 533.1L1576.0 533.0L1576.3 533.0" fill="none" stroke="#6b4a4a" stroke-width="1.05" stroke-opacity="0.70"/>
<path d="M565.0 525.6L565.0 543.0L566.5 542.5L568.0 541.7L569.5 541.3L571.0 541.3L572.5 540.9L574.0 540.6L575.5 540.1L577.0 540.1L578.5 540.8L580.0 541.3L581.5 541.4L583.0 541.5L584.5 541.3L586.0 540.9L587.5 540.7L589.0 540.4L590.5 540.3L592.0 540.4L593.5 540.2L595.0 540.0L596.5 539.8L598.0 539.2L599.5 539.0L601.0 538.8L602.5 538.8L604.0 539.2L605.5 539.7L607.0 540.6L608.5 541.2L610.0 541.8L611.5 542.0L613.0 541.9L614.5 542.0L616.0 541.8L617.5 541.5L619.0 541.3L620.5 541.0L622.0 541.1L623.5 540.8L625.0 540.0L626.5 539.4L628.0 538.9L629.5 538.4L631.0 539.4L632.5 540.9L634.0 542.1L635.5 542.8L637.0 541.7L638.5 540.9L640.0 540.3L641.5 539.7L643.0 539.3L644.5 539.0L646.0 538.9L647.5 538.5L649.0 539.1L650.5 539.6L652.0 540.4L653.5 541.3L655.0 542.3L656.5 542.5L658.0 542.4L659.5 542.4L661.0 542.4L662.5 542.7L664.0 542.8L665.5 543.3L667.0 545.0L668.5 546.9L670.0 547.3L671.5 547.4L673.0 547.1L674.5 546.7L676.0 546.2L677.5 545.9L679.0 545.8L680.5 545.6L682.0 546.0L683.5 546.5L685.0 547.1L686.5 547.1L688.0 546.8L689.5 546.6L691.0 546.1L692.5 545.9L694.0 545.5L695.5 545.1L697.0 545.2L698.5 545.2L700.0 545.3L701.5 545.5L703.0 545.6L704.5 545.8L706.0 545.9L707.5 546.0L709.0 546.0L710.5 545.8L712.0 545.5L713.5 545.1L715.0 545.0L716.5 545.0L718.0 546.4L719.5 547.7L721.0 548.0L722.5 547.9L724.0 548.0L725.5 548.0L727.0 547.9L728.5 547.4L730.0 546.8L731.5 546.7L733.0 546.9L734.5 547.4L736.0 547.5L737.5 547.1L739.0 546.8L740.5 546.9L742.0 547.4L743.5 547.6L745.0 547.4L746.5 547.1L748.0 546.8L749.5 546.9L751.0 546.7L752.5 546.8L754.0 547.1L755.5 547.1L757.0 547.1L758.5 546.9L760.0 546.8L761.5 546.9L763.0 546.8L764.5 546.8L766.0 546.7L767.5 546.9L769.0 547.1L770.5 547.2L772.0 547.2L773.5 547.3L775.0 547.5L776.5 547.8L778.0 547.9L779.5 547.7L781.0 547.5L782.5 547.2L784.0 547.1L785.5 547.1L787.0 547.1L788.5 547.1L790.0 547.0L791.5 546.9L793.0 546.7L794.5 546.9L796.0 547.0L797.5 546.9L799.0 546.7L800.5 546.2L802.0 546.3L803.5 546.6L805.0 546.7L806.5 546.7L808.0 546.4L809.5 546.2L811.0 546.5L812.5 546.7L814.0 546.8L815.5 546.8L817.0 546.8L818.5 547.0L820.0 547.2L821.5 547.6L823.0 547.7L824.5 547.4L826.0 546.9L827.5 546.7L829.0 546.9L830.5 547.2L832.0 547.7L833.5 547.9L835.0 548.3L836.5 548.5L838.0 548.2L839.5 548.0L841.0 547.5L842.5 547.3L844.0 547.2L845.5 547.1L847.0 547.3L848.5 547.3L850.0 547.2L851.5 547.0L853.0 546.9L854.5 547.2L856.0 547.6L857.5 547.5L859.0 547.4L860.5 547.2L862.0 547.0L863.5 547.2L865.0 547.0L866.5 545.0L868.0 543.2L869.5 541.4L871.0 541.0L872.5 541.0L874.0 541.2L875.5 541.3L877.0 541.5L878.5 541.3L880.0 541.1L881.5 540.9L883.0 540.8L884.5 540.9L886.0 540.8L887.5 540.5L889.0 540.4L890.5 539.9L892.0 539.5L893.5 539.1L895.0 538.7L896.5 538.3L898.0 537.8L899.5 537.6L901.0 537.3L902.5 537.4L904.0 537.3L905.5 537.3L907.0 537.2L908.5 537.3L910.0 537.3L911.5 537.4L913.0 537.7L914.5 537.6L916.0 537.5L917.5 537.5L919.0 537.5L920.5 537.5L922.0 537.2L923.5 536.8L925.0 536.8L926.5 536.7L928.0 536.7L929.5 536.6L931.0 536.5L932.5 536.6L934.0 536.6L935.5 536.4L937.0 535.9L938.5 535.5L940.0 535.0L941.5 535.5L943.0 536.1L944.5 536.6L946.0 537.7L947.5 538.3L949.0 538.9L950.5 539.1L952.0 539.2L953.5 539.6L955.0 539.7L956.5 539.3L958.0 538.8L959.5 539.2L961.0 539.8L962.5 540.0L964.0 540.3L965.5 540.5L967.0 540.9L968.5 538.9L970.0 538.8L971.5 541.3L973.0 543.4L974.5 543.9L976.0 544.1L977.5 544.4L979.0 544.8L980.5 546.1L982.0 547.5L983.5 549.1L985.0 549.7L986.5 550.6L988.0 551.2L989.5 551.4L991.0 551.1L992.5 550.6L994.0 550.4L995.5 550.7L997.0 553.6L998.5 554.2L1000.0 554.7L1001.5 555.4L1003.0 555.9L1004.5 555.3L1006.0 555.4L1007.5 555.5L1009.0 556.4L1010.5 558.9L1012.0 560.3L1013.5 561.1L1015.0 561.7L1016.5 562.9L1018.0 563.8L1019.5 564.7L1021.0 565.4L1022.5 565.7L1024.0 565.1L1025.5 563.6L1027.0 562.6L1028.5 561.6L1030.0 561.6L1031.5 561.2L1033.0 562.4L1034.5 564.7L1036.0 566.8L1037.5 568.1L1039.0 568.3L1040.5 566.0L1042.0 563.6L1043.5 563.2L1045.0 564.2L1046.5 566.7L1048.0 569.8L1049.5 569.8L1051.0 569.0L1052.5 568.3L1054.0 568.0L1055.5 568.1L1057.0 567.7L1058.5 566.8L1060.0 566.4L1061.5 565.3L1063.0 564.9L1064.5 564.4L1066.0 564.5L1067.5 566.0L1069.0 566.7L1070.5 567.8L1072.0 568.2L1073.5 567.2L1075.0 565.8L1076.5 564.2L1078.0 565.5L1079.5 566.6L1081.0 567.8L1082.5 567.4L1084.0 567.1L1085.5 566.8L1086.7 566.4L1089.7 530.5L1091.5 530.5L1093.0 530.5L1094.5 530.5L1096.0 530.5L1097.5 530.5L1099.0 530.5L1100.5 530.5L1102.0 530.5L1103.5 530.5L1105.0 530.5L1106.5 530.5L1108.0 530.5L1109.5 530.5L1111.0 530.5L1112.5 530.5L1114.0 530.5L1115.5 530.5L1117.0 530.5L1118.5 530.6L1120.0 530.6L1121.5 530.5L1123.0 530.5L1124.5 530.4L1126.0 530.4L1127.5 530.4L1129.0 530.4L1130.5 530.4L1132.0 530.4L1133.5 530.5L1135.0 530.5L1136.5 529.6L1138.0 528.7L1139.5 527.8L1141.0 526.1L1142.5 525.8L1144.0 525.8L1145.5 525.8L1147.0 525.8L1148.5 525.8L1150.0 525.8L1151.5 525.8L1153.0 525.8L1154.5 525.8L1156.0 525.8L1157.5 525.8L1159.0 525.8L1160.5 525.8L1162.0 525.8L1163.5 525.8L1165.0 525.8L1166.5 525.8L1168.0 525.8L1169.5 525.8L1171.0 525.8L1172.5 525.8L1174.0 525.8L1175.5 525.8L1177.0 525.8L1178.5 525.8L1180.0 525.8L1181.5 525.8L1183.0 525.8L1184.5 525.8L1186.0 525.8L1187.5 525.8L1189.0 525.9L1190.5 525.9L1192.0 525.9L1193.5 525.9L1195.0 525.9L1196.5 525.9L1198.0 525.9L1199.5 525.9L1201.0 525.9L1202.5 525.9L1204.0 525.9L1205.5 525.9L1207.0 525.9L1208.5 525.9L1210.0 525.9L1211.5 525.9L1213.0 525.9L1214.5 525.9L1216.0 525.9L1217.5 525.9L1219.0 525.9L1220.5 525.9L1222.0 525.9L1223.5 525.9L1225.0 525.9L1226.5 525.9L1228.0 525.9L1229.5 525.9L1231.0 525.9L1232.5 526.0L1234.0 526.0L1235.5 526.0L1237.0 526.0L1238.5 526.0L1240.0 526.0L1241.5 526.0L1243.0 526.0L1244.5 526.0L1246.0 526.0L1247.5 526.0L1249.0 526.0L1250.5 526.0L1252.0 526.0L1253.5 526.0L1255.0 526.0L1256.5 526.0L1258.0 526.0L1259.5 526.0L1261.0 526.0L1262.5 526.0L1264.0 526.0L1265.5 526.0L1267.0 526.0L1268.5 526.0L1270.0 526.0L1271.5 526.0L1273.0 526.0L1274.5 526.0L1276.0 526.0L1277.5 526.0L1279.0 526.0L1280.5 526.0L1282.0 526.0L1283.5 526.1L1285.0 526.1L1286.5 526.0L1288.0 526.0L1289.5 526.0L1291.0 526.0L1292.5 526.0L1294.0 526.0L1295.5 526.0L1297.0 526.0L1298.5 526.0L1300.0 526.1L1301.5 526.1L1303.0 526.1L1304.5 526.1L1306.0 526.0L1307.5 526.0L1309.0 526.1L1310.5 526.1L1312.0 526.1L1313.5 526.1L1315.0 526.1L1316.5 526.1L1318.0 526.1L1319.5 526.1L1321.0 526.0L1322.5 526.1L1324.0 526.1L1325.5 526.1L1327.0 526.1L1328.5 526.1L1330.0 526.1L1331.5 526.1L1333.0 526.1L1334.5 526.1L1336.0 526.1L1337.5 526.1L1339.0 526.1L1340.5 526.1L1342.0 526.1L1343.5 526.1L1345.0 526.1L1346.5 526.1L1348.0 526.1L1349.5 526.1L1351.0 526.1L1352.5 526.1L1354.0 526.1L1355.5 526.1L1357.0 526.1L1358.5 526.1L1360.0 526.1L1361.5 526.1L1363.0 526.1L1364.5 526.1L1366.0 526.1L1367.5 526.1L1369.0 526.1L1370.5 526.1L1372.0 526.1L1373.5 526.1L1375.0 526.1L1376.5 526.1L1378.0 526.1L1379.5 526.1L1381.0 526.1L1382.5 526.2L1384.0 526.1L1385.5 526.1L1387.0 526.1L1388.5 526.1L1390.0 526.1L1391.5 526.1L1393.0 526.1L1394.5 526.2L1396.0 526.2L1397.5 526.2L1399.0 526.1L1400.5 526.1L1402.0 526.1L1403.5 526.2L1405.0 526.2L1406.5 526.2L1408.0 526.2L1409.5 526.2L1411.0 526.2L1412.5 526.2L1414.0 526.2L1415.5 526.2L1417.0 526.2L1418.5 526.2L1420.0 526.2L1421.5 526.2L1423.0 526.2L1424.5 526.2L1426.0 526.2L1427.5 526.2L1429.0 526.2L1430.5 526.2L1432.0 526.2L1433.5 526.2L1435.0 526.2L1436.5 526.2L1438.0 526.2L1439.5 526.2L1441.0 526.2L1442.5 526.2L1444.0 526.2L1445.5 526.2L1447.0 526.2L1448.5 526.2L1450.0 526.2L1451.5 526.2L1453.0 526.2L1454.5 526.2L1456.0 526.2L1457.5 526.2L1459.0 526.2L1460.5 526.2L1462.0 526.2L1463.5 526.2L1465.0 526.2L1466.5 526.2L1468.0 526.2L1469.5 526.3L1471.0 526.3L1472.5 526.3L1474.0 526.3L1475.5 526.3L1477.0 526.5L1478.5 526.7L1480.0 526.9L1481.5 527.2L1483.0 527.4L1484.5 527.6L1486.0 527.7L1487.5 528.0L1489.0 528.1L1490.5 528.2L1492.0 528.4L1493.5 528.4L1495.0 528.5L1496.5 528.5L1498.0 528.6L1499.5 528.7L1501.0 528.9L1502.5 529.0L1504.0 529.2L1505.5 529.3L1507.0 529.5L1508.5 529.6L1510.0 529.8L1511.5 529.9L1513.0 530.1L1514.5 530.2L1516.0 530.4L1517.5 530.5L1519.0 530.6L1520.5 530.7L1522.0 530.9L1523.5 531.1L1525.0 531.3L1526.5 531.5L1528.0 531.7L1529.5 531.9L1531.0 532.1L1532.5 532.3L1534.0 532.5L1535.5 532.7L1537.0 532.9L1538.5 533.0L1540.0 533.1L1541.5 533.1L1543.0 533.2L1544.5 533.3L1546.0 533.4L1547.5 533.5L1549.0 533.5L1550.5 533.5L1552.0 533.5L1553.5 533.5L1555.0 533.5L1556.5 533.4L1558.0 533.4L1559.5 533.4L1561.0 533.3L1562.5 533.3L1564.0 533.3L1565.5 533.2L1567.0 533.2L1568.5 533.2L1570.0 533.2L1571.5 533.2L1573.0 533.2L1574.5 533.1L1576.0 533.0L1576.3 533.0L1576.3 525.6Z" fill="#006200"/>
<path d="M565.0 543.0L566.5 542.5L568.0 541.7L569.5 541.3L571.0 541.3L572.5 540.9L574.0 540.6L575.5 540.1L577.0 540.1L578.5 540.8L580.0 541.3L581.5 541.4L583.0 541.5L584.5 541.3L586.0 540.9L587.5 540.7L589.0 540.4L590.5 540.3L592.0 540.4L593.5 540.2L595.0 540.0L596.5 539.8L598.0 539.2L599.5 539.0L601.0 538.8L602.5 538.8L604.0 539.2L605.5 539.7L607.0 540.6L608.5 541.2L610.0 541.8L611.5 542.0L613.0 541.9L614.5 542.0L616.0 541.8L617.5 541.5L619.0 541.3L620.5 541.0L622.0 541.1L623.5 540.8L625.0 540.0L626.5 539.4L628.0 538.9L629.5 538.4L631.0 539.4L632.5 540.9L634.0 542.1L635.5 542.8L637.0 541.7L638.5 540.9L640.0 540.3L641.5 539.7L643.0 539.3L644.5 539.0L646.0 538.9L647.5 538.5L649.0 539.1L650.5 539.6L652.0 540.4L653.5 541.3L655.0 542.3L656.5 542.5L658.0 542.4L659.5 542.4L661.0 542.4L662.5 542.7L664.0 542.8L665.5 543.3L667.0 545.0L668.5 546.9L670.0 547.3L671.5 547.4L673.0 547.1L674.5 546.7L676.0 546.2L677.5 545.9L679.0 545.8L680.5 545.6L682.0 546.0L683.5 546.5L685.0 547.1L686.5 547.1L688.0 546.8L689.5 546.6L691.0 546.1L692.5 545.9L694.0 545.5L695.5 545.1L697.0 545.2L698.5 545.2L700.0 545.3L701.5 545.5L703.0 545.6L704.5 545.8L706.0 545.9L707.5 546.0L709.0 546.0L710.5 545.8L712.0 545.5L713.5 545.1L715.0 545.0L716.5 545.0L718.0 546.4L719.5 547.7L721.0 548.0L722.5 547.9L724.0 548.0L725.5 548.0L727.0 547.9L728.5 547.4L730.0 546.8L731.5 546.7L733.0 546.9L734.5 547.4L736.0 547.5L737.5 547.1L739.0 546.8L740.5 546.9L742.0 547.4L743.5 547.6L745.0 547.4L746.5 547.1L748.0 546.8L749.5 546.9L751.0 546.7L752.5 546.8L754.0 547.1L755.5 547.1L757.0 547.1L758.5 546.9L760.0 546.8L761.5 546.9L763.0 546.8L764.5 546.8L766.0 546.7L767.5 546.9L769.0 547.1L770.5 547.2L772.0 547.2L773.5 547.3L775.0 547.5L776.5 547.8L778.0 547.9L779.5 547.7L781.0 547.5L782.5 547.2L784.0 547.1L785.5 547.1L787.0 547.1L788.5 547.1L790.0 547.0L791.5 546.9L793.0 546.7L794.5 546.9L796.0 547.0L797.5 546.9L799.0 546.7L800.5 546.2L802.0 546.3L803.5 546.6L805.0 546.7L806.5 546.7L808.0 546.4L809.5 546.2L811.0 546.5L812.5 546.7L814.0 546.8L815.5 546.8L817.0 546.8L818.5 547.0L820.0 547.2L821.5 547.6L823.0 547.7L824.5 547.4L826.0 546.9L827.5 546.7L829.0 546.9L830.5 547.2L832.0 547.7L833.5 547.9L835.0 548.3L836.5 548.5L838.0 548.2L839.5 548.0L841.0 547.5L842.5 547.3L844.0 547.2L845.5 547.1L847.0 547.3L848.5 547.3L850.0 547.2L851.5 547.0L853.0 546.9L854.5 547.2L856.0 547.6L857.5 547.5L859.0 547.4L860.5 547.2L862.0 547.0L863.5 547.2L865.0 547.0L866.5 545.0L868.0 543.2L869.5 541.4L871.0 541.0L872.5 541.0L874.0 541.2L875.5 541.3L877.0 541.5L878.5 541.3L880.0 541.1L881.5 540.9L883.0 540.8L884.5 540.9L886.0 540.8L887.5 540.5L889.0 540.4L890.5 539.9L892.0 539.5L893.5 539.1L895.0 538.7L896.5 538.3L898.0 537.8L899.5 537.6L901.0 537.3L902.5 537.4L904.0 537.3L905.5 537.3L907.0 537.2L908.5 537.3L910.0 537.3L911.5 537.4L913.0 537.7L914.5 537.6L916.0 537.5L917.5 537.5L919.0 537.5L920.5 537.5L922.0 537.2L923.5 536.8L925.0 536.8L926.5 536.7L928.0 536.7L929.5 536.6L931.0 536.5L932.5 536.6L934.0 536.6L935.5 536.4L937.0 535.9L938.5 535.5L940.0 535.0L941.5 535.5L943.0 536.1L944.5 536.6L946.0 537.7L947.5 538.3L949.0 538.9L950.5 539.1L952.0 539.2L953.5 539.6L955.0 539.7L956.5 539.3L958.0 538.8L959.5 539.2L961.0 539.8L962.5 540.0L964.0 540.3L965.5 540.5L967.0 540.9L968.5 538.9L970.0 538.8L971.5 541.3L973.0 543.4L974.5 543.9L976.0 544.1L977.5 544.4L979.0 544.8L980.5 546.1L982.0 547.5L983.5 549.1L985.0 549.7L986.5 550.6L988.0 551.2L989.5 551.4L991.0 551.1L992.5 550.6L994.0 550.4L995.5 550.7L997.0 553.6L998.5 554.2L1000.0 554.7L1001.5 555.4L1003.0 555.9L1004.5 555.3L1006.0 555.4L1007.5 555.5L1009.0 556.4L1010.5 558.9L1012.0 560.3L1013.5 561.1L1015.0 561.7L1016.5 562.9L1018.0 563.8L1019.5 564.7L1021.0 565.4L1022.5 565.7L1024.0 565.1L1025.5 563.6L1027.0 562.6L1028.5 561.6L1030.0 561.6L1031.5 561.2L1033.0 562.4L1034.5 564.7L1036.0 566.8L1037.5 568.1L1039.0 568.3L1040.5 566.0L1042.0 563.6L1043.5 563.2L1045.0 564.2L1046.5 566.7L1048.0 569.8L1049.5 569.8L1051.0 569.0L1052.5 568.3L1054.0 568.0L1055.5 568.1L1057.0 567.7L1058.5 566.8L1060.0 566.4L1061.5 565.3L1063.0 564.9L1064.5 564.4L1066.0 564.5L1067.5 566.0L1069.0 566.7L1070.5 567.8L1072.0 568.2L1073.5 567.2L1075.0 565.8L1076.5 564.2L1078.0 565.5L1079.5 566.6L1081.0 567.8L1082.5 567.4L1084.0 567.1L1085.5 566.8L1086.7 566.4L1089.7 530.5L1091.5 530.5L1093.0 530.5L1094.5 530.5L1096.0 530.5L1097.5 530.5L1099.0 530.5L1100.5 530.5L1102.0 530.5L1103.5 530.5L1105.0 530.5L1106.5 530.5L1108.0 530.5L1109.5 530.5L1111.0 530.5L1112.5 530.5L1114.0 530.5L1115.5 530.5L1117.0 530.5L1118.5 530.6L1120.0 530.6L1121.5 530.5L1123.0 530.5L1124.5 530.4L1126.0 530.4L1127.5 530.4L1129.0 530.4L1130.5 530.4L1132.0 530.4L1133.5 530.5L1135.0 530.5L1136.5 529.6L1138.0 528.7L1139.5 527.8L1141.0 526.1L1142.5 525.8L1144.0 525.8L1145.5 525.8L1147.0 525.8L1148.5 525.8L1150.0 525.8L1151.5 525.8L1153.0 525.8L1154.5 525.8L1156.0 525.8L1157.5 525.8L1159.0 525.8L1160.5 525.8L1162.0 525.8L1163.5 525.8L1165.0 525.8L1166.5 525.8L1168.0 525.8L1169.5 525.8L1171.0 525.8L1172.5 525.8L1174.0 525.8L1175.5 525.8L1177.0 525.8L1178.5 525.8L1180.0 525.8L1181.5 525.8L1183.0 525.8L1184.5 525.8L1186.0 525.8L1187.5 525.8L1189.0 525.9L1190.5 525.9L1192.0 525.9L1193.5 525.9L1195.0 525.9L1196.5 525.9L1198.0 525.9L1199.5 525.9L1201.0 525.9L1202.5 525.9L1204.0 525.9L1205.5 525.9L1207.0 525.9L1208.5 525.9L1210.0 525.9L1211.5 525.9L1213.0 525.9L1214.5 525.9L1216.0 525.9L1217.5 525.9L1219.0 525.9L1220.5 525.9L1222.0 525.9L1223.5 525.9L1225.0 525.9L1226.5 525.9L1228.0 525.9L1229.5 525.9L1231.0 525.9L1232.5 526.0L1234.0 526.0L1235.5 526.0L1237.0 526.0L1238.5 526.0L1240.0 526.0L1241.5 526.0L1243.0 526.0L1244.5 526.0L1246.0 526.0L1247.5 526.0L1249.0 526.0L1250.5 526.0L1252.0 526.0L1253.5 526.0L1255.0 526.0L1256.5 526.0L1258.0 526.0L1259.5 526.0L1261.0 526.0L1262.5 526.0L1264.0 526.0L1265.5 526.0L1267.0 526.0L1268.5 526.0L1270.0 526.0L1271.5 526.0L1273.0 526.0L1274.5 526.0L1276.0 526.0L1277.5 526.0L1279.0 526.0L1280.5 526.0L1282.0 526.0L1283.5 526.1L1285.0 526.1L1286.5 526.0L1288.0 526.0L1289.5 526.0L1291.0 526.0L1292.5 526.0L1294.0 526.0L1295.5 526.0L1297.0 526.0L1298.5 526.0L1300.0 526.1L1301.5 526.1L1303.0 526.1L1304.5 526.1L1306.0 526.0L1307.5 526.0L1309.0 526.1L1310.5 526.1L1312.0 526.1L1313.5 526.1L1315.0 526.1L1316.5 526.1L1318.0 526.1L1319.5 526.1L1321.0 526.0L1322.5 526.1L1324.0 526.1L1325.5 526.1L1327.0 526.1L1328.5 526.1L1330.0 526.1L1331.5 526.1L1333.0 526.1L1334.5 526.1L1336.0 526.1L1337.5 526.1L1339.0 526.1L1340.5 526.1L1342.0 526.1L1343.5 526.1L1345.0 526.1L1346.5 526.1L1348.0 526.1L1349.5 526.1L1351.0 526.1L1352.5 526.1L1354.0 526.1L1355.5 526.1L1357.0 526.1L1358.5 526.1L1360.0 526.1L1361.5 526.1L1363.0 526.1L1364.5 526.1L1366.0 526.1L1367.5 526.1L1369.0 526.1L1370.5 526.1L1372.0 526.1L1373.5 526.1L1375.0 526.1L1376.5 526.1L1378.0 526.1L1379.5 526.1L1381.0 526.1L1382.5 526.2L1384.0 526.1L1385.5 526.1L1387.0 526.1L1388.5 526.1L1390.0 526.1L1391.5 526.1L1393.0 526.1L1394.5 526.2L1396.0 526.2L1397.5 526.2L1399.0 526.1L1400.5 526.1L1402.0 526.1L1403.5 526.2L1405.0 526.2L1406.5 526.2L1408.0 526.2L1409.5 526.2L1411.0 526.2L1412.5 526.2L1414.0 526.2L1415.5 526.2L1417.0 526.2L1418.5 526.2L1420.0 526.2L1421.5 526.2L1423.0 526.2L1424.5 526.2L1426.0 526.2L1427.5 526.2L1429.0 526.2L1430.5 526.2L1432.0 526.2L1433.5 526.2L1435.0 526.2L1436.5 526.2L1438.0 526.2L1439.5 526.2L1441.0 526.2L1442.5 526.2L1444.0 526.2L1445.5 526.2L1447.0 526.2L1448.5 526.2L1450.0 526.2L1451.5 526.2L1453.0 526.2L1454.5 526.2L1456.0 526.2L1457.5 526.2L1459.0 526.2L1460.5 526.2L1462.0 526.2L1463.5 526.2L1465.0 526.2L1466.5 526.2L1468.0 526.2L1469.5 526.3L1471.0 526.3L1472.5 526.3L1474.0 526.3L1475.5 526.3L1477.0 526.5L1478.5 526.7L1480.0 526.9L1481.5 527.2L1483.0 527.4L1484.5 527.6L1486.0 527.7L1487.5 528.0L1489.0 528.1L1490.5 528.2L1492.0 528.4L1493.5 528.4L1495.0 528.5L1496.5 528.5L1498.0 528.6L1499.5 528.7L1501.0 528.9L1502.5 529.0L1504.0 529.2L1505.5 529.3L1507.0 529.5L1508.5 529.6L1510.0 529.8L1511.5 529.9L1513.0 530.1L1514.5 530.2L1516.0 530.4L1517.5 530.5L1519.0 530.6L1520.5 530.7L1522.0 530.9L1523.5 531.1L1525.0 531.3L1526.5 531.5L1528.0 531.7L1529.5 531.9L1531.0 532.1L1532.5 532.3L1534.0 532.5L1535.5 532.7L1537.0 532.9L1538.5 533.0L1540.0 533.1L1541.5 533.1L1543.0 533.2L1544.5 533.3L1546.0 533.4L1547.5 533.5L1549.0 533.5L1550.5 533.5L1552.0 533.5L1553.5 533.5L1555.0 533.5L1556.5 533.4L1558.0 533.4L1559.5 533.4L1561.0 533.3L1562.5 533.3L1564.0 533.3L1565.5 533.2L1567.0 533.2L1568.5 533.2L1570.0 533.2L1571.5 533.2L1573.0 533.2L1574.5 533.1L1576.0 533.0L1576.3 533.0" fill="none" stroke="#505656" stroke-width="1.05" stroke-opacity="0.00"/>
<path d="M565.0 525.6L565.0 543.0L566.5 542.5L568.0 541.7L569.5 541.3L571.0 541.3L572.5 540.9L574.0 540.6L575.5 540.1L577.0 540.1L578.5 540.8L580.0 541.3L581.5 541.4L583.0 541.5L584.5 541.3L586.0 540.9L587.5 540.7L589.0 540.4L590.5 540.3L592.0 540.4L593.5 540.2L595.0 540.0L596.5 539.8L598.0 539.2L599.5 539.0L601.0 538.8L602.5 538.8L604.0 539.2L605.5 539.7L607.0 540.6L608.5 541.2L610.0 541.8L611.5 542.0L613.0 541.9L614.5 542.0L616.0 541.8L617.5 541.5L619.0 541.3L620.5 541.0L622.0 541.1L623.5 540.8L625.0 540.0L626.5 539.4L628.0 538.9L629.5 538.4L631.0 539.4L632.5 540.9L634.0 542.1L635.5 542.8L637.0 541.7L638.5 540.9L640.0 540.3L641.5 539.7L643.0 539.3L644.5 539.0L646.0 538.9L647.5 538.5L649.0 539.1L650.5 539.6L652.0 540.4L653.5 541.3L655.0 542.3L656.5 542.5L658.0 542.4L659.5 542.4L661.0 542.4L662.5 542.7L664.0 542.8L665.5 543.3L667.0 545.0L668.5 546.9L670.0 547.3L671.5 547.4L673.0 547.1L674.5 546.7L676.0 546.2L677.5 545.9L679.0 545.8L680.5 545.6L682.0 546.0L683.5 546.5L685.0 547.1L686.5 547.1L688.0 546.8L689.5 546.6L691.0 546.1L692.5 545.9L694.0 545.5L695.5 545.1L697.0 545.2L698.5 545.2L700.0 545.3L701.5 545.5L703.0 545.6L704.5 545.8L706.0 545.9L707.5 546.0L709.0 546.0L710.5 545.8L712.0 545.5L713.5 545.1L715.0 545.0L716.5 545.0L718.0 546.4L719.5 547.7L721.0 548.0L722.5 547.9L724.0 548.0L725.5 548.0L727.0 547.9L728.5 547.4L730.0 546.8L731.5 546.7L733.0 546.9L734.5 547.4L736.0 547.5L737.5 547.1L739.0 546.8L740.5 546.9L742.0 547.4L743.5 547.6L745.0 547.4L746.5 547.1L748.0 546.8L749.5 546.9L751.0 546.7L752.5 546.8L754.0 547.1L755.5 547.1L757.0 547.1L758.5 546.9L760.0 546.8L761.5 546.9L763.0 546.8L764.5 546.8L766.0 546.7L767.5 546.9L769.0 547.1L770.5 547.2L772.0 547.2L773.5 547.3L775.0 547.5L776.5 547.8L778.0 547.9L779.5 547.7L781.0 547.5L782.5 547.2L784.0 547.1L785.5 547.1L787.0 547.1L788.5 547.1L790.0 547.0L791.5 546.9L793.0 546.7L794.5 546.9L796.0 547.0L797.5 546.9L799.0 546.7L800.5 546.2L802.0 546.3L803.5 546.6L805.0 546.7L806.5 546.7L808.0 546.4L809.5 546.2L811.0 546.5L812.5 546.7L814.0 546.8L815.5 546.8L817.0 546.8L818.5 547.0L820.0 547.2L821.5 547.6L823.0 547.7L824.5 547.4L826.0 546.9L827.5 546.7L829.0 546.9L830.5 547.2L832.0 547.7L833.5 547.9L835.0 548.3L836.5 548.5L838.0 548.2L839.5 548.0L841.0 547.5L842.5 547.3L844.0 547.2L845.5 547.1L847.0 547.3L848.5 547.3L850.0 547.2L851.5 547.0L853.0 546.9L854.5 547.2L856.0 547.6L857.5 547.5L859.0 547.4L860.5 547.2L862.0 547.0L863.5 547.2L865.0 547.0L866.5 545.0L868.0 543.2L869.5 541.4L871.0 541.0L872.5 541.0L874.0 541.2L875.5 541.3L877.0 541.5L878.5 541.3L880.0 541.1L881.5 540.9L883.0 540.8L884.5 540.9L886.0 540.8L887.5 540.5L889.0 540.4L890.5 539.9L892.0 539.5L893.5 539.1L895.0 538.7L896.5 538.3L898.0 537.8L899.5 537.6L901.0 537.3L902.5 537.4L904.0 537.3L905.5 537.3L907.0 537.2L908.5 537.3L910.0 537.3L911.5 537.4L913.0 537.7L914.5 537.6L916.0 537.5L917.5 537.5L919.0 537.5L920.5 537.5L922.0 537.2L923.5 536.8L925.0 536.8L926.5 536.7L928.0 536.7L929.5 536.6L931.0 536.5L932.5 536.6L934.0 536.6L935.5 536.4L937.0 535.9L938.5 535.5L940.0 535.0L941.5 535.5L943.0 536.1L944.5 536.6L946.0 537.7L947.5 538.3L949.0 538.9L950.5 539.1L952.0 539.2L953.5 539.6L955.0 539.7L956.5 539.3L958.0 538.8L959.5 539.2L961.0 539.8L962.5 540.0L964.0 540.3L965.5 540.5L967.0 540.9L968.5 538.9L970.0 538.0L971.5 539.3L973.0 540.7L974.5 540.9L976.0 540.4L977.5 539.9L979.0 539.3L980.5 539.5L982.0 539.6L983.5 540.1L985.0 540.5L986.5 541.2L988.0 541.5L989.5 541.8L991.0 542.0L992.5 541.3L994.0 540.6L995.5 540.9L997.0 541.8L998.5 542.8L1000.0 543.3L1001.5 543.5L1003.0 543.7L1004.5 543.0L1006.0 542.6L1007.5 542.4L1009.0 543.3L1010.5 544.6L1012.0 545.3L1013.5 546.1L1015.0 546.9L1016.5 548.3L1018.0 549.5L1019.5 550.6L1021.0 550.2L1022.5 549.1L1024.0 548.1L1025.5 546.8L1027.0 545.7L1028.5 544.8L1030.0 544.1L1031.5 543.8L1033.0 544.3L1034.5 546.9L1036.0 549.4L1037.5 551.5L1039.0 553.3L1040.5 552.4L1042.0 551.0L1043.5 551.0L1045.0 551.8L1046.5 553.3L1048.0 554.8L1049.5 554.9L1051.0 554.4L1052.5 553.7L1054.0 553.3L1055.5 553.0L1057.0 552.4L1058.5 551.6L1060.0 550.8L1061.5 550.2L1063.0 549.7L1064.5 548.7L1066.0 547.9L1067.5 548.5L1069.0 548.9L1070.5 549.8L1072.0 550.3L1073.5 550.7L1075.0 549.1L1076.5 547.9L1078.0 548.8L1079.5 549.5L1081.0 549.6L1082.5 549.1L1084.0 548.8L1085.5 548.6L1086.7 548.5L1089.7 530.5L1091.5 530.5L1093.0 530.5L1094.5 530.5L1096.0 530.5L1097.5 530.5L1099.0 530.5L1100.5 530.5L1102.0 530.5L1103.5 530.5L1105.0 530.5L1106.5 530.5L1108.0 530.5L1109.5 530.5L1111.0 530.5L1112.5 530.5L1114.0 530.5L1115.5 530.5L1117.0 530.5L1118.5 530.6L1120.0 530.6L1121.5 530.5L1123.0 530.5L1124.5 530.4L1126.0 530.4L1127.5 530.4L1129.0 530.4L1130.5 530.4L1132.0 530.4L1133.5 530.5L1135.0 530.5L1136.5 529.6L1138.0 528.7L1139.5 527.8L1141.0 526.1L1142.5 525.8L1144.0 525.8L1145.5 525.8L1147.0 525.8L1148.5 525.8L1150.0 525.8L1151.5 525.8L1153.0 525.8L1154.5 525.8L1156.0 525.8L1157.5 525.8L1159.0 525.8L1160.5 525.8L1162.0 525.8L1163.5 525.8L1165.0 525.8L1166.5 525.8L1168.0 525.8L1169.5 525.8L1171.0 525.8L1172.5 525.8L1174.0 525.8L1175.5 525.8L1177.0 525.8L1178.5 525.8L1180.0 525.8L1181.5 525.8L1183.0 525.8L1184.5 525.8L1186.0 525.8L1187.5 525.8L1189.0 525.9L1190.5 525.9L1192.0 525.9L1193.5 525.9L1195.0 525.9L1196.5 525.9L1198.0 525.9L1199.5 525.9L1201.0 525.9L1202.5 525.9L1204.0 525.9L1205.5 525.9L1207.0 525.9L1208.5 525.9L1210.0 525.9L1211.5 525.9L1213.0 525.9L1214.5 525.9L1216.0 525.9L1217.5 525.9L1219.0 525.9L1220.5 525.9L1222.0 525.9L1223.5 525.9L1225.0 525.9L1226.5 525.9L1228.0 525.9L1229.5 525.9L1231.0 525.9L1232.5 526.0L1234.0 526.0L1235.5 526.0L1237.0 526.0L1238.5 526.0L1240.0 526.0L1241.5 526.0L1243.0 526.0L1244.5 526.0L1246.0 526.0L1247.5 526.0L1249.0 526.0L1250.5 526.0L1252.0 526.0L1253.5 526.0L1255.0 526.0L1256.5 526.0L1258.0 526.0L1259.5 526.0L1261.0 526.0L1262.5 526.0L1264.0 526.0L1265.5 526.0L1267.0 526.0L1268.5 526.0L1270.0 526.0L1271.5 526.0L1273.0 526.0L1274.5 526.0L1276.0 526.0L1277.5 526.0L1279.0 526.0L1280.5 526.0L1282.0 526.0L1283.5 526.1L1285.0 526.1L1286.5 526.0L1288.0 526.0L1289.5 526.0L1291.0 526.0L1292.5 526.0L1294.0 526.0L1295.5 526.0L1297.0 526.0L1298.5 526.0L1300.0 526.1L1301.5 526.1L1303.0 526.1L1304.5 526.1L1306.0 526.0L1307.5 526.0L1309.0 526.1L1310.5 526.1L1312.0 526.1L1313.5 526.1L1315.0 526.1L1316.5 526.1L1318.0 526.1L1319.5 526.1L1321.0 526.0L1322.5 526.1L1324.0 526.1L1325.5 526.1L1327.0 526.1L1328.5 526.1L1330.0 526.1L1331.5 526.1L1333.0 526.1L1334.5 526.1L1336.0 526.1L1337.5 526.1L1339.0 526.1L1340.5 526.1L1342.0 526.1L1343.5 526.1L1345.0 526.1L1346.5 526.1L1348.0 526.1L1349.5 526.1L1351.0 526.1L1352.5 526.1L1354.0 526.1L1355.5 526.1L1357.0 526.1L1358.5 526.1L1360.0 526.1L1361.5 526.1L1363.0 526.1L1364.5 526.1L1366.0 526.1L1367.5 526.1L1369.0 526.1L1370.5 526.1L1372.0 526.1L1373.5 526.1L1375.0 526.1L1376.5 526.1L1378.0 526.1L1379.5 526.1L1381.0 526.1L1382.5 526.2L1384.0 526.1L1385.5 526.1L1387.0 526.1L1388.5 526.1L1390.0 526.1L1391.5 526.1L1393.0 526.1L1394.5 526.2L1396.0 526.2L1397.5 526.2L1399.0 526.1L1400.5 526.1L1402.0 526.1L1403.5 526.2L1405.0 526.2L1406.5 526.2L1408.0 526.2L1409.5 526.2L1411.0 526.2L1412.5 526.2L1414.0 526.2L1415.5 526.2L1417.0 526.2L1418.5 526.2L1420.0 526.2L1421.5 526.2L1423.0 526.2L1424.5 526.2L1426.0 526.2L1427.5 526.2L1429.0 526.2L1430.5 526.2L1432.0 526.2L1433.5 526.2L1435.0 526.2L1436.5 526.2L1438.0 526.2L1439.5 526.2L1441.0 526.2L1442.5 526.2L1444.0 526.2L1445.5 526.2L1447.0 526.2L1448.5 526.2L1450.0 526.2L1451.5 526.2L1453.0 526.2L1454.5 526.2L1456.0 526.2L1457.5 526.2L1459.0 526.2L1460.5 526.2L1462.0 526.2L1463.5 526.2L1465.0 526.2L1466.5 526.2L1468.0 526.2L1469.5 526.3L1471.0 526.3L1472.5 526.3L1474.0 526.3L1475.5 526.3L1477.0 526.5L1478.5 526.7L1480.0 526.9L1481.5 527.2L1483.0 527.4L1484.5 527.6L1486.0 527.7L1487.5 528.0L1489.0 528.1L1490.5 528.2L1492.0 528.4L1493.5 528.4L1495.0 528.5L1496.5 528.5L1498.0 528.6L1499.5 528.7L1501.0 528.9L1502.5 529.0L1504.0 529.2L1505.5 529.3L1507.0 529.5L1508.5 529.6L1510.0 529.8L1511.5 529.9L1513.0 530.1L1514.5 530.2L1516.0 530.4L1517.5 530.5L1519.0 530.6L1520.5 530.7L1522.0 530.9L1523.5 531.1L1525.0 531.3L1526.5 531.5L1528.0 531.7L1529.5 531.9L1531.0 532.1L1532.5 532.3L1534.0 532.5L1535.5 532.7L1537.0 532.9L1538.5 533.0L1540.0 533.1L1541.5 533.1L1543.0 533.2L1544.5 533.3L1546.0 533.4L1547.5 533.5L1549.0 533.5L1550.5 533.5L1552.0 533.5L1553.5 533.5L1555.0 533.5L1556.5 533.4L1558.0 533.4L1559.5 533.4L1561.0 533.3L1562.5 533.3L1564.0 533.3L1565.5 533.2L1567.0 533.2L1568.5 533.2L1570.0 533.2L1571.5 533.2L1573.0 533.2L1574.5 533.1L1576.0 533.0L1576.3 533.0L1576.3 525.6Z" fill="#0030a4"/>
<path d="M565.0 543.0L566.5 542.5L568.0 541.7L569.5 541.3L571.0 541.3L572.5 540.9L574.0 540.6L575.5 540.1L577.0 540.1L578.5 540.8L580.0 541.3L581.5 541.4L583.0 541.5L584.5 541.3L586.0 540.9L587.5 540.7L589.0 540.4L590.5 540.3L592.0 540.4L593.5 540.2L595.0 540.0L596.5 539.8L598.0 539.2L599.5 539.0L601.0 538.8L602.5 538.8L604.0 539.2L605.5 539.7L607.0 540.6L608.5 541.2L610.0 541.8L611.5 542.0L613.0 541.9L614.5 542.0L616.0 541.8L617.5 541.5L619.0 541.3L620.5 541.0L622.0 541.1L623.5 540.8L625.0 540.0L626.5 539.4L628.0 538.9L629.5 538.4L631.0 539.4L632.5 540.9L634.0 542.1L635.5 542.8L637.0 541.7L638.5 540.9L640.0 540.3L641.5 539.7L643.0 539.3L644.5 539.0L646.0 538.9L647.5 538.5L649.0 539.1L650.5 539.6L652.0 540.4L653.5 541.3L655.0 542.3L656.5 542.5L658.0 542.4L659.5 542.4L661.0 542.4L662.5 542.7L664.0 542.8L665.5 543.3L667.0 545.0L668.5 546.9L670.0 547.3L671.5 547.4L673.0 547.1L674.5 546.7L676.0 546.2L677.5 545.9L679.0 545.8L680.5 545.6L682.0 546.0L683.5 546.5L685.0 547.1L686.5 547.1L688.0 546.8L689.5 546.6L691.0 546.1L692.5 545.9L694.0 545.5L695.5 545.1L697.0 545.2L698.5 545.2L700.0 545.3L701.5 545.5L703.0 545.6L704.5 545.8L706.0 545.9L707.5 546.0L709.0 546.0L710.5 545.8L712.0 545.5L713.5 545.1L715.0 545.0L716.5 545.0L718.0 546.4L719.5 547.7L721.0 548.0L722.5 547.9L724.0 548.0L725.5 548.0L727.0 547.9L728.5 547.4L730.0 546.8L731.5 546.7L733.0 546.9L734.5 547.4L736.0 547.5L737.5 547.1L739.0 546.8L740.5 546.9L742.0 547.4L743.5 547.6L745.0 547.4L746.5 547.1L748.0 546.8L749.5 546.9L751.0 546.7L752.5 546.8L754.0 547.1L755.5 547.1L757.0 547.1L758.5 546.9L760.0 546.8L761.5 546.9L763.0 546.8L764.5 546.8L766.0 546.7L767.5 546.9L769.0 547.1L770.5 547.2L772.0 547.2L773.5 547.3L775.0 547.5L776.5 547.8L778.0 547.9L779.5 547.7L781.0 547.5L782.5 547.2L784.0 547.1L785.5 547.1L787.0 547.1L788.5 547.1L790.0 547.0L791.5 546.9L793.0 546.7L794.5 546.9L796.0 547.0L797.5 546.9L799.0 546.7L800.5 546.2L802.0 546.3L803.5 546.6L805.0 546.7L806.5 546.7L808.0 546.4L809.5 546.2L811.0 546.5L812.5 546.7L814.0 546.8L815.5 546.8L817.0 546.8L818.5 547.0L820.0 547.2L821.5 547.6L823.0 547.7L824.5 547.4L826.0 546.9L827.5 546.7L829.0 546.9L830.5 547.2L832.0 547.7L833.5 547.9L835.0 548.3L836.5 548.5L838.0 548.2L839.5 548.0L841.0 547.5L842.5 547.3L844.0 547.2L845.5 547.1L847.0 547.3L848.5 547.3L850.0 547.2L851.5 547.0L853.0 546.9L854.5 547.2L856.0 547.6L857.5 547.5L859.0 547.4L860.5 547.2L862.0 547.0L863.5 547.2L865.0 547.0L866.5 545.0L868.0 543.2L869.5 541.4L871.0 541.0L872.5 541.0L874.0 541.2L875.5 541.3L877.0 541.5L878.5 541.3L880.0 541.1L881.5 540.9L883.0 540.8L884.5 540.9L886.0 540.8L887.5 540.5L889.0 540.4L890.5 539.9L892.0 539.5L893.5 539.1L895.0 538.7L896.5 538.3L898.0 537.8L899.5 537.6L901.0 537.3L902.5 537.4L904.0 537.3L905.5 537.3L907.0 537.2L908.5 537.3L910.0 537.3L911.5 537.4L913.0 537.7L914.5 537.6L916.0 537.5L917.5 537.5L919.0 537.5L920.5 537.5L922.0 537.2L923.5 536.8L925.0 536.8L926.5 536.7L928.0 536.7L929.5 536.6L931.0 536.5L932.5 536.6L934.0 536.6L935.5 536.4L937.0 535.9L938.5 535.5L940.0 535.0L941.5 535.5L943.0 536.1L944.5 536.6L946.0 537.7L947.5 538.3L949.0 538.9L950.5 539.1L952.0 539.2L953.5 539.6L955.0 539.7L956.5 539.3L958.0 538.8L959.5 539.2L961.0 539.8L962.5 540.0L964.0 540.3L965.5 540.5L967.0 540.9L968.5 538.9L970.0 538.0L971.5 539.3L973.0 540.7L974.5 540.9L976.0 540.4L977.5 539.9L979.0 539.3L980.5 539.5L982.0 539.6L983.5 540.1L985.0 540.5L986.5 541.2L988.0 541.5L989.5 541.8L991.0 542.0L992.5 541.3L994.0 540.6L995.5 540.9L997.0 541.8L998.5 542.8L1000.0 543.3L1001.5 543.5L1003.0 543.7L1004.5 543.0L1006.0 542.6L1007.5 542.4L1009.0 543.3L1010.5 544.6L1012.0 545.3L1013.5 546.1L1015.0 546.9L1016.5 548.3L1018.0 549.5L1019.5 550.6L1021.0 550.2L1022.5 549.1L1024.0 548.1L1025.5 546.8L1027.0 545.7L1028.5 544.8L1030.0 544.1L1031.5 543.8L1033.0 544.3L1034.5 546.9L1036.0 549.4L1037.5 551.5L1039.0 553.3L1040.5 552.4L1042.0 551.0L1043.5 551.0L1045.0 551.8L1046.5 553.3L1048.0 554.8L1049.5 554.9L1051.0 554.4L1052.5 553.7L1054.0 553.3L1055.5 553.0L1057.0 552.4L1058.5 551.6L1060.0 550.8L1061.5 550.2L1063.0 549.7L1064.5 548.7L1066.0 547.9L1067.5 548.5L1069.0 548.9L1070.5 549.8L1072.0 550.3L1073.5 550.7L1075.0 549.1L1076.5 547.9L1078.0 548.8L1079.5 549.5L1081.0 549.6L1082.5 549.1L1084.0 548.8L1085.5 548.6L1086.7 548.5L1089.7 530.5L1091.5 530.5L1093.0 530.5L1094.5 530.5L1096.0 530.5L1097.5 530.5L1099.0 530.5L1100.5 530.5L1102.0 530.5L1103.5 530.5L1105.0 530.5L1106.5 530.5L1108.0 530.5L1109.5 530.5L1111.0 530.5L1112.5 530.5L1114.0 530.5L1115.5 530.5L1117.0 530.5L1118.5 530.6L1120.0 530.6L1121.5 530.5L1123.0 530.5L1124.5 530.4L1126.0 530.4L1127.5 530.4L1129.0 530.4L1130.5 530.4L1132.0 530.4L1133.5 530.5L1135.0 530.5L1136.5 529.6L1138.0 528.7L1139.5 527.8L1141.0 526.1L1142.5 525.8L1144.0 525.8L1145.5 525.8L1147.0 525.8L1148.5 525.8L1150.0 525.8L1151.5 525.8L1153.0 525.8L1154.5 525.8L1156.0 525.8L1157.5 525.8L1159.0 525.8L1160.5 525.8L1162.0 525.8L1163.5 525.8L1165.0 525.8L1166.5 525.8L1168.0 525.8L1169.5 525.8L1171.0 525.8L1172.5 525.8L1174.0 525.8L1175.5 525.8L1177.0 525.8L1178.5 525.8L1180.0 525.8L1181.5 525.8L1183.0 525.8L1184.5 525.8L1186.0 525.8L1187.5 525.8L1189.0 525.9L1190.5 525.9L1192.0 525.9L1193.5 525.9L1195.0 525.9L1196.5 525.9L1198.0 525.9L1199.5 525.9L1201.0 525.9L1202.5 525.9L1204.0 525.9L1205.5 525.9L1207.0 525.9L1208.5 525.9L1210.0 525.9L1211.5 525.9L1213.0 525.9L1214.5 525.9L1216.0 525.9L1217.5 525.9L1219.0 525.9L1220.5 525.9L1222.0 525.9L1223.5 525.9L1225.0 525.9L1226.5 525.9L1228.0 525.9L1229.5 525.9L1231.0 525.9L1232.5 526.0L1234.0 526.0L1235.5 526.0L1237.0 526.0L1238.5 526.0L1240.0 526.0L1241.5 526.0L1243.0 526.0L1244.5 526.0L1246.0 526.0L1247.5 526.0L1249.0 526.0L1250.5 526.0L1252.0 526.0L1253.5 526.0L1255.0 526.0L1256.5 526.0L1258.0 526.0L1259.5 526.0L1261.0 526.0L1262.5 526.0L1264.0 526.0L1265.5 526.0L1267.0 526.0L1268.5 526.0L1270.0 526.0L1271.5 526.0L1273.0 526.0L1274.5 526.0L1276.0 526.0L1277.5 526.0L1279.0 526.0L1280.5 526.0L1282.0 526.0L1283.5 526.1L1285.0 526.1L1286.5 526.0L1288.0 526.0L1289.5 526.0L1291.0 526.0L1292.5 526.0L1294.0 526.0L1295.5 526.0L1297.0 526.0L1298.5 526.0L1300.0 526.1L1301.5 526.1L1303.0 526.1L1304.5 526.1L1306.0 526.0L1307.5 526.0L1309.0 526.1L1310.5 526.1L1312.0 526.1L1313.5 526.1L1315.0 526.1L1316.5 526.1L1318.0 526.1L1319.5 526.1L1321.0 526.0L1322.5 526.1L1324.0 526.1L1325.5 526.1L1327.0 526.1L1328.5 526.1L1330.0 526.1L1331.5 526.1L1333.0 526.1L1334.5 526.1L1336.0 526.1L1337.5 526.1L1339.0 526.1L1340.5 526.1L1342.0 526.1L1343.5 526.1L1345.0 526.1L1346.5 526.1L1348.0 526.1L1349.5 526.1L1351.0 526.1L1352.5 526.1L1354.0 526.1L1355.5 526.1L1357.0 526.1L1358.5 526.1L1360.0 526.1L1361.5 526.1L1363.0 526.1L1364.5 526.1L1366.0 526.1L1367.5 526.1L1369.0 526.1L1370.5 526.1L1372.0 526.1L1373.5 526.1L1375.0 526.1L1376.5 526.1L1378.0 526.1L1379.5 526.1L1381.0 526.1L1382.5 526.2L1384.0 526.1L1385.5 526.1L1387.0 526.1L1388.5 526.1L1390.0 526.1L1391.5 526.1L1393.0 526.1L1394.5 526.2L1396.0 526.2L1397.5 526.2L1399.0 526.1L1400.5 526.1L1402.0 526.1L1403.5 526.2L1405.0 526.2L1406.5 526.2L1408.0 526.2L1409.5 526.2L1411.0 526.2L1412.5 526.2L1414.0 526.2L1415.5 526.2L1417.0 526.2L1418.5 526.2L1420.0 526.2L1421.5 526.2L1423.0 526.2L1424.5 526.2L1426.0 526.2L1427.5 526.2L1429.0 526.2L1430.5 526.2L1432.0 526.2L1433.5 526.2L1435.0 526.2L1436.5 526.2L1438.0 526.2L1439.5 526.2L1441.0 526.2L1442.5 526.2L1444.0 526.2L1445.5 526.2L1447.0 526.2L1448.5 526.2L1450.0 526.2L1451.5 526.2L1453.0 526.2L1454.5 526.2L1456.0 526.2L1457.5 526.2L1459.0 526.2L1460.5 526.2L1462.0 526.2L1463.5 526.2L1465.0 526.2L1466.5 526.2L1468.0 526.2L1469.5 526.3L1471.0 526.3L1472.5 526.3L1474.0 526.3L1475.5 526.3L1477.0 526.5L1478.5 526.7L1480.0 526.9L1481.5 527.2L1483.0 527.4L1484.5 527.6L1486.0 527.7L1487.5 528.0L1489.0 528.1L1490.5 528.2L1492.0 528.4L1493.5 528.4L1495.0 528.5L1496.5 528.5L1498.0 528.6L1499.5 528.7L1501.0 528.9L1502.5 529.0L1504.0 529.2L1505.5 529.3L1507.0 529.5L1508.5 529.6L1510.0 529.8L1511.5 529.9L1513.0 530.1L1514.5 530.2L1516.0 530.4L1517.5 530.5L1519.0 530.6L1520.5 530.7L1522.0 530.9L1523.5 531.1L1525.0 531.3L1526.5 531.5L1528.0 531.7L1529.5 531.9L1531.0 532.1L1532.5 532.3L1534.0 532.5L1535.5 532.7L1537.0 532.9L1538.5 533.0L1540.0 533.1L1541.5 533.1L1543.0 533.2L1544.5 533.3L1546.0 533.4L1547.5 533.5L1549.0 533.5L1550.5 533.5L1552.0 533.5L1553.5 533.5L1555.0 533.5L1556.5 533.4L1558.0 533.4L1559.5 533.4L1561.0 533.3L1562.5 533.3L1564.0 533.3L1565.5 533.2L1567.0 533.2L1568.5 533.2L1570.0 533.2L1571.5 533.2L1573.0 533.2L1574.5 533.1L1576.0 533.0L1576.3 533.0" fill="none" stroke="#505656" stroke-width="1.05" stroke-opacity="0.80"/>
<path d="M565.0 525.6L565.0 527.5L566.5 527.5L568.0 527.5L569.5 527.4L571.0 527.5L572.5 527.5L574.0 527.5L575.5 527.5L577.0 527.5L578.5 527.5L580.0 527.6L581.5 527.5L583.0 527.5L584.5 527.5L586.0 527.4L587.5 527.4L589.0 527.4L590.5 527.4L592.0 527.5L593.5 527.5L595.0 527.5L596.5 527.5L598.0 527.5L599.5 527.6L601.0 527.5L602.5 527.4L604.0 527.4L605.5 527.4L607.0 527.5L608.5 527.5L610.0 527.5L611.5 527.5L613.0 527.4L614.5 527.4L616.0 527.3L617.5 527.4L619.0 527.5L620.5 527.5L622.0 527.5L623.5 527.5L625.0 527.6L626.5 527.7L628.0 527.7L629.5 527.6L631.0 527.5L632.5 527.5L634.0 527.6L635.5 527.6L637.0 527.7L638.5 527.6L640.0 527.7L641.5 527.7L643.0 527.9L644.5 528.0L646.0 528.1L647.5 528.2L649.0 528.5L650.5 528.6L652.0 528.7L653.5 528.8L655.0 529.0L656.5 529.1L658.0 529.2L659.5 529.2L661.0 529.3L662.5 529.6L664.0 529.8L665.5 530.0L667.0 530.1L668.5 530.2L670.0 530.2L671.5 530.3L673.0 530.4L674.5 530.4L676.0 530.4L677.5 530.4L679.0 530.3L680.5 530.3L682.0 530.3L683.5 530.3L685.0 530.5L686.5 530.6L688.0 530.7L689.5 530.8L691.0 530.8L692.5 530.7L694.0 530.6L695.5 530.6L697.0 530.6L698.5 530.7L700.0 530.7L701.5 530.7L703.0 530.7L704.5 530.8L706.0 530.8L707.5 530.8L709.0 530.8L710.5 530.8L712.0 530.9L713.5 531.0L715.0 531.2L716.5 531.3L718.0 531.4L719.5 531.3L721.0 531.2L722.5 531.3L724.0 531.4L725.5 531.5L727.0 531.5L728.5 531.5L730.0 531.5L731.5 531.4L733.0 531.4L734.5 531.4L736.0 531.4L737.5 531.3L739.0 531.3L740.5 531.4L742.0 531.4L743.5 531.5L745.0 531.4L746.5 531.5L748.0 531.4L749.5 531.4L751.0 531.5L752.5 531.5L754.0 531.6L755.5 531.6L757.0 531.5L758.5 531.4L760.0 531.3L761.5 531.4L763.0 531.4L764.5 531.5L766.0 531.5L767.5 531.6L769.0 531.6L770.5 531.6L772.0 531.6L773.5 531.6L775.0 531.5L776.5 531.6L778.0 531.6L779.5 531.5L781.0 531.5L782.5 531.5L784.0 531.5L785.5 531.5L787.0 531.4L788.5 531.4L790.0 531.5L791.5 531.5L793.0 531.4L794.5 531.4L796.0 531.4L797.5 531.5L799.0 531.5L800.5 531.5L802.0 531.5L803.5 531.5L805.0 531.6L806.5 531.7L808.0 531.6L809.5 531.6L811.0 531.6L812.5 531.6L814.0 531.6L815.5 531.6L817.0 531.7L818.5 531.7L820.0 531.7L821.5 531.6L823.0 531.5L824.5 531.4L826.0 531.4L827.5 531.5L829.0 531.5L830.5 531.5L832.0 531.6L833.5 531.6L835.0 531.7L836.5 531.8L838.0 531.7L839.5 531.6L841.0 531.6L842.5 531.6L844.0 531.6L845.5 531.4L847.0 531.3L848.5 531.3L850.0 531.4L851.5 531.4L853.0 531.5L854.5 531.5L856.0 531.5L857.5 531.5L859.0 531.5L860.5 531.5L862.0 531.5L863.5 531.5L865.0 531.5L866.5 531.5L868.0 531.4L869.5 531.5L871.0 531.6L872.5 531.5L874.0 531.4L875.5 531.4L877.0 531.4L878.5 531.5L880.0 531.5L881.5 531.5L883.0 531.4L884.5 531.5L886.0 531.3L887.5 530.9L889.0 530.5L890.5 530.1L892.0 529.7L893.5 529.3L895.0 529.0L896.5 528.6L898.0 528.3L899.5 528.2L901.0 528.2L902.5 528.2L904.0 528.2L905.5 528.1L907.0 528.0L908.5 528.0L910.0 527.9L911.5 527.9L913.0 527.9L914.5 528.0L916.0 528.0L917.5 528.0L919.0 528.0L920.5 528.0L922.0 528.1L923.5 528.1L925.0 528.0L926.5 528.0L928.0 528.0L929.5 528.0L931.0 528.0L932.5 528.1L934.0 528.0L935.5 528.0L937.0 528.0L938.5 528.0L940.0 528.0L941.5 528.1L943.0 528.3L944.5 528.5L946.0 528.7L947.5 528.9L949.0 529.1L950.5 529.3L952.0 529.4L953.5 529.6L955.0 529.7L956.5 529.9L958.0 530.1L959.5 530.2L961.0 530.4L962.5 530.6L964.0 530.7L965.5 530.9L967.0 531.0L968.5 531.3L970.0 531.5L971.5 531.8L973.0 532.1L974.5 532.2L976.0 532.2L977.5 532.3L979.0 532.4L980.5 532.5L982.0 532.5L983.5 532.6L985.0 532.5L986.5 532.5L988.0 532.5L989.5 532.7L991.0 532.9L992.5 533.0L994.0 533.0L995.5 533.0L997.0 533.5L998.5 534.3L1000.0 535.2L1001.5 535.9L1003.0 536.5L1004.5 537.4L1006.0 538.2L1007.5 538.9L1009.0 539.6L1010.5 540.2L1012.0 541.0L1013.5 541.7L1015.0 542.2L1016.5 542.8L1018.0 543.1L1019.5 543.2L1021.0 543.3L1022.5 543.4L1024.0 543.4L1025.5 543.4L1027.0 543.4L1028.5 543.3L1030.0 543.4L1031.5 543.4L1033.0 543.4L1034.5 543.6L1036.0 543.6L1037.5 543.7L1039.0 543.8L1040.5 543.8L1042.0 543.8L1043.5 543.9L1045.0 543.8L1046.5 543.9L1048.0 543.9L1049.5 543.9L1051.0 543.9L1052.5 543.8L1054.0 543.9L1055.5 543.9L1057.0 543.9L1058.5 543.9L1060.0 544.0L1061.5 544.0L1063.0 544.0L1064.5 544.0L1066.0 544.0L1067.5 544.1L1069.0 544.1L1070.5 544.1L1072.0 544.1L1073.5 544.1L1075.0 544.2L1076.5 544.2L1078.0 544.2L1079.5 544.1L1081.0 544.1L1082.5 544.2L1084.0 544.2L1085.5 544.4L1086.7 544.4L1089.7 530.5L1091.5 530.5L1093.0 530.5L1094.5 530.5L1096.0 530.5L1097.5 530.5L1099.0 530.5L1100.5 530.5L1102.0 530.5L1103.5 530.5L1105.0 530.5L1106.5 530.5L1108.0 530.5L1109.5 530.5L1111.0 530.5L1112.5 530.5L1114.0 530.5L1115.5 530.5L1117.0 530.5L1118.5 530.6L1120.0 530.6L1121.5 530.5L1123.0 530.5L1124.5 530.4L1126.0 530.4L1127.5 530.4L1129.0 530.4L1130.5 530.4L1132.0 530.4L1133.5 530.5L1135.0 530.5L1136.5 529.6L1138.0 528.7L1139.5 527.8L1141.0 526.1L1142.5 525.8L1144.0 525.8L1145.5 525.8L1147.0 525.8L1148.5 525.8L1150.0 525.8L1151.5 525.8L1153.0 525.8L1154.5 525.8L1156.0 525.8L1157.5 525.8L1159.0 525.8L1160.5 525.8L1162.0 525.8L1163.5 525.8L1165.0 525.8L1166.5 525.8L1168.0 525.8L1169.5 525.8L1171.0 525.8L1172.5 525.8L1174.0 525.8L1175.5 525.8L1177.0 525.8L1178.5 525.8L1180.0 525.8L1181.5 525.8L1183.0 525.8L1184.5 525.8L1186.0 525.8L1187.5 525.8L1189.0 525.9L1190.5 525.9L1192.0 525.9L1193.5 525.9L1195.0 525.9L1196.5 525.9L1198.0 525.9L1199.5 525.9L1201.0 525.9L1202.5 525.9L1204.0 525.9L1205.5 525.9L1207.0 525.9L1208.5 525.9L1210.0 525.9L1211.5 525.9L1213.0 525.9L1214.5 525.9L1216.0 525.9L1217.5 525.9L1219.0 525.9L1220.5 525.9L1222.0 525.9L1223.5 525.9L1225.0 525.9L1226.5 525.9L1228.0 525.9L1229.5 525.9L1231.0 525.9L1232.5 526.0L1234.0 526.0L1235.5 526.0L1237.0 526.0L1238.5 526.0L1240.0 526.0L1241.5 526.0L1243.0 526.0L1244.5 526.0L1246.0 526.0L1247.5 526.0L1249.0 526.0L1250.5 526.0L1252.0 526.0L1253.5 526.0L1255.0 526.0L1256.5 526.0L1258.0 526.0L1259.5 526.0L1261.0 526.0L1262.5 526.0L1264.0 526.0L1265.5 526.0L1267.0 526.0L1268.5 526.0L1270.0 526.0L1271.5 526.0L1273.0 526.0L1274.5 526.0L1276.0 526.0L1277.5 526.0L1279.0 526.0L1280.5 526.0L1282.0 526.0L1283.5 526.1L1285.0 526.1L1286.5 526.0L1288.0 526.0L1289.5 526.0L1291.0 526.0L1292.5 526.0L1294.0 526.0L1295.5 526.0L1297.0 526.0L1298.5 526.0L1300.0 526.1L1301.5 526.1L1303.0 526.1L1304.5 526.1L1306.0 526.0L1307.5 526.0L1309.0 526.1L1310.5 526.1L1312.0 526.1L1313.5 526.1L1315.0 526.1L1316.5 526.1L1318.0 526.1L1319.5 526.1L1321.0 526.0L1322.5 526.1L1324.0 526.1L1325.5 526.1L1327.0 526.1L1328.5 526.1L1330.0 526.1L1331.5 526.1L1333.0 526.1L1334.5 526.1L1336.0 526.1L1337.5 526.1L1339.0 526.1L1340.5 526.1L1342.0 526.1L1343.5 526.1L1345.0 526.1L1346.5 526.1L1348.0 526.1L1349.5 526.1L1351.0 526.1L1352.5 526.1L1354.0 526.1L1355.5 526.1L1357.0 526.1L1358.5 526.1L1360.0 526.1L1361.5 526.1L1363.0 526.1L1364.5 526.1L1366.0 526.1L1367.5 526.1L1369.0 526.1L1370.5 526.1L1372.0 526.1L1373.5 526.1L1375.0 526.1L1376.5 526.1L1378.0 526.1L1379.5 526.1L1381.0 526.1L1382.5 526.2L1384.0 526.1L1385.5 526.1L1387.0 526.1L1388.5 526.1L1390.0 526.1L1391.5 526.1L1393.0 526.1L1394.5 526.2L1396.0 526.2L1397.5 526.2L1399.0 526.1L1400.5 526.1L1402.0 526.1L1403.5 526.2L1405.0 526.2L1406.5 526.2L1408.0 526.2L1409.5 526.2L1411.0 526.2L1412.5 526.2L1414.0 526.2L1415.5 526.2L1417.0 526.2L1418.5 526.2L1420.0 526.2L1421.5 526.2L1423.0 526.2L1424.5 526.2L1426.0 526.2L1427.5 526.2L1429.0 526.2L1430.5 526.2L1432.0 526.2L1433.5 526.2L1435.0 526.2L1436.5 526.2L1438.0 526.2L1439.5 526.2L1441.0 526.2L1442.5 526.2L1444.0 526.2L1445.5 526.2L1447.0 526.2L1448.5 526.2L1450.0 526.2L1451.5 526.2L1453.0 526.2L1454.5 526.2L1456.0 526.2L1457.5 526.2L1459.0 526.2L1460.5 526.2L1462.0 526.2L1463.5 526.2L1465.0 526.2L1466.5 526.2L1468.0 526.2L1469.5 526.3L1471.0 526.3L1472.5 526.3L1474.0 526.3L1475.5 526.3L1477.0 526.5L1478.5 526.7L1480.0 526.9L1481.5 527.2L1483.0 527.4L1484.5 527.6L1486.0 527.7L1487.5 528.0L1489.0 528.1L1490.5 528.2L1492.0 528.4L1493.5 528.4L1495.0 528.5L1496.5 528.5L1498.0 528.6L1499.5 528.7L1501.0 528.9L1502.5 529.0L1504.0 529.2L1505.5 529.3L1507.0 529.5L1508.5 529.6L1510.0 529.8L1511.5 529.9L1513.0 530.1L1514.5 530.2L1516.0 530.4L1517.5 530.5L1519.0 530.6L1520.5 530.7L1522.0 530.9L1523.5 531.1L1525.0 531.3L1526.5 531.5L1528.0 531.7L1529.5 531.9L1531.0 532.1L1532.5 532.3L1534.0 532.5L1535.5 532.7L1537.0 532.9L1538.5 533.0L1540.0 533.1L1541.5 533.1L1543.0 533.2L1544.5 533.3L1546.0 533.4L1547.5 533.5L1549.0 533.5L1550.5 533.5L1552.0 533.5L1553.5 533.5L1555.0 533.5L1556.5 533.4L1558.0 533.4L1559.5 533.4L1561.0 533.3L1562.5 533.3L1564.0 533.3L1565.5 533.2L1567.0 533.2L1568.5 533.2L1570.0 533.2L1571.5 533.2L1573.0 533.2L1574.5 533.1L1576.0 533.0L1576.3 533.0L1576.3 525.6Z" fill="#3973b8"/>
<path d="M565.0 527.5L566.5 527.5L568.0 527.5L569.5 527.4L571.0 527.5L572.5 527.5L574.0 527.5L575.5 527.5L577.0 527.5L578.5 527.5L580.0 527.6L581.5 527.5L583.0 527.5L584.5 527.5L586.0 527.4L587.5 527.4L589.0 527.4L590.5 527.4L592.0 527.5L593.5 527.5L595.0 527.5L596.5 527.5L598.0 527.5L599.5 527.6L601.0 527.5L602.5 527.4L604.0 527.4L605.5 527.4L607.0 527.5L608.5 527.5L610.0 527.5L611.5 527.5L613.0 527.4L614.5 527.4L616.0 527.3L617.5 527.4L619.0 527.5L620.5 527.5L622.0 527.5L623.5 527.5L625.0 527.6L626.5 527.7L628.0 527.7L629.5 527.6L631.0 527.5L632.5 527.5L634.0 527.6L635.5 527.6L637.0 527.7L638.5 527.6L640.0 527.7L641.5 527.7L643.0 527.9L644.5 528.0L646.0 528.1L647.5 528.2L649.0 528.5L650.5 528.6L652.0 528.7L653.5 528.8L655.0 529.0L656.5 529.1L658.0 529.2L659.5 529.2L661.0 529.3L662.5 529.6L664.0 529.8L665.5 530.0L667.0 530.1L668.5 530.2L670.0 530.2L671.5 530.3L673.0 530.4L674.5 530.4L676.0 530.4L677.5 530.4L679.0 530.3L680.5 530.3L682.0 530.3L683.5 530.3L685.0 530.5L686.5 530.6L688.0 530.7L689.5 530.8L691.0 530.8L692.5 530.7L694.0 530.6L695.5 530.6L697.0 530.6L698.5 530.7L700.0 530.7L701.5 530.7L703.0 530.7L704.5 530.8L706.0 530.8L707.5 530.8L709.0 530.8L710.5 530.8L712.0 530.9L713.5 531.0L715.0 531.2L716.5 531.3L718.0 531.4L719.5 531.3L721.0 531.2L722.5 531.3L724.0 531.4L725.5 531.5L727.0 531.5L728.5 531.5L730.0 531.5L731.5 531.4L733.0 531.4L734.5 531.4L736.0 531.4L737.5 531.3L739.0 531.3L740.5 531.4L742.0 531.4L743.5 531.5L745.0 531.4L746.5 531.5L748.0 531.4L749.5 531.4L751.0 531.5L752.5 531.5L754.0 531.6L755.5 531.6L757.0 531.5L758.5 531.4L760.0 531.3L761.5 531.4L763.0 531.4L764.5 531.5L766.0 531.5L767.5 531.6L769.0 531.6L770.5 531.6L772.0 531.6L773.5 531.6L775.0 531.5L776.5 531.6L778.0 531.6L779.5 531.5L781.0 531.5L782.5 531.5L784.0 531.5L785.5 531.5L787.0 531.4L788.5 531.4L790.0 531.5L791.5 531.5L793.0 531.4L794.5 531.4L796.0 531.4L797.5 531.5L799.0 531.5L800.5 531.5L802.0 531.5L803.5 531.5L805.0 531.6L806.5 531.7L808.0 531.6L809.5 531.6L811.0 531.6L812.5 531.6L814.0 531.6L815.5 531.6L817.0 531.7L818.5 531.7L820.0 531.7L821.5 531.6L823.0 531.5L824.5 531.4L826.0 531.4L827.5 531.5L829.0 531.5L830.5 531.5L832.0 531.6L833.5 531.6L835.0 531.7L836.5 531.8L838.0 531.7L839.5 531.6L841.0 531.6L842.5 531.6L844.0 531.6L845.5 531.4L847.0 531.3L848.5 531.3L850.0 531.4L851.5 531.4L853.0 531.5L854.5 531.5L856.0 531.5L857.5 531.5L859.0 531.5L860.5 531.5L862.0 531.5L863.5 531.5L865.0 531.5L866.5 531.5L868.0 531.4L869.5 531.5L871.0 531.6L872.5 531.5L874.0 531.4L875.5 531.4L877.0 531.4L878.5 531.5L880.0 531.5L881.5 531.5L883.0 531.4L884.5 531.5L886.0 531.3L887.5 530.9L889.0 530.5L890.5 530.1L892.0 529.7L893.5 529.3L895.0 529.0L896.5 528.6L898.0 528.3L899.5 528.2L901.0 528.2L902.5 528.2L904.0 528.2L905.5 528.1L907.0 528.0L908.5 528.0L910.0 527.9L911.5 527.9L913.0 527.9L914.5 528.0L916.0 528.0L917.5 528.0L919.0 528.0L920.5 528.0L922.0 528.1L923.5 528.1L925.0 528.0L926.5 528.0L928.0 528.0L929.5 528.0L931.0 528.0L932.5 528.1L934.0 528.0L935.5 528.0L937.0 528.0L938.5 528.0L940.0 528.0L941.5 528.1L943.0 528.3L944.5 528.5L946.0 528.7L947.5 528.9L949.0 529.1L950.5 529.3L952.0 529.4L953.5 529.6L955.0 529.7L956.5 529.9L958.0 530.1L959.5 530.2L961.0 530.4L962.5 530.6L964.0 530.7L965.5 530.9L967.0 531.0L968.5 531.3L970.0 531.5L971.5 531.8L973.0 532.1L974.5 532.2L976.0 532.2L977.5 532.3L979.0 532.4L980.5 532.5L982.0 532.5L983.5 532.6L985.0 532.5L986.5 532.5L988.0 532.5L989.5 532.7L991.0 532.9L992.5 533.0L994.0 533.0L995.5 533.0L997.0 533.5L998.5 534.3L1000.0 535.2L1001.5 535.9L1003.0 536.5L1004.5 537.4L1006.0 538.2L1007.5 538.9L1009.0 539.6L1010.5 540.2L1012.0 541.0L1013.5 541.7L1015.0 542.2L1016.5 542.8L1018.0 543.1L1019.5 543.2L1021.0 543.3L1022.5 543.4L1024.0 543.4L1025.5 543.4L1027.0 543.4L1028.5 543.3L1030.0 543.4L1031.5 543.4L1033.0 543.4L1034.5 543.6L1036.0 543.6L1037.5 543.7L1039.0 543.8L1040.5 543.8L1042.0 543.8L1043.5 543.9L1045.0 543.8L1046.5 543.9L1048.0 543.9L1049.5 543.9L1051.0 543.9L1052.5 543.8L1054.0 543.9L1055.5 543.9L1057.0 543.9L1058.5 543.9L1060.0 544.0L1061.5 544.0L1063.0 544.0L1064.5 544.0L1066.0 544.0L1067.5 544.1L1069.0 544.1L1070.5 544.1L1072.0 544.1L1073.5 544.1L1075.0 544.2L1076.5 544.2L1078.0 544.2L1079.5 544.1L1081.0 544.1L1082.5 544.2L1084.0 544.2L1085.5 544.4L1086.7 544.4L1089.7 530.5L1091.5 530.5L1093.0 530.5L1094.5 530.5L1096.0 530.5L1097.5 530.5L1099.0 530.5L1100.5 530.5L1102.0 530.5L1103.5 530.5L1105.0 530.5L1106.5 530.5L1108.0 530.5L1109.5 530.5L1111.0 530.5L1112.5 530.5L1114.0 530.5L1115.5 530.5L1117.0 530.5L1118.5 530.6L1120.0 530.6L1121.5 530.5L1123.0 530.5L1124.5 530.4L1126.0 530.4L1127.5 530.4L1129.0 530.4L1130.5 530.4L1132.0 530.4L1133.5 530.5L1135.0 530.5L1136.5 529.6L1138.0 528.7L1139.5 527.8L1141.0 526.1L1142.5 525.8L1144.0 525.8L1145.5 525.8L1147.0 525.8L1148.5 525.8L1150.0 525.8L1151.5 525.8L1153.0 525.8L1154.5 525.8L1156.0 525.8L1157.5 525.8L1159.0 525.8L1160.5 525.8L1162.0 525.8L1163.5 525.8L1165.0 525.8L1166.5 525.8L1168.0 525.8L1169.5 525.8L1171.0 525.8L1172.5 525.8L1174.0 525.8L1175.5 525.8L1177.0 525.8L1178.5 525.8L1180.0 525.8L1181.5 525.8L1183.0 525.8L1184.5 525.8L1186.0 525.8L1187.5 525.8L1189.0 525.9L1190.5 525.9L1192.0 525.9L1193.5 525.9L1195.0 525.9L1196.5 525.9L1198.0 525.9L1199.5 525.9L1201.0 525.9L1202.5 525.9L1204.0 525.9L1205.5 525.9L1207.0 525.9L1208.5 525.9L1210.0 525.9L1211.5 525.9L1213.0 525.9L1214.5 525.9L1216.0 525.9L1217.5 525.9L1219.0 525.9L1220.5 525.9L1222.0 525.9L1223.5 525.9L1225.0 525.9L1226.5 525.9L1228.0 525.9L1229.5 525.9L1231.0 525.9L1232.5 526.0L1234.0 526.0L1235.5 526.0L1237.0 526.0L1238.5 526.0L1240.0 526.0L1241.5 526.0L1243.0 526.0L1244.5 526.0L1246.0 526.0L1247.5 526.0L1249.0 526.0L1250.5 526.0L1252.0 526.0L1253.5 526.0L1255.0 526.0L1256.5 526.0L1258.0 526.0L1259.5 526.0L1261.0 526.0L1262.5 526.0L1264.0 526.0L1265.5 526.0L1267.0 526.0L1268.5 526.0L1270.0 526.0L1271.5 526.0L1273.0 526.0L1274.5 526.0L1276.0 526.0L1277.5 526.0L1279.0 526.0L1280.5 526.0L1282.0 526.0L1283.5 526.1L1285.0 526.1L1286.5 526.0L1288.0 526.0L1289.5 526.0L1291.0 526.0L1292.5 526.0L1294.0 526.0L1295.5 526.0L1297.0 526.0L1298.5 526.0L1300.0 526.1L1301.5 526.1L1303.0 526.1L1304.5 526.1L1306.0 526.0L1307.5 526.0L1309.0 526.1L1310.5 526.1L1312.0 526.1L1313.5 526.1L1315.0 526.1L1316.5 526.1L1318.0 526.1L1319.5 526.1L1321.0 526.0L1322.5 526.1L1324.0 526.1L1325.5 526.1L1327.0 526.1L1328.5 526.1L1330.0 526.1L1331.5 526.1L1333.0 526.1L1334.5 526.1L1336.0 526.1L1337.5 526.1L1339.0 526.1L1340.5 526.1L1342.0 526.1L1343.5 526.1L1345.0 526.1L1346.5 526.1L1348.0 526.1L1349.5 526.1L1351.0 526.1L1352.5 526.1L1354.0 526.1L1355.5 526.1L1357.0 526.1L1358.5 526.1L1360.0 526.1L1361.5 526.1L1363.0 526.1L1364.5 526.1L1366.0 526.1L1367.5 526.1L1369.0 526.1L1370.5 526.1L1372.0 526.1L1373.5 526.1L1375.0 526.1L1376.5 526.1L1378.0 526.1L1379.5 526.1L1381.0 526.1L1382.5 526.2L1384.0 526.1L1385.5 526.1L1387.0 526.1L1388.5 526.1L1390.0 526.1L1391.5 526.1L1393.0 526.1L1394.5 526.2L1396.0 526.2L1397.5 526.2L1399.0 526.1L1400.5 526.1L1402.0 526.1L1403.5 526.2L1405.0 526.2L1406.5 526.2L1408.0 526.2L1409.5 526.2L1411.0 526.2L1412.5 526.2L1414.0 526.2L1415.5 526.2L1417.0 526.2L1418.5 526.2L1420.0 526.2L1421.5 526.2L1423.0 526.2L1424.5 526.2L1426.0 526.2L1427.5 526.2L1429.0 526.2L1430.5 526.2L1432.0 526.2L1433.5 526.2L1435.0 526.2L1436.5 526.2L1438.0 526.2L1439.5 526.2L1441.0 526.2L1442.5 526.2L1444.0 526.2L1445.5 526.2L1447.0 526.2L1448.5 526.2L1450.0 526.2L1451.5 526.2L1453.0 526.2L1454.5 526.2L1456.0 526.2L1457.5 526.2L1459.0 526.2L1460.5 526.2L1462.0 526.2L1463.5 526.2L1465.0 526.2L1466.5 526.2L1468.0 526.2L1469.5 526.3L1471.0 526.3L1472.5 526.3L1474.0 526.3L1475.5 526.3L1477.0 526.5L1478.5 526.7L1480.0 526.9L1481.5 527.2L1483.0 527.4L1484.5 527.6L1486.0 527.7L1487.5 528.0L1489.0 528.1L1490.5 528.2L1492.0 528.4L1493.5 528.4L1495.0 528.5L1496.5 528.5L1498.0 528.6L1499.5 528.7L1501.0 528.9L1502.5 529.0L1504.0 529.2L1505.5 529.3L1507.0 529.5L1508.5 529.6L1510.0 529.8L1511.5 529.9L1513.0 530.1L1514.5 530.2L1516.0 530.4L1517.5 530.5L1519.0 530.6L1520.5 530.7L1522.0 530.9L1523.5 531.1L1525.0 531.3L1526.5 531.5L1528.0 531.7L1529.5 531.9L1531.0 532.1L1532.5 532.3L1534.0 532.5L1535.5 532.7L1537.0 532.9L1538.5 533.0L1540.0 533.1L1541.5 533.1L1543.0 533.2L1544.5 533.3L1546.0 533.4L1547.5 533.5L1549.0 533.5L1550.5 533.5L1552.0 533.5L1553.5 533.5L1555.0 533.5L1556.5 533.4L1558.0 533.4L1559.5 533.4L1561.0 533.3L1562.5 533.3L1564.0 533.3L1565.5 533.2L1567.0 533.2L1568.5 533.2L1570.0 533.2L1571.5 533.2L1573.0 533.2L1574.5 533.1L1576.0 533.0L1576.3 533.0" fill="none" stroke="#505656" stroke-width="1.05" stroke-opacity="0.80"/>
<path d="M565.0 525.6L1086.7 525.6" stroke="#e0662a" stroke-width="1.4" fill="none"/>
<path d="M1086.7 525.6L1576.3 525.6" stroke="#666" stroke-width="1" fill="none"/>
<path d="M565.0 373.8L566.5 372.4L568.0 370.9L569.5 369.7L571.0 368.6L572.5 367.8L574.0 367.0L575.5 366.0L577.0 364.9L578.5 364.7L580.0 364.9L581.5 365.2L583.0 365.7L584.5 365.9L586.0 366.2L587.5 366.5L589.0 366.9L590.5 367.3L592.0 367.5L593.5 367.4L595.0 367.1L596.5 366.6L598.0 366.5L599.5 366.7L601.0 367.0L602.5 367.3L604.0 367.7L605.5 368.4L607.0 368.8L608.5 369.1L610.0 369.4L611.5 370.3L613.0 371.6L614.5 372.6L616.0 373.5L617.5 373.9L619.0 374.3L620.5 375.0L622.0 375.9L623.5 376.6L625.0 377.0L626.5 377.5L628.0 377.9L629.5 378.2L631.0 378.9L632.5 379.7L634.0 380.8L635.5 381.7L637.0 382.4L638.5 383.0L640.0 383.8L641.5 384.9L643.0 385.6L644.5 385.6L646.0 385.5L647.5 385.5L649.0 385.8L650.5 385.9L652.0 386.3L653.5 386.7L655.0 387.4L656.5 388.5L658.0 389.4L659.5 390.1L661.0 390.5L662.5 390.7L664.0 391.2L665.5 391.9L667.0 392.4L668.5 392.8L670.0 393.1L671.5 393.3L673.0 393.6L674.5 393.9L676.0 394.0L677.5 394.1L679.0 394.0L680.5 394.1L682.0 394.4L683.5 394.6L685.0 395.0L686.5 395.6L688.0 396.4L689.5 397.4L691.0 398.2L692.5 398.9L694.0 398.8L695.5 398.9L697.0 398.8L698.5 398.7L700.0 398.7L701.5 398.6L703.0 398.8L704.5 398.9L706.0 399.0L707.5 399.2L709.0 399.6L710.5 399.8L712.0 400.0L713.5 400.0L715.0 400.3L716.5 400.7L718.0 401.0L719.5 401.3L721.0 401.7L722.5 402.2L724.0 402.5L725.5 402.8L727.0 402.8L728.5 402.9L730.0 403.3L731.5 403.7L733.0 404.3L734.5 404.8L736.0 404.9L737.5 405.1L739.0 405.6L740.5 405.9L742.0 406.3L743.5 406.3L745.0 405.8L746.5 405.5L748.0 405.1L749.5 404.9L751.0 405.2L752.5 405.6L754.0 405.9L755.5 405.8L757.0 405.8L758.5 405.8L760.0 406.2L761.5 406.4L763.0 406.5L764.5 406.7L766.0 406.9L767.5 407.2L769.0 407.0L770.5 406.8L772.0 406.5L773.5 406.2L775.0 406.0L776.5 406.4L778.0 406.9L779.5 407.2L781.0 407.3L782.5 407.2L784.0 407.2L785.5 407.3L787.0 407.6L788.5 408.1L790.0 408.4L791.5 408.7L793.0 408.7L794.5 408.7L796.0 408.6L797.5 408.4L799.0 408.4L800.5 408.1L802.0 407.9L803.5 407.7L805.0 407.5L806.5 407.7L808.0 407.3L809.5 407.4L811.0 407.6L812.5 407.8L814.0 408.3L815.5 408.1L817.0 407.7L818.5 407.5L820.0 407.5L821.5 407.7L823.0 407.9L824.5 408.0L826.0 408.2L827.5 408.4L829.0 408.4L830.5 408.4L832.0 407.7L833.5 407.1L835.0 406.7L836.5 406.5L838.0 406.5L839.5 406.4L841.0 405.9L842.5 405.6L844.0 405.4L845.5 405.1L847.0 404.5L848.5 404.1L850.0 404.1L851.5 403.8L853.0 403.4L854.5 403.0L856.0 402.5L857.5 402.2L859.0 401.9L860.5 401.0L862.0 399.6L863.5 398.4L865.0 397.2L866.5 396.0L868.0 395.0L869.5 393.8L871.0 392.6L872.5 391.6L874.0 390.8L875.5 390.0L877.0 389.3L878.5 388.4L880.0 387.7L881.5 387.0L883.0 386.4L884.5 386.1L886.0 385.6L887.5 385.1L889.0 384.3L890.5 383.4L892.0 382.7L893.5 382.1L895.0 381.5L896.5 380.7L898.0 379.7L899.5 378.9L901.0 378.3L902.5 377.7L904.0 377.0L905.5 376.0L907.0 375.0L908.5 374.2L910.0 373.5L911.5 373.0L913.0 372.5L914.5 371.9L916.0 371.3L917.5 370.5L919.0 370.1L920.5 369.6L922.0 369.1L923.5 368.7L925.0 367.8L926.5 367.3L928.0 366.7L929.5 366.1L931.0 365.6L932.5 364.8L934.0 364.3L935.5 363.9L937.0 363.3L938.5 362.9L940.0 362.2L941.5 361.5L943.0 361.2L944.5 361.0L946.0 361.0L947.5 361.2L949.0 361.1L950.5 361.1L952.0 361.2L953.5 361.4L955.0 361.9L956.5 362.2L958.0 362.6L959.5 363.0L961.0 363.0L962.5 363.0L964.0 363.0L965.5 363.0L967.0 363.3L968.5 363.4L970.0 363.4L971.5 363.5L973.0 363.5L974.5 363.6L976.0 363.7L977.5 363.7L979.0 364.0L980.5 364.3L982.0 365.1L983.5 365.7L985.0 366.3L986.5 366.4L988.0 366.4L989.5 366.6L991.0 366.6L992.5 366.4L994.0 366.2L995.5 366.3L997.0 366.7L998.5 367.0L1000.0 367.4L1001.5 367.5L1003.0 367.7L1004.5 368.0L1006.0 368.2L1007.5 368.3L1009.0 368.8L1010.5 369.1L1012.0 369.5L1013.5 370.0L1015.0 370.4L1016.5 370.1L1018.0 369.9L1019.5 369.8L1021.0 369.7L1022.5 369.6L1024.0 369.9L1025.5 370.3L1027.0 370.4L1028.5 370.6L1030.0 371.0L1031.5 372.2L1033.0 373.5L1034.5 374.7L1036.0 375.6L1037.5 376.1L1039.0 373.1L1040.5 370.1L1042.0 369.1L1043.5 370.3L1045.0 371.6L1046.5 372.5L1048.0 373.1L1049.5 373.7L1051.0 374.3L1052.5 374.8L1054.0 374.8L1055.5 375.0L1057.0 374.9L1058.5 375.1L1060.0 375.1L1061.5 375.6L1063.0 376.3L1064.5 376.8L1066.0 377.4L1067.5 378.0L1069.0 377.7L1070.5 377.5L1072.0 377.5L1073.5 376.0L1075.0 373.5L1076.5 373.7L1078.0 374.1L1079.5 374.8L1081.0 375.0L1082.5 374.9L1084.0 374.6L1085.5 374.4L1086.7 372.8L1089.7 434.9L1091.5 445.5L1093.0 448.5L1094.5 451.6L1096.0 453.1L1097.5 453.9L1099.0 454.6L1100.5 455.3L1102.0 456.3L1103.5 457.3L1105.0 458.3L1106.5 459.3L1108.0 460.1L1109.5 460.6L1111.0 461.0L1112.5 461.4L1114.0 461.8L1115.5 462.1L1117.0 462.0L1118.5 462.0L1120.0 462.1L1121.5 462.2L1123.0 462.4L1124.5 462.6L1126.0 462.7L1127.5 462.5L1129.0 462.2L1130.5 461.9L1132.0 461.5L1133.5 461.3L1135.0 461.1L1136.5 461.1L1138.0 461.1L1139.5 460.9L1141.0 460.8L1142.5 460.6L1144.0 460.5L1145.5 460.3L1147.0 460.2L1148.5 460.0L1150.0 459.8L1151.5 459.7L1153.0 459.5L1154.5 459.4L1156.0 459.3L1157.5 459.1L1159.0 458.9L1160.5 458.8L1162.0 458.5L1163.5 458.3L1165.0 458.0L1166.5 457.8L1168.0 457.6L1169.5 457.3L1171.0 457.0L1172.5 456.7L1174.0 456.5L1175.5 456.3L1177.0 456.1L1178.5 456.1L1180.0 455.8L1181.5 455.6L1183.0 455.2L1184.5 454.9L1186.0 454.8L1187.5 454.6L1189.0 454.4L1190.5 454.2L1192.0 453.9L1193.5 453.9L1195.0 454.0L1196.5 454.0L1198.0 454.1L1199.5 454.2L1201.0 454.2L1202.5 454.3L1204.0 454.4L1205.5 454.6L1207.0 454.9L1208.5 455.1L1210.0 455.3L1211.5 455.1L1213.0 454.9L1214.5 454.7L1216.0 454.4L1217.5 454.3L1219.0 454.1L1220.5 453.9L1222.0 453.7L1223.5 453.5L1225.0 453.4L1226.5 453.3L1228.0 453.2L1229.5 453.1L1231.0 453.0L1232.5 452.8L1234.0 452.7L1235.5 452.6L1237.0 452.1L1238.5 451.8L1240.0 451.4L1241.5 451.1L1243.0 450.8L1244.5 450.3L1246.0 449.9L1247.5 449.6L1249.0 449.2L1250.5 449.0L1252.0 448.7L1253.5 448.3L1255.0 448.0L1256.5 447.6L1258.0 447.3L1259.5 447.1L1261.0 446.3L1262.5 445.4L1264.0 444.5L1265.5 443.7L1267.0 443.0L1268.5 442.4L1270.0 441.9L1271.5 441.3L1273.0 440.8L1274.5 440.3L1276.0 439.9L1277.5 439.7L1279.0 439.4L1280.5 439.1L1282.0 438.9L1283.5 438.7L1285.0 438.5L1286.5 438.2L1288.0 437.8L1289.5 437.5L1291.0 437.2L1292.5 436.9L1294.0 436.6L1295.5 436.3L1297.0 436.1L1298.5 435.8L1300.0 435.5L1301.5 435.2L1303.0 434.7L1304.5 434.4L1306.0 434.0L1307.5 433.7L1309.0 433.4L1310.5 433.0L1312.0 432.8L1313.5 432.4L1315.0 432.0L1316.5 431.7L1318.0 431.3L1319.5 431.0L1321.0 430.8L1322.5 430.5L1324.0 430.2L1325.5 430.0L1327.0 429.8L1328.5 429.8L1330.0 429.6L1331.5 429.4L1333.0 429.2L1334.5 429.0L1336.0 428.9L1337.5 428.7L1339.0 427.9L1340.5 427.2L1342.0 426.4L1343.5 425.6L1345.0 424.9L1346.5 424.5L1348.0 424.2L1349.5 423.8L1351.0 425.7L1352.5 428.9L1354.0 428.9L1355.5 427.3L1357.0 425.6L1358.5 424.2L1360.0 423.0L1361.5 421.7L1363.0 420.4L1364.5 419.1L1366.0 418.1L1367.5 417.4L1369.0 416.6L1370.5 416.1L1372.0 416.3L1373.5 416.6L1375.0 417.0L1376.5 417.2L1378.0 417.3L1379.5 417.3L1381.0 417.4L1382.5 417.6L1384.0 417.8L1385.5 418.1L1387.0 418.3L1388.5 418.5L1390.0 418.6L1391.5 418.4L1393.0 418.1L1394.5 417.8L1396.0 417.6L1397.5 417.4L1399.0 417.3L1400.5 417.0L1402.0 416.6L1403.5 416.0L1405.0 415.6L1406.5 415.2L1408.0 414.8L1409.5 414.5L1411.0 414.1L1412.5 413.8L1414.0 413.5L1415.5 413.1L1417.0 412.8L1418.5 412.4L1420.0 412.1L1421.5 411.6L1423.0 411.3L1424.5 411.5L1426.0 411.8L1427.5 412.1L1429.0 412.4L1430.5 412.7L1432.0 412.7L1433.5 412.7L1435.0 412.7L1436.5 412.8L1438.0 413.0L1439.5 413.0L1441.0 412.8L1442.5 412.6L1444.0 412.4L1445.5 412.4L1447.0 412.4L1448.5 412.3L1450.0 412.2L1451.5 411.9L1453.0 411.6L1454.5 411.3L1456.0 406.7L1457.5 399.9L1459.0 399.4L1460.5 398.9L1462.0 398.3L1463.5 398.0L1465.0 398.0L1466.5 397.9L1468.0 397.8L1469.5 397.8L1471.0 397.6L1472.5 397.5L1474.0 398.1L1475.5 398.8L1477.0 399.4L1478.5 400.3L1480.0 401.3L1481.5 402.4L1483.0 403.1L1484.5 403.5L1486.0 403.9L1487.5 404.2L1489.0 404.6L1490.5 405.1L1492.0 405.6L1493.5 406.0L1495.0 406.4L1496.5 406.7L1498.0 407.0L1499.5 407.5L1501.0 407.6L1502.5 407.7L1504.0 407.8L1505.5 407.8L1507.0 407.9L1508.5 407.7L1510.0 407.4L1511.5 407.1L1513.0 406.7L1514.5 406.4L1516.0 406.1L1517.5 405.9L1519.0 405.7L1520.5 405.5L1522.0 405.4L1523.5 405.2L1525.0 405.0L1526.5 404.9L1528.0 404.8L1529.5 404.7L1531.0 404.7L1532.5 404.8L1534.0 404.8L1535.5 404.7L1537.0 404.5L1538.5 404.2L1540.0 403.9L1541.5 403.6L1543.0 403.4L1544.5 403.0L1546.0 403.6L1547.5 404.7L1549.0 405.8L1550.5 406.6L1552.0 407.0L1553.5 407.4L1555.0 407.7L1556.5 406.3L1558.0 405.0L1559.5 404.6L1561.0 405.0L1562.5 405.4L1564.0 405.8L1565.5 406.1L1567.0 406.0L1568.5 405.9L1570.0 405.7L1571.5 405.8L1573.0 405.8L1574.5 405.8L1576.0 405.8L1576.3 405.6" fill="none" stroke="#ffff00" stroke-width="1.9" stroke-linejoin="round"/>
<line x1="563.2" x2="1577.2" y1="644.6" y2="644.6" stroke="#8a8a8a" stroke-width="1.5"/>
<line x1="598.25" x2="598.25" y1="644.5" y2="652.5" stroke="#777" stroke-width="1.2"/>
<text transform="translate(598.25 660.6) scale(1.045 1)" text-anchor="middle" class="ax">22</text>
<line x1="665.64" x2="665.64" y1="644.5" y2="652.5" stroke="#777" stroke-width="1.2"/>
<text transform="translate(665.64 660.6) scale(1.045 1)" text-anchor="middle" class="ax">00</text>
<line x1="733.03" x2="733.03" y1="644.5" y2="652.5" stroke="#777" stroke-width="1.2"/>
<text transform="translate(733.03 660.6) scale(1.045 1)" text-anchor="middle" class="ax">02</text>
<line x1="800.43" x2="800.43" y1="644.5" y2="652.5" stroke="#777" stroke-width="1.2"/>
<text transform="translate(800.43 660.6) scale(1.045 1)" text-anchor="middle" class="ax">04</text>
<line x1="867.82" x2="867.82" y1="644.5" y2="652.5" stroke="#777" stroke-width="1.2"/>
<text transform="translate(867.82 660.6) scale(1.045 1)" text-anchor="middle" class="ax">06</text>
<line x1="935.21" x2="935.21" y1="644.5" y2="652.5" stroke="#777" stroke-width="1.2"/>
<text transform="translate(935.21 660.6) scale(1.045 1)" text-anchor="middle" class="ax">08</text>
<line x1="1002.60" x2="1002.60" y1="644.5" y2="652.5" stroke="#777" stroke-width="1.2"/>
<text transform="translate(1002.60 660.6) scale(1.045 1)" text-anchor="middle" class="ax">10</text>
<line x1="1069.99" x2="1069.99" y1="644.5" y2="652.5" stroke="#777" stroke-width="1.2"/>
<text transform="translate(1069.99 660.6) scale(1.045 1)" text-anchor="middle" class="ax">12</text>
<line x1="1137.39" x2="1137.39" y1="644.5" y2="652.5" stroke="#777" stroke-width="1.2"/>
<text transform="translate(1137.39 660.6) scale(1.045 1)" text-anchor="middle" class="ax">14</text>
<line x1="1204.78" x2="1204.78" y1="644.5" y2="652.5" stroke="#777" stroke-width="1.2"/>
<text transform="translate(1204.78 660.6) scale(1.045 1)" text-anchor="middle" class="ax">16</text>
<line x1="1272.17" x2="1272.17" y1="644.5" y2="652.5" stroke="#777" stroke-width="1.2"/>
<text transform="translate(1272.17 660.6) scale(1.045 1)" text-anchor="middle" class="ax">18</text>
<line x1="1339.56" x2="1339.56" y1="644.5" y2="652.5" stroke="#777" stroke-width="1.2"/>
<text transform="translate(1339.56 660.6) scale(1.045 1)" text-anchor="middle" class="ax">20</text>
<line x1="1406.95" x2="1406.95" y1="644.5" y2="652.5" stroke="#777" stroke-width="1.2"/>
<text transform="translate(1406.95 660.6) scale(1.045 1)" text-anchor="middle" class="ax">22</text>
<line x1="1474.35" x2="1474.35" y1="644.5" y2="652.5" stroke="#777" stroke-width="1.2"/>
<text transform="translate(1474.35 660.6) scale(1.045 1)" text-anchor="middle" class="ax">00</text>
<line x1="1541.74" x2="1541.74" y1="644.5" y2="652.5" stroke="#777" stroke-width="1.2"/>
<text transform="translate(1541.74 660.6) scale(1.045 1)" text-anchor="middle" class="ax">02</text>
<text transform="translate(550.9 50.9) scale(1.045 1)" text-anchor="end" class="ax">80000</text>
<text transform="translate(550.9 110.1) scale(1.045 1)" text-anchor="end" class="ax">70000</text>
<text transform="translate(550.9 169.4) scale(1.045 1)" text-anchor="end" class="ax">60000</text>
<text transform="translate(550.9 228.9) scale(1.045 1)" text-anchor="end" class="ax">50000</text>
<text transform="translate(550.9 288.9) scale(1.045 1)" text-anchor="end" class="ax">40000</text>
<text transform="translate(550.9 348.3) scale(1.045 1)" text-anchor="end" class="ax">30000</text>
<text transform="translate(550.9 408.1) scale(1.045 1)" text-anchor="end" class="ax">20000</text>
<text transform="translate(550.9 467.5) scale(1.045 1)" text-anchor="end" class="ax">10000</text>
<text transform="translate(550.9 527.2) scale(1.045 1)" text-anchor="end" class="ax">0</text>
<text transform="translate(550.9 586.9) scale(1.045 1)" text-anchor="end" class="ax">−10000</text>
<text transform="translate(550.9 647.6) scale(1.045 1)" text-anchor="end" class="ax">−20000</text>
<text class="yt" transform="translate(506.3 346) rotate(-90)" text-anchor="middle" textLength="231.5" lengthAdjust="spacingAndGlyphs">Generación y almacenamiento acumulado (MW)</text>
<line x1="1086.7" x2="1086.7" y1="50" y2="645.3" stroke="#000" stroke-width="1.6"/>
</svg>
<div class="tip">12:30</div>
<div class="btn on" style="left:1436.7px"></div>
<div class="btn" style="left:1478.9px"></div>
<div class="btn" style="left:1521.2px"></div>
<svg width="1600" height="713" viewBox="0 0 1600 713" style="pointer-events:none">
<g fill="#000">
<rect x="1449.8" y="62" width="6.5" height="4.1"/>
<rect x="1444.5" y="74.6" width="6.6" height="4.1"/>
<rect x="1454.8" y="74.6" width="6.8" height="4.1"/>
<path d="M1453.05 66v2.6M1453.05 68.7L1451.6 69.4H1449.2L1447.7 71.6M1453.05 68.7L1454.5 69.4H1456.9L1458.2 71.6" fill="none" stroke="#000" stroke-width="0.9"/>
<circle cx="1447.7" cy="71.8" r="0.95"/><circle cx="1458.2" cy="71.8" r="0.95"/>
</g>
<g fill="#000" stroke="none">
<path d="M1494.4 79.6L1494.8 69.2L1494 66.5L1494.3 62.5L1495.4 60.3L1496.1 62L1496.2 69.2L1496.7 79.6Z"/>
<path d="M1495.3 67.6C1492.3 67.8 1488.8 69.2 1486.3 72.4C1489.3 71.4 1492.4 71 1495.2 70.6Z"/>
<path d="M1495.5 67.6C1498.7 67.7 1502 69 1504 72.1C1501.2 71.2 1498.3 70.8 1495.6 70.6Z"/>
<path d="M1489.8 79.6L1489.95 71.6L1490.6 71.6L1490.8 79.6Z"/>
<path d="M1490.3 75C1488.8 75 1487.3 75.5 1486.1 76.6C1487.5 76.3 1489 76.1 1490.3 76Z"/>
<path d="M1490.4 75C1491.8 75 1493 75.6 1493.8 76.8C1492.7 76.4 1491.6 76.1 1490.4 76Z"/>
<path d="M1500.2 79.6L1500.35 71.6L1501 71.6L1501.2 79.6Z"/>
<path d="M1500.7 75C1499.3 75 1498.2 75.5 1497.4 76.6C1498.5 76.3 1499.6 76.1 1500.7 76Z"/>
<path d="M1500.8 75C1502.3 75 1503.8 75.6 1504.9 76.8C1503.5 76.4 1502.1 76.1 1500.8 76Z"/>
</g>
<g>
<path d="M1531.8 79.6V71.8L1534 69.4L1535.4 71.7L1538 69.4L1539.4 71.7L1541.5 69.3L1542.7 71.2V66.2H1544.4V79.6Z" fill="#1c1c1c"/>
<rect x="1533.3" y="73.9" width="3.4" height="2.6" fill="#9a9a9a"/><rect x="1538" y="73.9" width="3" height="2.6" fill="#8a8a8a"/>
<path d="M1535 73.9v2.6M1533.3 75.2h3.4M1539.5 73.9v2.6M1538 75.2h3" stroke="#2a2a2a" stroke-width="0.5" fill="none"/>
<ellipse cx="1541.7" cy="63" rx="2.6" ry="2.9" fill="none" stroke="#b5b5b5" stroke-width="0.7"/>
</g>
</svg>
</body></html>
